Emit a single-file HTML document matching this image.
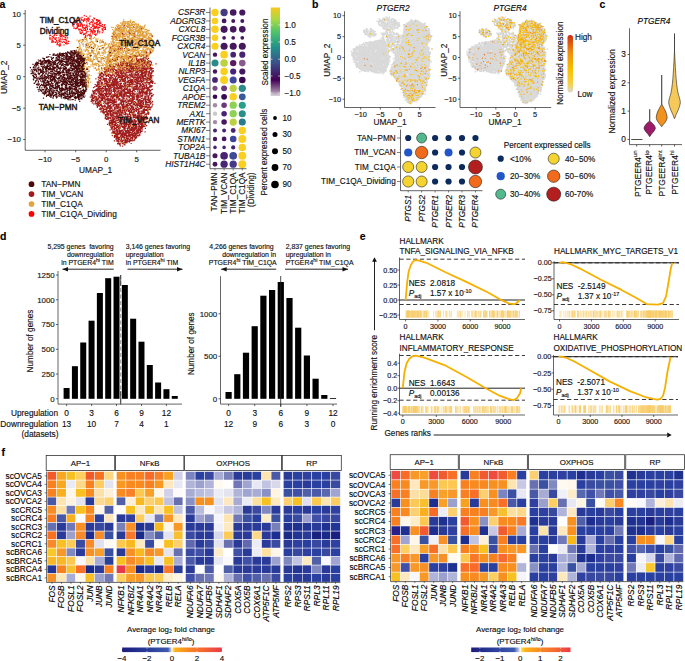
<!DOCTYPE html>
<html><head><meta charset="utf-8"><style>
html,body{margin:0;padding:0;background:#fff;width:685px;height:661px;overflow:hidden}
svg{display:block}
text{font-family:"Liberation Sans", sans-serif;stroke:#111;stroke-width:0.15px}
</style></head><body>
<svg width="685" height="661" viewBox="0 0 685 661" font-family='"Liberation Sans", sans-serif'>
<rect width="685" height="661" fill="#fff"/>
<text x="-0.60" y="7.76" font-size="10.5" font-weight="bold">a</text>
<path transform="scale(.1)" stroke="#e2a23e" stroke-width="12" stroke-linecap="square" fill="none" d="M880 348h0m-36 34h0m1-8h0m18 10h0m2 5h0m35-3h0m2-6h0m0 0h0m2 5h0m1 3h0m6-13h0m6 7h0m20 2h0m8-10h0m16 15h0m19 0h0m47 11h0m-10 9h0m-13-7h0m-5 9h0m-26-1h0m-4-9h0m-1 18h0m-5-4h0m-3-1h0m-2-14h0m-36 16h0m-7-17h0m-4 0h0m-1 17h0m-39-5h0m-2-13h0m-10-1h0m-8 22h0m-1-25h0m-14 9h0m-8-2h0m0 15h0m-1-1h0m-9-15h0m-12 0h0m-7 1h0m-3 13h0m-1-9h0m-10 4h0m-1 10h0m-14-18h0m25 33h0m4 15h0m14-27h0m4 6h0m39 15h0m10-6h0m0 5h0m2-8h0m12-2h0m6 9h0m10-12h0m9-2h0m2 18h0m2 1h0m10-4h0m6-18h0m6-2h0m3 12h0m10 6h0m13 7h0m13-27h0m28 7h0m2 3h0m14-5h0m1-1h0m8-4h0m4 0h0m3 4h0m9 5h0m8 12h0m3 5h0m6-17h0m2 7h0m11 8h0m19 3h0m2-3h0m4-8h0m22 4h0m3 31h0m-11 0h0m-10-3h0m-4 1h0m-2-3h0m-2-5h0m-2 2h0m-4-10h0m-4 18h0m-3 5h0m-28-22h0m-6 0h0m-2 14h0m-10 7h0m-1 3h0m-4-24h0m-13 2h0m-10 8h0m-18 3h0m-6-9h0m-24 1h0m0-3h0m-2 2h0m-5 13h0m-5-19h0m-6 11h0m-12 15h0m-7-1h0m-2-8h0m-12-10h0m-8 17h0m-10 3h0m-2-4h0m-1-22h0m-6 0h0m-3 18h0m-2 4h0m-12-17h0m-1 14h0m-5-22h0m-21 11h0m-30 17h0m-3-17h0m-11 8h0m-4 6h0m-9 3h0m-6-1h0m16 32h0m3-13h0m5-10h0m1 11h0m6-7h0m13 4h0m3 10h0m22-5h0m15 4h0m9-14h0m1 0h0m1 8h0m4 8h0m7-11h0m8 14h0m3-1h0m5-27h0m17 2h0m7 19h0m5 7h0m3-21h0m15-6h0m3 23h0m24-14h0m0 1h0m0 17h0m2 1h0m10-27h0m19 5h0m11 6h0m8-11h0m13 1h0m1 0h0m2-2h0m3 20h0m2 1h0m3 4h0m11-8h0m4-9h0m9-3h0m0-6h0m31 12h0m5-2h0m6 19h0m6-22h0m2 27h0m-5 23h0m-3-10h0m-14-4h0m0-6h0m-1-6h0m0 3h0m-4 20h0m-3-20h0m-1 1h0m-25 8h0m-4 1h0m-4 13h0m-1-23h0m-7-3h0m-8 27h0m-4-5h0m-5-2h0m-4 1h0m-1-10h0m-24 12h0m-2-12h0m-7 4h0m-2 12h0m-1-22h0m-8 18h0m-3-5h0m-22 8h0m-9 0h0m-5-25h0m0 26h0m-2-12h0m-2 4h0m-10-19h0m-2 10h0m-1 6h0m-2-8h0m-5 5h0m-5 10h0m-8-2h0m-1 6h0m-4-2h0m-4-9h0m0 0h0m-3 10h0m-9-18h0m-9 20h0m-15-28h0m-2 2h0m-14 20h0m-16-1h0m-4-15h0m-4-1h0m-1 10h0m-2 5h0m-8 3h0m-1-17h0m-1-7h0m-11 9h0m-1 17h0m-6-10h0m-12-4h0m-7 3h0m-2 13h0m-20-11h0m21 29h0m27-12h0m3 18h0m1-5h0m9-12h0m12 17h0m1-15h0m4 18h0m2-23h0m15 26h0m6-23h0m2 2h0m26 5h0m5 17h0m6-23h0m14 10h0m4 4h0m2-6h0m0 12h0m4-14h0m38 6h0m6 1h0m0 5h0m4 0h0m3-16h0m0 21h0m6-8h0m8-12h0m3-7h0m23-2h0m5 17h0m20-2h0m21 12h0m30 2h0m4-11h0m2-9h0m0 2h0m3 6h0m1 9h0m6-25h0m4 4h0m1 2h0m3 10h0m4-1h0m24 33h0m-18 5h0m-20-4h0m-1-16h0m-3 4h0m-1 20h0m-2-7h0m-5-3h0m-3-9h0m-4 15h0m-7-23h0m-4 3h0m-5 14h0m-1-3h0m-22-8h0m-5 10h0m-4-12h0m-1 16h0m-3-14h0m-2 19h0m-2-3h0m-2-4h0m0-10h0m-15-2h0m-1-1h0m-4-1h0m-15 3h0m-1 14h0m-1-4h0m-9-16h0m-2 19h0m-3-16h0m-1 9h0m-14 11h0m-9-24h0m-1 24h0m-2-7h0m-17 11h0m-9-15h0m-3 7h0m-12-12h0m-3 14h0m-5-21h0m0 27h0m-2-16h0m-4 7h0m-4-17h0m-2 22h0m-1-22h0m-6 24h0m-3-25h0m-7 6h0m-6 11h0m-4-9h0m-18-3h0m0-6h0m-6 8h0m-4 20h0m-6-1h0m0-4h0m-1-10h0m-30 11h0m8 20h0m9-2h0m4 12h0m7-12h0m16-7h0m3 4h0m9-8h0m1 7h0m7 8h0m1-17h0m10 1h0m10 1h0m11 27h0m4-22h0m2-6h0m13 1h0m6 11h0m5 1h0m2 1h0m0-10h0m4-3h0m5 13h0m6 7h0m3-7h0m1-3h0m1-3h0m2-2h0m47-7h0m1 11h0m5 0h0m7 13h0m9-13h0m9 9h0m1 9h0m3-18h0m29 1h0m2-6h0m14 22h0m4-13h0m3-5h0m2 8h0m5-4h0m0 12h0m5-23h0m2 7h0m7 12h0m6 7h0m1-4h0m1 3h0m13-11h0m3 2h0m6 7h0m-20 4h0m-1 26h0m-12 3h0m-11-23h0m-1 16h0m-4-16h0m-10 16h0m-13-5h0m-10 9h0m-2-23h0m-3 22h0m-3-1h0m-1-6h0m-1 9h0m-9-25h0m-5 25h0m-18 0h0m-5-13h0m-10-7h0m-10 19h0m0-19h0m-5 11h0m-1-5h0m-7-11h0m-1 17h0m-5-11h0m-2 12h0m-9-7h0m-7 6h0m-1-17h0m-2 6h0m-16 10h0m-37-4h0m-13-9h0m-8-3h0m-10 24h0m-1 2h0m-1-12h0m-7-8h0m-2 0h0m-1 9h0m-7-7h0m-2 13h0m-6-20h0m-1 9h0m-4 10h0m-18 14h0m13 19h0m1-10h0m1 13h0m0-5h0m9-5h0m18 11h0m0-20h0m1 7h0m9-16h0m0 18h0m5-15h0m16 25h0m3-14h0m5 10h0m4 4h0m7-19h0m4-1h0m10 1h0m2-3h0m30-3h0m10 17h0m13 6h0m1-10h0m29 11h0m2-6h0m29-1h0m2 1h0m14 6h0m4-6h0m13-4h0m7 3h0m0-9h0m18-3h0m10 18h0m-10 4h0m-4 6h0m-2 1h0m-6 1h0m-10 5h0m-3 13h0m-2-25h0m-11 23h0m-13-9h0m-3-8h0m-19 20h0m0-5h0m-2-2h0m-1 3h0m-3-18h0m-1-3h0m-10 7h0m-16 4h0m-1-10h0m-85 1h0m-1 22h0m-21-7h0m-10-12h0m-7 6h0m-2 15h0m-19-16h0m-1-4h0m-6-1h0m-4 15h0m10 9h0m4 9h0m16 11h0m2-5h0m5-16h0m9 14h0m18-13h0m5 20h0m0 7h0m16 1h0m88-18h0m17-8h0m2 3h0m4 18h0m4-12h0m3 10h0m7-16h0m-108 29h0m-21 1h0m-5 21h0m-1-5h0m-3 5h0m-3-9h0m-5 2h0m-21 5h0m-3-11h0m-14 8h0m0 1h0m-8-22h0m-12 46h0m3-3h0m0 15h0m13-9h0m14 6h0m1-6h0m2 3h0m8-9h0m8 2h0m7-13h0m2 26h0m8-2h0m3-5h0m5-16h0m7 3h0m1-4h0m9 36h0m-20 10h0m-2-9h0m-24-3h0m-2-8h0m-11 5h0m-7 14h0m-10-8h0m-2 9h0m-4 2h0m5 10h0m10 2h0m2 10h0m15-6h0m0 13h0m3-17h0m1 8h0m12 1h0m12-3h0m1 18h0m-15 12h0m-11 17h0m-27-15h0"/>
<path transform="scale(.1)" stroke="#ff1010" stroke-width="12" stroke-linecap="square" fill="none" d="M900 162h0m-20 17h0m-17-15h0m-20-8h0m-23 18h0m-20 4h0m-66 8h0m9 11h0m8 10h0m7-2h0m0 2h0m6 2h0m28-13h0m7-5h0m17 1h0m2 4h0m0 4h0m1 6h0m14-4h0m11-8h0m4 9h0m1-18h0m16 13h0m3-9h0m2-1h0m0 12h0m9 1h0m4-14h0m6-6h0m4 16h0m29-2h0m7 12h0m10-25h0m3 8h0m2-7h0m3 0h0m18 23h0m0-11h0m4 10h0m9-8h0m9 8h0m7 0h0m2-1h0m12 27h0m-3 5h0m-5-18h0m-4 10h0m-3 9h0m-3 2h0m-4-24h0m-2-1h0m-5-3h0m-5 11h0m-3 5h0m-2 5h0m-6-6h0m-5 7h0m-13-3h0m-2 7h0m-8-26h0m-9 18h0m-6-13h0m-6 2h0m-5 5h0m-10 8h0m-6 4h0m-9-24h0m-18 8h0m-30-5h0m-18 17h0m-6 2h0m-1 5h0m-10-28h0m-3 16h0m-10 12h0m-9-28h0m-3 10h0m0 17h0m-4-1h0m-1-15h0m-8-3h0m-2-6h0m-8 11h0m-1-12h0m-3 12h0m-3-13h0m-4 1h0m-1 26h0m-11-8h0m-1 1h0m-23-7h0m22 28h0m1 8h0m40-15h0m1 16h0m3-13h0m2 11h0m5-1h0m1 7h0m4 0h0m1-12h0m15 12h0m1-9h0m3 1h0m3-10h0m2-4h0m12 4h0m1 23h0m2-13h0m16-1h0m1-6h0m22 8h0m6-16h0m2 19h0m3 8h0m17-7h0m8-16h0m25 3h0m2 15h0m3-10h0m5-5h0m7 20h0m2-7h0m19 5h0m1-17h0m3 19h0m1-23h0m4 6h0m5-6h0m6 1h0m12 8h0m10 2h0m5 0h0m1 5h0m9 1h0m3-16h0m2 1h0m1 18h0m17-8h0m5-12h0m7 48h0m-1-12h0m-1-10h0m-6 23h0m-5-21h0m-10 5h0m-4 10h0m-5 10h0m-3-9h0m-23-15h0m-6-2h0m-7-1h0m-1 9h0m-4 7h0m-1-9h0m-15 0h0m-7-8h0m-3 14h0m-1-13h0m-7 11h0m-2 0h0m-2-10h0m-7 27h0m-3-13h0m-17-13h0m-4 4h0m-4 20h0m-5-3h0m-3 3h0m-1-7h0m-22 4h0m-1-9h0m-10-11h0m-7 20h0m-1-23h0m-2 21h0m0 4h0m-1-16h0m-10 3h0m-5-9h0m-4 25h0m-4-19h0m-3-1h0m-13 20h0m-9-8h0m-9 8h0m-1-5h0m-5 4h0m-5-7h0m-9-17h0m-3 3h0m-6 8h0m0-5h0m-7 6h0m-4 0h0m-15-2h0m-2-14h0m60 49h0m2 0h0m12-15h0m7 1h0m2 0h0m0 19h0m1-6h0m24-14h0m8 3h0m8 20h0m3-15h0m14 5h0m26 2h0m1-19h0m6 8h0m2-1h0m4 14h0m0-9h0m5 9h0m2-8h0m1-3h0m2 17h0m0-8h0m7-17h0m7 3h0m0 17h0m6-13h0m4 4h0m22-7h0m1 10h0m5 2h0m2 0h0m1-17h0m13 27h0m1-13h0m25 12h0m5-19h0m5 0h0m-57 22h0m-9 10h0m-8 6h0m-1 3h0m-1 5h0m-4-24h0m-7 13h0m-18-5h0m-17 19h0m-8-18h0m-5 13h0m-1 7h0m-5-11h0m-7 1h0m-13 9h0m-13-21h0m-3 19h0m-8-14h0m-6 2h0m-3-9h0m-4 11h0m-19-9h0m-6-6h0m-7 2h0m50 36h0m3 5h0m43 9h0m12-18h0"/>
<path transform="scale(.1)" stroke="#ff1010" stroke-width="12" stroke-linecap="square" fill="none" d="M624 356h0m-5-14h0m-6 9h0m-8-8h0m-2-12h0m-3 23h0m-33 0h0m-17-13h0m-5-4h0m-1 17h0m-6 4h0m-4-26h0m-29 22h0m-7 2h0m0 32h0m1-13h0m0 11h0m22-5h0m2-16h0m10 9h0m8 4h0m11 11h0m7 0h0m1-11h0m1-1h0m26 2h0m16-13h0m1 22h0m4-20h0m0-4h0m5 0h0m12 16h0m8-16h0m10-3h0m8 15h0m5 0h0m4-6h0m16 8h0m12 36h0m-7-1h0m-18-1h0m0-8h0m-4-13h0m-8 5h0m-12-1h0m-1 19h0m-17-17h0m-1-2h0m-10 21h0m-11-9h0m0-11h0m-3 17h0m-10-11h0m-18 16h0m-3-11h0m-8-12h0m-3 0h0m-4 24h0m-1-27h0m-16 21h0m-5-5h0m-7-10h0m0 1h0m0-7h0m-1 17h0m-17-17h0m14 29h0m13 2h0m24 1h0m16 23h0m3-9h0m1-7h0m9-10h0m2 28h0m2 0h0m13-16h0m0 11h0m23-20h0m17 25h0m5-26h0m11 10h0m0-2h0m11-1h0m1-3h0m2 14h0m13-8h0m-78 17h0m-3 4h0m-3 4h0m-4 4h0"/>
<path transform="scale(.1)" stroke="#e2a23e" stroke-width="12" stroke-linecap="square" fill="none" d="M1236 199h0m70 3h0m0 4h0m56 32h0m-4-1h0m-13-14h0m-6-10h0m-1 4h0m-8 7h0m-1-6h0m-2 12h0m-2-12h0m-9 15h0m-7-10h0m-2 0h0m-2-2h0m-2-6h0m0 9h0m-6 15h0m-2-20h0m-8-2h0m-4 14h0m-7-12h0m-1 9h0m-6 9h0m-5-19h0m-1 2h0m-5 0h0m-4 14h0m-3-15h0m0 4h0m-4 10h0m-4-18h0m-4 2h0m-6 15h0m-1-18h0m0 15h0m-4 10h0m-5-3h0m-2-10h0m-17 6h0m-42 27h0m11-9h0m2 15h0m1-16h0m5-1h0m1 15h0m3-9h0m1 4h0m6-3h0m0 13h0m7-15h0m3 1h0m5 10h0m11-9h0m0-14h0m4 5h0m10 5h0m3 18h0m0-6h0m8-12h0m0-2h0m4 1h0m4-3h0m2 0h0m12 9h0m3 8h0m7-17h0m1-3h0m6 9h0m1-2h0m2-11h0m3 29h0m1-20h0m5 20h0m2-19h0m1 11h0m1-19h0m1 10h0m4 3h0m5 0h0m6-13h0m3 12h0m1 2h0m3 0h0m2-2h0m3-7h0m12-4h0m6 7h0m2 4h0m2-8h0m4-5h0m8 25h0m4-23h0m0 0h0m3 6h0m4 12h0m3 4h0m1 3h0m5-25h0m2 5h0m2-7h0m0 13h0m6 13h0m2 0h0m8 2h0m1-7h0m3-3h0m12 6h0m10 3h0m17-9h0m9-7h0m12 43h0m-5-2h0m-8 1h0m-2 5h0m-3-29h0m-8 11h0m0-3h0m-2 2h0m-3 8h0m-2-8h0m-4 9h0m-5-9h0m-5-3h0m-6 11h0m-4 4h0m-2-7h0m-2-13h0m-4 3h0m-1 23h0m-2-24h0m-1 13h0m-1 9h0m-4-23h0m-2 25h0m-6-8h0m-6-17h0m-2-1h0m-3 6h0m-3 12h0m-7-10h0m-1 8h0m0-15h0m-5 25h0m-3-8h0m-3 5h0m-4-18h0m-1-2h0m0-1h0m-11 19h0m-6-14h0m-4 3h0m-1-4h0m-7 20h0m-3-23h0m-1 1h0m-3 1h0m-1 14h0m0 4h0m-1-25h0m0 23h0m-5-19h0m-2 15h0m0 0h0m-3-11h0m0 16h0m-5 5h0m-2-1h0m-5-25h0m-16 16h0m-8 1h0m-2-18h0m-4 17h0m-7-12h0m-1 21h0m0-17h0m-7 3h0m-1-5h0m-5 6h0m-2 8h0m-2-20h0m-7 21h0m-5-22h0m-3 16h0m-2-1h0m-3-17h0m0 11h0m-2 6h0m-1-12h0m-1-5h0m-12 16h0m0 5h0m-1-6h0m0-7h0m0 5h0m-1 3h0m-2 12h0m-2 0h0m-2 1h0m-2-9h0m-3 2h0m-5-1h0m0 0h0m0-15h0m-4 16h0m-2 3h0m0-10h0m-4-1h0m-6 15h0m0-5h0m-4-17h0m-1 19h0m-4-8h0m-18-15h0m-6 22h0m-9-21h0m14 54h0m4-19h0m2 15h0m1-5h0m2 1h0m1-7h0m1 10h0m4 2h0m2-11h0m1 6h0m4-14h0m3 18h0m0 3h0m3-26h0m0 28h0m8-21h0m5-4h0m0-1h0m2 1h0m5 6h0m1 19h0m1 0h0m7-27h0m2 13h0m1-3h0m2-2h0m7-1h0m1 14h0m1-22h0m1 20h0m8-20h0m1 22h0m1-16h0m3 13h0m0-11h0m2-9h0m6 24h0m2-9h0m2-14h0m2 4h0m0 23h0m6-28h0m3 14h0m3-3h0m8 13h0m11-13h0m4-7h0m2 1h0m5 23h0m1-9h0m1-2h0m0 0h0m10-4h0m0-5h0m2 2h0m3-10h0m4 24h0m2-16h0m3 10h0m5-14h0m1 4h0m0 20h0m9-23h0m2 4h0m2 9h0m3-2h0m0-10h0m0 22h0m9-27h0m1 3h0m1-4h0m6 14h0m1-3h0m8 6h0m4 7h0m3-9h0m1 14h0m0 0h0m3-22h0m1 6h0m3-7h0m1 8h0m6 3h0m2-3h0m1-11h0m9 0h0m1 18h0m1-5h0m3 9h0m0-1h0m1-6h0m3-2h0m2-4h0m3 9h0m2-9h0m2 11h0m2-9h0m4 12h0m4-8h0m4-13h0m4 3h0m2 4h0m4-2h0m2 17h0m2-12h0m3 3h0m6 4h0m9-3h0m1 1h0m1 0h0m2-2h0m6 6h0m1 4h0m9-11h0m0 3h0m9-17h0m4 17h0m1-19h0m1 5h0m2 22h0m0-20h0m11-4h0m34 54h0m-10-6h0m-1-9h0m-5-9h0m-1 11h0m-8 8h0m-2 0h0m-2-13h0m-4-5h0m-11 2h0m-7 4h0m-4 6h0m-4 2h0m-3 2h0m-1-17h0m-3 12h0m-14 5h0m-5 0h0m-1-1h0m0 2h0m-7-21h0m-1 21h0m-2-14h0m-4 10h0m-1-12h0m-1 3h0m-2 5h0m0 9h0m-8-11h0m-3 12h0m-2-4h0m-4-20h0m-2 26h0m-1 2h0m-1-18h0m-3 4h0m0-1h0m-3 0h0m-2 4h0m-1 9h0m-7 2h0m-4-25h0m-5-2h0m0 16h0m-2 8h0m-13-2h0m-3 1h0m-4-6h0m-2 1h0m-9-9h0m0 13h0m-1-22h0m-3 1h0m0 8h0m-1 17h0m-2-4h0m-6 2h0m-2-15h0m-1-10h0m-4 9h0m-2 12h0m-2-13h0m-2 16h0m-6-8h0m-6-4h0m-2-7h0m0 14h0m-6-6h0m-2 10h0m0-6h0m-2-13h0m0 5h0m-2-9h0m-2 3h0m0 13h0m-15 3h0m-5 0h0m-4-7h0m-8-8h0m-1-3h0m-4 10h0m-11 13h0m-5 2h0m-2-16h0m-2 10h0m-2-10h0m-2 14h0m-1-24h0m-1 24h0m-2-9h0m0-10h0m-1 9h0m-6-5h0m-4 1h0m-7 11h0m0-20h0m-1-1h0m-4 25h0m-1-9h0m-7 5h0m0-16h0m0 19h0m-2-13h0m-9-4h0m-3 16h0m-1-3h0m-2-10h0m-4 12h0m-2-12h0m-1 18h0m-8-10h0m-4-13h0m-2-1h0m-8 15h0m-5 6h0m-2-18h0m-1 8h0m-4-9h0m-1-6h0m-1 0h0m-3 28h0m-2-18h0m-5-7h0m-5 55h0m0-26h0m5 22h0m1 2h0m2-13h0m0 14h0m0-3h0m1-11h0m0-1h0m0 13h0m5 2h0m1-4h0m3-13h0m3-8h0m0 19h0m1-7h0m3-11h0m4 1h0m5 8h0m4 1h0m2-13h0m0 27h0m7-6h0m1-4h0m3-17h0m2 8h0m5 18h0m5-20h0m5-2h0m1 2h0m1 13h0m5-17h0m1 3h0m1 9h0m2 9h0m0 6h0m5-22h0m4 1h0m6 2h0m3 0h0m7-8h0m2 12h0m0 12h0m2-3h0m3-20h0m2 25h0m1-9h0m4-14h0m4 22h0m2-23h0m6 24h0m2-17h0m3-10h0m3 4h0m5-5h0m12 16h0m2-13h0m1 17h0m0-3h0m2 3h0m3-16h0m6 10h0m4-6h0m2 16h0m0-18h0m16 15h0m4 6h0m2 0h0m4-9h0m3-6h0m1 6h0m1 6h0m5-2h0m4-12h0m4-7h0m0 15h0m1 10h0m1-12h0m11-9h0m2 1h0m4 5h0m7-1h0m10 10h0m4-2h0m1 4h0m0-12h0m3-8h0m0-4h0m8 23h0m6-19h0m3 9h0m1 7h0m12 6h0m7-24h0m7 22h0m4-9h0m3-10h0m1-1h0m2 18h0m6-18h0m1 11h0m4 0h0m2-6h0m2 0h0m3-9h0m3 19h0m9-18h0m3 20h0m2 4h0m11-25h0m1 25h0m0-1h0m3-14h0m1 15h0m0-19h0m0 8h0m6 5h0m3-7h0m2 5h0m4-4h0m2 9h0m2 7h0m2-1h0m6-3h0m7-13h0m1-8h0m6 34h0m-4 17h0m-5-15h0m-4-10h0m-4 2h0m-7 13h0m0 1h0m-3-10h0m0 12h0m-3-16h0m0 5h0m-1 0h0m-4 7h0m-2-6h0m-3-6h0m-5 10h0m-1-12h0m-14 21h0m0-11h0m-1 8h0m-6-6h0m-2 3h0m-1-3h0m-3 3h0m-4 2h0m-1-12h0m-6 19h0m0-14h0m-1 14h0m-9-17h0m-2 22h0m-9-6h0m-1-16h0m-4 2h0m-2 14h0m-4-22h0m-3 21h0m-8-22h0m-2 6h0m-4 8h0m0 3h0m-5-12h0m-13 4h0m-7-9h0m-1 19h0m-3-14h0m-4 10h0m-6 3h0m0-13h0m-2-5h0m-1 15h0m-2-15h0m-4 0h0m-1 7h0m-2 14h0m0-14h0m-1 14h0m-4 5h0m-1-8h0m-3 4h0m-8-19h0m-1 14h0m-8-14h0m0 15h0m-2 6h0m-3-11h0m-1-12h0m0 18h0m0-15h0m-5 24h0m0-15h0m0 15h0m-1-17h0m0-6h0m-1 13h0m-1-16h0m-5 8h0m-2 6h0m-2-14h0m-2 4h0m-3 14h0m-7-2h0m-3-7h0m-2 12h0m-1 5h0m-5-15h0m-5 0h0m-1-8h0m-4-4h0m-6 7h0m-6 10h0m-11 2h0m0-12h0m-1 2h0m-3 17h0m-10-27h0m0 22h0m-10-7h0m-1-2h0m-11 3h0m-16 1h0m-3-4h0m-11-2h0m-1 3h0m-1-13h0m-8 2h0m-2 15h0m-3-2h0m-14-11h0m-9 15h0m-3-2h0m-2-9h0m-1 7h0m-2 13h0m-3 0h0m-14 1h0m2 22h0m2-9h0m6 12h0m2 0h0m8-1h0m5-12h0m1 2h0m0-10h0m6-2h0m2 1h0m5 20h0m1-5h0m1-13h0m16 4h0m3 10h0m11-11h0m1-1h0m5 22h0m3-17h0m1-6h0m4-5h0m6 22h0m0-7h0m1-5h0m1 10h0m4-20h0m3 11h0m1 12h0m2-23h0m3 15h0m1-10h0m8 3h0m1 16h0m0-19h0m2-4h0m5 3h0m2-5h0m1 12h0m1 14h0m0-26h0m2 15h0m1-11h0m9 5h0m5 8h0m4 4h0m2-5h0m1 8h0m2-16h0m3 0h0m1 11h0m4-17h0m1 17h0m4-1h0m17 4h0m5-14h0m1-7h0m0 9h0m6 2h0m2 8h0m0 3h0m2-1h0m2-6h0m6-9h0m3-6h0m3 28h0m3-22h0m2 12h0m0-9h0m6-8h0m6 25h0m2-3h0m2-1h0m6-12h0m8-4h0m0 10h0m7-9h0m1 15h0m1 3h0m1-17h0m3-9h0m2 17h0m0 3h0m1-3h0m1 5h0m1-19h0m2-1h0m3 19h0m4 4h0m2 2h0m4-1h0m6-7h0m1 1h0m1 4h0m5-20h0m2 24h0m1-11h0m7 4h0m0 5h0m3-17h0m1 20h0m5-22h0m11-2h0m3 23h0m3-25h0m3 6h0m1 9h0m2 4h0m8 6h0m3-17h0m3 15h0m3-24h0m1 27h0m2-16h0m5 12h0m2-8h0m8 11h0m2-24h0m1 4h0m10-5h0m5 24h0m6 1h0m1-24h0m1 21h0m4-5h0m1-11h0m9 1h0m10 7h0m1-11h0m10 20h0m15-8h0m-10 17h0m-13 1h0m-3 3h0m-3 9h0m-6-17h0m-12 3h0m-6 10h0m-4-5h0m-11 19h0m-1 0h0m-4 1h0m-11-26h0m-3 12h0m-5 7h0m-2-15h0m-1 6h0m-6 14h0m-5-20h0m-1 0h0m-2 18h0m0-2h0m-1-18h0m-6 24h0m-2-19h0m-2 11h0m-5-12h0m0 15h0m-16-21h0m-2 7h0m-1-8h0m-1 13h0m-2 8h0m-1-22h0m-3 13h0m-6-6h0m-4 17h0m-2-14h0m-5 8h0m0 10h0m-5-18h0m-6 15h0m-1-19h0m-19 8h0m-7 7h0m-2-10h0m-4-10h0m-3 14h0m0-5h0m-2-5h0m-2 13h0m-1-8h0m0 5h0m-6 11h0m-8-26h0m-3 14h0m-1-9h0m-6 19h0m-1-4h0m-2-1h0m-6-9h0m-9-10h0m-16 1h0m-1 11h0m-1 5h0m-3-12h0m-9 8h0m-2-9h0m-2 0h0m0-1h0m-1 16h0m-1 8h0m-2-5h0m-3-16h0m-1-7h0m-3 11h0m-2-4h0m0 1h0m-2-8h0m-9 11h0m-4-8h0m-3 7h0m-3 16h0m0-16h0m-4-2h0m-8-8h0m-1 18h0m-5 5h0m-4-14h0m0 0h0m-4 17h0m-8-3h0m-2 1h0m-1-8h0m0 3h0m-7-12h0m-3 8h0m-3 6h0m-2-9h0m0 5h0m-6 1h0m-3-16h0m-1 15h0m-6-15h0m-2 4h0m-6 13h0m-6-13h0m-2 23h0m-1-1h0m-1-27h0m0 28h0m-2-26h0m-5 3h0m0-4h0m-4 5h0m-4 4h0m-7 11h0m-11-12h0m-3 2h0m-4 13h0m-6 28h0m0-18h0m8-2h0m2 8h0m5 0h0m0 3h0m2-7h0m1 10h0m2 7h0m7-5h0m3-15h0m3 15h0m5-1h0m4 10h0m1-21h0m1 1h0m1-4h0m2 12h0m1 2h0m2-12h0m2 22h0m3-23h0m3 4h0m2 17h0m0-12h0m3 12h0m4-21h0m1 22h0m3-6h0m1-8h0m0 5h0m3 0h0m9-4h0m1-4h0m3 7h0m1-7h0m2-8h0m1 22h0m0-2h0m4-11h0m1 1h0m12 15h0m6-5h0m3-4h0m2-17h0m5 17h0m0-18h0m2 9h0m0 12h0m1-3h0m1 3h0m21 1h0m0-3h0m2 8h0m17-21h0m5 10h0m2 5h0m1-11h0m2-3h0m1 11h0m5 11h0m4-24h0m3 21h0m0-16h0m0-4h0m5 11h0m5-2h0m2 0h0m7 3h0m5 5h0m7-1h0m2-16h0m2 5h0m6 6h0m4 12h0m3-15h0m1-11h0m3 23h0m7-11h0m1 9h0m1-10h0m4 15h0m3-14h0m1-1h0m0-13h0m1 26h0m3-13h0m8 13h0m6-25h0m2 12h0m0-2h0m6 13h0m0 3h0m2-18h0m1-6h0m3-1h0m7 4h0m11 18h0m15 2h0m2-4h0m8-22h0m2 16h0m7 9h0m1 1h0m4-3h0m1 4h0m7-5h0m5-4h0m10-8h0m3-6h0m0 3h0m4 11h0m2-10h0m2-5h0m2 3h0m3 2h0m7-3h0m3 14h0m2 6h0m1 1h0m0 1h0m5-15h0m2 10h0m3 3h0m1-18h0m5-5h0m0 8h0m8 7h0m7 9h0m8-6h0m3-17h0m-10 34h0m-15 5h0m0 5h0m-8-15h0m-2 19h0m0-8h0m-1-9h0m-2 21h0m-4 0h0m-6 3h0m-11-7h0m-1-7h0m-12-12h0m-2 11h0m0 9h0m-4-14h0m-1-6h0m-3 11h0m-1 12h0m-3-10h0m-8-7h0m-2-4h0m-1 9h0m-1 6h0m-11-4h0m-1-14h0m-13 5h0m-3 9h0m-9 12h0m-11-5h0m0 1h0m-1-20h0m0 12h0m-5 7h0m-2-20h0m-2-3h0m-1 4h0m-1 8h0m-6-2h0m-2 6h0m-7-1h0m-1 1h0m-6 11h0m-4-7h0m-14-10h0m-8 4h0m-1-6h0m0 21h0m-2-17h0m-1-10h0m-5 22h0m-10 1h0m-2-24h0m-11 11h0m-2-1h0m-11 8h0m-1 5h0m-12-5h0m-1-11h0m0-4h0m-8-3h0m0 26h0m-7-27h0m0 15h0m0 7h0m-2-11h0m-4-1h0m-18 3h0m-1-13h0m-2 5h0m-9 22h0m-1-26h0m-4 17h0m-1 0h0m-2-1h0m-2 2h0m-2-3h0m-1-1h0m-11-5h0m0-1h0m-3-1h0m0-2h0m-6 5h0m-1 16h0m-1-14h0m0-11h0m-8 14h0m0-9h0m-2-7h0m-4 9h0m-1 2h0m-6 9h0m-2 1h0m-7 7h0m-4-21h0m-2 0h0m-1-7h0m-9 5h0m-1 13h0m0-15h0m-2-1h0m-6 8h0m-3 15h0m-5-13h0m0 15h0m-2-6h0m-2-11h0m-2 15h0m-3-25h0m-2 23h0m0 2h0m-3-18h0m-1-4h0m-3 13h0m-11 10h0m-3-16h0m-1-2h0m-53 7h0m40 23h0m0 19h0m7-9h0m5 5h0m2-16h0m2 21h0m9-1h0m0-13h0m2-3h0m3 3h0m5 2h0m2-7h0m1 6h0m17 1h0m2 4h0m8 1h0m3 6h0m1-15h0m2-11h0m0 3h0m1-3h0m2 18h0m3-2h0m3-4h0m3-3h0m0 10h0m0-18h0m2 11h0m1 12h0m11-9h0m2-16h0m3 28h0m0-28h0m1 18h0m0-5h0m1-8h0m4 23h0m2-3h0m9-16h0m1-8h0m2-1h0m11 17h0m10 9h0m2-18h0m6 15h0m9 2h0m2-18h0m4 20h0m4-12h0m3 13h0m1-3h0m0-7h0m0 4h0m5-3h0m1-15h0m3 25h0m2-13h0m1 8h0m4-15h0m1 14h0m2 3h0m1 0h0m5-8h0m3-3h0m5 6h0m2 6h0m0-3h0m11 1h0m0-15h0m3 15h0m0-24h0m9 4h0m1 20h0m5 3h0m3-16h0m2-8h0m3 22h0m3-1h0m2-9h0m1-11h0m0-1h0m4 23h0m3-10h0m0 12h0m10-10h0m2-14h0m3 16h0m6-5h0m6 6h0m1-22h0m6 13h0m6 7h0m5-12h0m9 12h0m3-3h0m9 6h0m1-9h0m5 2h0m2-16h0m4 6h0m0 0h0m1 3h0m4-5h0m3 5h0m5-1h0m4 9h0m3 3h0m5-16h0m2 1h0m1 24h0m1-20h0m17-5h0m0 25h0m3-3h0m3-21h0m2 19h0m2 4h0m0-20h0m2 15h0m9 3h0m0 1h0m0-11h0m2-7h0m10-8h0m1 8h0m1-8h0m-42 35h0m-18-4h0m-3-1h0m-3 1h0m-17 15h0m-6-17h0m-23 24h0m-1 2h0m-1-6h0m-3 2h0m-11 2h0m-4-2h0m-1-18h0m-1 7h0m-7-11h0m-1 10h0m-3 0h0m-1-7h0m-3 19h0m-4 6h0m-6-27h0m-5 7h0m-3 16h0m-1-20h0m-1 23h0m-1-9h0m0-8h0m0 17h0m-6-18h0m-14 1h0m-3-6h0m-4 16h0m0-12h0m-5 0h0m-1-8h0m-8 27h0m-1-8h0m-8 6h0m-1-20h0m-3 20h0m-1-19h0m-3 21h0m-1-16h0m-1 14h0m-1-10h0m-1-6h0m-3-5h0m-4 12h0m-12-4h0m-4-6h0m-3 21h0m-7-15h0m0 9h0m-2 0h0m-6 0h0m-3 0h0m-1 3h0m-1-11h0m-2-10h0m-7 0h0m-4 10h0m0 3h0m-1-15h0m-2 11h0m0-1h0m-1 13h0m-8-23h0m-4 4h0m-5-1h0m-2 25h0m-4-26h0m-1 9h0m-3-2h0m-4 0h0m-1-9h0m-4 19h0m-6 3h0m-1-17h0m0 0h0m-1 11h0m-7-10h0m-3 22h0m-1-11h0m-2 2h0m-12-1h0m-1-15h0m-1 12h0m-1 11h0m0-14h0m-7 0h0m-13 15h0m-6-3h0m-4-4h0m-4-2h0m-5-18h0m-3 26h0m-1-9h0m-5-11h0m-3 10h0m-3-13h0m0 10h0m-6 27h0m6 2h0m0-4h0m5 10h0m4-13h0m2 20h0m2-16h0m2 11h0m2-20h0m1 21h0m2-13h0m2 5h0m2-6h0m3 0h0m0 7h0m4 4h0m2 9h0m3-8h0m1-7h0m1 2h0m2-1h0m5-11h0m5 13h0m11-7h0m5-6h0m2 5h0m4 1h0m5-2h0m0 8h0m0-7h0m7 5h0m3-13h0m2 13h0m1-10h0m3 16h0m2 2h0m11 4h0m2-1h0m15-9h0m2 1h0m2-8h0m7 15h0m3-13h0m0-1h0m1 1h0m4 8h0m1-7h0m5 18h0m4-12h0m1 8h0m3-5h0m11-19h0m3 14h0m12 5h0m8-11h0m17 15h0m1-20h0m0 13h0m5-1h0m3-4h0m8-7h0m3 9h0m4 12h0m1-8h0m2 6h0m2-18h0m6 0h0m6 16h0m8-22h0m9 2h0m0-1h0m4 10h0m4-10h0m27 3h0m5 7h0m67 8h0m-158 11h0m-22 14h0m-2 7h0m0-6h0m-3-11h0m-3 8h0m-3-12h0m-1 18h0m-1 4h0m-10-14h0m-5 2h0m-11-4h0m0-5h0m-1 23h0m-2-20h0m-2 11h0m-4 11h0m-11-17h0m-1 18h0m-7-3h0m-5 0h0m-9 1h0m-4 4h0m-3-24h0m-4 18h0m-2-2h0m-2-10h0m-2 6h0m-5 9h0m-1-3h0m-4-11h0m-2-10h0m0 27h0m-1-23h0m-1 21h0m-1-27h0m-4 6h0m-2 4h0m-4-2h0m-1 2h0m-5-2h0m-1-5h0m-1 2h0m-1 20h0m-2-21h0m0 25h0m-3-10h0m-10-4h0m-4-7h0m-6 4h0m-2 0h0m0-11h0m-1 14h0m-6 8h0m0 6h0m-13-23h0m-4 0h0m-1-3h0m-7 19h0m-8-10h0m34 30h0m2 13h0m3-15h0m5 3h0m6 2h0m0-13h0m1-2h0m3 18h0m3-12h0m6-5h0m0 9h0m5 2h0m1 5h0m28-4h0m2 4h0m12-15h0m10 9h0m1-5h0m7-2h0m19 4h0m-100 22h0"/>
<path transform="scale(.1)" stroke="#4b0a0c" stroke-width="12" stroke-linecap="square" fill="none" d="M740 506h0m4 1h0m17-4h0m38 26h0m-9 1h0m-10 6h0m0-17h0m-17 2h0m-1 3h0m0-6h0m-1 21h0m-7-8h0m-1-12h0m-7-4h0m0 21h0m-2-19h0m-1 4h0m-7 17h0m0-9h0m-7 10h0m-3-13h0m-2-16h0m-4 20h0m-1-20h0m-2 11h0m-7 2h0m-3-11h0m-5 18h0m0 3h0m-3-3h0m-5 4h0m-5-10h0m-2 6h0m-9-4h0m-2-7h0m-9 14h0m-5-1h0m-7-4h0m-10 9h0m-11 1h0m-1-4h0m-1 3h0m-3 0h0m-12-1h0m-16 1h0m0-6h0m-3 1h0m-4 5h0m-105 30h0m10-22h0m32 9h0m2-13h0m2 8h0m2-5h0m1 2h0m5-6h0m8 14h0m5-1h0m5-5h0m8 6h0m6-12h0m2 24h0m1-24h0m5 11h0m2 12h0m3 0h0m6-13h0m1-10h0m1 25h0m2-22h0m3 10h0m5-11h0m0 11h0m2-12h0m3 8h0m8-1h0m3 12h0m1-5h0m2-16h0m1 12h0m4 8h0m4-12h0m8 11h0m3-5h0m14-14h0m0 25h0m1-5h0m2-5h0m2-2h0m3-7h0m1 20h0m0-25h0m3 15h0m1-7h0m2-6h0m1 17h0m5-3h0m5 11h0m10-4h0m4 1h0m1-24h0m1 26h0m4-22h0m2 20h0m2-12h0m3-13h0m5 13h0m3 13h0m2-1h0m5-15h0m2-10h0m8-1h0m0 19h0m6-14h0m0 4h0m3 18h0m15-18h0m2 14h0m1-13h0m2 9h0m8 10h0m1-22h0m2 2h0m3 11h0m2-18h0m4 8h0m5 13h0m4-9h0m5 6h0m1 7h0m4-13h0m10 7h0m3 3h0m16-10h0m15 32h0m-12-2h0m-2 9h0m-1-9h0m-4 1h0m-4 11h0m-4-3h0m-2-16h0m-1 7h0m-2-4h0m-1 13h0m-2-13h0m-4-5h0m-1 15h0m0-19h0m0 27h0m-4-13h0m-4-7h0m-5 13h0m-3-4h0m-6 10h0m0-21h0m-1 8h0m-12 2h0m-2-12h0m-2 14h0m-15 10h0m-13-14h0m0-7h0m-1 0h0m-1 11h0m0-10h0m-5 10h0m-4 11h0m-2-21h0m0 21h0m-2-1h0m0-19h0m-4 20h0m-5-27h0m0 16h0m-4 8h0m-1-23h0m-2 1h0m-2 15h0m-2-7h0m0-6h0m-8 8h0m0-13h0m-4 11h0m-3 8h0m-1 7h0m-1-7h0m-2-11h0m-4 11h0m-2-20h0m-6 24h0m0 2h0m0-6h0m-1 8h0m-3-12h0m-1-16h0m0 0h0m0 25h0m-3-11h0m-1-13h0m-1 23h0m-1-7h0m0 7h0m-5-6h0m-1-11h0m-9 15h0m0-21h0m-10 23h0m-4-15h0m-2 16h0m-9-8h0m-5 2h0m-2-2h0m-2-17h0m-15 8h0m-9 11h0m-1-16h0m-2-3h0m-2 1h0m0 1h0m-2 19h0m-13-3h0m-1-8h0m-5 1h0m-1-4h0m-1-3h0m-4 8h0m-26-3h0m0-2h0m-10 8h0m-5-5h0m-3 14h0m0-14h0m-6-9h0m-27 27h0m-6-26h0m-12 3h0m0-5h0m0 2h0m-19 13h0m-3 7h0m0 6h0m-9-13h0m-5-3h0m-61 39h0m8 5h0m4 1h0m4-27h0m2 20h0m9-12h0m9-6h0m4 9h0m0 11h0m1-7h0m2-3h0m1 1h0m8 15h0m3-7h0m0 2h0m3-11h0m2 8h0m7-1h0m3-19h0m3 4h0m5 25h0m2 0h0m0-11h0m1-13h0m5 1h0m0 6h0m0 4h0m4-9h0m4 7h0m1 15h0m2-17h0m0 14h0m6-10h0m1-11h0m3-2h0m1 10h0m3-10h0m4 22h0m1-7h0m0-8h0m0 12h0m3-4h0m2 10h0m2-1h0m1-27h0m4 7h0m0 5h0m3 4h0m0 13h0m2-1h0m6-14h0m4 3h0m10 10h0m3-6h0m2-18h0m1 25h0m5-8h0m1-1h0m10-2h0m7 6h0m0-8h0m2 13h0m0 1h0m0-22h0m3 20h0m0-1h0m2-24h0m4 8h0m2 0h0m4-9h0m4 6h0m9-6h0m5 22h0m7-21h0m1 8h0m2 6h0m3-9h0m4 11h0m3-16h0m6 16h0m2-18h0m0 10h0m2-5h0m1 22h0m3-3h0m1-13h0m8-6h0m3 8h0m11 2h0m9-5h0m1 11h0m0 4h0m2-5h0m9 9h0m2-21h0m2 14h0m3-4h0m1 10h0m0-2h0m4-9h0m6-16h0m1 12h0m0 5h0m5-14h0m0 7h0m13 11h0m2-22h0m1 4h0m2 19h0m1 4h0m1-21h0m11 9h0m4-3h0m1-8h0m0 14h0m8 10h0m1-20h0m3 3h0m1-5h0m2 5h0m1-1h0m2 19h0m2-28h0m7 9h0m1 6h0m1-7h0m3 1h0m1-10h0m4 10h0m0-6h0m2 19h0m2-23h0m0 13h0m3 6h0m2-3h0m2 7h0m1-12h0m1-11h0m2 1h0m0 9h0m3 2h0m3 15h0m5-5h0m3 2h0m0-14h0m2 19h0m5-11h0m0 4h0m6-9h0m4-9h0m1 4h0m1-8h0m5 4h0m2 20h0m3-21h0m3 19h0m1-7h0m7-3h0m1 1h0m2-2h0m4-11h0m3 3h0m2 18h0m2 5h0m2-24h0m6 35h0m-2-3h0m-13 5h0m-3-9h0m0 18h0m-1 9h0m-7-14h0m-4 10h0m-11-19h0m-6 20h0m-4 5h0m-1-20h0m-2 18h0m-3-25h0m-1 11h0m0 2h0m-4-2h0m0 12h0m-3 3h0m-2-5h0m-2 2h0m-1-3h0m0-12h0m-2-6h0m0 12h0m-1-15h0m0 22h0m-3 0h0m-2 0h0m-6 5h0m0-28h0m-2 28h0m-6 0h0m-3-5h0m0-7h0m-3-6h0m0 2h0m-7-9h0m-5 20h0m-3 4h0m-2 2h0m-3-23h0m-2 7h0m-4 9h0m0-19h0m-1 23h0m-4 0h0m-1-2h0m-1-12h0m-4 13h0m-1-25h0m-4 7h0m-4 17h0m-7-15h0m-4 0h0m-4-5h0m-2 8h0m0-12h0m-7 19h0m-3-1h0m-1 5h0m-2-11h0m-1 8h0m-1-4h0m-2 10h0m-3-11h0m-2-1h0m-2-13h0m-6 21h0m-2-7h0m-3-1h0m-9 1h0m-11 7h0m-3-18h0m-4 5h0m-1 16h0m-2-11h0m-6-1h0m-5 15h0m0-7h0m-9-12h0m-2 0h0m-2-7h0m-4 12h0m-16 14h0m-1-26h0m0 27h0m-1-21h0m-3 16h0m-4 3h0m0-4h0m-1-16h0m0 20h0m-4-6h0m-12-5h0m-1-1h0m-2-7h0m-4 8h0m-2-4h0m-1-12h0m-5 15h0m-1-15h0m-6 29h0m0-18h0m-2 14h0m-13-10h0m0 2h0m-8-13h0m-1 16h0m0-12h0m-1 18h0m-1-20h0m-8 15h0m-2 8h0m-4-22h0m-7 1h0m-4-5h0m-3 9h0m-1 14h0m-8-6h0m-14-18h0m-14 25h0m-3-12h0m-1-8h0m-15 2h0m-1 11h0m0-20h0m-9 14h0m-1-10h0m-6 6h0m-1 4h0m0 2h0m-4-11h0m-15 0h0m-5 16h0m-7-12h0m0 9h0m-6-18h0m-2 9h0m-1 13h0m-6-2h0m-2-7h0m0-13h0m0 3h0m-3 9h0m-9 11h0m-15-10h0m-26 33h0m29-1h0m6-9h0m2 8h0m7 14h0m2 0h0m7-17h0m4-10h0m12 20h0m14-4h0m1-5h0m25-9h0m11 18h0m3-1h0m1-12h0m0-2h0m2-1h0m7 7h0m7 5h0m5-5h0m2-1h0m2 10h0m1 5h0m5-21h0m1 23h0m4-18h0m0 11h0m1-16h0m1 19h0m2-1h0m3-22h0m3 11h0m1 9h0m4-18h0m1 20h0m4 6h0m5-26h0m4 21h0m6-9h0m6 4h0m6-18h0m4 28h0m11-24h0m2 12h0m3 11h0m7-14h0m1 4h0m7-7h0m5 8h0m2-6h0m5 8h0m8-17h0m5 9h0m5-12h0m8 24h0m0-12h0m10 10h0m4-1h0m1 5h0m3-7h0m1-8h0m7 12h0m4-4h0m15-1h0m2 3h0m5 4h0m2-16h0m5-3h0m1-2h0m4 19h0m2-17h0m0-5h0m5 15h0m2 2h0m4 4h0m0-9h0m5 10h0m35-3h0m3-3h0m4 4h0m1-12h0m1 0h0m2 10h0m0-13h0m1-2h0m10 21h0m7-16h0m2 16h0m0 3h0m6-25h0m2 2h0m3-1h0m0 6h0m4 11h0m2-7h0m2-10h0m4 19h0m2-13h0m3 9h0m2 7h0m0-5h0m0-11h0m6-1h0m3 6h0m3 10h0m1-26h0m6 3h0m1 18h0m6-8h0m0-6h0m3 3h0m1 13h0m9 3h0m9-15h0m4-5h0m3-1h0m1 4h0m0 19h0m2-5h0m1 1h0m1-2h0m0-21h0m5 2h0m3 3h0m0 23h0m12-2h0m32 4h0m-7 3h0m-22 25h0m-10-4h0m-1 1h0m0-24h0m-1 1h0m-4 26h0m0-18h0m-6 15h0m-1-17h0m-3 8h0m0 2h0m-1 10h0m0-8h0m-2 0h0m-11 8h0m-1-2h0m0-10h0m-2-1h0m-3-9h0m-4 11h0m-2 0h0m-3-18h0m-4 1h0m-4 23h0m-2-20h0m-3 2h0m-1 9h0m-4-3h0m-2 16h0m-3-12h0m0-8h0m-5 12h0m-9-2h0m-2 9h0m0 2h0m-1-4h0m-1-14h0m-1 18h0m-5 0h0m0-26h0m-2 26h0m-7-27h0m-4 9h0m-3 5h0m-3-4h0m-5-12h0m0 0h0m-2 18h0m-5-2h0m-9-6h0m-5 9h0m-3-4h0m-1-11h0m-2 11h0m-1 6h0m-1 3h0m-2-2h0m-2-21h0m0 12h0m-3 6h0m-2-1h0m-9 11h0m0-22h0m-3 2h0m-1 5h0m-5 2h0m-3 12h0m-6-26h0m0-2h0m-2 10h0m-2-6h0m-4 2h0m-13 3h0m0 12h0m-3 5h0m-3-12h0m-5 15h0m-20-25h0m-1 11h0m-1-14h0m-1 0h0m-5 25h0m-9 0h0m-9-24h0m-1-1h0m-4 20h0m-3-18h0m-1 11h0m-9 13h0m-9-11h0m-4 2h0m-2-16h0m-4 18h0m-2-20h0m-2 4h0m-5 1h0m-1 3h0m-5 19h0m-1-19h0m-3 15h0m0-22h0m0 20h0m-10 8h0m-2-24h0m-1 17h0m0 0h0m-3-18h0m-1-4h0m0 20h0m-7-17h0m-6 3h0m-9 23h0m-1-18h0m-13 9h0m-4-18h0m0 23h0m-1-12h0m-2 9h0m-3-2h0m-2-15h0m-14 23h0m-5-4h0m-2-20h0m-3-3h0m-2 10h0m-4 17h0m-1-18h0m-4 11h0m-3-11h0m-8 14h0m-4-10h0m-1-12h0m-2 17h0m-2-7h0m-9-9h0m-5 5h0m-4-6h0m-1 20h0m0-16h0m-15 21h0m-1-13h0m-2 5h0m-2-16h0m-7 5h0m0-5h0m-9 12h0m-2-3h0m-1-4h0m-8-6h0m-9 16h0m-7-13h0m-7 15h0m0 27h0m9-5h0m7-4h0m2-7h0m3 14h0m7-15h0m9 27h0m2-13h0m0 5h0m12 6h0m20-17h0m1 6h0m3 5h0m5-1h0m1 8h0m0-1h0m4-12h0m10-7h0m1-5h0m3-1h0m6 4h0m8 21h0m1 0h0m2-12h0m5-1h0m3 2h0m7-10h0m13 16h0m5-12h0m0-5h0m2 15h0m16 11h0m3-10h0m10-7h0m1-6h0m15 7h0m10 6h0m10 5h0m2 0h0m2-10h0m0 5h0m3-10h0m3 0h0m1 0h0m7 1h0m1 10h0m3 8h0m9-13h0m1 3h0m2 1h0m1 9h0m7-10h0m1-18h0m5 7h0m3-6h0m3 13h0m0-3h0m0 0h0m0-2h0m0-2h0m1 3h0m3-3h0m4 9h0m1-14h0m1 26h0m4-21h0m0-4h0m3 14h0m8-15h0m1 11h0m3-9h0m6-4h0m9 6h0m4 18h0m0-19h0m8-4h0m1 25h0m5-18h0m6 17h0m11-17h0m1-8h0m6 23h0m3-15h0m5-5h0m2 23h0m1-17h0m2 3h0m9-10h0m1 3h0m1 15h0m0-3h0m2 0h0m3-4h0m6 13h0m3-10h0m2 0h0m1-10h0m1 2h0m16 3h0m8 16h0m0 1h0m2-15h0m0 15h0m14-20h0m4 19h0m2-8h0m6 9h0m2-12h0m2-12h0m8 18h0m0-21h0m7 26h0m0 1h0m2-20h0m4 5h0m0 16h0m0-29h0m11 2h0m12 18h0m2-6h0m5 0h0m5 2h0m1 9h0m3-4h0m8 8h0m9-17h0m7 17h0m3-19h0m5 15h0m1-13h0m1 4h0m9 25h0m-13-2h0m-3 0h0m0 4h0m-5-4h0m0 14h0m-9-20h0m-3 8h0m-3 9h0m-1 5h0m-1-2h0m-2-19h0m0 16h0m-2-1h0m-1-13h0m-2 22h0m-8-9h0m-2-1h0m-4 8h0m0-24h0m-1 18h0m0-5h0m0-13h0m-2 27h0m-5-29h0m-2 16h0m-5-15h0m-6 8h0m-2-3h0m-8 23h0m0-26h0m-4 10h0m-4 15h0m-2-18h0m0 9h0m-6-16h0m-1 20h0m0-15h0m-2 18h0m-2-2h0m-4-24h0m-3 29h0m-2-14h0m-3-9h0m-2 21h0m-1-3h0m-8-15h0m-10 16h0m-4-24h0m-1 7h0m-1 16h0m-2 2h0m-7-19h0m-1 5h0m-1 15h0m-5-26h0m-1 7h0m0 9h0m-6-6h0m-3 11h0m-3-9h0m0 10h0m-7-19h0m-7 12h0m-2 13h0m-1-29h0m-1 2h0m-7-1h0m-1-1h0m-14 24h0m-4-20h0m-5 19h0m-2-1h0m-1-22h0m-2 7h0m-4 7h0m-3 6h0m-2 1h0m-4 5h0m-6-20h0m-5 13h0m-2-1h0m-3-7h0m-1-2h0m-4-9h0m-3 28h0m-3-2h0m-1-4h0m-6 3h0m-3-24h0m-16 1h0m-5 19h0m-4-1h0m0 1h0m-3 0h0m-6-12h0m-1 4h0m-1 13h0m-3-4h0m-4 6h0m-1-16h0m-5 7h0m-4 9h0m-2-13h0m-5-6h0m-3-3h0m-3 8h0m-1 10h0m-9-23h0m-1 17h0m-2 2h0m0-6h0m-6-7h0m-2-2h0m-6 0h0m-2 16h0m-5-7h0m-6-12h0m-1 6h0m-1-3h0m-2 18h0m-5 6h0m-4-7h0m-1-1h0m-3-4h0m-1-2h0m-2 8h0m-4-9h0m-2 6h0m-4-12h0m-5 19h0m-1-25h0m-3 9h0m-11 14h0m-7-21h0m0 13h0m-9-14h0m-2 22h0m-5-12h0m-14 7h0m-13 9h0m-13-16h0m-5 15h0m-1-26h0m-1 21h0m-10 5h0m-3-8h0m-3-2h0m-5 11h0m-3-27h0m-1 11h0m-6-10h0m6 41h0m2 4h0m23 8h0m1 2h0m9-22h0m1 15h0m1-5h0m17-8h0m10 7h0m0-9h0m2-2h0m6 25h0m1-23h0m2-1h0m6-2h0m7 13h0m2-11h0m4 23h0m5-23h0m2-1h0m6 10h0m0-10h0m1 15h0m1-8h0m9 14h0m3-2h0m1-11h0m4-11h0m7 5h0m5 23h0m1-3h0m12-26h0m2 10h0m14-8h0m1 19h0m3-3h0m2-11h0m3 10h0m1 8h0m5-6h0m0 10h0m0-14h0m3 13h0m5-15h0m4-7h0m1 14h0m3-1h0m5-9h0m7 4h0m2-5h0m3 17h0m4-13h0m8 14h0m8-22h0m7 3h0m0-3h0m6 1h0m1 23h0m2-21h0m1 21h0m1-17h0m2-6h0m4 0h0m2-5h0m5 23h0m4 0h0m7-13h0m1 18h0m7-17h0m2-8h0m2-1h0m0 7h0m1 2h0m9 14h0m2-3h0m1-6h0m0-17h0m6 22h0m3-18h0m2-4h0m0 11h0m10 10h0m3-18h0m2 8h0m3 1h0m0 6h0m7 7h0m3-25h0m1 6h0m6-2h0m1 8h0m2-5h0m1 1h0m4-2h0m0 4h0m1 10h0m10-18h0m2 6h0m6 4h0m1-9h0m0 7h0m5 17h0m4-11h0m8-6h0m2-4h0m1 17h0m2-1h0m2-14h0m1 18h0m6-18h0m0 5h0m10-7h0m4 16h0m6-5h0m2 1h0m0-4h0m0 11h0m7-24h0m6 12h0m0-11h0m2 16h0m3 10h0m6-7h0m10-6h0m1 1h0m1 4h0m2-3h0m2 1h0m1 7h0m0-11h0m1 14h0m3-12h0m1 11h0m1-1h0m2-9h0m4 11h0m1-28h0m1 12h0m4 4h0m3 12h0m1-2h0m2-11h0m8-5h0m1 19h0m3-12h0m2 7h0m11-23h0m7 18h0m2 25h0m-8 7h0m-5-21h0m-1 18h0m-4 9h0m0-10h0m-13 0h0m-2-6h0m-3 3h0m0-12h0m-3 27h0m0-6h0m-1 0h0m-3-12h0m-5 2h0m-2 6h0m-4-8h0m-1-10h0m0 22h0m-1 4h0m-3-20h0m-6 13h0m-1-6h0m0-3h0m-3 7h0m-8-3h0m-1 6h0m-1 2h0m-3-8h0m-3 4h0m0 5h0m-2-2h0m-1-20h0m-4 4h0m-1 21h0m-5-13h0m-2 0h0m0-13h0m0 21h0m-2-9h0m-3-6h0m-2 4h0m0-11h0m-2 15h0m0 14h0m-4-5h0m0-1h0m-5-17h0m-5 2h0m-2 21h0m-9-8h0m-6-5h0m0-3h0m-2-1h0m0-10h0m-3 9h0m-6-9h0m-3 23h0m-1-11h0m-4-14h0m-8 11h0m0 7h0m-2-15h0m-8-2h0m0 5h0m-4-4h0m-3 23h0m-5-9h0m-5-8h0m0 17h0m-1-16h0m-1 5h0m-6-8h0m-4 13h0m-4-19h0m-3 14h0m-1-3h0m-1 5h0m-2-9h0m-3 13h0m-2-7h0m-1-12h0m-4 22h0m-3 0h0m-3-4h0m-3-11h0m-4 21h0m0 0h0m-2-26h0m-1-3h0m-10 9h0m-9 3h0m-5 7h0m-12-3h0m-2-13h0m-1 26h0m-1-11h0m-3-2h0m-4 13h0m-2-10h0m-1-6h0m-1 5h0m0 6h0m-4-7h0m-2-2h0m-3-7h0m-1 18h0m-12-25h0m-2 11h0m-14 14h0m-2-26h0m-1 26h0m-8-2h0m-4-8h0m-4-14h0m-9 26h0m-1-23h0m-1 24h0m-11-14h0m-2 3h0m0-13h0m-7-4h0m-2 1h0m-2 6h0m0 1h0m0 9h0m-2-7h0m-6 2h0m-8 7h0m-9 2h0m-2-21h0m-1 16h0m-7-12h0m0 5h0m-3 18h0m-3-10h0m-1-16h0m-1 1h0m-14 5h0m-34-6h0m-1 7h0m-4 15h0m-24-15h0m-10 11h0m-4 3h0m23 11h0m6 4h0m9-1h0m3 4h0m11-9h0m3 26h0m0-4h0m8-7h0m5-2h0m4-11h0m12 9h0m3 0h0m1-8h0m2 14h0m8-6h0m7 12h0m0-14h0m1 0h0m2 7h0m8 4h0m2 4h0m1-24h0m0 6h0m4 6h0m7-8h0m1 2h0m8 6h0m4-14h0m1 9h0m8-8h0m2 28h0m5-13h0m0-8h0m2-7h0m2 20h0m5-20h0m3 17h0m1 0h0m0-2h0m5 10h0m1-11h0m6-5h0m2 0h0m0 16h0m1-9h0m7 3h0m17-8h0m0-7h0m1 15h0m1-17h0m6 18h0m4 4h0m4-23h0m6 19h0m0-18h0m1 21h0m3-8h0m1 8h0m3-4h0m1-1h0m4-2h0m3 3h0m4-4h0m18-13h0m2 0h0m0 6h0m2 7h0m4 0h0m0-13h0m1-2h0m2 5h0m15 1h0m9-3h0m8 13h0m3 7h0m1-16h0m1 6h0m3-11h0m0 11h0m2-6h0m1 11h0m1-3h0m1-12h0m17 3h0m7 18h0m5-18h0m4-2h0m1 23h0m2-20h0m2-6h0m7 13h0m1 4h0m1-12h0m6 12h0m1-11h0m0 0h0m6-3h0m1 16h0m1-19h0m4 23h0m0-21h0m2 23h0m2 0h0m2-5h0m7 1h0m4-5h0m0 8h0m3-15h0m0 17h0m4-21h0m3-5h0m3 4h0m2 7h0m2-3h0m0 2h0m1 14h0m2 3h0m2-11h0m2-14h0m7 7h0m0 8h0m5 10h0m1-6h0m3 1h0m0 2h0m3-12h0m8-12h0m0-1h0m1 12h0m5-5h0m5-1h0m11 18h0m0-14h0m1 18h0m1-7h0m1-3h0m1 3h0m0-16h0m4 8h0m2 15h0m0-27h0m9 6h0m3 15h0m0-3h0m11-8h0m1 0h0m2 12h0m4-24h0m1 54h0m-6-10h0m-1-13h0m-4 27h0m0-22h0m-21 18h0m-13-22h0m-13 14h0m-1 3h0m-9-1h0m-8-2h0m-10 12h0m-13-6h0m-2 3h0m0-18h0m-2 7h0m-2 13h0m-4-21h0m-1 17h0m-3 5h0m-3-26h0m0 19h0m0-21h0m-4 16h0m-2 2h0m-1 8h0m-8-5h0m-8-2h0m-5 3h0m0-9h0m-3-10h0m-8 9h0m-2 8h0m-2-3h0m-2 9h0m-4-21h0m0 16h0m-5-4h0m-1 12h0m0-26h0m-6 5h0m-7 5h0m-5-2h0m0 4h0m-2 13h0m-4-8h0m-4 2h0m-1-19h0m-1 14h0m-4-7h0m-5-7h0m-1 16h0m-5-19h0m-4 20h0m-7 8h0m-6-11h0m-3 2h0m-4-3h0m0 10h0m-4-22h0m-1-4h0m-4 14h0m-2-3h0m-1 5h0m-3 8h0m-6-7h0m-8-11h0m-1 23h0m0-4h0m0-9h0m-4-5h0m-1-9h0m-13 2h0m-1 0h0m-3 14h0m-1-16h0m-2 17h0m-1-11h0m0-7h0m-13 2h0m0 11h0m-5 0h0m-6-5h0m-5-1h0m-1 6h0m-7-9h0m-4 0h0m-10 16h0m0-8h0m-12-2h0m0 9h0m-5 6h0m-4-15h0m0 5h0m-2-16h0m-14 25h0m-8-11h0m-7-10h0m0 2h0m-1 21h0m-5-9h0m-11-12h0m-6 3h0m-1-6h0m-3 25h0m-5 0h0m-2-2h0m-10 1h0m-4-18h0m-21 15h0m-1-14h0m-15 13h0m-6-19h0m-5-1h0m16 38h0m3 1h0m15-12h0m0 7h0m13-6h0m0 12h0m6 15h0m14-8h0m10 1h0m1 1h0m0-7h0m5 1h0m1-15h0m2 21h0m1-17h0m3 0h0m3 23h0m7-9h0m4-9h0m0 3h0m13-2h0m0 11h0m4-22h0m2 15h0m2-10h0m3 17h0m10-15h0m6 11h0m4-7h0m8 12h0m1-3h0m1 4h0m2-22h0m3 21h0m1-4h0m3 1h0m0-20h0m5 6h0m9 18h0m7-24h0m0 25h0m3-18h0m3-4h0m5 7h0m2-4h0m2 0h0m6 9h0m1 3h0m6 3h0m7 6h0m1-4h0m5-5h0m1 4h0m4-17h0m2 14h0m7-3h0m0-4h0m2-8h0m3 5h0m3-8h0m5 4h0m4-5h0m12 20h0m5 1h0m0 3h0m0-22h0m5 25h0m5-27h0m3 18h0m7 0h0m3-5h0m4-5h0m10-7h0m8 24h0m3-14h0m2 11h0m15-10h0m3 13h0m5-6h0m1-12h0m1 14h0m7-1h0m5 5h0m2-1h0m3 0h0m2 5h0m10-19h0m8 15h0m4-8h0m4-9h0m9-2h0m1 12h0m6-10h0m1 10h0m8 4h0m4 2h0m4-6h0m2 3h0m5-13h0m2 14h0m3-5h0m5 11h0m4-22h0m2 20h0m5-16h0m1-9h0m2 3h0m6 14h0m3-8h0m1-2h0m4 16h0m0-20h0m2 12h0m0-5h0m1 8h0m0-3h0m1-5h0m10 1h0m-16 21h0m-3 8h0m0-7h0m-1 0h0m-6 18h0m-1-22h0m-1 6h0m-10 19h0m-1-6h0m-1-11h0m-6 10h0m-1 5h0m-1-11h0m-2 4h0m-3 3h0m-4-14h0m-2 20h0m-2-9h0m-1-16h0m-3 26h0m-1-6h0m0-3h0m-2-1h0m-7 11h0m-1-13h0m-3-12h0m0 18h0m-2-8h0m-3 12h0m-1-8h0m-3-14h0m-7 2h0m-3-1h0m-6 2h0m-3 11h0m0-8h0m-5 3h0m-3 18h0m0-1h0m-1-28h0m-5 3h0m0 6h0m-1-7h0m-6 27h0m-2-20h0m-2 6h0m-2 11h0m-1-1h0m0-18h0m-3 20h0m-3-20h0m-6 3h0m-6 18h0m0-1h0m-3 1h0m-1-27h0m-2 8h0m-3-1h0m0 9h0m-5-12h0m0 3h0m-2 3h0m-10 8h0m-2 4h0m-4-6h0m-1-16h0m-11 11h0m-6-6h0m-6 2h0m-3 21h0m0-23h0m-6 4h0m-2 5h0m-2 8h0m-1-7h0m0 5h0m-3-18h0m-4 9h0m-2 6h0m-4-3h0m-2-10h0m-1-5h0m0 18h0m-5 4h0m-5-13h0m-8 5h0m-1 10h0m-7-10h0m-4-11h0m-7 26h0m-3-20h0m-16-9h0m0 13h0m-1 7h0m0-6h0m-2-11h0m-5 13h0m-8-1h0m-7 10h0m-7-1h0m-2-21h0m-1-3h0m-5 4h0m-1 5h0m-4 10h0m0-15h0m-1 6h0m-5 17h0m-7-11h0m-2 5h0m0-13h0m-4 17h0m-4-21h0m-6 9h0m0-13h0m0 5h0m-5 8h0m-1 10h0m-1 2h0m-1-11h0m-1-4h0m-1 0h0m-2 13h0m-11-3h0m-1 4h0m-3-2h0m-11-21h0m-2 5h0m-9 1h0m-1 9h0m-5-13h0m-7-1h0m4 50h0m30-17h0m30-4h0m14 12h0m0-8h0m1 1h0m20 10h0m1 5h0m3-16h0m19-5h0m9 7h0m3 13h0m1-3h0m1-14h0m3 10h0m10-13h0m15 2h0m15 4h0m4 14h0m1-16h0m2-3h0m16 18h0m2-5h0m1 3h0m13-2h0m0-3h0m1 14h0m5-5h0m3-19h0m1 7h0m1 7h0m1-8h0m4 17h0m4-21h0m0-1h0m0 21h0m9-5h0m1-15h0m8 5h0m1 1h0m1 17h0m4-12h0m1-8h0m3 5h0m7 8h0m1-15h0m0 13h0m0-1h0m0-3h0m7-5h0m1-2h0m7-2h0m12-4h0m12 15h0m5 2h0m5 5h0m1-17h0m5 14h0m1-7h0m1 5h0m5 4h0m5-16h0m2-1h0m1 5h0m1 2h0m1 1h0m8 14h0m0-11h0m2-11h0m9 1h0m2 6h0m1-3h0m3 17h0m1-2h0m8-22h0m5 25h0m3 1h0m1-15h0m1 1h0m10-9h0m5 1h0m5 9h0m9-15h0m-53 54h0m-1-21h0m-7 1h0m-2 3h0m-35 4h0m-20-6h0m-12 1h0m-19 3h0m-20-3h0m-2-2h0"/>
<path transform="scale(.1)" stroke="#a01c1c" stroke-width="12" stroke-linecap="square" fill="none" d="M1485 583h0m-14 7h0m-11-9h0m-11 18h0m-18-4h0m-3-6h0m-1 5h0m-15 2h0m-12-1h0m-1-4h0m-14 7h0m-115 25h0m36 2h0m2-4h0m7-20h0m14 12h0m28 15h0m4 1h0m4-12h0m1 9h0m3-17h0m1-5h0m3 6h0m1-4h0m1 21h0m0-6h0m5 0h0m4 6h0m2-18h0m1 15h0m10-7h0m0 5h0m4 1h0m7-22h0m2-1h0m5 17h0m1-8h0m2 17h0m2-16h0m4 1h0m1 1h0m3-4h0m1 12h0m6-10h0m0-1h0m1-3h0m1-2h0m3 17h0m5 8h0m6-20h0m0 16h0m2-15h0m0-1h0m1-3h0m9 20h0m7-4h0m1 6h0m4-8h0m10-12h0m2 13h0m12-8h0m3-1h0m6 1h0m3 7h0m4 7h0m45 11h0m-47 4h0m-1 0h0m-7 11h0m-2-9h0m-3 8h0m-5 7h0m-1-29h0m0 0h0m-1 22h0m-3-4h0m-2 9h0m-5-16h0m-5 14h0m-2-22h0m-1 7h0m0 0h0m-10 13h0m-2-13h0m-5-10h0m0 11h0m-1-9h0m-5 4h0m-1 4h0m-2 18h0m-11-1h0m0-22h0m-5 2h0m-1 15h0m0 0h0m-7-20h0m0 20h0m-1 4h0m-1-26h0m-4 9h0m-1 10h0m-4-11h0m-7 12h0m-7-8h0m-3-4h0m0 15h0m-2-11h0m-1 16h0m-5-5h0m-3-22h0m-2 1h0m-1 10h0m-6 8h0m-3-12h0m-5 0h0m-5 3h0m-3 10h0m-1 8h0m-1-20h0m-1 10h0m-12-10h0m-2 3h0m-1-8h0m-5 2h0m-3 8h0m-2 1h0m-3-1h0m-1 5h0m-5 2h0m-2-11h0m-2 10h0m0-2h0m-3 10h0m-1-7h0m-1-16h0m-1 22h0m-2-16h0m-9-3h0m-2 15h0m-2-2h0m-1-1h0m-2-14h0m0-4h0m-1 23h0m0-5h0m-1-4h0m0-11h0m0 21h0m0-25h0m-6 24h0m-2 2h0m0-2h0m-5-21h0m-6 17h0m-4-13h0m0 21h0m-2-25h0m-1 16h0m-4 4h0m-2-1h0m-1-7h0m-23-8h0m-1 7h0m-2-4h0m-3 16h0m-3-2h0m-4-14h0m-2 16h0m-1-12h0m-1 10h0m-2-13h0m-4 15h0m-6-9h0m-4-10h0m-7 18h0m-9 0h0m-8-11h0m-5 14h0m-80-3h0m-47 26h0m17-11h0m4 5h0m14 6h0m2-3h0m1 2h0m4 2h0m6-22h0m7 5h0m4-6h0m7 8h0m3 11h0m0-3h0m1 11h0m1-15h0m1 17h0m1-8h0m4 1h0m0-8h0m0 7h0m11-17h0m3 21h0m0-4h0m4-16h0m5 3h0m34 20h0m1-8h0m5 1h0m12-12h0m2 11h0m6 9h0m4-8h0m10 0h0m2 4h0m0-25h0m4 17h0m3 12h0m2-9h0m0-1h0m0-3h0m2 3h0m6-3h0m5-1h0m13-4h0m4-4h0m0 13h0m1 9h0m9-2h0m0-25h0m6 19h0m0 0h0m3-15h0m4-3h0m2 26h0m1-25h0m5 5h0m1-4h0m4 1h0m2 13h0m0-11h0m9 13h0m1-16h0m2 22h0m4-19h0m3 19h0m1-17h0m3 3h0m1 16h0m2-9h0m1-16h0m3 18h0m3-19h0m0 1h0m4 10h0m3 12h0m2-15h0m1 7h0m0 9h0m7-21h0m7 20h0m4-11h0m1-3h0m4-4h0m5 15h0m1 5h0m0-8h0m4-16h0m3 17h0m4 0h0m1-14h0m4 22h0m1-2h0m3-22h0m1 10h0m1-7h0m5 4h0m8 5h0m6-2h0m1-3h0m2 15h0m6-25h0m2-1h0m1 8h0m1 15h0m1 2h0m4-5h0m6-13h0m0-3h0m2-3h0m1 24h0m3-19h0m5-6h0m1 19h0m2-10h0m6 13h0m3-3h0m3 0h0m5-4h0m1 12h0m1-8h0m1-15h0m3 17h0m2-2h0m2 4h0m4-13h0m0-11h0m3 7h0m10 20h0m2-22h0m2 14h0m1-2h0m5-1h0m1 2h0m6 9h0m5-6h0m5 5h0m7-1h0m3 23h0m-4-2h0m-2 13h0m-9-5h0m-2-22h0m-6 2h0m0-2h0m-1 11h0m-1 2h0m-2-13h0m-8-2h0m-5 24h0m0-5h0m-1 8h0m-1 2h0m-1-6h0m-6-23h0m-6 29h0m-9-21h0m-4 18h0m-2-9h0m-2 9h0m-1-26h0m-1 16h0m-1 9h0m-1-22h0m-5 1h0m-4 2h0m-1 21h0m-4-4h0m-2-15h0m-3 12h0m-9-10h0m0 1h0m-4 1h0m-1 10h0m-5 7h0m-1-1h0m-4-8h0m0-6h0m-2 14h0m-2-5h0m-1-18h0m-1 6h0m-2-10h0m-2 28h0m-1-5h0m0-9h0m-2-3h0m-4 14h0m-3-13h0m-4 5h0m0-3h0m-1 3h0m-4-1h0m-5 6h0m-3-9h0m-1-2h0m-1-8h0m-1 23h0m0-22h0m-3 19h0m-1-24h0m-3 26h0m-3-11h0m-1-5h0m-1 2h0m-3 5h0m-2-17h0m-1 11h0m-3 2h0m-3 8h0m-5-18h0m-4 9h0m-7-11h0m0 10h0m0 5h0m-5 1h0m-1 2h0m-2-17h0m-7 19h0m-2-19h0m-6 10h0m-1 15h0m-5-7h0m-2-2h0m-5-2h0m0 13h0m-2-7h0m0-22h0m-1 11h0m-3-8h0m-1 24h0m0-19h0m-3-6h0m-4 21h0m-2 0h0m-3-6h0m-3-7h0m-3 15h0m-3-8h0m-8-10h0m-2-3h0m-3 21h0m-2 1h0m0-1h0m-1-2h0m0-7h0m-10-8h0m-2-5h0m-2 24h0m-2-7h0m-2 2h0m0-19h0m-5 13h0m0-3h0m-1 9h0m-1-11h0m-2 11h0m-4-7h0m-4-7h0m-6 13h0m-3 7h0m-2-15h0m-3 0h0m0 6h0m-1-11h0m-12 15h0m-1-13h0m0-4h0m0 19h0m-1-13h0m-1-7h0m-3 18h0m0-16h0m-3 7h0m-1 7h0m-6-18h0m-1 10h0m-7-1h0m-1 7h0m-3-3h0m-7-7h0m-2 4h0m-11-9h0m-6 20h0m-4-1h0m-1-12h0m-3 6h0m-4-17h0m-2 6h0m-6 2h0m-8 0h0m-1 20h0m-3-2h0m-2-3h0m-1-9h0m-1-9h0m-5 4h0m-9 14h0m-7-16h0m0 7h0m-4-2h0m-2 16h0m-7 1h0m-1-6h0m-3-13h0m-2 12h0m-2-15h0m-1 17h0m-2 0h0m-7-21h0m-4 25h0m-49 21h0m1 9h0m5-7h0m1 4h0m6 2h0m6-14h0m1-9h0m8 12h0m1 2h0m8 6h0m13-13h0m0-8h0m1 0h0m2 0h0m0 24h0m1-21h0m5 5h0m1 4h0m5 2h0m4 0h0m15 6h0m3 0h0m3 4h0m2-5h0m1 3h0m7-18h0m0 18h0m25-23h0m3 1h0m1 14h0m2 12h0m11-1h0m5-18h0m10 0h0m1-2h0m2-6h0m1 20h0m4-11h0m0-8h0m2 0h0m6 21h0m3-22h0m3 22h0m2-15h0m8 1h0m0 0h0m1 12h0m0-18h0m4 25h0m0-26h0m8-2h0m2 5h0m3 7h0m5 16h0m0-23h0m4 4h0m3-3h0m1 15h0m6-8h0m2 0h0m3 1h0m0 0h0m1 6h0m4-16h0m9 6h0m7 12h0m1 5h0m4 0h0m1-9h0m2 3h0m2-10h0m6-12h0m5 7h0m1-7h0m9 4h0m1 3h0m3-6h0m0 0h0m11 22h0m3-20h0m1 26h0m0 0h0m1-9h0m1-20h0m13 14h0m2 6h0m5-18h0m8-1h0m2 23h0m0-11h0m15 6h0m2-1h0m4-7h0m4 16h0m0-21h0m10 1h0m2 3h0m1 17h0m4-2h0m2-17h0m4 16h0m2-2h0m2 7h0m2-15h0m1-1h0m9-11h0m5 27h0m8-5h0m3 5h0m1-27h0m3 12h0m3 2h0m1-10h0m3 12h0m1 11h0m6-23h0m4 8h0m5-1h0m1 5h0m4-15h0m4 0h0m0 7h0m6-1h0m2 14h0m1 5h0m2-7h0m2-10h0m5-10h0m4-1h0m2 21h0m13 7h0m2-14h0m1 8h0m3-17h0m1 12h0m1-9h0m7 20h0m4-18h0m1 19h0m3-16h0m2 12h0m3-18h0m3 8h0m2-4h0m12 25h0m-13 23h0m0-18h0m-5-4h0m-1 11h0m-3-11h0m-1 20h0m-3-14h0m-2 13h0m-2-17h0m-11 5h0m-4 7h0m0-16h0m0 23h0m-3-1h0m-5-4h0m-1-23h0m-7 25h0m-1-5h0m-10-11h0m-1-4h0m-2-3h0m-1 10h0m-1 4h0m-5-8h0m-3-6h0m-1 7h0m0 2h0m-6-4h0m-3 11h0m-2 10h0m-7-18h0m-1 13h0m-1-21h0m-2 0h0m0 9h0m-1-1h0m-3 2h0m0-2h0m-4-4h0m-5 16h0m-6-3h0m-3 8h0m-2-19h0m-1 4h0m-5 15h0m-6-7h0m0-2h0m-5-13h0m0 14h0m-2 9h0m-6-10h0m-2-2h0m-4-12h0m-1 25h0m-5-29h0m-7 25h0m-2-14h0m-1 17h0m-3-24h0m0-4h0m-2 22h0m-6 7h0m-2-9h0m-4 2h0m-4 3h0m0-19h0m-1 5h0m-1-10h0m-1 8h0m0 13h0m-6-7h0m-6-15h0m-2 6h0m-1 3h0m-2 19h0m-2-15h0m-3-11h0m-4 26h0m-7-28h0m-3 24h0m-1-14h0m-6 15h0m0 2h0m-5-26h0m-3 1h0m-2 12h0m-1-2h0m-1 16h0m-5-6h0m0-21h0m-4 21h0m-2-13h0m-3 18h0m-2-26h0m-1-1h0m-4 20h0m-2-18h0m-6 12h0m-9-8h0m0 7h0m-9 4h0m0 10h0m-1-16h0m0-4h0m-4-2h0m-1 23h0m-1-8h0m-3-2h0m0 6h0m-2-23h0m-7 17h0m-2 11h0m-2-18h0m-3 15h0m-1-13h0m0-5h0m-1 11h0m0 7h0m-8 0h0m-1-19h0m0 17h0m-1 0h0m-5-7h0m0-11h0m-4-5h0m-7 1h0m-6 9h0m-3 4h0m-6 8h0m-1 1h0m-10-12h0m-1-4h0m-17 18h0m-5-23h0m-3 20h0m0-19h0m-1 8h0m-2-4h0m-5-2h0m-1 2h0m-2-6h0m-4 3h0m-1 17h0m0 0h0m-3 1h0m-4 3h0m-8-24h0m-2 13h0m-7-11h0m-7-2h0m-5 4h0m0 8h0m-1 1h0m-3-14h0m-3 11h0m-22-9h0m-7 19h0m-2-5h0m-2-6h0m-3 1h0m-4-2h0m-2 10h0m0-6h0m-5-5h0m-2 4h0m-4-9h0m-2 21h0m-5-25h0m-4 8h0m-2-5h0m-1 25h0m-9-6h0m-2 4h0m-23 13h0m26 10h0m10 4h0m3 3h0m1-21h0m1 0h0m7 0h0m3 13h0m3-6h0m16 11h0m1-9h0m4-9h0m5 10h0m3-12h0m2 13h0m0 3h0m1 3h0m1-12h0m3 1h0m0-7h0m1 23h0m1-9h0m1-12h0m6-3h0m2 21h0m3 3h0m1-6h0m1-17h0m3 3h0m1 21h0m0-18h0m18 1h0m3 12h0m1-11h0m5 8h0m2-20h0m4 26h0m1-25h0m5 17h0m2-9h0m3-8h0m10 23h0m2 3h0m1-27h0m5 16h0m4-2h0m4-7h0m0 6h0m0-9h0m1 16h0m2-13h0m1 10h0m5 2h0m1 2h0m3 3h0m1-6h0m3-8h0m1-10h0m2 24h0m0-4h0m0-11h0m3 3h0m0 3h0m2 5h0m6 7h0m3-14h0m4-11h0m21 14h0m7 7h0m7-10h0m0-5h0m5-3h0m3 5h0m2-2h0m1 14h0m10-7h0m3 10h0m1-2h0m2-4h0m1-16h0m1 26h0m4 0h0m4-14h0m0-12h0m3 11h0m2-13h0m2 22h0m21-21h0m0 9h0m6 15h0m12-2h0m2-17h0m8 15h0m4 7h0m1-4h0m0-10h0m12 2h0m1 3h0m1 7h0m2-12h0m3 5h0m5-18h0m1 6h0m2 14h0m1-9h0m9 6h0m4-19h0m6 13h0m4 15h0m2-15h0m4 7h0m1 9h0m0-17h0m0-9h0m1-1h0m6 27h0m4-9h0m4-4h0m0-4h0m3-9h0m4 3h0m11 21h0m0-6h0m5-10h0m0-9h0m0 6h0m3 6h0m3-9h0m2 19h0m5-22h0m2 0h0m8 24h0m0-11h0m1-2h0m6 13h0m1-15h0m0-1h0m8-5h0m1 2h0m4 15h0m5-18h0m7 9h0m2 3h0m3-3h0m5-9h0m5 15h0m1 5h0m5-18h0m4 6h0m4 10h0m1-21h0m5 3h0m1 13h0m1-17h0m1 2h0m0 8h0m3 7h0m2-4h0m3 8h0m7 6h0m2-26h0m3 21h0m29 32h0m-18-17h0m-3 9h0m-2 7h0m0-14h0m-1 4h0m-4 5h0m0-2h0m-1-13h0m-3 13h0m-2-16h0m0 13h0m0 0h0m-1-4h0m-10 5h0m-1 5h0m0-12h0m-1 13h0m-5-4h0m-2 2h0m-2-1h0m0 8h0m-12-11h0m-8 5h0m-4-15h0m-2 15h0m0-19h0m0 15h0m-12 6h0m-1-6h0m-1 3h0m-7 0h0m0-4h0m-14 8h0m-2-16h0m-4 20h0m-3-20h0m-2 0h0m-6 7h0m-2-4h0m-2-1h0m-1-1h0m-6-7h0m-1 26h0m-4-26h0m-1 23h0m-2-18h0m-4-3h0m-1 22h0m-1-15h0m0-2h0m-7-3h0m-2 19h0m-1 1h0m0-19h0m-3 4h0m-1 1h0m0 7h0m0-15h0m-2 2h0m-1 21h0m-2-4h0m-6 6h0m-3-12h0m-3-2h0m-7-9h0m-3 7h0m-3-7h0m-4-1h0m-4-1h0m-1 1h0m-5 12h0m-2 10h0m-4-22h0m-2 25h0m-2-22h0m-1 17h0m-2-2h0m-1-2h0m-2-3h0m-1-10h0m-3-5h0m-1 12h0m-2-10h0m-8 1h0m-1 9h0m-4 15h0m-7-3h0m-1-9h0m-1-6h0m-4-8h0m-3 6h0m0-8h0m-6 10h0m0-5h0m-1 14h0m0-8h0m-2 4h0m-1-6h0m-13 15h0m-2-7h0m-2-15h0m-8 0h0m-1 10h0m-5-11h0m0 26h0m-2-1h0m-7-23h0m-3-1h0m-3 2h0m-10 20h0m-4-2h0m-1-21h0m-1 22h0m-9 5h0m-1-21h0m-4 22h0m-3-24h0m-1 24h0m-2 0h0m-6-16h0m-7 7h0m-1-11h0m0 15h0m-3 3h0m-2-15h0m-2 3h0m-5-6h0m-1 14h0m-5-14h0m-2-7h0m-2 16h0m-1 1h0m-5-16h0m-3 20h0m-2-11h0m-2 8h0m-2-10h0m-2 11h0m-1-17h0m-2 16h0m-1 3h0m-4-18h0m0 23h0m-3-14h0m-5 15h0m-7-6h0m0-8h0m-12-2h0m-4-8h0m-5 5h0m-4 5h0m-1 3h0m-10-10h0m0 2h0m-1 7h0m-4-11h0m-1 1h0m-1 22h0m0-10h0m0-7h0m-1-3h0m-1 16h0m-3-18h0m-1 21h0m-8-4h0m-5 1h0m0-15h0m-2-1h0m-3-2h0m-22 6h0m0 6h0m-1 6h0m-6 0h0m0-1h0m-2-6h0m-1-5h0m0-3h0m-2 0h0m-6-10h0m-10 10h0m-3 19h0m-2-13h0m-3-2h0m-5-7h0m-3 9h0m-1-4h0m-1 14h0m-5-15h0m-24 47h0m4-23h0m10 17h0m1 3h0m0-15h0m6 15h0m1-7h0m5-5h0m2-9h0m1 13h0m7-13h0m2 18h0m1 6h0m4-24h0m1 23h0m2 2h0m1-8h0m1-3h0m0 10h0m1-10h0m4 11h0m6-29h0m2 2h0m1 21h0m0 0h0m9-12h0m5-5h0m4 1h0m5 16h0m3 1h0m5-3h0m1 2h0m2-22h0m10 25h0m2-3h0m1-9h0m0 3h0m7-9h0m7-8h0m2 23h0m2-5h0m1 7h0m1-17h0m2-4h0m1 17h0m4-14h0m0 22h0m0-23h0m1 22h0m0 0h0m5-8h0m1-14h0m2 8h0m2 0h0m4 9h0m1 2h0m4-2h0m2-19h0m0 13h0m1 3h0m10-9h0m5-9h0m2 16h0m3-8h0m1-7h0m2 15h0m6-2h0m0 11h0m0-1h0m0-22h0m2 25h0m2-23h0m7 13h0m2-12h0m1-4h0m1 9h0m4-2h0m5-8h0m1-2h0m0 11h0m3 10h0m7-11h0m6 14h0m2-16h0m4 3h0m11 8h0m1 5h0m8-18h0m0 10h0m1 6h0m2-17h0m1 3h0m8 19h0m4-13h0m2 4h0m1 4h0m2 1h0m6-3h0m3 8h0m7-24h0m4 14h0m3-2h0m0-14h0m3 20h0m0-7h0m1-13h0m6 20h0m2 2h0m2-13h0m2 4h0m9 13h0m1-19h0m2 20h0m1-2h0m1-21h0m2 19h0m6-4h0m3-14h0m7 1h0m0 18h0m1-13h0m5 12h0m0-23h0m2 8h0m7-10h0m7 28h0m1-20h0m0 2h0m2-2h0m2 15h0m5-23h0m11 28h0m1-22h0m4 22h0m1 0h0m4-28h0m0 25h0m2 3h0m4-18h0m3 16h0m6 3h0m0-11h0m4-3h0m2-9h0m1 0h0m3 8h0m0 10h0m18-15h0m2 16h0m10-12h0m1-4h0m3 18h0m5-12h0m7-10h0m3 18h0m4 6h0m6-8h0m0-15h0m5 10h0m3-3h0m0 13h0m10-15h0m1-1h0m8 1h0m2 17h0m2-3h0m2-8h0m1-9h0m18-6h0m3 0h0m7 27h0m1-27h0m1 18h0m4-2h0m3-4h0m7 11h0m0-8h0m2 12h0m10-10h0m0 35h0m-11 5h0m-10-27h0m-7 22h0m-6-4h0m-1 8h0m0-24h0m-2 12h0m-6-9h0m-3-3h0m-2 10h0m-1 0h0m-1 4h0m-7-1h0m-3-7h0m-8 2h0m-2-2h0m-4 6h0m-2-9h0m-3 7h0m0-14h0m-3 24h0m-1-9h0m-1 5h0m-1-6h0m-3 11h0m-4-1h0m-2-4h0m-2-2h0m-1 0h0m0-7h0m-2 5h0m-12 9h0m-2-8h0m0-12h0m-9 20h0m-7-14h0m-1 18h0m-4-25h0m-1 7h0m-4 1h0m-3 0h0m-1 11h0m-6 0h0m-3-22h0m-3 25h0m0-7h0m-3-7h0m-4-6h0m-2 8h0m-2 6h0m-2-2h0m-1 5h0m-2-1h0m-3 3h0m-2-25h0m0 18h0m-5 0h0m-1-12h0m-1-5h0m-4 0h0m-1 14h0m-2 12h0m-3-6h0m-9-13h0m-19 13h0m-8-1h0m-11 8h0m-5-19h0m-6 11h0m-2 6h0m-1-3h0m-4-7h0m-7 10h0m-1-22h0m-2 18h0m-6-3h0m-1 7h0m0-3h0m-1-6h0m-3-7h0m-3 12h0m-3-22h0m-2 25h0m-8 4h0m-6-17h0m-7-7h0m0 1h0m-1 6h0m-1 10h0m-5-21h0m-1 19h0m-5-6h0m-2 1h0m-2 0h0m0-13h0m-6 10h0m-2-5h0m-2 13h0m-1 0h0m-3-6h0m-3-5h0m-1 0h0m-4 8h0m-1-2h0m-2-15h0m-3 25h0m0-6h0m0-7h0m-1 4h0m-3 0h0m-2-8h0m-8 4h0m-3-2h0m-3-3h0m-1 14h0m0-10h0m-2 12h0m-4 0h0m-1-1h0m-1-12h0m-1-8h0m-5 16h0m-3 8h0m-10-22h0m-9 25h0m-3-15h0m-1-13h0m-3 9h0m-2 7h0m-5 3h0m-3 1h0m-3 8h0m-1-20h0m-1 1h0m-3-8h0m-5 1h0m-1 15h0m-9 4h0m-1 7h0m-1-8h0m0 0h0m-1-5h0m-1 10h0m-5-3h0m-2-5h0m-5-9h0m-3-7h0m-1 18h0m-3-10h0m-8 18h0m-5-17h0m-1 2h0m-1 2h0m-10-2h0m0-6h0m-3 4h0m0 18h0m-5-16h0m-3 1h0m-2 5h0m-8-4h0m-3-2h0m0 3h0m-1-3h0m-3 16h0m-8-10h0m0-13h0m-8-2h0m0 2h0m-2 23h0m-2-8h0m-1-1h0m-2 9h0m-4-14h0m-5 12h0m-5-2h0m-14-25h0m-11 6h0m-9 32h0m7 14h0m1 3h0m2-14h0m3 15h0m7-21h0m4 13h0m0-1h0m0-1h0m5 9h0m1-23h0m5 9h0m1-9h0m4 2h0m11 14h0m1 3h0m1-3h0m1-14h0m3-2h0m1 10h0m6 8h0m3-5h0m4-14h0m0 25h0m4-19h0m3-4h0m0 5h0m8 10h0m2-5h0m4-11h0m1 20h0m4-20h0m1 16h0m9-3h0m3 3h0m1-14h0m1 16h0m14-19h0m4 6h0m0-2h0m4 3h0m1-8h0m1 18h0m3 7h0m0-18h0m5 6h0m2-12h0m11 9h0m5 18h0m0-27h0m1 15h0m3-1h0m4-6h0m11 2h0m6-8h0m0 15h0m1-13h0m16 9h0m4-11h0m1 1h0m5 9h0m5-5h0m0 19h0m5-14h0m1-1h0m1-11h0m2 5h0m9 4h0m6 13h0m7-13h0m3 0h0m0 6h0m1 13h0m2-10h0m6 2h0m1-18h0m1 3h0m8 22h0m2-19h0m5 10h0m3-9h0m3 9h0m4 10h0m5-24h0m0 18h0m0-11h0m1-12h0m1 5h0m5-3h0m2 1h0m2 2h0m1 0h0m2 14h0m7-7h0m0 2h0m2-13h0m1 12h0m2 9h0m0-5h0m2 1h0m8 9h0m5-2h0m0-3h0m1 3h0m10-1h0m2 4h0m0-7h0m2-14h0m0-1h0m2 21h0m1-3h0m3-11h0m1 10h0m1 2h0m10-18h0m0 3h0m1 15h0m0-23h0m3 20h0m5-3h0m1-8h0m1-8h0m11 13h0m1-1h0m10-8h0m0 15h0m1-7h0m11-11h0m4-2h0m1 0h0m6 15h0m27-5h0m13 13h0m1-15h0m4 3h0m2 15h0m2-6h0m0 3h0m7 2h0m4-16h0m6 13h0m1-15h0m0-6h0m2 14h0m1 12h0m0-23h0m3 8h0m0 0h0m1-4h0m0-2h0m1 10h0m2 4h0m1-19h0m5 12h0m6 7h0m0-22h0m1 26h0m4-5h0m5 7h0m2-14h0m1 15h0m2-11h0m4 7h0m1-8h0m7-5h0m0 14h0m2-11h0m2-12h0m4 6h0m0 19h0m2-26h0m3 10h0m15-4h0m3 1h0m0 17h0m1-2h0m2-5h0m6-13h0m26 40h0m-6 13h0m-8-25h0m-1 23h0m-2-25h0m-1 26h0m-4-18h0m-3-4h0m-2 2h0m-6 2h0m-2 7h0m-1-2h0m-1-3h0m-5-8h0m0 22h0m-17-24h0m-1-2h0m-1 18h0m-2-10h0m-1 13h0m-4-13h0m-2 7h0m-1-13h0m-2 0h0m-8-2h0m0 2h0m-1 9h0m-4-9h0m-16 19h0m-1-19h0m0 16h0m-1-11h0m0-2h0m-4 23h0m-5-8h0m-5 9h0m-7-28h0m0 7h0m-6 11h0m0-12h0m-9 14h0m-4-19h0m-5 25h0m-1-4h0m-3-9h0m-2-2h0m-3 8h0m-2 1h0m-2-19h0m-3 20h0m-11-10h0m-11 7h0m-2-7h0m-3-11h0m-1 9h0m-6-4h0m-2 17h0m-5-11h0m-1-8h0m-2 15h0m-2-16h0m-9 20h0m-4-20h0m-1 21h0m-3-8h0m-1 6h0m-1-18h0m-2 7h0m0 7h0m-1-1h0m-10-13h0m-3 0h0m-3 25h0m-10-26h0m-2 23h0m-2 1h0m-4-25h0m-2 17h0m-4-11h0m-9-4h0m-1 18h0m-3 1h0m-1-9h0m0-6h0m0-2h0m-1 17h0m0-12h0m-4 12h0m0 6h0m-1-18h0m-5 6h0m-3 7h0m-1-16h0m-13 4h0m0 5h0m-1 10h0m-2-20h0m0-6h0m-1 6h0m-3 4h0m0-8h0m0 23h0m-1-10h0m-4 8h0m-1 5h0m-5-13h0m-1-4h0m-1-8h0m0 0h0m-1 8h0m-1 17h0m-2-23h0m-2 2h0m-7 12h0m0 4h0m-9-18h0m-1 20h0m-1-7h0m-2-14h0m0 14h0m-1-4h0m-1 5h0m-7-1h0m-4 10h0m-2-9h0m0 4h0m-1-5h0m0 6h0m-1-2h0m-1-20h0m-8 9h0m-3 15h0m-1-1h0m0-10h0m-4 7h0m-11-4h0m0-6h0m-3 10h0m-5 5h0m-5-27h0m-3 17h0m-7-18h0m0 11h0m-4-6h0m0 10h0m-2 1h0m-7-2h0m0-11h0m0 24h0m-9-26h0m-8 15h0m-1-8h0m-4-6h0m-2 22h0m-2 2h0m0-23h0m-3 9h0m-5 1h0m-2 2h0m0-11h0m0 20h0m-9-18h0m-8 4h0m-1 17h0m-2-14h0m-2-1h0m0 5h0m-4 4h0m-4-4h0m-5 6h0m-1-20h0m-1 16h0m-1-9h0m-6 14h0m-2-13h0m-1 13h0m-1-23h0m-2 4h0m-6 13h0m-2-8h0m-1 1h0m-4 8h0m-3-15h0m-5 21h0m-17-14h0m-4-5h0m-10 4h0m-7-9h0m-5 19h0m-1 6h0m-3-19h0m-11 16h0m-5-12h0m-6 12h0m-11 18h0m12-11h0m4 14h0m2 2h0m1-12h0m1 20h0m3-15h0m1 6h0m5 10h0m1 1h0m3-8h0m5-4h0m3-3h0m4-6h0m6-1h0m2 7h0m0-2h0m2 20h0m7-18h0m0-2h0m4 15h0m13 5h0m0-20h0m6 16h0m1-14h0m5 2h0m2-8h0m8 5h0m4 8h0m2 8h0m8-22h0m1 16h0m2-10h0m0 16h0m1-10h0m1-12h0m1 17h0m3 4h0m2-11h0m6 12h0m1-14h0m7 9h0m4-19h0m2 12h0m1 2h0m2 3h0m13-14h0m3 24h0m0-19h0m5-1h0m3-3h0m1 18h0m0-15h0m3 14h0m1-16h0m7 21h0m0-25h0m13 23h0m5-17h0m0-1h0m1 3h0m7-7h0m4 5h0m5 14h0m1-5h0m0 4h0m1-13h0m7 4h0m2-12h0m2 3h0m2 24h0m9-28h0m1 6h0m16 12h0m3-12h0m3-4h0m3 4h0m0 0h0m1-6h0m0 18h0m1-4h0m1-4h0m3-5h0m2 9h0m8 6h0m0-17h0m4 24h0m8 2h0m15-20h0m3-2h0m0 2h0m10 8h0m1-3h0m0 11h0m3-24h0m2 27h0m6-9h0m3-16h0m16 1h0m3 16h0m14-17h0m3 9h0m13-10h0m1 15h0m1-13h0m0-3h0m0 0h0m12 25h0m1-26h0m7 2h0m7 2h0m0 3h0m1 11h0m3-4h0m3-7h0m1 9h0m0 7h0m6-10h0m6-9h0m1 16h0m0-7h0m18-6h0m0-7h0m5 8h0m3 7h0m0 3h0m1-11h0m3-4h0m2 11h0m5 0h0m1 10h0m2-20h0m0 10h0m2-9h0m6 5h0m9-2h0m0 6h0m9-12h0m4 21h0m1 4h0m3-22h0m3-3h0m5 19h0m15 3h0m4 4h0m1-4h0m3-24h0m1 12h0m2-7h0m1 17h0m2 7h0m1-27h0m6 6h0m9 3h0m1 18h0m9-28h0m5 4h0m0 7h0m1 6h0m2-2h0m0 4h0m0-6h0m17 5h0m4 1h0m1 9h0m4-22h0m11 49h0m-20-2h0m-2 1h0m-3-21h0m0 2h0m-3 7h0m-1-1h0m-1 3h0m-4 8h0m-2-1h0m-2-22h0m-4 10h0m-2 3h0m-6-9h0m-3 2h0m-5 19h0m-3 4h0m-3-9h0m-3-14h0m-2 12h0m-2-5h0m-2-7h0m0 18h0m-14-14h0m-2-6h0m-4 8h0m-1 17h0m-3-16h0m-3 14h0m-4-2h0m-3 2h0m0 1h0m-1-12h0m-2 1h0m-10 6h0m-1-13h0m-2 16h0m-2 1h0m-2-20h0m-1 13h0m-1-15h0m-3 0h0m-1 8h0m-6-2h0m-2 18h0m-1-16h0m0 10h0m-1-2h0m-1 8h0m-2-13h0m-2 11h0m-2-21h0m-6 0h0m-2-6h0m-6 9h0m-14 18h0m-2-27h0m-5 29h0m-2-26h0m-1 0h0m-5 7h0m0 10h0m-5-19h0m-4 12h0m-2 13h0m-4-17h0m-2-9h0m-2 23h0m0-11h0m-1 14h0m0-18h0m-3 18h0m-2-12h0m-1-2h0m-3-9h0m-3 8h0m-2 9h0m-1-13h0m-3 15h0m0-7h0m-7 12h0m-2-8h0m-1 8h0m-4-13h0m0-1h0m-1 7h0m-1 7h0m0-26h0m-15 20h0m0-19h0m-9 11h0m-4 9h0m-2 1h0m-2-3h0m-5-19h0m-2 18h0m0-1h0m-7 4h0m0-3h0m-5-6h0m-2 12h0m-4-20h0m-2-1h0m0 14h0m-2 4h0m-3 1h0m-2-4h0m-1-3h0m-1 2h0m-5-1h0m-2-3h0m-6-11h0m-10 9h0m-6-12h0m-16 21h0m-1-18h0m0-3h0m-7 27h0m-6-18h0m-4 5h0m-2-13h0m-1 26h0m-1-11h0m-1-16h0m-3 22h0m-8-9h0m-2 3h0m-2-6h0m-1 15h0m-2-9h0m-4-7h0m0 7h0m-11-14h0m-1 11h0m-7-7h0m-1 12h0m-2-6h0m-2 6h0m-7 11h0m-4-16h0m-2-7h0m-1 0h0m-5 23h0m-2-23h0m-1 13h0m-1 3h0m-1-10h0m-1 9h0m-8-17h0m-4 3h0m-5 1h0m0 0h0m-4 10h0m-2-15h0m-9 23h0m-10-12h0m-3-11h0m-2 2h0m0 8h0m0-1h0m0 0h0m-4 2h0m-5 2h0m-2-9h0m-7 11h0m-2 4h0m-4 0h0m-1 7h0m-6-7h0m-1-2h0m-1-4h0m0-5h0m-15-7h0m-1 24h0m-2-13h0m-4-9h0m-8 10h0m-2 5h0m0-18h0m-3 24h0m-1 0h0m0-27h0m-11 0h0m-2 15h0m-6 5h0m-1-4h0m-5 5h0m-2-5h0m-2-4h0m0-12h0m0 20h0m-3-2h0m-2-11h0m-5-1h0m-1 15h0m-4 2h0m12 15h0m12 5h0m1 6h0m15-1h0m3-16h0m6 17h0m0-10h0m6 6h0m7 10h0m5-11h0m0 8h0m1-18h0m5-3h0m1 16h0m2 11h0m0-16h0m2 1h0m1-4h0m5 4h0m7 9h0m0 2h0m4-18h0m1 12h0m1-15h0m1 11h0m4 11h0m25-12h0m11-9h0m6-4h0m2 15h0m10-1h0m1-2h0m0 10h0m7-3h0m0-5h0m2-7h0m1 5h0m4 14h0m0-11h0m6-1h0m1-11h0m4 5h0m1-1h0m1 0h0m10-5h0m1 5h0m5 18h0m1-19h0m2 2h0m2-5h0m1-3h0m8 14h0m1-4h0m3-1h0m1 11h0m1-12h0m3 12h0m2-17h0m6-2h0m1 4h0m0 23h0m1-16h0m1-7h0m0 2h0m1 20h0m6-21h0m6 19h0m2-25h0m1 5h0m1 20h0m2-5h0m6 4h0m13 5h0m0-6h0m1-3h0m1 7h0m7-5h0m8-12h0m6 10h0m5-10h0m0-9h0m2 5h0m2 14h0m1-17h0m0 25h0m0-26h0m12-2h0m0 27h0m5-13h0m2-3h0m2-10h0m3 22h0m15-17h0m3 3h0m3 20h0m1-4h0m3-19h0m5 21h0m7-7h0m0 1h0m3-10h0m9 3h0m5 10h0m2-6h0m5 4h0m6-7h0m7-9h0m4 8h0m11-9h0m2 21h0m3-8h0m7-7h0m1 15h0m5 0h0m0-8h0m1-13h0m2 5h0m1-3h0m2-3h0m4-1h0m2 4h0m6 17h0m1 1h0m0-6h0m3 3h0m7-2h0m2 6h0m1-21h0m1 9h0m0 8h0m1-5h0m1 7h0m4-19h0m4 5h0m6 5h0m3 10h0m2-23h0m1 19h0m1-16h0m1 9h0m8 11h0m2-21h0m2 5h0m5 11h0m4-1h0m7-6h0m0 12h0m2 0h0m1-14h0m0-11h0m19 1h0m2 21h0m2-18h0m0 6h0m3 13h0m0-11h0m2-9h0m6 1h0m5 19h0m2 4h0m3-20h0m3 18h0m7-18h0m8-5h0m6 19h0m1-7h0m6-6h0m8 0h0m10 16h0m-6 14h0m-5 12h0m-9 8h0m-1 1h0m0-8h0m-2 8h0m-11-28h0m-1 20h0m-2-6h0m0-4h0m-7 15h0m-2-26h0m-1 20h0m-4 4h0m-3-1h0m-2 3h0m-1-4h0m-1-1h0m-2-12h0m-7 13h0m-1-12h0m-8 1h0m-1 3h0m-1 9h0m-3-22h0m-4 15h0m-6 0h0m-7 3h0m-1-3h0m-1-10h0m-7 15h0m-1-9h0m-2 12h0m-2-19h0m-2 17h0m-1-6h0m-1-8h0m-2 15h0m-1-17h0m-3-2h0m0 4h0m-1 13h0m-8-19h0m-1 2h0m-1 10h0m-7-10h0m-10 1h0m-2-1h0m-1 19h0m-1-2h0m-3-12h0m-6 0h0m-9-9h0m-3 8h0m-1-2h0m-16 17h0m-3 2h0m-5-11h0m-2-4h0m-6 13h0m-2 0h0m0-9h0m-3-5h0m-1 4h0m-1 15h0m0-9h0m-6-19h0m-1 8h0m-13 17h0m-2-18h0m-2-1h0m-6 4h0m-7-5h0m-3-5h0m-2 14h0m0 6h0m-3-8h0m-1 7h0m-3 3h0m0 3h0m-1-3h0m-2-18h0m-2 6h0m-7 18h0m-1-6h0m-1 5h0m0-6h0m-1-11h0m-3 1h0m0 3h0m-2 15h0m-5-1h0m-1-20h0m-4 9h0m-1-4h0m-4-5h0m-1 20h0m-3-1h0m-2-19h0m-1 10h0m-14 10h0m-5-4h0m-1-5h0m-5 7h0m-3-26h0m0 21h0m-7 1h0m-3 2h0m-1-14h0m-8 4h0m0 10h0m-2-9h0m-2 4h0m0 5h0m-1-24h0m-1 13h0m0 13h0m-4-12h0m-2-7h0m-2-2h0m-1 9h0m-8 6h0m-6 4h0m-1-4h0m0 9h0m-4-27h0m-1-1h0m-5 4h0m-3 5h0m-2 2h0m0-9h0m-14 15h0m-1 11h0m0-10h0m-4 2h0m-1 2h0m-5-22h0m0 16h0m-2-5h0m-7 4h0m-2-11h0m-4 18h0m-4-12h0m-5 13h0m-1-13h0m-2-8h0m-4 25h0m0-9h0m-6 6h0m-10-6h0m-6-11h0m-2-8h0m-1 12h0m-2-10h0m0 22h0m-2-21h0m-7 5h0m-8 7h0m-3 11h0m-6-20h0m-2 9h0m-3-7h0m0-3h0m-2-5h0m-5 29h0m-2-26h0m-4-1h0m-7 9h0m-4-3h0m-4-5h0m-1 6h0m-4 1h0m-3-2h0m-4 3h0m-3 13h0m-4-18h0m25 36h0m4-2h0m4 4h0m1-14h0m4 15h0m5-8h0m1 22h0m1-20h0m2-6h0m12-1h0m1 22h0m1 3h0m1-25h0m2 6h0m0 6h0m4 13h0m2-16h0m5 2h0m11 2h0m5-10h0m3 22h0m4-12h0m5-5h0m6-9h0m2 24h0m4 3h0m4-26h0m2-2h0m1 24h0m5-19h0m2 6h0m3 7h0m1 4h0m2-22h0m1 29h0m4-9h0m0-16h0m7 24h0m2-3h0m2-24h0m5 17h0m1 0h0m1 0h0m4 4h0m5 5h0m2-1h0m1-1h0m7-11h0m2-8h0m13-6h0m0 11h0m9 14h0m6-18h0m5-6h0m0 28h0m7-5h0m1 0h0m2-10h0m3 14h0m1-6h0m3-12h0m6 14h0m3-8h0m0 8h0m2-18h0m13 21h0m2-2h0m0-24h0m3 17h0m1-15h0m3 20h0m3-12h0m5 10h0m1-1h0m1-1h0m4 9h0m0-9h0m4-6h0m0 0h0m10 10h0m0-3h0m4 7h0m4-18h0m6-7h0m5 12h0m0 1h0m2 4h0m0 10h0m1-26h0m5 16h0m3 0h0m2 6h0m2-2h0m7-18h0m4 7h0m4 6h0m2-12h0m2 21h0m6-2h0m6-9h0m0-5h0m6-11h0m3 6h0m3 10h0m3-15h0m2 26h0m3-12h0m13-5h0m0-9h0m0 24h0m1-17h0m3 18h0m2-20h0m0 9h0m2-5h0m1-6h0m0-1h0m2 7h0m5 7h0m8 9h0m3-2h0m1-9h0m3-1h0m0-13h0m2 16h0m11-11h0m10-3h0m6 1h0m9 25h0m6-15h0m3 8h0m4-5h0m3 0h0m1-10h0m2 16h0m8-7h0m0 5h0m4-3h0m1 6h0m7-7h0m0 8h0m7-24h0m5 20h0m3 7h0m2-17h0m13 4h0m4-13h0m3 14h0m-14 35h0m0 3h0m-1-8h0m-7 5h0m-2-10h0m-7 15h0m-25-10h0m-2-7h0m0 6h0m-3-8h0m-4-5h0m-4 11h0m-1 14h0m-3-14h0m-1 7h0m-3 7h0m0-2h0m-1 2h0m-4-15h0m0-10h0m-7 27h0m-2-7h0m-2-21h0m-3 27h0m-8-2h0m0-2h0m-5-21h0m-1 6h0m-3 0h0m0 4h0m-2-8h0m-1-5h0m-2 24h0m0-13h0m-2 4h0m-4 0h0m-1 10h0m-13-22h0m-18 6h0m-1-2h0m-8 21h0m0-6h0m-2-14h0m-1 0h0m-1 0h0m-7 6h0m-5 7h0m-3-7h0m-2-6h0m-3-3h0m-1 10h0m-1-8h0m-5 10h0m-5 0h0m-2-6h0m-1-1h0m-2 3h0m0 13h0m-1-24h0m-7 2h0m-7-2h0m-15 26h0m-2-28h0m-7 8h0m-1 17h0m-2-5h0m-1 3h0m-1-4h0m-1 10h0m-3-23h0m-3-2h0m-4 7h0m-11 15h0m-1-6h0m-1-8h0m-4-2h0m-2-5h0m-1 10h0m-3-4h0m0 3h0m-1 6h0m-9-6h0m-1 6h0m-2-15h0m-11 14h0m-1 7h0m-1-3h0m-1 0h0m-3-16h0m-4 5h0m-5-4h0m-1-2h0m-2-4h0m-1 10h0m-1 14h0m-3-15h0m-1-1h0m-5 6h0m-4 12h0m-3-20h0m-1 20h0m-3-5h0m0-4h0m-1-19h0m-7 22h0m-4-12h0m-1 18h0m-1-2h0m-3-13h0m-7 7h0m-5-12h0m-10-5h0m-5 24h0m0-19h0m-2 17h0m-1 1h0m-1-2h0m-1-9h0m-1 1h0m-1 9h0m-5-20h0m-1 1h0m-6 14h0m0-19h0m-3 0h0m-2-1h0m-2 6h0m-1-6h0m-2 26h0m-7-6h0m0-10h0m-2 11h0m0-5h0m-6-12h0m-4 8h0m-1-2h0m-6-2h0m-4-3h0m-7 13h0m0-4h0m-4 13h0m-4-14h0m-3-6h0m-4-6h0m0 16h0m0-16h0m-4 9h0m-16-1h0m45 40h0m0-10h0m2-2h0m4 2h0m4 16h0m1-21h0m2-2h0m3 17h0m2-13h0m6 3h0m1-9h0m1 6h0m4-2h0m2 7h0m15-7h0m2 8h0m3-5h0m2 11h0m0-1h0m1 3h0m2 0h0m3-18h0m1 16h0m2-16h0m5 6h0m2 20h0m2-26h0m2 26h0m1-15h0m2-5h0m8 11h0m7 5h0m7 4h0m5 1h0m2-29h0m3 18h0m3 9h0m2 0h0m2-27h0m0 2h0m1 7h0m2 9h0m2-17h0m4-1h0m3 29h0m1-9h0m5-4h0m1 0h0m6-1h0m1-9h0m2-1h0m4 23h0m3-17h0m3-4h0m3-7h0m6 8h0m1 6h0m1 3h0m9 7h0m1 4h0m6 1h0m6-23h0m10 22h0m3-24h0m2 5h0m0 20h0m2-2h0m4 2h0m11-7h0m5-20h0m1 12h0m4 9h0m9 5h0m1-28h0m1 5h0m5 18h0m6-14h0m2 11h0m16-18h0m4 10h0m3 4h0m8-7h0m0 17h0m3-22h0m0 17h0m3-5h0m1-2h0m6 0h0m4-7h0m0 8h0m1-11h0m2 21h0m2-12h0m2 13h0m14-15h0m0 15h0m3-8h0m2 5h0m4 4h0m2-7h0m0 8h0m1-21h0m2 3h0m3 4h0m3-3h0m2 17h0m0-9h0m5 1h0m3 5h0m8-12h0m2 5h0m19 7h0m1 2h0m6-8h0m7-18h0m1 26h0m1-24h0m4 24h0m6 0h0m0-19h0m2 21h0m1-6h0m0-21h0m19 3h0m-5 40h0m-2-1h0m0-4h0m-2-2h0m-1 10h0m-2-15h0m-1-1h0m-7 13h0m-3 0h0m0-13h0m-1 25h0m-13-12h0m-2 11h0m-1-5h0m-1-7h0m-1 15h0m-1 0h0m-3-11h0m-5-4h0m-3-3h0m-1 3h0m-1-12h0m-3 27h0m-1-8h0m-5-16h0m-1 21h0m-4-25h0m-3 13h0m0-8h0m-3 9h0m-1 5h0m-1-5h0m-1-1h0m-9 13h0m-4-17h0m-1 6h0m-2 8h0m0-11h0m-5-7h0m0 18h0m-1-6h0m-5-4h0m-7-2h0m-4-7h0m0-2h0m-5 7h0m-8 2h0m-1-7h0m-4 22h0m-3-23h0m-1 0h0m-2 25h0m-8-24h0m-1 2h0m-2 2h0m0-7h0m-23 2h0m-2 3h0m-4 10h0m-5 2h0m-4 2h0m-7-11h0m-4 14h0m-3-11h0m-1-2h0m-7-11h0m-4 9h0m0 17h0m0-25h0m-4 19h0m-2 2h0m0-4h0m-1 3h0m-2-20h0m-6 28h0m-3-1h0m-3-20h0m0 2h0m-3 4h0m0-1h0m-7 12h0m-2 3h0m-7 1h0m-1-2h0m-2-17h0m0 12h0m-6-1h0m0-8h0m-1-10h0m-2 25h0m-1-17h0m-7 3h0m-4-8h0m-5 2h0m-5 3h0m-1 8h0m-2-15h0m-7 17h0m-1-6h0m-1 14h0m-1-25h0m-1 8h0m-10-6h0m0-5h0m-3 14h0m-4 13h0m-3-28h0m-7 9h0m-1-9h0m-3 22h0m-1-8h0m-6 6h0m-1 3h0m-3-6h0m-4-14h0m0 0h0m-3 26h0m-1-1h0m0-21h0m-4 2h0m-1 20h0m-3-7h0m-4-22h0m-6 20h0m-5 0h0m-2-8h0m-3-8h0m-10 10h0m-3-5h0m-2-8h0m-2 21h0m-3 0h0m-4-6h0m0-10h0m0-6h0m-6 21h0m-8 3h0m-3-13h0m-6-7h0m-2 9h0m40 27h0m2 17h0m3-16h0m6-5h0m0 20h0m10-17h0m1 13h0m1 4h0m0-19h0m4 20h0m0-12h0m3 1h0m4-5h0m3 11h0m0-5h0m1 5h0m2-7h0m1 8h0m1-22h0m3 13h0m7 6h0m0 5h0m2-11h0m5-5h0m4 17h0m1-4h0m7-15h0m0 4h0m13-7h0m2 19h0m3-22h0m6 24h0m5-25h0m1 14h0m2 1h0m6-8h0m7 9h0m5-15h0m5 12h0m5 7h0m8-20h0m8 4h0m0 12h0m2 8h0m1 2h0m3-4h0m1-7h0m3 9h0m14 2h0m9-9h0m0 5h0m5-12h0m1 2h0m14-1h0m0 3h0m1 11h0m0-17h0m1-3h0m0 0h0m7 11h0m1-13h0m1 12h0m1 14h0m0-4h0m6-5h0m4-5h0m3-15h0m1 19h0m4-15h0m4 11h0m1 14h0m0-28h0m6 17h0m8-17h0m1 10h0m1-4h0m6 9h0m1 13h0m1-11h0m3-10h0m2 11h0m3 2h0m0-11h0m1-1h0m7 2h0m10-11h0m4 21h0m2 0h0m3-21h0m1 12h0m0-12h0m1 18h0m3-17h0m0 19h0m3-1h0m1-5h0m8-4h0m4 3h0m2 10h0m4-15h0m1 16h0m2-10h0m5-14h0m1 23h0m9-23h0m3 1h0m1 4h0m4 4h0m2 14h0m0-23h0m16 27h0m5-10h0m4 39h0m-10-25h0m-1 16h0m-6-15h0m-7 13h0m-1 3h0m-1-2h0m-5-5h0m-1 7h0m-4-7h0m0 15h0m-5-11h0m0 7h0m0-16h0m-5 8h0m-3-11h0m-1-1h0m-2 24h0m-4-22h0m0 4h0m-2 6h0m-1-1h0m-10-12h0m-2 28h0m-1-27h0m-3 15h0m-1-6h0m0 14h0m-2-16h0m-5 6h0m-3-10h0m-7 5h0m-9 15h0m-4-9h0m0 6h0m-1 4h0m-1-13h0m-2-12h0m-4 25h0m-4-23h0m-1 8h0m0 14h0m-1-6h0m-5 8h0m0-11h0m-6-16h0m0 7h0m-3 20h0m0 2h0m-22-22h0m-2 1h0m-3 0h0m0 15h0m-3 0h0m-2-18h0m-1 4h0m-4 6h0m-2-2h0m-1-7h0m-3 7h0m-3 2h0m-1 8h0m0 6h0m-2-14h0m-7 0h0m-2 2h0m-2-1h0m-1-10h0m-8 0h0m-1 7h0m0-4h0m-1 12h0m-2-9h0m-1 0h0m-2 1h0m-1-9h0m-6 3h0m0 1h0m-1-1h0m-2 21h0m-2-11h0m-2-1h0m-1-14h0m-1 14h0m-5 4h0m0 0h0m0-7h0m-4-12h0m-4 6h0m-3 0h0m-1 1h0m-6 21h0m-1-21h0m-2 7h0m-1-2h0m-2-9h0m-3 16h0m-2-20h0m-5 3h0m0 3h0m-2 0h0m-6 19h0m-1-5h0m-2 0h0m-7-2h0m-8-3h0m-5 11h0m-5-25h0m0 26h0m-4-19h0m-5 19h0m0-3h0m-3-3h0m-3-10h0m-3 12h0m-1-11h0m0 1h0m0 5h0m-6-7h0m-1 18h0m-11-17h0m-2-10h0m-2 16h0m-2 1h0m-3-10h0m-7 19h0m-4-28h0m-1 12h0m-2-10h0m-1-1h0m0 6h0m-2 19h0m0-21h0m-7-1h0m-1 14h0m-1-11h0m-1-4h0m-17 11h0m35 32h0m0-12h0m5 14h0m2 9h0m5-4h0m3-13h0m1 4h0m2-10h0m3 3h0m4 0h0m4 21h0m3-21h0m3 8h0m0 2h0m3 12h0m7-8h0m4 0h0m1 6h0m6-12h0m2-9h0m6-2h0m0 11h0m0-1h0m5-8h0m4 19h0m3-19h0m2 5h0m2 13h0m3-8h0m9-12h0m1 18h0m1 0h0m1-7h0m14-10h0m5-4h0m3 13h0m0-10h0m8 3h0m1 2h0m3 12h0m0-11h0m0 8h0m2 0h0m5 8h0m2 3h0m1-12h0m2-12h0m2 0h0m2-1h0m5 17h0m6-19h0m9 24h0m2-5h0m1 2h0m3 1h0m3-12h0m3-3h0m4 7h0m1-12h0m2 14h0m10-13h0m2 1h0m4 20h0m3-8h0m5-6h0m4-3h0m2-2h0m1-5h0m0 5h0m2 14h0m2-14h0m1 20h0m1-19h0m2-4h0m2 0h0m5 23h0m3-11h0m8-1h0m1 9h0m1-2h0m0-10h0m1-11h0m1 4h0m4 8h0m3 8h0m1-9h0m0-2h0m1 14h0m3-20h0m1 5h0m10 1h0m5 13h0m4 0h0m1-18h0m2 16h0m2-6h0m1-10h0m1-4h0m11 27h0m1-1h0m0-14h0m0 8h0m0-15h0m5 18h0m1-11h0m4-2h0m1-11h0m0 10h0m0-4h0m1 15h0m3-4h0m3-1h0m1-3h0m1 1h0m1-13h0m9 3h0m12 1h0m1-1h0m5 20h0m-3 35h0m-30-26h0m-1 13h0m-1 9h0m-11 1h0m-4-14h0m-1 4h0m-1-2h0m-2 9h0m-1-10h0m-2-12h0m-3 22h0m-1-4h0m-2 7h0m-5-21h0m-1 16h0m0 7h0m-3-16h0m-1 2h0m-2 8h0m-7-21h0m-1 13h0m-4 10h0m-4-9h0m-6-8h0m-8 19h0m-5-13h0m-1-10h0m-5 2h0m-2-4h0m-2 18h0m-2 8h0m-2-16h0m-1 4h0m-3-8h0m-2 2h0m0 15h0m-2-22h0m-3 7h0m-3-4h0m-2 9h0m-2-13h0m-2 14h0m-1 0h0m-7-13h0m-1 10h0m0-8h0m-2 7h0m-1 18h0m0-27h0m-5 17h0m-3 1h0m-5-1h0m-1 4h0m0-9h0m-2 6h0m-5-2h0m0-3h0m0 3h0m0-12h0m-4 13h0m-3-2h0m-2 11h0m-10-8h0m-2-7h0m0 11h0m-2-2h0m-7-11h0m-2-7h0m-6-2h0m-7 23h0m-1 4h0m-1-11h0m-1-3h0m0-4h0m-6 1h0m-3 8h0m-7-6h0m-2 9h0m-2-4h0m-5 9h0m-5-11h0m-2 12h0m0-16h0m-4 10h0m-1-10h0m-1-12h0m-3 1h0m-8 20h0m-5 2h0m-3-6h0m0-11h0m-7 9h0m-2-15h0m-1 17h0m-1-8h0m-4-8h0m-6-1h0m0 6h0m-3 17h0m-1-2h0m-3 3h0m0 4h0m0-25h0m-2-1h0m-1 22h0m-4-2h0m-9 3h0m0-14h0m-9-9h0m-18 5h0m20 35h0m1-6h0m10 7h0m5-7h0m0-4h0m9-1h0m2 12h0m2 5h0m1-19h0m6 13h0m3 6h0m1-2h0m0 0h0m3 12h0m1-14h0m0 2h0m3-15h0m8 22h0m1-1h0m0-18h0m1 11h0m1 5h0m4 6h0m1-8h0m4-8h0m6 4h0m2 1h0m0-13h0m4 18h0m1 8h0m3-21h0m2 1h0m6 6h0m4 10h0m1-13h0m8-3h0m2 15h0m1 1h0m1-7h0m4-4h0m3-13h0m2 4h0m1 19h0m7-8h0m1 4h0m6-11h0m1 18h0m1-15h0m4 0h0m1 6h0m1-1h0m0-13h0m1 23h0m3-25h0m6 10h0m2-9h0m3 9h0m4-1h0m1-6h0m1-1h0m2 25h0m4-10h0m3 4h0m1-9h0m0 9h0m1-19h0m6 7h0m6-9h0m2 25h0m5-18h0m5 18h0m2-4h0m2 4h0m0-19h0m1 12h0m0 3h0m2-21h0m8 20h0m4-7h0m8-8h0m4 5h0m1 17h0m1-17h0m1 12h0m2-10h0m9-6h0m1 13h0m1-9h0m8-11h0m2 11h0m5 2h0m1-13h0m4 6h0m3 3h0m8 13h0m5-17h0m6 3h0m-7 23h0m-11 6h0m0-4h0m-9 3h0m-3-3h0m-1-3h0m-7 23h0m-3-10h0m-2 0h0m-3-2h0m-1-10h0m-1 1h0m-3 21h0m-7 5h0m0-26h0m0-1h0m-2 16h0m-3-2h0m-1-13h0m-1 12h0m-2 1h0m-2-6h0m-6-6h0m-2 17h0m-4 7h0m-1-5h0m0-14h0m-2-6h0m0 24h0m-9-1h0m-5-23h0m-1 7h0m-6 5h0m-1-12h0m-3-3h0m0 20h0m-1-14h0m-2-4h0m-1 6h0m0-1h0m-12 21h0m0-15h0m-1 1h0m0-6h0m-12-2h0m0 14h0m-3-6h0m-1 6h0m-2-7h0m-6-8h0m-3-5h0m-6 23h0m-3-15h0m-2-6h0m-3 21h0m-5-8h0m-1 7h0m-4-14h0m-3 0h0m0 9h0m-1-11h0m-2 6h0m-2 9h0m-3 7h0m-6-21h0m-2 21h0m-1 0h0m-2-15h0m-12 11h0m-8 2h0m-1-7h0m-10 5h0m-1-12h0m-1 12h0m-2-21h0m-2 25h0m-7-11h0m-1-2h0m-2 8h0m-1-21h0m-1 8h0m-6 5h0m-6-10h0m-2 9h0m0 10h0m-21-17h0m21 51h0m16-27h0m1 16h0m1-16h0m7 5h0m1 22h0m1-28h0m1 8h0m7 19h0m0-25h0m3 17h0m2-7h0m0-4h0m4 10h0m1-12h0m3 3h0m4 8h0m5 8h0m6 4h0m4-29h0m0 22h0m3-11h0m1 3h0m10 9h0m12 0h0m1 3h0m3-14h0m0-8h0m9 7h0m0 11h0m4 7h0m3-15h0m0 5h0m1-12h0m0 13h0m0-18h0m1 8h0m0-10h0m3 25h0m3-24h0m2 6h0m4 1h0m2-5h0m1 0h0m1 23h0m1-13h0m1 5h0m3-5h0m3-8h0m1-4h0m6 19h0m1 0h0m2 9h0m4-17h0m1 7h0m2-4h0m6-13h0m1 7h0m3-5h0m0 22h0m6 1h0m1-9h0m6-12h0m1-2h0m0 17h0m3-16h0m4 17h0m1-2h0m9 7h0m6-11h0m6-10h0m6-3h0m-38 27h0m-9 25h0m-11-23h0m-8 10h0m-13-7h0m-9 12h0m-4-11h0m-6 5h0m-2-8h0m0 17h0m-9-14h0m-1 12h0m-8 1h0m-1 0h0m-4-1h0m-2 6h0m-3 5h0m-5-6h0m-1-20h0m-1 19h0m-9-12h0m-2-4h0m-8 23h0m-6-3h0m-7-18h0m-2 19h0m-7-15h0m0-10h0m-2 27h0m-1-24h0m-4 21h0m-8-25h0m29 35h0m6 12h0m24 3h0m15-21h0m5 9h0m1-5h0m1 5h0"/>
<path transform="scale(.1)" stroke="#e2a23e" stroke-width="11" stroke-linecap="square" fill="none" d="M1461 593h0m-215 32h0m44-4h0m14 8h0m13-11h0m9-2h0m32 6h0m4-6h0m14 13h0m5-3h0m13-8h0m4-8h0m2 6h0m4-5h0m6 13h0m17 5h0m3-5h0m7-8h0m13-16h0m10 23h0m3-10h0m18 2h0m12-12h0m32 48h0m-33 8h0m-7 0h0m0-12h0m-6 11h0m-3-2h0m-10-23h0m-4-2h0m-6 1h0m-14 12h0m-3 11h0m-1-15h0m0 16h0m-15-26h0m-9 4h0m-5 15h0m-10-11h0m-3 6h0m-1 4h0m-10-1h0m-7-10h0m-2 16h0m-5 4h0m-8-20h0m-1 20h0m-4-18h0m-4-8h0m-10 25h0m-1 3h0m-4-25h0m-9 12h0m-4 10h0m-5-26h0m0 4h0m-9 14h0m-23-14h0m-30 10h0m-16 9h0m-2-7h0m0 7h0m-3-5h0m-2 3h0m-14-6h0m-12-12h0m-9 23h0m-29-8h0m-7-3h0m-12 11h0m-32-1h0m-23-4h0m-38 7h0m-4 30h0m3-6h0m4-7h0m2 11h0m3-20h0m2-6h0m6 10h0m4 7h0m10-10h0m9 9h0m3-1h0m3 8h0m11-6h0m2-12h0m3 17h0m5-21h0m6 18h0m44 4h0m17-3h0m12 7h0m3-20h0m6 21h0m1-4h0m12-11h0m5 10h0m7-14h0m6-6h0m22 10h0m19 9h0m2-19h0m1 16h0m1-9h0m56 7h0m31 1h0m6-13h0m13-3h0m5 9h0m3 1h0m9 0h0m16-5h0m27-4h0m5 11h0m20 3h0m7-16h0m-42 45h0m-39-13h0m-9 26h0m-17-15h0m-16-5h0m-13 0h0m-9-3h0m-21 12h0m-43 8h0m-4-5h0m-15 2h0m-2-19h0m-4 4h0m-2 17h0m-3-17h0m-7 15h0m-10-12h0m-18-7h0m-2 4h0m-25 9h0m-6-17h0m-2 15h0m-4-13h0m-34 27h0m-17-9h0m-8 6h0m-3-14h0m0 13h0m-15-16h0m-1 20h0m-23-16h0m-21 0h0m7 31h0m5 4h0m2-18h0m0 21h0m2 1h0m5-10h0m21 5h0m2-8h0m7-8h0m17 12h0m4-2h0m15 5h0m19 12h0m38-27h0m136 5h0m5 10h0m134 6h0m22 8h0m-10 23h0m-185 6h0m-29-22h0m-257-6h0m19 54h0m174-19h0m129 5h0m2 18h0m147-10h0m-34 24h0m-165 15h0m-67-22h0m-110 10h0m-16 8h0m-67 16h0m22 1h0m214 17h0m8-10h0m60 6h0m-18 15h0m-356 43h0m55 2h0m168 5h0m19-17h0m252 2h0m-264 37h0m-59-1h0m41 39h0m351 16h0m-208-9h0m-237 16h0m-133-19h0m-6 39h0m72 2h0m12-2h0m235-3h0m89-3h0m31-5h0m71 35h0m-91 11h0m-93 5h0m-214 9h0m154-1h0m16 1h0m22 16h0m30-12h0m125 17h0m91-14h0m0 23h0m-153 22h0m-51 1h0m-26-24h0m-17 11h0m-88-3h0m-105 24h0m109 6h0m168 8h0m102-2h0m27 13h0m-256 17h0m-30 31h0m70 3h0m49-3h0m162-3h0m-7 36h0m-204 3h0m-49-6h0m-79 2h0m96 32h0m106-15h0m15-2h0m71 55h0m-239-21h0m-29 40h0m58 26h0m11 43h0m45-9h0m15-12h0m40-3h0m21 12h0m-74 42h0m-35-8h0"/>
<path transform="scale(.1)" stroke="#a01c1c" stroke-width="11" stroke-linecap="square" fill="none" d="M1244 259h0m90 9h0m2 1h0m80 20h0m-139-19h0m-88 12h0m102 41h0m49 13h0m-41-1h0m-58 7h0m-16-6h0m-86 6h0m-18 23h0m39 5h0m91 15h0m95-23h0m176-1h0m-76 45h0m-25-15h0m-172 15h0m-36 35h0m37-19h0m11 3h0m16-2h0m48 4h0m3-5h0m25 19h0m17 28h0m-112 3h0m-65-9h0m-63-2h0m-25 16h0m42 29h0m35-17h0m18 4h0m4-8h0m17 2h0m23-2h0m46 19h0m218 24h0m-2-11h0m-6 11h0m-34-1h0m-4-7h0m-367 6h0m13 32h0m80 7h0m31 4h0m77-1h0m7-6h0m39-5h0m12 2h0m11 10h0m12-7h0m17-13h0m20 14h0m16-10h0m30 6h0m3 3h0m8-3h0m5 36h0m-16-15h0m-19-4h0m-1 6h0m-7 3h0m-23 2h0m-43-1h0m-1 8h0m-42-4h0m-15-18h0m-26 9h0m-46 12h0m-62 3h0m-2-17h0m-49 16h0m-25 16h0m42-3h0m14-6h0m53 20h0m0 6h0m23 0h0m3-16h0m10-10h0m5 15h0m45 6h0m20-19h0m7 13h0m69-12h0m4 15h0m21-17h0m27 24h0m8-9h0m29-7h0m-125 26h0m-34 1h0m-62-3h0m-28 4h0m-43 0h0m-3 2h0m-23 3h0"/>
<path transform="scale(.1)" stroke="#4b0a0c" stroke-width="10" stroke-linecap="square" fill="none" d="M1030 417h0m-55-3h0m-146-18h0m1 45h0m199 36h0m-112-2h0m-24-9h0m-26-15h0m-91 24h0m145 33h0m14-22h0m58 9h0m112 31h0m-329 5h0m131 28h0m4-5h0m127 33h0m-236 5h0m39 8h0m25 23h0m123-10h0m109 36h0m-274 29h0m165-15h0m27 17h0m-126 30h0m126 21h0m-186 75h0m52 16h0m-12 46h0"/>
<line x1="25.20" y1="10.00" x2="25.20" y2="150.30" stroke="#222" stroke-width="0.7"/>
<line x1="25.20" y1="150.30" x2="160.50" y2="150.30" stroke="#222" stroke-width="0.7"/>
<line x1="23.20" y1="13.75" x2="25.20" y2="13.75" stroke="#222" stroke-width="0.7"/>
<text x="21.00" y="16.58" font-size="7.9" text-anchor="end" fill="#1a1a1a">10</text>
<line x1="23.20" y1="45.20" x2="25.20" y2="45.20" stroke="#222" stroke-width="0.7"/>
<text x="21.00" y="48.03" font-size="7.9" text-anchor="end" fill="#1a1a1a">5</text>
<line x1="23.20" y1="76.70" x2="25.20" y2="76.70" stroke="#222" stroke-width="0.7"/>
<text x="21.00" y="79.53" font-size="7.9" text-anchor="end" fill="#1a1a1a">0</text>
<line x1="23.20" y1="108.20" x2="25.20" y2="108.20" stroke="#222" stroke-width="0.7"/>
<text x="21.00" y="111.03" font-size="7.9" text-anchor="end" fill="#1a1a1a">−5</text>
<line x1="23.20" y1="139.50" x2="25.20" y2="139.50" stroke="#222" stroke-width="0.7"/>
<text x="21.00" y="142.33" font-size="7.9" text-anchor="end" fill="#1a1a1a">−10</text>
<line x1="45.00" y1="150.30" x2="45.00" y2="152.30" stroke="#222" stroke-width="0.7"/>
<text x="45.00" y="162.03" font-size="7.9" text-anchor="middle" fill="#1a1a1a">−10</text>
<line x1="75.70" y1="150.30" x2="75.70" y2="152.30" stroke="#222" stroke-width="0.7"/>
<text x="75.70" y="162.03" font-size="7.9" text-anchor="middle" fill="#1a1a1a">−5</text>
<line x1="106.20" y1="150.30" x2="106.20" y2="152.30" stroke="#222" stroke-width="0.7"/>
<text x="106.20" y="162.03" font-size="7.9" text-anchor="middle" fill="#1a1a1a">0</text>
<line x1="136.70" y1="150.30" x2="136.70" y2="152.30" stroke="#222" stroke-width="0.7"/>
<text x="136.70" y="162.03" font-size="7.9" text-anchor="middle" fill="#1a1a1a">5</text>
<text x="95.60" y="172.77" font-size="8.3" text-anchor="middle" fill="#111">UMAP_1</text>
<text x="0" y="3.01" font-size="8.4" text-anchor="middle" fill="#111" transform="translate(4.30,77.30) rotate(-90)">UMAP_2</text>
<text x="39.80" y="23.24" font-size="8.2" fill="#1a1a1a" style="stroke:#1a1a1a;stroke-width:0.45px">TIM_C1QA</text>
<text x="39.80" y="33.74" font-size="8.2" fill="#1a1a1a" style="stroke:#1a1a1a;stroke-width:0.45px">Dividing</text>
<text x="119.20" y="45.94" font-size="8.2" fill="#1a1a1a" style="stroke:#1a1a1a;stroke-width:0.45px">TIM_C1QA</text>
<text x="38.70" y="110.24" font-size="8.2" fill="#1a1a1a" style="stroke:#1a1a1a;stroke-width:0.45px">TAN−PMN</text>
<text x="118.00" y="123.44" font-size="8.2" fill="#1a1a1a" style="stroke:#1a1a1a;stroke-width:0.45px">TIM_VCAN</text>
<circle cx="31.50" cy="184.20" r="2.85" fill="#4b0a0c"/>
<text x="41.20" y="187.17" font-size="8.3" fill="#111">TAN−PMN</text>
<circle cx="31.50" cy="194.10" r="2.85" fill="#a01c1c"/>
<text x="41.20" y="197.07" font-size="8.3" fill="#111">TIM_VCAN</text>
<circle cx="31.50" cy="204.00" r="2.85" fill="#e2a23e"/>
<text x="41.20" y="206.97" font-size="8.3" fill="#111">TIM_C1QA</text>
<circle cx="31.50" cy="213.90" r="2.85" fill="#ff0000"/>
<text x="41.20" y="216.87" font-size="8.3" fill="#111">TIM_C1QA_Dividing</text>
<text x="205.30" y="15.47" font-size="8.3" text-anchor="end" fill="#111" font-style="italic">CSF3R</text>
<line x1="206.00" y1="12.50" x2="210.00" y2="12.50" stroke="#000" stroke-width="0.5"/>
<circle cx="215.00" cy="12.50" r="3.63" fill="#fbcf1f"/>
<circle cx="224.10" cy="12.50" r="3.63" fill="#453a84"/>
<circle cx="233.20" cy="12.50" r="3.30" fill="#46185e"/>
<circle cx="242.30" cy="12.50" r="3.08" fill="#46185e"/>
<text x="205.30" y="23.90" font-size="8.3" text-anchor="end" fill="#111" font-style="italic">ADGRG3</text>
<line x1="206.00" y1="20.93" x2="210.00" y2="20.93" stroke="#000" stroke-width="0.5"/>
<circle cx="215.00" cy="20.93" r="3.30" fill="#fbcf1f"/>
<circle cx="224.10" cy="20.93" r="2.42" fill="#46185e"/>
<circle cx="233.20" cy="20.93" r="1.98" fill="#46185e"/>
<circle cx="242.30" cy="20.93" r="1.98" fill="#46185e"/>
<text x="205.30" y="32.33" font-size="8.3" text-anchor="end" fill="#111" font-style="italic">CXCL8</text>
<line x1="206.00" y1="29.36" x2="210.00" y2="29.36" stroke="#000" stroke-width="0.5"/>
<circle cx="215.00" cy="29.36" r="3.74" fill="#fbcf1f"/>
<circle cx="224.10" cy="29.36" r="3.52" fill="#46185e"/>
<circle cx="233.20" cy="29.36" r="3.30" fill="#46185e"/>
<circle cx="242.30" cy="29.36" r="3.30" fill="#46185e"/>
<text x="205.30" y="40.76" font-size="8.3" text-anchor="end" fill="#111" font-style="italic">FCGR3B</text>
<line x1="206.00" y1="37.79" x2="210.00" y2="37.79" stroke="#000" stroke-width="0.5"/>
<circle cx="215.00" cy="37.79" r="3.30" fill="#fbcf1f"/>
<circle cx="224.10" cy="37.79" r="1.87" fill="#46185e"/>
<circle cx="233.20" cy="37.79" r="1.87" fill="#46185e"/>
<circle cx="242.30" cy="37.79" r="1.87" fill="#46185e"/>
<text x="205.30" y="49.19" font-size="8.3" text-anchor="end" fill="#111" font-style="italic">CXCR4</text>
<line x1="206.00" y1="46.22" x2="210.00" y2="46.22" stroke="#000" stroke-width="0.5"/>
<circle cx="215.00" cy="46.22" r="3.52" fill="#fbcf1f"/>
<circle cx="224.10" cy="46.22" r="3.52" fill="#46185e"/>
<circle cx="233.20" cy="46.22" r="3.52" fill="#46185e"/>
<circle cx="242.30" cy="46.22" r="3.52" fill="#46185e"/>
<text x="205.30" y="57.62" font-size="8.3" text-anchor="end" fill="#111" font-style="italic">VCAN</text>
<line x1="206.00" y1="54.65" x2="210.00" y2="54.65" stroke="#000" stroke-width="0.5"/>
<circle cx="215.00" cy="54.65" r="2.20" fill="#46185e"/>
<circle cx="224.10" cy="54.65" r="3.85" fill="#fbcf1f"/>
<circle cx="233.20" cy="54.65" r="2.86" fill="#482475"/>
<circle cx="242.30" cy="54.65" r="3.08" fill="#482475"/>
<text x="205.30" y="66.05" font-size="8.3" text-anchor="end" fill="#111" font-style="italic">IL1B</text>
<line x1="206.00" y1="63.08" x2="210.00" y2="63.08" stroke="#000" stroke-width="0.5"/>
<circle cx="215.00" cy="63.08" r="3.52" fill="#2a8b8a"/>
<circle cx="224.10" cy="63.08" r="3.74" fill="#bcd042"/>
<circle cx="233.20" cy="63.08" r="3.19" fill="#5c1a60"/>
<circle cx="242.30" cy="63.08" r="3.30" fill="#8a5a8c"/>
<text x="205.30" y="74.48" font-size="8.3" text-anchor="end" fill="#111" font-style="italic">NLRP3</text>
<line x1="206.00" y1="71.51" x2="210.00" y2="71.51" stroke="#000" stroke-width="0.5"/>
<circle cx="215.00" cy="71.51" r="2.20" fill="#46185e"/>
<circle cx="224.10" cy="71.51" r="3.74" fill="#fbcf1f"/>
<circle cx="233.20" cy="71.51" r="3.08" fill="#482475"/>
<circle cx="242.30" cy="71.51" r="3.08" fill="#46185e"/>
<text x="205.30" y="82.91" font-size="8.3" text-anchor="end" fill="#111" font-style="italic">VEGFA</text>
<line x1="206.00" y1="79.94" x2="210.00" y2="79.94" stroke="#000" stroke-width="0.5"/>
<circle cx="215.00" cy="79.94" r="2.86" fill="#482475"/>
<circle cx="224.10" cy="79.94" r="3.96" fill="#fbcf1f"/>
<circle cx="233.20" cy="79.94" r="3.52" fill="#40449a"/>
<circle cx="242.30" cy="79.94" r="3.30" fill="#3a0a50"/>
<text x="205.30" y="91.34" font-size="8.3" text-anchor="end" fill="#111" font-style="italic">C1QA</text>
<line x1="206.00" y1="88.37" x2="210.00" y2="88.37" stroke="#000" stroke-width="0.5"/>
<circle cx="215.00" cy="88.37" r="2.53" fill="#7a4a86"/>
<circle cx="224.10" cy="88.37" r="2.97" fill="#6a3a7a"/>
<circle cx="233.20" cy="88.37" r="3.63" fill="#bcd042"/>
<circle cx="242.30" cy="88.37" r="3.63" fill="#2a8b8a"/>
<text x="205.30" y="99.77" font-size="8.3" text-anchor="end" fill="#111" font-style="italic">APOE</text>
<line x1="206.00" y1="96.80" x2="210.00" y2="96.80" stroke="#000" stroke-width="0.5"/>
<circle cx="215.00" cy="96.80" r="2.31" fill="#3a0a50"/>
<circle cx="224.10" cy="96.80" r="2.86" fill="#3a0a50"/>
<circle cx="233.20" cy="96.80" r="3.74" fill="#fbcf1f"/>
<circle cx="242.30" cy="96.80" r="3.41" fill="#3b5a9b"/>
<text x="205.30" y="108.20" font-size="8.3" text-anchor="end" fill="#111" font-style="italic">TREM2</text>
<line x1="206.00" y1="105.23" x2="210.00" y2="105.23" stroke="#000" stroke-width="0.5"/>
<circle cx="215.00" cy="105.23" r="2.20" fill="#a58aa8"/>
<circle cx="224.10" cy="105.23" r="2.75" fill="#6a3a7a"/>
<circle cx="233.20" cy="105.23" r="3.63" fill="#8fd154"/>
<circle cx="242.30" cy="105.23" r="3.52" fill="#27a08a"/>
<text x="205.30" y="116.63" font-size="8.3" text-anchor="end" fill="#111" font-style="italic">AXL</text>
<line x1="206.00" y1="113.66" x2="210.00" y2="113.66" stroke="#000" stroke-width="0.5"/>
<circle cx="215.00" cy="113.66" r="2.20" fill="#c8c8c8"/>
<circle cx="224.10" cy="113.66" r="2.75" fill="#482475"/>
<circle cx="233.20" cy="113.66" r="3.63" fill="#8fd154"/>
<circle cx="242.30" cy="113.66" r="3.52" fill="#27908a"/>
<text x="205.30" y="125.06" font-size="8.3" text-anchor="end" fill="#111" font-style="italic">MERTK</text>
<line x1="206.00" y1="122.09" x2="210.00" y2="122.09" stroke="#000" stroke-width="0.5"/>
<circle cx="215.00" cy="122.09" r="2.20" fill="#a58aa8"/>
<circle cx="224.10" cy="122.09" r="2.75" fill="#46185e"/>
<circle cx="233.20" cy="122.09" r="3.63" fill="#bcd042"/>
<circle cx="242.30" cy="122.09" r="3.52" fill="#2a7a90"/>
<text x="205.30" y="133.49" font-size="8.3" text-anchor="end" fill="#111" font-style="italic">MKI67</text>
<line x1="206.00" y1="130.52" x2="210.00" y2="130.52" stroke="#000" stroke-width="0.5"/>
<circle cx="215.00" cy="130.52" r="1.98" fill="#482475"/>
<circle cx="224.10" cy="130.52" r="1.98" fill="#482475"/>
<circle cx="233.20" cy="130.52" r="2.42" fill="#482475"/>
<circle cx="242.30" cy="130.52" r="3.74" fill="#fbcf1f"/>
<text x="205.30" y="141.92" font-size="8.3" text-anchor="end" fill="#111" font-style="italic">STMN1</text>
<line x1="206.00" y1="138.95" x2="210.00" y2="138.95" stroke="#000" stroke-width="0.5"/>
<circle cx="215.00" cy="138.95" r="2.20" fill="#46185e"/>
<circle cx="224.10" cy="138.95" r="2.42" fill="#46185e"/>
<circle cx="233.20" cy="138.95" r="3.30" fill="#40449a"/>
<circle cx="242.30" cy="138.95" r="3.96" fill="#fbcf1f"/>
<text x="205.30" y="150.35" font-size="8.3" text-anchor="end" fill="#111" font-style="italic">TOP2A</text>
<line x1="206.00" y1="147.38" x2="210.00" y2="147.38" stroke="#000" stroke-width="0.5"/>
<circle cx="215.00" cy="147.38" r="1.76" fill="#482475"/>
<circle cx="224.10" cy="147.38" r="1.76" fill="#482475"/>
<circle cx="233.20" cy="147.38" r="2.09" fill="#482475"/>
<circle cx="242.30" cy="147.38" r="3.74" fill="#fbcf1f"/>
<text x="205.30" y="158.78" font-size="8.3" text-anchor="end" fill="#111" font-style="italic">TUBA1B</text>
<line x1="206.00" y1="155.81" x2="210.00" y2="155.81" stroke="#000" stroke-width="0.5"/>
<circle cx="215.00" cy="155.81" r="2.53" fill="#46185e"/>
<circle cx="224.10" cy="155.81" r="3.85" fill="#482475"/>
<circle cx="233.20" cy="155.81" r="3.85" fill="#3f4a96"/>
<circle cx="242.30" cy="155.81" r="3.96" fill="#fbcf1f"/>
<text x="205.30" y="167.21" font-size="8.3" text-anchor="end" fill="#111" font-style="italic">HIST1H4C</text>
<line x1="206.00" y1="164.24" x2="210.00" y2="164.24" stroke="#000" stroke-width="0.5"/>
<circle cx="215.00" cy="164.24" r="2.42" fill="#46185e"/>
<circle cx="224.10" cy="164.24" r="3.63" fill="#482475"/>
<circle cx="233.20" cy="164.24" r="3.63" fill="#463a88"/>
<circle cx="242.30" cy="164.24" r="3.96" fill="#fbcf1f"/>
<line x1="210.00" y1="7.50" x2="210.00" y2="168.70" stroke="#000" stroke-width="0.6"/>
<line x1="210.00" y1="168.70" x2="246.50" y2="168.70" stroke="#000" stroke-width="0.6"/>
<line x1="215.00" y1="168.70" x2="215.00" y2="170.50" stroke="#000" stroke-width="0.5"/>
<line x1="224.10" y1="168.70" x2="224.10" y2="170.50" stroke="#000" stroke-width="0.5"/>
<line x1="233.20" y1="168.70" x2="233.20" y2="170.50" stroke="#000" stroke-width="0.5"/>
<line x1="242.30" y1="168.70" x2="242.30" y2="170.50" stroke="#000" stroke-width="0.5"/>
<text x="0" y="2.94" font-size="8.2" text-anchor="end" fill="#111" transform="translate(214.50,172.50) rotate(-90)">TAN−PMN</text>
<text x="0" y="2.94" font-size="8.2" text-anchor="end" fill="#111" transform="translate(223.60,172.50) rotate(-90)">TIM_VCAN</text>
<text x="0" y="2.94" font-size="8.2" text-anchor="end" fill="#111" transform="translate(232.70,172.50) rotate(-90)">TIM_C1QA</text>
<text x="0" y="2.94" font-size="8.2" text-anchor="end" fill="#111" transform="translate(241.80,172.50) rotate(-90)">TIM_C1QA</text>
<text x="0" y="2.94" font-size="8.2" text-anchor="end" fill="#111" transform="translate(251.20,172.50) rotate(-90)">(Dividing)</text>
<defs><linearGradient id="vir" x1="0" y1="1" x2="0" y2="0"><stop offset="0" stop-color="#d8d8d8"/><stop offset="0.06" stop-color="#9a7aa0"/><stop offset="0.18" stop-color="#440154"/><stop offset="0.38" stop-color="#3b528b"/><stop offset="0.55" stop-color="#21918c"/><stop offset="0.72" stop-color="#4cc26c"/><stop offset="0.86" stop-color="#a5d945"/><stop offset="1.0" stop-color="#f8c820"/></linearGradient></defs>
<rect x="270.70" y="7.50" width="9.30" height="88.50" fill="url(#vir)"/>
<line x1="270.70" y1="25.00" x2="272.50" y2="25.00" stroke="#fff" stroke-width="0.6"/>
<line x1="278.20" y1="25.00" x2="280.00" y2="25.00" stroke="#fff" stroke-width="0.6"/>
<text x="284.50" y="27.94" font-size="8.2" fill="#111">1.0</text>
<line x1="270.70" y1="42.00" x2="272.50" y2="42.00" stroke="#fff" stroke-width="0.6"/>
<line x1="278.20" y1="42.00" x2="280.00" y2="42.00" stroke="#fff" stroke-width="0.6"/>
<text x="284.50" y="44.94" font-size="8.2" fill="#111">0.5</text>
<line x1="270.70" y1="59.20" x2="272.50" y2="59.20" stroke="#fff" stroke-width="0.6"/>
<line x1="278.20" y1="59.20" x2="280.00" y2="59.20" stroke="#fff" stroke-width="0.6"/>
<text x="284.50" y="62.14" font-size="8.2" fill="#111">0.0</text>
<line x1="270.70" y1="76.00" x2="272.50" y2="76.00" stroke="#fff" stroke-width="0.6"/>
<line x1="278.20" y1="76.00" x2="280.00" y2="76.00" stroke="#fff" stroke-width="0.6"/>
<text x="284.50" y="78.94" font-size="8.2" fill="#111">−0.5</text>
<line x1="270.70" y1="93.20" x2="272.50" y2="93.20" stroke="#fff" stroke-width="0.6"/>
<line x1="278.20" y1="93.20" x2="280.00" y2="93.20" stroke="#fff" stroke-width="0.6"/>
<text x="284.50" y="96.14" font-size="8.2" fill="#111">−1.0</text>
<text x="0" y="2.94" font-size="8.2" text-anchor="middle" fill="#111" transform="translate(264.80,52.00) rotate(-90)">Scaled expression</text>
<circle cx="275.00" cy="118.00" r="1.90" fill="#000"/>
<text x="282.50" y="120.94" font-size="8.2" fill="#111">10</text>
<circle cx="275.00" cy="134.50" r="2.50" fill="#000"/>
<text x="282.50" y="137.44" font-size="8.2" fill="#111">30</text>
<circle cx="275.00" cy="151.20" r="3.00" fill="#000"/>
<text x="282.50" y="154.14" font-size="8.2" fill="#111">50</text>
<circle cx="275.00" cy="167.50" r="3.40" fill="#000"/>
<text x="282.50" y="170.44" font-size="8.2" fill="#111">70</text>
<circle cx="275.00" cy="184.50" r="3.80" fill="#000"/>
<text x="282.50" y="187.44" font-size="8.2" fill="#111">90</text>
<text x="0" y="2.94" font-size="8.2" text-anchor="middle" fill="#111" transform="translate(264.50,152.00) rotate(-90)">Percent expressed cells</text>
<text x="312.00" y="8.06" font-size="10.5" font-weight="bold">b</text>
<path transform="scale(.1)" stroke="#d9d9d9" stroke-width="14" stroke-linecap="square" fill="none" d="M3896 173h0m-24 1h0m-12-5h0m-71 20h0m5 16h0m1-9h0m2 9h0m3-2h0m1 2h0m4-3h0m0 1h0m2 3h0m2-2h0m9 1h0m9-9h0m4-4h0m1-9h0m10 10h0m1 3h0m1 2h0m0 4h0m1-21h0m8 19h0m2 7h0m5-13h0m3-6h0m0 12h0m11-3h0m1-6h0m2-1h0m0 8h0m6-14h0m0 15h0m2-10h0m1 16h0m3-19h0m3 10h0m17 13h0m1-14h0m4 8h0m4 3h0m3-19h0m2 4h0m1-4h0m2 0h0m12 15h0m0-7h0m2 6h0m6-5h0m1 9h0m3 2h0m1 1h0m1-6h0m4 0h0m1-1h0m152 7h0m3-10h0m4 10h0m29 1h0m12-10h0m0 3h0m20 7h0m1-2h0m73 25h0m-6 5h0m-25 0h0m-13-12h0m0 9h0m-2-4h0m-1-3h0m-8 4h0m-2-4h0m0 0h0m-1-3h0m-3-1h0m-4 3h0m-4-13h0m-1 18h0m-4-4h0m-5-13h0m0-4h0m-2 8h0m-1-8h0m0 19h0m-1 5h0m-3 1h0m-1-1h0m-1-14h0m-1 6h0m-4 9h0m-1-22h0m-1-1h0m-1 23h0m0-21h0m-3 19h0m-1-7h0m0-2h0m0 14h0m-1-27h0m0 20h0m-4-1h0m-3-5h0m-1 7h0m0-13h0m-1 14h0m-4-16h0m0 11h0m0-17h0m0 18h0m-4-6h0m-3 13h0m0-26h0m-4 2h0m-3 9h0m0 8h0m-1-18h0m-1 2h0m0 16h0m-2-9h0m0 11h0m-2 1h0m-1-1h0m-2-21h0m-4 9h0m-1 13h0m0-14h0m-2 6h0m-3-2h0m-1 7h0m-1-13h0m-2 19h0m0-10h0m-9-5h0m-1 14h0m-2-1h0m-9 1h0m0 3h0m-2-7h0m-4 1h0m-1 1h0m-8 5h0m-73-9h0m-3 8h0m-12-7h0m-1 0h0m-8 10h0m-2-20h0m-1 3h0m-1 13h0m-3-25h0m-2 7h0m-1 17h0m-1-11h0m-2 1h0m-5 5h0m-3-1h0m-2-15h0m-2 19h0m-1-16h0m-1 12h0m0-9h0m-3 12h0m0-15h0m-4 4h0m-8-2h0m-1 21h0m-5-9h0m-4 4h0m-3-4h0m0-13h0m-10-4h0m-6 15h0m-1-9h0m-4 2h0m0 17h0m-13 0h0m-1-12h0m-3-15h0m-1 25h0m-14-5h0m-1 4h0m-10 1h0m-2-7h0m-3-10h0m-4 1h0m0 4h0m-1 2h0m-1 3h0m-2 6h0m-2 0h0m-2-20h0m-7 8h0m-1 10h0m-4 3h0m-3-24h0m0 11h0m-1 14h0m-1-8h0m-1-17h0m0 26h0m-1-10h0m-4-18h0m-6 4h0m-3-1h0m-5 10h0m-7-6h0m-1 1h0m0 19h0m0-5h0m-14-19h0m21 31h0m1 10h0m10 1h0m2 0h0m4-4h0m1 4h0m4-5h0m1-3h0m4-6h0m2 17h0m3 5h0m3-2h0m1 3h0m3-23h0m3 18h0m5 8h0m1-3h0m4 4h0m1-24h0m0 24h0m3-18h0m2 2h0m3 12h0m2-16h0m4 5h0m2 14h0m4-7h0m0-9h0m1 18h0m0-7h0m1-1h0m0-16h0m5 3h0m6 7h0m1 6h0m0-18h0m14 20h0m2-3h0m4 2h0m1 2h0m2-14h0m2-3h0m8-7h0m5 24h0m1 2h0m3-20h0m1-3h0m1 25h0m0-15h0m1 0h0m4-8h0m1 9h0m2-9h0m4-3h0m0 8h0m3-6h0m5 25h0m2-19h0m1 6h0m2-4h0m1-7h0m0 21h0m4-20h0m4 1h0m15 10h0m0-17h0m2 23h0m2-21h0m4 8h0m6-3h0m3 13h0m4-14h0m1 6h0m1 8h0m39-12h0m6 14h0m4-15h0m11 10h0m2 12h0m1-19h0m0 12h0m3 4h0m0-5h0m1 3h0m3-10h0m3 7h0m0-7h0m1 5h0m1 8h0m1-25h0m0 25h0m1-8h0m0-1h0m0-9h0m3 11h0m1-20h0m1 18h0m1 6h0m1-1h0m1 3h0m1-3h0m1-8h0m0-2h0m0 3h0m1 2h0m0-8h0m0-6h0m6 21h0m2-20h0m1 11h0m0-15h0m0 7h0m2 17h0m0-21h0m1 12h0m1 13h0m1-12h0m2-11h0m0 19h0m3-4h0m3 4h0m1-18h0m1 21h0m1-8h0m1-5h0m1-11h0m0-4h0m1 25h0m1-14h0m1 3h0m4 10h0m0-12h0m1-3h0m4 8h0m3-11h0m1 12h0m3 10h0m2 0h0m0-10h0m0-18h0m11 6h0m2-2h0m1 21h0m0-1h0m1 0h0m2-20h0m1 16h0m1-10h0m1 7h0m0 0h0m2-10h0m1 20h0m1-22h0m1 13h0m0 4h0m0-2h0m1-11h0m2 0h0m0-1h0m1 20h0m1-5h0m5-13h0m0 3h0m3-2h0m1 14h0m1 2h0m1-2h0m1-5h0m7-12h0m0-1h0m3 14h0m2-3h0m2 5h0m1 6h0m2-27h0m0 15h0m0-10h0m1 4h0m0 18h0m5-11h0m1 9h0m0-17h0m2-4h0m0-5h0m1 3h0m3 23h0m2-9h0m3 5h0m2-16h0m0-4h0m1 0h0m1 19h0m1-6h0m0-9h0m2 17h0m0-16h0m1-4h0m1-4h0m1 6h0m1 8h0m2 5h0m3 9h0m2-26h0m1 7h0m3 3h0m3 5h0m0-14h0m3 8h0m1 6h0m2-6h0m1 1h0m0-2h0m6-5h0m1 19h0m2-3h0m5-1h0m3 1h0m6 6h0m3-2h0m1 3h0m8-1h0m15 27h0m0 5h0m-3-12h0m-1 8h0m-17-6h0m-1-6h0m0-13h0m-2 8h0m-2 14h0m-2 4h0m-3 1h0m-2-21h0m0 2h0m0 21h0m-1-12h0m-5-4h0m0-2h0m-4-4h0m-1 21h0m-1-20h0m0 0h0m-1-1h0m-2 21h0m0 1h0m0-1h0m-3-18h0m-2 5h0m0 14h0m-2-9h0m0-13h0m-2-2h0m0 22h0m-1-14h0m0 5h0m-1 3h0m-1 3h0m0-23h0m-4-1h0m-1 23h0m-3 5h0m-1-22h0m-2 6h0m0 2h0m-2 7h0m-1-17h0m-1 20h0m0-14h0m0 13h0m-2-20h0m0 20h0m-1-15h0m-1 18h0m-1-24h0m-1 3h0m-2 2h0m-1 4h0m0-1h0m-1-5h0m-1 4h0m0 8h0m-3-1h0m0 10h0m-5-22h0m-1 2h0m-3-2h0m-3 0h0m-3 10h0m0-9h0m0 21h0m0-12h0m-1 13h0m-1-17h0m-2-4h0m-3 15h0m0-5h0m-2 5h0m-1-19h0m-1 2h0m-5 17h0m-1-6h0m-2 5h0m-2-15h0m0 24h0m-1-9h0m0-7h0m-1-6h0m-1-7h0m-3 25h0m-4-12h0m0 10h0m-1-5h0m0-18h0m-3 6h0m-1 17h0m-2-23h0m0 11h0m-1 6h0m0 3h0m-1-5h0m-1 2h0m0 8h0m-2-24h0m-2 2h0m0-3h0m-6 27h0m0-21h0m0 0h0m-1 7h0m0-6h0m-2 20h0m-3-5h0m-5-7h0m0 2h0m-3 5h0m-2-11h0m-4-9h0m-3 2h0m-2 17h0m-2 7h0m-1-7h0m0-8h0m-2 1h0m0-9h0m-2 6h0m0 14h0m0-7h0m-1 6h0m-4-16h0m0 12h0m0-19h0m-2 20h0m-1-11h0m-3 18h0m-1-13h0m0 0h0m-2-6h0m0 1h0m-1-9h0m0 24h0m-5 4h0m0-11h0m0-17h0m-1 2h0m0 19h0m-1-17h0m-5 14h0m-1-5h0m0 0h0m-1 14h0m0-27h0m-2 20h0m-2 8h0m-8-15h0m0 13h0m-2-14h0m0 5h0m-1-7h0m0 6h0m-4-9h0m-1-4h0m-1 7h0m0 16h0m-3-17h0m0-6h0m-1 15h0m0-11h0m-1 16h0m0-17h0m-1 4h0m-1-10h0m0 18h0m-1-4h0m-1 0h0m-1-1h0m-2 7h0m-3-4h0m-58-17h0m-3 0h0m-3 13h0m-16-9h0m-1 10h0m-9-8h0m-1 1h0m-9 15h0m-5 3h0m-1 2h0m-3-23h0m-2-3h0m-2 22h0m-2-13h0m-9 3h0m-1 7h0m0-13h0m0-6h0m-1 2h0m-2 6h0m-3 0h0m0-6h0m-2-3h0m-2 0h0m-4 7h0m-2 14h0m-3 8h0m-4-2h0m-5 0h0m-3 0h0m0-21h0m-9-3h0m-2 9h0m-2 8h0m-8 2h0m-3 2h0m-2-6h0m-3 7h0m-7-18h0m-1 4h0m-4 8h0m-4-3h0m-4 1h0m-2-10h0m-1 0h0m-115 16h0m-4 6h0m-5-6h0m-2-8h0m-34 7h0m-3-3h0m-7-3h0m-23 16h0m0 21h0m1-8h0m0 7h0m3-21h0m10 18h0m0 7h0m2-18h0m6 6h0m4-11h0m1 13h0m3-16h0m3 26h0m2-3h0m1 5h0m2 0h0m1-4h0m1-8h0m0 1h0m4-16h0m13 16h0m8 12h0m1-29h0m1 8h0m1 15h0m2-13h0m1-3h0m3 0h0m4 21h0m1 1h0m2-27h0m0 16h0m6-11h0m6-2h0m5 23h0m0-13h0m3 0h0m2 10h0m1-14h0m10 5h0m108 3h0m0-5h0m4 13h0m2-16h0m2-9h0m0 12h0m1 15h0m3-8h0m1 3h0m3 5h0m2-26h0m16 1h0m1 16h0m1 2h0m1-4h0m0 0h0m2 5h0m4-9h0m0-11h0m0 5h0m4 11h0m13 2h0m5-7h0m10 10h0m101-1h0m0-17h0m3 15h0m1 1h0m1-9h0m0 9h0m0-2h0m1-7h0m0 0h0m0 8h0m2-18h0m1 19h0m1-2h0m2-9h0m1-5h0m0 13h0m1-5h0m1-13h0m1 27h0m0-22h0m3 1h0m3 6h0m2 0h0m2-9h0m0 18h0m2 4h0m2-7h0m1-3h0m2-11h0m0 20h0m0-22h0m1 7h0m3 12h0m2-22h0m2 8h0m2-1h0m1 1h0m1 9h0m3-16h0m0 5h0m1 2h0m0 6h0m1 6h0m1 4h0m2-23h0m1 8h0m3 1h0m3 1h0m2 0h0m5-5h0m1 19h0m0-11h0m0 8h0m1-21h0m1 19h0m1-19h0m0 6h0m1 16h0m1-6h0m3-9h0m0-6h0m3-1h0m0 22h0m1-16h0m3 16h0m4-18h0m2 3h0m3 17h0m0-20h0m2 23h0m5-13h0m2-9h0m0 10h0m2 2h0m1-11h0m5 7h0m2-4h0m1 10h0m0 9h0m1-3h0m1-26h0m5 25h0m1 3h0m3-10h0m1 7h0m0 2h0m1-4h0m1-1h0m2-21h0m1 16h0m2-5h0m1 5h0m2 10h0m1-8h0m1-18h0m4 6h0m1 16h0m0-21h0m0 14h0m1-1h0m2-15h0m2 29h0m1-4h0m2-16h0m1 1h0m1 14h0m1 4h0m1-15h0m3-13h0m1 12h0m2 16h0m2-4h0m3-5h0m0-18h0m2 17h0m1 3h0m0-9h0m2-5h0m0-2h0m2-2h0m3 17h0m0 8h0m2-26h0m2 5h0m2 11h0m0-5h0m1 12h0m2-23h0m5 23h0m0-24h0m0 21h0m4-16h0m3 23h0m0-29h0m2 21h0m3-7h0m2-6h0m0 21h0m1-10h0m4-12h0m1 8h0m3-1h0m1 14h0m0-17h0m1 0h0m2-6h0m8 0h0m2 13h0m1 3h0m7-16h0m0 20h0m1-4h0m0-1h0m2 1h0m0-12h0m0 2h0m1 15h0m0-12h0m3 3h0m2-4h0m0 16h0m1-3h0m0-10h0m0 13h0m2-29h0m0 28h0m1-28h0m0 13h0m1 6h0m1 5h0m2-1h0m2 3h0m2-5h0m0 3h0m5-17h0m3 22h0m20 28h0m-17-8h0m-1 6h0m-4-14h0m-2 10h0m-1-20h0m-5 26h0m0-7h0m-4-3h0m-1-12h0m0 0h0m-2 1h0m-4 10h0m-1-12h0m-1-4h0m-4 20h0m-1-17h0m0 14h0m-7 9h0m-3-18h0m0-7h0m-1 22h0m0-17h0m-2 10h0m-2-14h0m-1 1h0m0 2h0m-1 17h0m-1-18h0m-3 1h0m-3 24h0m-1-28h0m-1 26h0m0-17h0m0 10h0m0-9h0m-2 5h0m-4 2h0m-1-5h0m-6-3h0m-3-10h0m-1 20h0m0-10h0m-2 19h0m-3-20h0m-1 17h0m-2-9h0m-4 11h0m-1-1h0m0-21h0m-1-2h0m-9 25h0m-2-13h0m0-16h0m-1 17h0m-1 8h0m0 4h0m-2-14h0m-2 6h0m0-14h0m-2 13h0m-2-16h0m-3 15h0m0 7h0m-1-19h0m-2-2h0m-2 17h0m-4-13h0m0 0h0m-3 3h0m-1-5h0m-1 2h0m-1 6h0m-4 12h0m0-6h0m-1-15h0m-5 1h0m-1 12h0m-1-8h0m-1-8h0m-1 4h0m-1 18h0m-1 4h0m-1-16h0m0 14h0m0 2h0m0-26h0m0 10h0m-1-11h0m-1 21h0m-3-8h0m0-14h0m-1 20h0m0-1h0m-1-15h0m-2 24h0m-2-21h0m-5-2h0m-2-4h0m-1 8h0m-1 17h0m0-14h0m-3 3h0m0-13h0m0 24h0m-3 0h0m0-24h0m-1 17h0m-1 0h0m-2 5h0m-2 3h0m-1-28h0m-4 6h0m0 14h0m-6-3h0m-1-9h0m0-8h0m0 25h0m-1-10h0m-1-3h0m0 3h0m0 7h0m-2-4h0m-3-2h0m-2-7h0m0 11h0m0-2h0m-5 0h0m-1 7h0m-1-22h0m0 2h0m-1 10h0m-2 7h0m-2-7h0m-2-10h0m0 23h0m-1-3h0m0-3h0m-4-7h0m-3 4h0m-1 3h0m-2-16h0m-1-3h0m-1 16h0m-1 0h0m-5-18h0m-1 3h0m-2 23h0m-1-7h0m-4-14h0m-2-1h0m-4 13h0m-1 9h0m-4-11h0m-2 0h0m-3 7h0m0-6h0m-1-9h0m0 14h0m-1-15h0m-2-7h0m-1 5h0m-1 9h0m-2 0h0m-4 14h0m-3-5h0m-1 6h0m-1-15h0m-9 11h0m-24 0h0m-1-4h0m-6 7h0m-5-8h0m-6-3h0m-1-2h0m-1-14h0m-2 13h0m-4-7h0m-1 10h0m-1 1h0m-6-16h0m-3 6h0m-1 11h0m-16-11h0m-2 7h0m-1-13h0m-4 9h0m-2 0h0m-1-10h0m-9 27h0m-7-4h0m-1-8h0m-4 1h0m-2-5h0m-2 17h0m-2-29h0m-3 0h0m-1 12h0m-3 7h0m-6 1h0m-6 8h0m-4-6h0m-5-14h0m-3 16h0m-1 1h0m-9-11h0m-10-11h0m-6 8h0m0-9h0m0 10h0m-6-11h0m0 19h0m-3-5h0m-4-14h0m-5 1h0m-2 8h0m-1-6h0m0 20h0m-6-11h0m0-6h0m-10-6h0m-52 9h0m-3 13h0m-2-13h0m-6 18h0m-2-9h0m-1 2h0m-2-12h0m0-5h0m-5 19h0m0-1h0m-7-6h0m-4-6h0m-10 7h0m-8-6h0m-7-5h0m0 17h0m-2-13h0m-6-8h0m-2 13h0m-7 11h0m-3-13h0m-9 4h0m-3-3h0m-10-5h0m-2 7h0m-6-16h0m0 1h0m-1 6h0m-2 8h0m34 17h0m10 2h0m1 0h0m5 8h0m3-2h0m2-3h0m1-2h0m23-1h0m84 18h0m3 1h0m6-2h0m3-4h0m3 12h0m3-26h0m1 9h0m1 11h0m20-11h0m13-8h0m2-4h0m2 19h0m1-9h0m9 8h0m1-12h0m4 1h0m1 14h0m1 2h0m4 1h0m3-3h0m5-11h0m2-9h0m1 1h0m0 24h0m4-9h0m1 5h0m4 7h0m1-6h0m8-10h0m1 12h0m3-19h0m3 12h0m3-8h0m1 1h0m0-2h0m2-7h0m13 24h0m1-16h0m4 6h0m7 13h0m4-15h0m6-6h0m2 18h0m7-19h0m2 16h0m0 3h0m1-5h0m1 4h0m6-18h0m0 9h0m5-9h0m0-6h0m9 23h0m1 4h0m3-28h0m4 22h0m2-4h0m3-11h0m3 6h0m0-11h0m1 10h0m0-12h0m1 15h0m1 13h0m0-11h0m3-1h0m1 5h0m2 5h0m3-15h0m0 7h0m2 11h0m5-10h0m1-18h0m0 17h0m1-17h0m2 11h0m0 15h0m3-26h0m0 8h0m3-1h0m0-2h0m2 23h0m1-2h0m0-21h0m1-1h0m0 19h0m1-1h0m0 1h0m2 5h0m0-21h0m2-8h0m1 28h0m1-11h0m3-9h0m1-2h0m3 22h0m2-13h0m0-9h0m2 10h0m4-3h0m0 2h0m1 3h0m2-4h0m4 12h0m1-23h0m1 12h0m1 2h0m0 3h0m2 0h0m4 2h0m1-22h0m2 11h0m0 0h0m3 9h0m1-19h0m2 15h0m1 9h0m0-21h0m5 6h0m2 12h0m0-21h0m0 10h0m2 0h0m2-5h0m3-5h0m0 11h0m6-8h0m1 5h0m0 1h0m1 2h0m2-8h0m1 5h0m1 11h0m2 3h0m1-5h0m0-11h0m0 0h0m1 1h0m1 20h0m1-14h0m5 15h0m0-21h0m2 8h0m1-3h0m1-7h0m3 22h0m2 0h0m5-23h0m6 7h0m4 6h0m1 0h0m1 3h0m4 7h0m0-19h0m0 5h0m2-9h0m0-2h0m5 19h0m3 4h0m1-14h0m0 3h0m1 2h0m1-14h0m0 5h0m1 7h0m0-3h0m0-12h0m2 5h0m0-5h0m2 12h0m2 7h0m3 6h0m1-11h0m6-12h0m0-2h0m5 26h0m2-17h0m0 13h0m4-10h0m1 15h0m0-26h0m1 25h0m0-24h0m1 15h0m0 6h0m2-22h0m2 28h0m0-17h0m1 9h0m2-20h0m1 9h0m3-7h0m0 11h0m3 6h0m1-6h0m1-9h0m1-4h0m0 10h0m1-4h0m1-3h0m8 21h0m1-14h0m0 9h0m3-17h0m0 15h0m1-7h0m1 12h0m5-15h0m0 13h0m0-2h0m1-10h0m1 0h0m2-6h0m1 19h0m3-21h0m1 12h0m1-4h0m0-6h0m1 16h0m3-5h0m1 14h0m0 1h0m0-28h0m1 5h0m4 21h0m1-24h0m0 26h0m2-5h0m3-1h0m1 0h0m1 5h0m5-17h0m0-9h0m3 12h0m1-11h0m1-2h0m1 28h0m1-22h0m2 19h0m6-21h0m3 11h0m3-6h0m1-2h0m4 19h0m2-25h0m3 5h0m-7 31h0m-5 12h0m-5-14h0m-4 17h0m0 3h0m-1-24h0m-4 10h0m-1 4h0m-1 13h0m0-12h0m0-8h0m0 14h0m-1-20h0m-3 9h0m0 1h0m-1-1h0m-1-5h0m-7-7h0m-3 24h0m-1-24h0m-1 7h0m-5 10h0m0-15h0m-2 21h0m0 6h0m-2-9h0m-1-4h0m-1-9h0m-1 17h0m-2-14h0m-5 3h0m-1 7h0m0-10h0m-1 7h0m-1-5h0m0 12h0m-1-13h0m-6 14h0m-1-10h0m-4-6h0m-1 3h0m-3 7h0m-2 6h0m-5-14h0m-8 6h0m-1 8h0m-3 4h0m-1-12h0m-1-16h0m-1 16h0m0-6h0m0 3h0m-1 8h0m-3-18h0m0-1h0m-1 18h0m-1 4h0m-3-13h0m-2 12h0m0 1h0m-3-21h0m-2 8h0m-1-8h0m-1 23h0m0-23h0m-2 9h0m-2-9h0m-1 6h0m0-6h0m-4 17h0m-1-10h0m-2-8h0m-2 17h0m0-6h0m0 9h0m-2-1h0m0-6h0m-1-11h0m-3-4h0m-4 8h0m-3 6h0m-1-5h0m-3-4h0m-3 16h0m-1-1h0m-5-15h0m-3-5h0m0 26h0m-4-14h0m-4 14h0m0-7h0m0-13h0m-2-6h0m0 7h0m-2-3h0m-6 9h0m0 10h0m0 5h0m-1-7h0m-7-10h0m-1-3h0m0-2h0m-7 16h0m0-9h0m-2 4h0m-5-10h0m0-2h0m-1-6h0m0 8h0m-1-2h0m-1 20h0m-1 0h0m-1 0h0m-1 1h0m-1-21h0m-1 19h0m-1-1h0m0-15h0m-4 3h0m-2 8h0m-1 1h0m-2-2h0m0-1h0m-2-16h0m-1 19h0m0-19h0m-2 8h0m0 13h0m0-7h0m0-7h0m-2-8h0m-1 5h0m-2-5h0m0 2h0m0 22h0m0-6h0m-1-5h0m-3 6h0m0 2h0m-2-16h0m-2-3h0m0 25h0m0-22h0m-1 22h0m0-20h0m-2 4h0m-3 0h0m-2-1h0m-1-11h0m0 19h0m-1 0h0m0-5h0m-3-1h0m-2-7h0m-1-1h0m0 12h0m-1 9h0m0-10h0m-1 0h0m0-16h0m-1 13h0m-3-7h0m0 15h0m-3-14h0m-2 16h0m-1 5h0m-1-21h0m-1 14h0m-3-7h0m-1-4h0m0 7h0m-1-12h0m-1 14h0m-1-3h0m0-14h0m0 2h0m-2 21h0m0-11h0m-1-13h0m-3 0h0m-3 1h0m-1 7h0m-1 12h0m0-6h0m0 8h0m0-6h0m0 2h0m-1 1h0m-4-3h0m-16 6h0m-3 1h0m0-24h0m-2 6h0m-2 11h0m-4-2h0m-1-3h0m-1 12h0m-1-15h0m-1-1h0m-7 20h0m-2 1h0m-1-7h0m-8-19h0m-9 19h0m-4 3h0m-2-7h0m-7 9h0m-4-26h0m0 0h0m0 13h0m-1-1h0m-15-3h0m-3 6h0m-3 11h0m-7-12h0m0-2h0m-1 8h0m-2-1h0m-1-12h0m-2 15h0m-8 6h0m-6-4h0m0 1h0m-3-14h0m-1 1h0m-4 7h0m-2-17h0m-4 8h0m-3-6h0m0-5h0m-1 0h0m-5 10h0m0 5h0m-1 1h0m-20 13h0m-2-10h0m-1-9h0m-2 8h0m0 7h0m-1-21h0m-1 24h0m-6-14h0m0 5h0m-1-18h0m-1 26h0m-2-21h0m-3 14h0m-1 7h0m0-22h0m-2 9h0m-2 11h0m-2-5h0m-5 2h0m-5 2h0m-1-2h0m-1-12h0m0 14h0m0-4h0m-5 8h0m0-8h0m-5-3h0m-1-5h0m0 7h0m-1 2h0m0 5h0m-2-15h0m-2 16h0m-7-2h0m-3 2h0m-1-13h0m-2 7h0m-4 2h0m-2-7h0m-3 12h0m0 1h0m-2-1h0m-7-5h0m-1 4h0m-5-2h0m-2-5h0m-9 9h0m-4-3h0m-35 2h0m-2 1h0m-85 29h0m8-2h0m7-4h0m6-15h0m8 18h0m13-12h0m1-8h0m1 24h0m1-19h0m1-3h0m1 1h0m3-4h0m5 10h0m6-5h0m2 18h0m7-22h0m2 0h0m3 8h0m2 7h0m1 5h0m0 1h0m1-5h0m0 3h0m2 2h0m1-24h0m0 10h0m1-7h0m1 17h0m1-14h0m2-6h0m0 27h0m0-15h0m3-7h0m0 7h0m2-8h0m2 6h0m3-11h0m0 23h0m2-13h0m2 8h0m0-4h0m2-10h0m0 8h0m2-11h0m0 16h0m2-16h0m1 8h0m0-7h0m0-3h0m5 17h0m2-15h0m0 12h0m4 10h0m5-19h0m0 23h0m0-7h0m1-3h0m1-3h0m2-2h0m1 12h0m0-25h0m0 9h0m1 13h0m0-16h0m2 10h0m0 8h0m0 0h0m1-13h0m1-4h0m1 11h0m3-2h0m1 8h0m2 0h0m6-24h0m0 21h0m3 4h0m0-3h0m1 1h0m0-18h0m3 3h0m1 20h0m0-6h0m1-8h0m2-9h0m0 22h0m1-1h0m2-13h0m1 12h0m1-3h0m1 0h0m4-11h0m1-6h0m0-2h0m5 1h0m0-1h0m0 14h0m3 12h0m1-22h0m0 22h0m0-19h0m2 12h0m0-20h0m10 1h0m0 7h0m1 10h0m0-17h0m1 8h0m0 4h0m1 2h0m4 9h0m1-2h0m1-15h0m1 1h0m2-9h0m0 16h0m1-11h0m3 5h0m0 17h0m2-27h0m1 19h0m0-13h0m2 7h0m0 5h0m0-4h0m3 2h0m1 12h0m1-7h0m1-22h0m1 14h0m0-6h0m3 19h0m0-2h0m3-7h0m1 1h0m1 1h0m0-11h0m2 20h0m0-8h0m1-16h0m3 23h0m0-3h0m4-12h0m3 10h0m1-23h0m3 8h0m1 1h0m6 20h0m5-3h0m4-22h0m1 22h0m1-14h0m1 14h0m2-2h0m4-16h0m3-6h0m5-1h0m1 14h0m1-12h0m3 10h0m0 8h0m3-9h0m0-12h0m18 24h0m1-21h0m3-1h0m2 14h0m3 4h0m1-3h0m0-15h0m4 7h0m0 15h0m2 4h0m2-10h0m1 7h0m4-15h0m2-4h0m1-6h0m6 3h0m3 24h0m3 1h0m1 1h0m0-29h0m1 4h0m12 25h0m2-1h0m2-14h0m4 15h0m0-29h0m3 3h0m6 19h0m5-20h0m4 25h0m3-2h0m8-2h0m1 4h0m1-17h0m0 12h0m0-6h0m2 12h0m0-18h0m0 2h0m1 4h0m1 5h0m2-21h0m2 25h0m0-5h0m0-15h0m1 4h0m1-2h0m1-5h0m0 21h0m0-14h0m2 6h0m3 7h0m0-8h0m0 1h0m1-4h0m3 3h0m0-12h0m3 12h0m0-14h0m0 1h0m1 9h0m0 4h0m2-13h0m4 1h0m3-1h0m1 26h0m2-12h0m6 3h0m3-6h0m1-7h0m0 0h0m0 2h0m1 21h0m1-11h0m2-1h0m1 12h0m0-25h0m1 25h0m0-15h0m1-2h0m1 7h0m0-12h0m1 7h0m1 8h0m3 4h0m3-10h0m2-11h0m0 22h0m2-10h0m0 7h0m0-10h0m0-9h0m1 4h0m1 19h0m1-4h0m2-21h0m0 19h0m0 7h0m3-3h0m3-20h0m0 5h0m2-6h0m2 21h0m3 1h0m2-10h0m3 10h0m3-4h0m1-20h0m0 7h0m10 12h0m1-12h0m1 19h0m2-6h0m2-8h0m3 8h0m0-1h0m0-5h0m0 3h0m3-2h0m1-10h0m2 20h0m0-3h0m1-4h0m0-5h0m1-13h0m2 8h0m1 10h0m1 8h0m0-6h0m1-1h0m2 7h0m1-12h0m2-2h0m3 4h0m1-18h0m0 22h0m0-2h0m4 4h0m1 5h0m2-18h0m1 10h0m1 0h0m0-16h0m2 22h0m4-19h0m1 13h0m1-20h0m4 11h0m2-5h0m1 14h0m0-21h0m2 21h0m1 6h0m0-12h0m1-12h0m0 5h0m0-1h0m3 15h0m1 3h0m1-10h0m0 8h0m6-6h0m1-10h0m1 19h0m2-8h0m1 6h0m2-9h0m0-13h0m3 25h0m1-23h0m0 15h0m4-7h0m4 5h0m3-7h0m7-10h0m0 0h0m0 17h0m1-2h0m6-2h0m0 6h0m0-16h0m3 21h0m1-9h0m1-11h0m3 4h0m0 2h0m0-2h0m3-1h0m2 3h0m3 0h0m1 16h0m2-1h0m1-8h0m1 8h0m3-18h0m1 0h0m1 17h0m1-14h0m5 18h0m2-27h0m3 6h0m2 14h0m2-13h0m3 15h0m0-13h0m1 10h0m6 2h0m0 0h0m0-7h0m1-5h0m4-6h0m2 1h0m1 0h0m0 5h0m1-9h0m2 1h0m7 55h0m-1-4h0m-5-1h0m-2 1h0m-7 5h0m-1-9h0m0-16h0m-7 25h0m-2-21h0m-1 22h0m-6-28h0m-4 17h0m-1 3h0m-1-1h0m-3 7h0m-4 1h0m-2-11h0m-1 1h0m-1 3h0m0-1h0m-2-10h0m-1 17h0m-1-8h0m0-12h0m-2 15h0m0-1h0m-3 0h0m-2-1h0m-1 5h0m-2-14h0m0-6h0m-1 9h0m-2 0h0m-5-3h0m0 18h0m-1-21h0m-1 17h0m0 3h0m-7-8h0m-1-7h0m0-3h0m-1 1h0m-1-3h0m-1 20h0m0-19h0m0 12h0m-3 7h0m-1-8h0m0-2h0m-2-2h0m-1 4h0m0-10h0m-3 15h0m0-16h0m-1-8h0m-6 0h0m-2-1h0m-1 15h0m-1-6h0m-2 3h0m0 10h0m-2-7h0m-1 1h0m-5-2h0m-2 8h0m0-12h0m-1 2h0m0-6h0m0-5h0m0 11h0m-2 17h0m-2-29h0m-2 18h0m-2-3h0m-2 3h0m-2 10h0m-1-2h0m0-25h0m-3 22h0m-2-16h0m0 11h0m0-18h0m-5 22h0m-2 3h0m-2-13h0m0-5h0m-1 10h0m0 9h0m-5-15h0m-2 0h0m-3 1h0m-1-1h0m0-7h0m-1 16h0m-1-20h0m-4 27h0m0-22h0m-7 19h0m-1-22h0m-1 13h0m-3-3h0m-4 15h0m0-25h0m0 6h0m-3 17h0m-3-17h0m-2 2h0m0-2h0m-1 13h0m0-18h0m0 23h0m-3-6h0m0 0h0m-1 0h0m-2 9h0m-2-24h0m-2 14h0m0-18h0m-1 9h0m-1 15h0m-1-1h0m-10-11h0m-3-11h0m-2-1h0m-2 0h0m-1 27h0m-1-1h0m-2-4h0m0-7h0m0-9h0m-2 7h0m-2-5h0m0 14h0m-1-17h0m-3 13h0m0 5h0m0-5h0m-3-6h0m0 7h0m-1-14h0m-2 13h0m-1-3h0m-4 4h0m-2-13h0m-1-2h0m-1 7h0m0-9h0m-2 3h0m-1 19h0m-1-22h0m-2 13h0m-3 7h0m-1 1h0m-1-1h0m-1 4h0m-1-14h0m0 14h0m0-17h0m-2 16h0m0-1h0m-1-14h0m-1 13h0m-1-5h0m-1 0h0m0-11h0m-1 15h0m-2-3h0m0-13h0m-1 21h0m0-13h0m-2 13h0m-1-7h0m0-14h0m-1 5h0m-1-6h0m0 23h0m-1-11h0m0-18h0m-1 13h0m-1 14h0m0-19h0m-2-3h0m0 15h0m-1 3h0m0-3h0m0-4h0m0-10h0m-1-3h0m-1-3h0m-1 24h0m-1-2h0m0-12h0m-2 16h0m-2-6h0m-2 4h0m-5-18h0m-1-2h0m-7 18h0m-10-16h0m-3 2h0m-3 3h0m-2 10h0m0-12h0m-1-2h0m0-7h0m-2 27h0m-5-5h0m-11 0h0m-3-8h0m0 8h0m-1-22h0m-1 9h0m-8-1h0m-2-5h0m-9 8h0m-6 0h0m-2-5h0m-3 14h0m0 2h0m-1 2h0m-2 4h0m-4-4h0m-1-11h0m-2 3h0m-3 8h0m0-7h0m-1 7h0m0-21h0m-1 5h0m-2 14h0m-4-7h0m-2-15h0m-2 9h0m-4 4h0m-1 2h0m0-12h0m-1 15h0m-5-7h0m-5 4h0m0-3h0m-6 3h0m-4-10h0m0 1h0m-2 9h0m0-1h0m0-13h0m-1 25h0m-2 2h0m-1-12h0m-1-13h0m0 17h0m-1-6h0m0 2h0m-1-7h0m0-6h0m-2 18h0m-1 1h0m0-18h0m-2 17h0m-1-10h0m-1 7h0m-1-9h0m0 15h0m-1 5h0m0-29h0m-1 3h0m-1-2h0m0 13h0m-1-5h0m-1-8h0m-1 16h0m-1-4h0m0-3h0m-1-3h0m0 6h0m0-9h0m-1 10h0m0 8h0m-1-5h0m0 2h0m-1-15h0m-2 18h0m-3 1h0m-1 3h0m0 3h0m-2-24h0m-2 15h0m-1 4h0m-1 4h0m0-16h0m0-9h0m-4 8h0m-1 11h0m-2-8h0m0 7h0m-1-16h0m-1 9h0m-1 7h0m-1 3h0m0-18h0m-2 21h0m-1-13h0m0 9h0m-2 6h0m-1-9h0m0-3h0m-2-3h0m-1-1h0m0 8h0m-2-1h0m0 5h0m-1-5h0m-5-6h0m-1-11h0m0-3h0m-1 21h0m0-15h0m-1 15h0m-2-3h0m0-12h0m0 15h0m-2-2h0m0-6h0m-2-13h0m0 13h0m-1 0h0m0-13h0m-2 17h0m-1-4h0m0 13h0m0-4h0m-3-16h0m0 18h0m-2-13h0m-4-4h0m-1-5h0m0 16h0m-3-1h0m0-3h0m-2-11h0m0 26h0m-4-21h0m-1 4h0m-1-5h0m-1-7h0m-1 17h0m0 5h0m-2-14h0m-1 7h0m0 8h0m0 3h0m-4-16h0m0 1h0m0-4h0m0 19h0m-1-13h0m-1-8h0m-1 6h0m-1 15h0m-1-23h0m-1 25h0m-1-23h0m0 5h0m0 10h0m-3-14h0m-4 22h0m-1 0h0m-1-20h0m0 13h0m-6 3h0m-1-14h0m-2-10h0m-2 11h0m-2 12h0m-2-5h0m-1-13h0m-4 16h0m0-14h0m-1-1h0m-2 11h0m-1-3h0m0 6h0m-1 6h0m-5-11h0m-1 11h0m-3-7h0m-2 6h0m-1-5h0m-1-13h0m0 8h0m-4-7h0m-1 21h0m-2-14h0m-6-14h0m0 18h0m0-13h0m-4-4h0m-2 19h0m0 0h0m-1-19h0m-6 17h0m-1 10h0m0-5h0m-4 1h0m-6-25h0m-1 26h0m0 1h0m-4-11h0m-1-12h0m-1 24h0m-3-27h0m-1 9h0m-1-9h0m-3 24h0m-2-1h0m-6 1h0m-1-3h0m-1-3h0m-2-5h0m-3 12h0m-2 0h0m0-5h0m0 8h0m-1-17h0m-3 4h0m-1 7h0m-1-7h0m-2 1h0m0 8h0m-5-3h0m-1 1h0m-3-4h0m-2 3h0m-1-4h0m0 7h0m-3-8h0m0 9h0m-2-22h0m-1 9h0m-1-4h0m-1 8h0m-2-3h0m-2-10h0m0 22h0m-3-24h0m-1 25h0m-1-5h0m-2 6h0m-7-5h0m-1-1h0m-1 2h0m-1-2h0m0 7h0m-3-13h0m-5 3h0m-6 8h0m-2-13h0m-34 29h0m6 15h0m3-9h0m6-7h0m2 1h0m0-9h0m2 13h0m1 8h0m2-7h0m1-8h0m1-6h0m4 6h0m0 6h0m1-14h0m3 0h0m1 16h0m3-11h0m10 0h0m2 6h0m0-2h0m5-4h0m0 19h0m0-13h0m5-10h0m1 14h0m0-13h0m1-4h0m0 10h0m3 19h0m0-1h0m1-1h0m6-18h0m2 13h0m3-19h0m1 0h0m5 2h0m2 22h0m2-24h0m2-2h0m0 26h0m3-10h0m0 8h0m5-4h0m1-9h0m1-6h0m1-5h0m4 25h0m0-23h0m1-1h0m1 6h0m3 15h0m1-20h0m1 15h0m1-16h0m4 19h0m0-13h0m1 9h0m0-8h0m1-2h0m0 17h0m4-9h0m1-1h0m1-12h0m4 1h0m0 25h0m3-8h0m1-9h0m4-7h0m1 10h0m3-10h0m2 11h0m2-5h0m0-7h0m1 0h0m1-1h0m0 12h0m0 1h0m8 3h0m0 8h0m2-17h0m1 13h0m0 0h0m1-3h0m2 5h0m0-4h0m2-10h0m0 13h0m1-18h0m0 18h0m10-10h0m3-7h0m1 4h0m2 0h0m5 8h0m1 5h0m1-21h0m1-2h0m1 12h0m3 1h0m2-3h0m0 11h0m3-15h0m2 12h0m5 11h0m1-2h0m1-13h0m2 11h0m1 3h0m1-28h0m2 13h0m2 1h0m1 5h0m2-16h0m2 2h0m1 8h0m2-10h0m0-2h0m1 20h0m1-6h0m1 2h0m1-5h0m1 7h0m1-3h0m2 1h0m4-5h0m0-8h0m1 2h0m3 4h0m3 0h0m3-8h0m0-2h0m1 20h0m2-11h0m1 20h0m1-2h0m1-23h0m1 17h0m2-9h0m1 8h0m0 1h0m3 0h0m1-2h0m0-13h0m2-3h0m0 10h0m2-5h0m1 15h0m2 4h0m0-5h0m2 6h0m0-24h0m1 23h0m2-21h0m4 4h0m0 17h0m0-15h0m3 7h0m0-5h0m2 9h0m4 0h0m1-19h0m3 15h0m2 0h0m0 5h0m1-5h0m1-13h0m0 8h0m1 5h0m0-9h0m1 16h0m0-24h0m0 19h0m1-2h0m1 3h0m2 7h0m1-17h0m0-12h0m0 21h0m1-18h0m0 25h0m1-16h0m0 2h0m1-9h0m2 17h0m1-12h0m1 13h0m0-22h0m2 19h0m4-14h0m3 22h0m0-16h0m0-6h0m1-6h0m1 27h0m2-8h0m0 0h0m1 6h0m0-15h0m2 3h0m1 13h0m2 2h0m0-13h0m1 7h0m0-13h0m1-5h0m0 12h0m0-7h0m2 1h0m2 5h0m1 7h0m1 0h0m1-21h0m0 23h0m3 2h0m1-19h0m0 2h0m1-4h0m5 2h0m9 6h0m1-10h0m8 26h0m8-1h0m6-12h0m11-6h0m1 6h0m0-10h0m1 20h0m4-13h0m6 4h0m1-8h0m4 8h0m5-1h0m0-3h0m3 8h0m0-13h0m7 1h0m6 4h0m3-13h0m0 22h0m12-19h0m0 19h0m3-17h0m6 11h0m0 6h0m1-2h0m2 0h0m2-14h0m1 15h0m7-5h0m8 3h0m1-17h0m6 6h0m1 4h0m1 7h0m1 10h0m0-21h0m7 15h0m1-15h0m0-2h0m1-4h0m2 6h0m2-4h0m0-3h0m1 20h0m0-18h0m1 1h0m1 17h0m1 4h0m2-6h0m0 4h0m2 5h0m2-4h0m0-10h0m0-10h0m0-2h0m1 10h0m1 0h0m3 17h0m0-27h0m1 8h0m1 15h0m1-1h0m0-10h0m7 10h0m2-18h0m0 17h0m1-16h0m1 20h0m0-21h0m1 3h0m3 2h0m1 16h0m0-18h0m2 2h0m1 18h0m1-21h0m2-4h0m0 18h0m2-17h0m0 3h0m1 4h0m3 8h0m1 1h0m3-6h0m1-3h0m1 6h0m2 5h0m0-4h0m2 6h0m0-18h0m1 7h0m0-13h0m1 22h0m1-23h0m2 21h0m2 1h0m0 6h0m5-1h0m1-6h0m0-1h0m4-11h0m1 13h0m1-12h0m1 6h0m3 6h0m1 7h0m2-8h0m1-7h0m0 7h0m1 1h0m0-19h0m1 11h0m1-3h0m0 13h0m0-17h0m1-6h0m0 19h0m1-12h0m0-4h0m1 16h0m1 2h0m2-11h0m1 3h0m1-5h0m1 2h0m3-2h0m6 10h0m1-3h0m0-12h0m2 8h0m2 3h0m1 4h0m0-12h0m1 13h0m0-2h0m0-4h0m1-1h0m1 4h0m1-17h0m0 7h0m3 18h0m1-7h0m4-11h0m0-7h0m1 28h0m2-6h0m0 4h0m0-6h0m1 1h0m1 5h0m0-22h0m3 11h0m0 5h0m0-3h0m0-10h0m0 14h0m0-16h0m1 3h0m0 19h0m2-9h0m0 0h0m2 1h0m0 10h0m0-19h0m2-9h0m1 0h0m2-1h0m1 27h0m0-16h0m2 11h0m1-15h0m1 15h0m1 7h0m1-12h0m0-1h0m1-6h0m1 8h0m3 9h0m0-11h0m1-3h0m2 1h0m1 12h0m0-12h0m1 12h0m1-18h0m4 4h0m0-6h0m1 4h0m7-7h0m1 14h0m1-7h0m1 13h0m0-20h0m0 15h0m2-7h0m1-10h0m1 28h0m1-20h0m3 0h0m1-7h0m1 15h0m1 9h0m3-14h0m1-10h0m1 26h0m0-23h0m1-5h0m1 20h0m3 2h0m0 5h0m1-15h0m1-3h0m0 20h0m0-9h0m6-3h0m5-8h0m2 8h0m0-16h0m1 9h0m3-6h0m1 21h0m0-20h0m0 13h0m0 3h0m1 4h0m4-7h0m1-9h0m2 13h0m0-15h0m1 22h0m0-2h0m1-2h0m3-22h0m3 22h0m0-2h0m1-15h0m0 3h0m0-11h0m4 4h0m0 7h0m0-6h0m3-4h0m0 10h0m2 8h0m3-16h0m2 24h0m1-16h0m0 0h0m1-5h0m1 14h0m4-9h0m0 13h0m2 4h0m1-6h0m1-6h0m2-12h0m0 0h0m0 14h0m1 5h0m3-5h0m2-4h0m2 5h0m4-7h0m1 0h0m1-10h0m29 8h0m-17 46h0m-2-2h0m0-14h0m-4 1h0m-3-3h0m-2 7h0m-2-3h0m-2 5h0m0-2h0m-1 9h0m-1-18h0m0-1h0m-1 10h0m-3-10h0m0 1h0m-3 6h0m-4 17h0m-3-15h0m-1-13h0m-2 9h0m-2-3h0m-1 1h0m-2-1h0m-2 12h0m0-6h0m0-9h0m-3 3h0m-1 18h0m-1-18h0m-1 7h0m-1-5h0m0 16h0m-1-9h0m-3-15h0m0 15h0m-1-9h0m-2 11h0m-3 11h0m-1-18h0m0 8h0m-2 8h0m-4-19h0m-2 13h0m0-10h0m0 10h0m-1-11h0m-1 11h0m0-21h0m-1 29h0m-5-17h0m-1-10h0m0 25h0m0-23h0m-1 19h0m-2 6h0m-1-8h0m0-16h0m0 12h0m-1-2h0m-2 9h0m-2-2h0m0-20h0m-4 2h0m0 18h0m-3 4h0m0-2h0m0-12h0m-1 1h0m-2 12h0m-1-17h0m-2 0h0m0 21h0m-2-6h0m-1-1h0m0-5h0m-1-5h0m0-5h0m0 10h0m-1-8h0m-1 5h0m-5 6h0m0 4h0m0-22h0m-1 19h0m0-17h0m-2 7h0m0 14h0m-1-11h0m0 7h0m-3 1h0m-2 6h0m-2-12h0m-1-10h0m0 6h0m-1-10h0m-1 9h0m-2-8h0m-2 18h0m-1-7h0m0 10h0m-1-15h0m-2 16h0m0 1h0m-1-19h0m-1 8h0m-1-12h0m-2-2h0m-1 11h0m0 16h0m-2-13h0m-2-3h0m-1 10h0m-1-14h0m-3 19h0m-2-1h0m-3-1h0m-1 3h0m-1-7h0m-1-5h0m0-16h0m-1 19h0m-2-4h0m0-2h0m-3 16h0m-1 0h0m-2-21h0m0 0h0m0 17h0m-2-5h0m-2-8h0m-2 13h0m-3-12h0m-1-6h0m-2 9h0m-1-14h0m-3 27h0m0-5h0m-5-20h0m-3 12h0m-1-12h0m-2 24h0m0-12h0m0 11h0m-1-21h0m-1 1h0m-1 0h0m0-2h0m-1 19h0m0-11h0m0 10h0m0 5h0m-1-7h0m-1-16h0m-1 24h0m-1-19h0m-1 14h0m0-16h0m-2 11h0m-5-11h0m0 20h0m-2-6h0m-1-9h0m-1 14h0m-1-8h0m0 4h0m-2-16h0m-1-7h0m-5 21h0m0 8h0m-1-11h0m0 3h0m-1-4h0m0-9h0m0-7h0m-2 28h0m0-11h0m-2-5h0m0-6h0m0 21h0m0-5h0m-4-7h0m-1 6h0m-4 0h0m-1 4h0m0-21h0m-2-2h0m-4 17h0m-2 3h0m-6-7h0m-4-5h0m0-3h0m-2-3h0m-1 24h0m0-27h0m-1 19h0m-2 4h0m0-25h0m-2 14h0m-1-5h0m0-6h0m0 5h0m-1 10h0m-1-12h0m-1 7h0m0-5h0m0-6h0m-1 17h0m0-7h0m-1-6h0m0-1h0m0-1h0m-1 10h0m-3 5h0m0-16h0m-3-2h0m-1 28h0m-1-6h0m0-12h0m-1 6h0m-3 3h0m-4-11h0m-1 20h0m-2-21h0m-1-2h0m-1 3h0m-1 9h0m0 5h0m0-12h0m-3 11h0m-3-8h0m-2-9h0m-1 24h0m0-11h0m-1 0h0m-1 2h0m0-19h0m-1 27h0m-2-10h0m0 1h0m-4-12h0m0-5h0m-2 14h0m-1-8h0m0 15h0m-2-18h0m-1 10h0m-7-7h0m-8 16h0m-2-6h0m-2-10h0m-1-1h0m-10 21h0m-1-1h0m0 2h0m-2-12h0m-1-2h0m-4-7h0m-2 12h0m0-8h0m-10 10h0m-2-6h0m-6-11h0m-9 2h0m-27-7h0m-12 16h0m-2-3h0m-2 1h0m0-4h0m-4 6h0m0-13h0m-2 10h0m-4 14h0m-6-9h0m-3-12h0m-1 6h0m-1 10h0m-4-7h0m0-10h0m0-5h0m-1 16h0m0-3h0m-2 0h0m-1 8h0m-4-13h0m0 12h0m-1-10h0m0 12h0m-1-13h0m0 16h0m0-25h0m0 26h0m0-7h0m-1 9h0m0-15h0m-1 15h0m0-22h0m-2 13h0m-2-18h0m0 28h0m-1-17h0m-1-3h0m-1 2h0m0-7h0m-1 21h0m-1 0h0m0-14h0m-2 8h0m-3 7h0m-1-17h0m0 17h0m-1-25h0m-1 13h0m-1-12h0m-4 6h0m-1 9h0m-2 1h0m-1 6h0m-1-13h0m-1 11h0m-1-17h0m-2 19h0m0-5h0m-4 8h0m0-15h0m0-3h0m-1-2h0m-3 3h0m-1 16h0m-3-5h0m0-17h0m-1 5h0m-3 7h0m0-15h0m-6 14h0m-1-4h0m0 2h0m-1 8h0m0-21h0m-2 25h0m-2-3h0m-1-11h0m-2 3h0m-1 12h0m0-12h0m-4-7h0m0 18h0m-1-25h0m0 0h0m-1 9h0m-3 11h0m0-14h0m-2 2h0m-2 18h0m-1-2h0m-1-8h0m-2 8h0m0 4h0m-2 0h0m-1-6h0m-1-8h0m-2 12h0m-1 0h0m-6-7h0m-1 1h0m-1 3h0m-1-13h0m-2 14h0m-1-15h0m-1-6h0m-2 3h0m-1-1h0m-1 10h0m-2 6h0m-1-5h0m-1-6h0m-1 8h0m-6-17h0m-1 10h0m-2 9h0m0 8h0m-1-19h0m-1-3h0m-1 17h0m-9-16h0m-2 3h0m-5 7h0m0-15h0m0 5h0m-1 17h0m-1-9h0m0-3h0m0 2h0m-1-6h0m-3 1h0m-6 2h0m0-8h0m-6 12h0m-2 13h0m0-25h0m-2 13h0m-1 7h0m-6-15h0m-3-6h0m-1 5h0m-1 17h0m-2-23h0m-1 25h0m-1-11h0m-3-12h0m0 3h0m0 21h0m-1-13h0m-4-1h0m-2 6h0m-3 0h0m-2 10h0m0-14h0m0 13h0m-8 0h0m0 0h0m0-11h0m-2 0h0m0-11h0m-1 8h0m0 13h0m-3-23h0m-1 12h0m-2-6h0m-2 8h0m-4-5h0m-3-4h0m0 12h0m-3-13h0m-1-6h0m-3 7h0m-1 18h0m-1-17h0m-1-10h0m0 8h0m-1 7h0m0 7h0m-1-10h0m-1 17h0m-2-2h0m-1-16h0m0 6h0m-1-9h0m-2-7h0m0 1h0m-4 3h0m-5 24h0m0-27h0m-1 14h0m-2-2h0m-2 7h0m-1-14h0m-2 1h0m0 13h0m-4 0h0m-8-6h0m0 8h0m-2 4h0m-1-5h0m-6-6h0m-2-11h0m0-3h0m-1 17h0m-3-4h0m0 14h0m0-11h0m-6-10h0m-5 15h0m-1 4h0m-1-11h0m-3-14h0m-2 17h0m0-3h0m-2-4h0m-1 0h0m-3 12h0m0-2h0m-2-19h0m0 16h0m-5-4h0m-6 11h0m-4-9h0m-4 10h0m-5-23h0m5 41h0m5-4h0m5-2h0m1-5h0m0 22h0m3-12h0m1 11h0m2-21h0m6 18h0m2-9h0m0 3h0m6 9h0m1-5h0m3-18h0m11 11h0m0-4h0m2 7h0m3 0h0m1 5h0m0-1h0m2-7h0m7-5h0m0-3h0m2-5h0m0 4h0m2 22h0m2-20h0m4 20h0m1-5h0m1-19h0m0 19h0m1-9h0m6 1h0m4-10h0m0 4h0m1 18h0m3 4h0m4-12h0m3-11h0m2 10h0m0-16h0m9 27h0m1-4h0m1 2h0m1-22h0m0 13h0m6-4h0m1-4h0m0 19h0m4 0h0m1 1h0m5-16h0m1 12h0m1-21h0m7 25h0m2-26h0m2 18h0m1 0h0m1-7h0m0 4h0m2-8h0m2 1h0m1 0h0m4 7h0m0-6h0m3 11h0m5-8h0m0-12h0m1 14h0m1 1h0m1 5h0m4 3h0m1-21h0m0 12h0m4-7h0m1-5h0m2 9h0m0-2h0m0 0h0m0-1h0m0-1h0m1 1h0m1-9h0m1 7h0m0 16h0m2-10h0m1 9h0m0-18h0m2-4h0m1 8h0m0-3h0m2 9h0m2 8h0m3 6h0m0-24h0m1 8h0m2-6h0m4 21h0m0-24h0m3-1h0m2 5h0m3-1h0m1-6h0m3 27h0m1-24h0m0 20h0m1-3h0m3-12h0m1 17h0m3-6h0m7-11h0m0-6h0m1 21h0m0-20h0m2 20h0m1-5h0m2-10h0m1 16h0m0-1h0m3-18h0m1 15h0m0-11h0m2 1h0m1 15h0m4-21h0m1-5h0m0 7h0m1 8h0m1 0h0m2-3h0m3 17h0m1-5h0m0-3h0m2-6h0m1-1h0m0-6h0m1 1h0m0 19h0m7-4h0m0 5h0m3-18h0m6 11h0m0 0h0m1 0h0m4-19h0m1 0h0m1 25h0m2-25h0m1 6h0m1-7h0m0 1h0m0-3h0m1 22h0m0 2h0m2-8h0m4 9h0m0 4h0m0-7h0m1-8h0m1-8h0m4-4h0m1 17h0m0-14h0m3 21h0m2-5h0m0 1h0m1-13h0m0-9h0m3 28h0m0-16h0m0 11h0m0-20h0m5 21h0m2-19h0m2 19h0m2-22h0m1 1h0m2 22h0m0 0h0m1-8h0m1-4h0m3 0h0m2-10h0m0 2h0m1 9h0m1-13h0m0 19h0m0-10h0m2 18h0m1-4h0m1 3h0m1-24h0m2-2h0m1-1h0m2 26h0m1-23h0m0 14h0m1-3h0m1-3h0m3 18h0m0-25h0m1 19h0m2-13h0m2 3h0m1 7h0m1-8h0m1 3h0m9-11h0m3 13h0m0 5h0m0-21h0m8 27h0m2-5h0m11 4h0m45-16h0m8 15h0m2 3h0m1-12h0m0-15h0m1 22h0m0-18h0m1 2h0m3 13h0m0-1h0m1 7h0m2-5h0m1-4h0m3-5h0m1-7h0m1 2h0m4 7h0m1 1h0m4-16h0m1 20h0m1 6h0m6-23h0m1 8h0m0-5h0m0-5h0m1 5h0m1 0h0m0 2h0m4 3h0m0-11h0m1 14h0m2 10h0m1-9h0m2 12h0m0-12h0m2-12h0m1 22h0m3-22h0m2 23h0m2-7h0m2 0h0m2 3h0m0 3h0m1-5h0m0-1h0m5-11h0m0 12h0m4 7h0m2-26h0m1 24h0m1-22h0m0 25h0m0 1h0m3 0h0m3-3h0m1 0h0m1-21h0m2 1h0m1 9h0m8-15h0m0 23h0m2 6h0m1-19h0m7-1h0m0 2h0m2 7h0m0-13h0m3 6h0m0-5h0m1 0h0m4 19h0m0-5h0m2-15h0m2 14h0m0 5h0m1-14h0m2 18h0m3-18h0m0 0h0m1 8h0m0 10h0m0-21h0m2-1h0m1 17h0m0-23h0m4 4h0m2 4h0m2 4h0m3 11h0m0-15h0m1-6h0m1 23h0m0-15h0m2-1h0m1 10h0m2 8h0m2-14h0m0 15h0m1-15h0m2 1h0m0 0h0m1 4h0m2 9h0m1-20h0m4-6h0m5 24h0m1-3h0m0-3h0m3 5h0m0-2h0m0-6h0m0-16h0m1 1h0m0 24h0m1-7h0m0-18h0m1 12h0m1 17h0m3-25h0m1 20h0m2-15h0m1-5h0m1-4h0m1 25h0m3-18h0m0 17h0m1-15h0m2-5h0m0 0h0m5-2h0m1 22h0m2-5h0m1-13h0m0-3h0m1 20h0m0 0h0m1-19h0m0 13h0m2 8h0m5 3h0m1-15h0m1 11h0m1-7h0m3-12h0m4 19h0m1 4h0m0-24h0m1 16h0m0-8h0m10 5h0m1-2h0m3-4h0m2 11h0m0-14h0m3 16h0m4-16h0m0 18h0m1-16h0m0-9h0m1 21h0m1-22h0m1 20h0m2-11h0m2 11h0m1 7h0m1-9h0m0 5h0m2-10h0m1 0h0m5-8h0m2 24h0m0-28h0m2 22h0m1-23h0m2 3h0m2 17h0m2 3h0m1-21h0m0 3h0m0 23h0m1-15h0m2 1h0m1-7h0m0-5h0m0 1h0m1 22h0m1-9h0m1 9h0m0-2h0m3-15h0m3 5h0m3 15h0m0-16h0m1 4h0m2-10h0m1 19h0m2-19h0m0 5h0m0-10h0m0 28h0m4-19h0m1 9h0m0 6h0m1 2h0m0-4h0m1-5h0m1-7h0m1-10h0m2 0h0m1 3h0m2 0h0m1 14h0m3 6h0m2-21h0m4 24h0m0-4h0m1-10h0m0 5h0m3-15h0m0 12h0m0-8h0m1 2h0m0-9h0m0 2h0m4 20h0m3-12h0m0 13h0m2-11h0m1 16h0m1-8h0m1 8h0m1-20h0m1 5h0m2-2h0m0-11h0m6 3h0m2 24h0m-7 31h0m-2-14h0m0-13h0m-4 5h0m-2 6h0m0 16h0m-1-6h0m-1-20h0m-1 23h0m-1-14h0m-1-11h0m0 15h0m0 5h0m-1-6h0m0 11h0m-1-9h0m-4 13h0m-1-26h0m-1 19h0m-1-14h0m0 5h0m-1 4h0m-1-6h0m-3-2h0m-1 17h0m-3-10h0m-2-9h0m0 4h0m-1 11h0m-2 3h0m-1-3h0m-3-22h0m-2 2h0m0 14h0m-1-12h0m-2 25h0m-3-11h0m0-1h0m-1-16h0m-4 20h0m0-1h0m-1-14h0m-2 6h0m-2 10h0m0 2h0m-2-24h0m-1 9h0m-2-8h0m-1-1h0m0 15h0m-1-13h0m0 13h0m0-14h0m-4 16h0m-2-8h0m0 14h0m-2-2h0m0-6h0m-2-8h0m-2 5h0m0 16h0m-2-26h0m-3 10h0m-1 5h0m-3-1h0m0-11h0m-2 19h0m0-3h0m-1-15h0m-1 21h0m-1-15h0m-3-6h0m-2-2h0m-1 11h0m0 1h0m-1 11h0m0-5h0m-1-9h0m-1 9h0m-4 0h0m-3-11h0m-1 2h0m0 0h0m0-12h0m-3 25h0m-1-18h0m-3 5h0m-2-6h0m0 21h0m0-6h0m-2-7h0m0 4h0m0-11h0m-3 2h0m0 17h0m-1-26h0m-1-1h0m0 24h0m0-15h0m-2 18h0m-1-2h0m-1-21h0m-6-4h0m-1 24h0m0-11h0m-1-11h0m-2 26h0m-2-16h0m-3 6h0m-1 11h0m-3-20h0m-1-9h0m-4 10h0m0 1h0m-4 4h0m0 6h0m-2-19h0m0 1h0m-1 9h0m-6-4h0m-4 21h0m-2-15h0m-1 9h0m-1-16h0m-1 17h0m0-9h0m-4-12h0m-2 12h0m0 11h0m-2 3h0m-2-5h0m-5-19h0m0 7h0m-1-11h0m-1 27h0m-1-9h0m0 1h0m-1-7h0m-1 4h0m0-10h0m-2-1h0m0 4h0m-2 12h0m0-3h0m-4 10h0m0-23h0m-1 7h0m-1-12h0m-2 10h0m0-9h0m-1 9h0m0 13h0m-1-17h0m-5 4h0m0-2h0m-1 0h0m-3-4h0m-3 10h0m-8-14h0m-1 26h0m-1-5h0m0-18h0m0 20h0m-2 3h0m0-7h0m-1-6h0m0-5h0m-1 11h0m0-10h0m-2 16h0m-2 1h0m-3-25h0m-1 23h0m-1-7h0m-1 0h0m0 4h0m0 5h0m-1-10h0m-2 6h0m-2 1h0m-3-13h0m-1 3h0m-4-5h0m-1-7h0m-3 12h0m-2 5h0m-2 6h0m-3-17h0m0 6h0m0-6h0m-2 1h0m-1 4h0m-1-2h0m0 16h0m-4-5h0m0 7h0m-2-8h0m-1-17h0m-10 17h0m-1-3h0m-1-15h0m-1 14h0m0-14h0m-1 24h0m-2-25h0m-1 14h0m-4 2h0m-1 7h0m-1-4h0m-1-5h0m-1 4h0m-1 9h0m-1-5h0m0 2h0m-1-11h0m-2 9h0m-3-7h0m-2-9h0m-1 21h0m-1-28h0m-3 0h0m-2-1h0m-1 7h0m0-4h0m-3-3h0m0 21h0m-2 5h0m0-24h0m-2 15h0m-2-6h0m-3 6h0m-1 0h0m-2 12h0m-1-17h0m-6-4h0m-2 3h0m-14 8h0m-40-2h0m-1 3h0m-4-2h0m-3-6h0m0-4h0m-3 4h0m-1-6h0m-3 1h0m-2 9h0m-4 8h0m-5-1h0m-1-23h0m-1 14h0m-1-14h0m0 2h0m0 9h0m-2-8h0m-1 6h0m0 20h0m-1-2h0m-4-2h0m-2-5h0m-1-19h0m0 7h0m0 1h0m-1-2h0m-1 3h0m0 17h0m-1-18h0m-1 14h0m0-16h0m-2 0h0m-1 5h0m-1 13h0m-2-3h0m-1-8h0m0 9h0m-1-16h0m0 18h0m-2-19h0m-1 19h0m-1-14h0m-1-4h0m0 17h0m0-20h0m-1 9h0m-2 13h0m0-3h0m-2 2h0m-1 2h0m0-3h0m-1 0h0m-6-24h0m-1 28h0m-5-2h0m-2-4h0m0-7h0m-1-13h0m-2 13h0m-1-3h0m-1-11h0m0 5h0m-3 19h0m0-2h0m-1-14h0m-1 16h0m-1-14h0m-1-1h0m-1 18h0m-3-15h0m0 5h0m-2-14h0m-3 7h0m-1-1h0m0 9h0m-4-19h0m0 19h0m-2 9h0m-1 1h0m-1-11h0m-1 2h0m-2-10h0m-3 14h0m-1-14h0m-1 1h0m-4 5h0m0 4h0m-1-18h0m0 19h0m-1-9h0m-2 7h0m-2-14h0m-4-4h0m-2 7h0m0 19h0m-1-10h0m0-15h0m0 18h0m-2-1h0m-1 0h0m-2 3h0m0-6h0m-4 1h0m0-3h0m-1-10h0m-1 9h0m-5 8h0m0 5h0m-2-5h0m-1-6h0m-2 13h0m-5-19h0m-1 5h0m0 7h0m-2-4h0m-2 11h0m-1-19h0m-1-1h0m-1 6h0m-1 11h0m0 4h0m-3-26h0m-2 4h0m-1 0h0m-2 14h0m0-1h0m-1-4h0m-1 6h0m-6-1h0m0-14h0m-1-1h0m-2-5h0m-4 28h0m-1-17h0m-2 2h0m0-6h0m0 3h0m-1 6h0m-3 1h0m-1 3h0m0-11h0m-4 7h0m-3 2h0m0-2h0m-5 0h0m-3-9h0m-2 0h0m-1-1h0m-1 1h0m-3 15h0m-1-23h0m-1 2h0m-1 9h0m-1-2h0m0 11h0m-2 3h0m-1-21h0m0 11h0m-3 7h0m-1-13h0m-2 5h0m-2 15h0m0-23h0m-1 13h0m-2-17h0m-1 22h0m-2-19h0m-1 7h0m-2 16h0m0-3h0m-3 2h0m-2-19h0m0 12h0m-1-11h0m0-4h0m-1 23h0m-1 1h0m-2-12h0m-6-8h0m-3-4h0m0 17h0m0-6h0m-7-5h0m-5 9h0m-1-10h0m-2-3h0m-1-1h0m-1 5h0m0 5h0m-2 8h0m-1 7h0m0-26h0m-1 4h0m-6 5h0m0 9h0m-1 5h0m-1-3h0m0-7h0m-1-15h0m-3 15h0m-1 1h0m-2-7h0m-3 7h0m-2 7h0m0-19h0m-5 11h0m-2-6h0m-2 7h0m-1-15h0m0 16h0m-4-2h0m-1 8h0m0-6h0m-4-11h0m-3 12h0m-6-6h0m-5 15h0m0-4h0m-1-6h0m-2-16h0m-3 10h0m-2-3h0m-6 3h0m-2-5h0m-2-2h0m-3 8h0m-1 13h0m-1-24h0m0 21h0m4 26h0m10-9h0m1-9h0m1 2h0m3 23h0m4 3h0m6-1h0m0-8h0m3-15h0m0 4h0m6 16h0m8-22h0m5 23h0m3-17h0m6-6h0m1 24h0m2-21h0m1 9h0m0-10h0m2 17h0m2-15h0m0 4h0m5-7h0m0 11h0m1 3h0m1-18h0m6 25h0m0 4h0m0-12h0m4-5h0m3-9h0m0 25h0m1 1h0m1-18h0m1-2h0m0 1h0m0 6h0m1-11h0m1-1h0m4 20h0m1-8h0m0-9h0m1 7h0m3 10h0m4-1h0m1-1h0m0-15h0m1 17h0m4 1h0m1-25h0m0 5h0m3-2h0m2 17h0m0-17h0m5 18h0m1-18h0m1 18h0m9-9h0m2-8h0m2-3h0m2 26h0m1-2h0m2-4h0m1-12h0m2-7h0m0 11h0m1 2h0m2 5h0m1-5h0m0-3h0m0 13h0m1-9h0m1 7h0m2 2h0m1-11h0m2 1h0m1 8h0m0-17h0m1 8h0m0-11h0m3 0h0m5 13h0m4-4h0m2-12h0m3 10h0m2-7h0m2 22h0m3-20h0m0-2h0m1 23h0m1-2h0m0-1h0m1 4h0m3-10h0m2-16h0m0 18h0m2 0h0m2 9h0m2-11h0m2-9h0m2 3h0m0 3h0m0 12h0m1-13h0m1-9h0m4 12h0m2-8h0m0 21h0m3 0h0m1-19h0m0 3h0m1-4h0m0 11h0m0 6h0m2-26h0m1 14h0m3 6h0m3-15h0m2-1h0m0 4h0m1 20h0m4-23h0m1 6h0m1 5h0m1 12h0m3-1h0m0-23h0m2 25h0m1-4h0m0-5h0m0-7h0m5-11h0m1 26h0m1-17h0m1 1h0m1 2h0m0-2h0m0-7h0m1 24h0m0 0h0m3-12h0m1 10h0m1-2h0m3-24h0m0 25h0m1-3h0m2-14h0m3-1h0m3 12h0m0-1h0m2 4h0m1-9h0m1-3h0m0-8h0m1 5h0m2 20h0m0-16h0m1 1h0m0-8h0m0 13h0m1 7h0m0-25h0m1 13h0m1 14h0m2-19h0m0 14h0m3-17h0m1 21h0m0-8h0m1-2h0m0 3h0m2-5h0m0-11h0m2 14h0m0 2h0m7-4h0m1-2h0m0-2h0m1 6h0m3 8h0m1-17h0m0-8h0m0 24h0m1-22h0m1 2h0m0 15h0m0 3h0m1 7h0m0-18h0m1-10h0m0 0h0m2 15h0m1-4h0m0 16h0m1-26h0m2 9h0m0-8h0m2 20h0m0-4h0m0 0h0m1 0h0m1-6h0m0-12h0m1 4h0m0 12h0m1-6h0m1 17h0m0-16h0m0 14h0m1-11h0m2 10h0m2-22h0m1 14h0m0 10h0m2-27h0m1 21h0m0 8h0m0-14h0m1-14h0m1 15h0m0-9h0m1-4h0m3 14h0m2 12h0m1-25h0m0 23h0m1-17h0m1 3h0m3 10h0m5-20h0m5-1h0m2 9h0m1 7h0m13-7h0m42 0h0m4 0h0m0 3h0m0 12h0m0-5h0m2-13h0m3 18h0m1-13h0m2 1h0m1 9h0m0 3h0m2-16h0m2-9h0m7 23h0m1-14h0m1 2h0m1-2h0m0 6h0m1 4h0m0 0h0m4 0h0m1-7h0m0 3h0m1 11h0m3 1h0m10-20h0m0 16h0m2-15h0m1 11h0m0-19h0m0 10h0m4 9h0m3-20h0m2 1h0m0 21h0m0-14h0m1 21h0m1-9h0m1-10h0m0 13h0m0-7h0m0-13h0m0 9h0m1-4h0m1 0h0m1 16h0m2-9h0m0-6h0m0 1h0m1 19h0m2-3h0m3 2h0m0 0h0m1-12h0m0-3h0m3 14h0m3-20h0m3 5h0m1-11h0m3 25h0m3-7h0m0-5h0m5 9h0m2-23h0m1 2h0m0 11h0m2 9h0m1 4h0m2-7h0m0-2h0m2-11h0m0 12h0m1-8h0m0 16h0m1-9h0m2 11h0m0-16h0m1 7h0m2-13h0m2 22h0m1-12h0m0 9h0m1-25h0m0 15h0m1-10h0m3-5h0m2 19h0m0 6h0m0-15h0m0 14h0m3-10h0m2-2h0m0-11h0m1 21h0m2-13h0m0 10h0m1-2h0m3 12h0m1-17h0m4 11h0m1 0h0m1-16h0m4 1h0m1 14h0m3 5h0m2 0h0m1-23h0m0 15h0m0 10h0m1-11h0m2 1h0m7-13h0m2-1h0m2 1h0m3-6h0m2 21h0m1-17h0m0 18h0m1-19h0m0 23h0m2-14h0m0-7h0m0-2h0m2 22h0m3 0h0m2-10h0m1 4h0m9-10h0m1 7h0m0-3h0m1-2h0m0-1h0m0-3h0m3 20h0m1-24h0m2 2h0m0-4h0m2 9h0m1 4h0m0 6h0m1 8h0m4-6h0m0 7h0m3-23h0m0 6h0m1 13h0m4-19h0m0-3h0m1-3h0m1 12h0m0 12h0m0-19h0m2 3h0m1 6h0m1 2h0m1 13h0m0-12h0m1 12h0m1-22h0m1-6h0m0 21h0m1-16h0m2 18h0m1-3h0m1-7h0m3-8h0m1-1h0m1 23h0m2-22h0m4 18h0m0-13h0m2-4h0m5 5h0m1-10h0m0 12h0m2 8h0m2-19h0m2 25h0m1-10h0m1 2h0m1-14h0m0-1h0m0-2h0m1 7h0m0-1h0m2 10h0m0-12h0m1 12h0m1-13h0m4 2h0m1 12h0m0-10h0m1-5h0m3 2h0m1 12h0m0-16h0m2-2h0m2 3h0m3 4h0m1 1h0m1 1h0m1-10h0m0 12h0m4 15h0m0-19h0m2 0h0m2 13h0m2-14h0m2 11h0m0 9h0m2-26h0m7 15h0m0-3h0m4 1h0m0 2h0m1 1h0m8-1h0m0 13h0m0-26h0m0 11h0m1-8h0m3 10h0m3-16h0m2 13h0m3 12h0m2 0h0m2-10h0m1 5h0m1-5h0m1-1h0m0 11h0m4-8h0m0-9h0m1 5h0m6-3h0m1-7h0m0 9h0m0-10h0m0 10h0m1 2h0m2-9h0m3 7h0m1 7h0m0-10h0m1 5h0m2-6h0m12 11h0m-17 17h0m0 23h0m-7-19h0m0 3h0m-1-8h0m-5 10h0m-1-9h0m-3 1h0m-1 22h0m0-16h0m-4 14h0m-6-9h0m-1-2h0m-1 7h0m-1 0h0m-1 3h0m-5-21h0m0 20h0m-1-15h0m-1 2h0m0 8h0m-2-19h0m-3 20h0m-1-1h0m0-20h0m-1 1h0m-1 23h0m-2-6h0m-1 5h0m-1-9h0m-2-12h0m0 27h0m0-6h0m0-12h0m-1-7h0m0 23h0m-1-4h0m-3-16h0m-1 22h0m-2-2h0m-1-1h0m0-1h0m0-12h0m-1 8h0m-1 3h0m0-15h0m-7-6h0m-2 22h0m0-14h0m0 6h0m-2-17h0m-2 2h0m-6 18h0m0-10h0m-1-10h0m-2 16h0m-1 5h0m-2 1h0m-2-1h0m-1 7h0m-4-25h0m0 26h0m0-19h0m-2 4h0m-1-10h0m0 22h0m-3-5h0m0-9h0m0-6h0m-2 11h0m-2-6h0m0 11h0m-1 5h0m-1-2h0m0-25h0m0 29h0m-2-1h0m0-16h0m-2-2h0m-1 3h0m0 12h0m-1-13h0m-1 0h0m-1 13h0m-1-7h0m0-4h0m-1-2h0m-2 11h0m0-9h0m-4 13h0m-5-18h0m-1 10h0m-1-19h0m-1 12h0m-9-12h0m-1 10h0m0 17h0m-3-25h0m-1 9h0m-1 16h0m-5-19h0m-4 2h0m-1 10h0m-1-9h0m-1 1h0m-1-12h0m-1 12h0m0 15h0m-2 2h0m-3-26h0m0 21h0m-2-23h0m-1 8h0m-1-1h0m-1 8h0m-1 12h0m-2-20h0m-1-4h0m-1 22h0m0 3h0m-1-4h0m0-21h0m-1 2h0m-1 14h0m-2 8h0m-2-15h0m-3-1h0m-1-5h0m-4 2h0m-2-1h0m0-2h0m0 15h0m-1-18h0m-3 8h0m-1 10h0m0-4h0m0 0h0m-1 11h0m-3-14h0m-1 13h0m-1-19h0m-1-4h0m-1 19h0m-2 1h0m-1 0h0m0-9h0m-1-9h0m0 4h0m-2 11h0m-2-3h0m-1 9h0m-1 0h0m-2-4h0m-1-4h0m-1 0h0m-2-10h0m-1 16h0m0-1h0m-2-10h0m-1-14h0m-1 26h0m0-5h0m-1 3h0m-1 0h0m-1-17h0m-1 12h0m-1-18h0m-3 20h0m-1-21h0m-4 27h0m0-9h0m0-12h0m0 15h0m-1 8h0m-3 0h0m0-1h0m-1-8h0m-1-7h0m0 2h0m-2-4h0m0 0h0m-1 15h0m-2-20h0m-3-6h0m-1 5h0m-2 11h0m-3-15h0m-5 22h0m-1-16h0m0 7h0m-1-9h0m-1 15h0m0-11h0m-1 16h0m-2-15h0m-1 17h0m0-18h0m-2-6h0m0 25h0m-2-25h0m-1 17h0m0-1h0m0-12h0m-2 8h0m-2-3h0m0 1h0m0-1h0m-2 3h0m0 11h0m-1-18h0m-2 2h0m-1-5h0m-1 4h0m-1 19h0m-1-1h0m0 1h0m-1-4h0m-4 5h0m-1-4h0m-2-20h0m-1 4h0m0-6h0m0 16h0m-2-8h0m0 4h0m-1 12h0m-1-7h0m-5-11h0m-1-2h0m-3 3h0m-1 12h0m0 1h0m-1-14h0m-6 13h0m0-4h0m-2 3h0m-3 1h0m-3 4h0m-1-18h0m0 1h0m-4 15h0m-1-11h0m-1 9h0m0 2h0m-1-2h0m-1-17h0m-1 0h0m0 7h0m-1-4h0m0 5h0m-1-2h0m-3 15h0m0-8h0m-1-10h0m0 4h0m-4 4h0m0 1h0m-2-12h0m-1 22h0m0 1h0m-1-26h0m-3 21h0m-1-13h0m-4 0h0m0-2h0m0-8h0m-10 13h0m0-1h0m-8 5h0m-32-4h0m0-12h0m-8 2h0m-1 18h0m-6-11h0m-1 4h0m0 9h0m0-21h0m-1 0h0m0 0h0m-1 6h0m-1 9h0m-5-8h0m0-2h0m-4-4h0m-4 26h0m0-16h0m-1-10h0m-1 19h0m-2-14h0m0-2h0m-1 2h0m-1 2h0m0 3h0m0-12h0m-2 14h0m-9 9h0m-1 2h0m-2-24h0m-3 23h0m-2-22h0m-2 7h0m-1 1h0m-1-2h0m0 15h0m-1-11h0m-3-12h0m0 5h0m-6 0h0m-1 7h0m-1-2h0m-1-11h0m0 1h0m-2 1h0m-1 16h0m-1 4h0m-4-5h0m-1 12h0m0-28h0m0 11h0m-2-1h0m-1 4h0m0 13h0m0-14h0m-1-5h0m-2 15h0m-1 2h0m-2-18h0m-2 3h0m-1 1h0m-1-2h0m-3-3h0m-2 19h0m-3 2h0m0-22h0m0 16h0m-2-6h0m-3-12h0m0 2h0m-3 16h0m-1 5h0m-1-3h0m-3-12h0m-1 15h0m-3-2h0m-1-10h0m-1-5h0m-3 9h0m-4 3h0m-3 1h0m-1-2h0m-3 6h0m-2-23h0m0 24h0m-1-12h0m0-10h0m-1 18h0m0-21h0m-2 17h0m-1-17h0m-1 6h0m-2 6h0m0-10h0m-1 21h0m-2-12h0m-3 13h0m-8-2h0m-2 1h0m-3-2h0m-3-8h0m0-12h0m0 9h0m-3 10h0m0-19h0m-1 17h0m0-21h0m-1 24h0m-6 1h0m-5-7h0m0 6h0m-3-3h0m-1-14h0m0 8h0m-1-10h0m-4 2h0m-2-3h0m0 6h0m-1 6h0m-1-7h0m0 7h0m-1-9h0m-1 18h0m0-10h0m-1 11h0m-1-7h0m0-5h0m-3-4h0m-3-3h0m-2 9h0m-1 7h0m-1-16h0m-1 16h0m0-22h0m-4 18h0m-4 0h0m0 4h0m-2-16h0m-3 10h0m-2 0h0m0-12h0m-1-5h0m0 11h0m-5-7h0m-1 24h0m0-6h0m0-12h0m-3-4h0m0-1h0m0-1h0m-4 23h0m-1-6h0m-1-13h0m-2-4h0m-2 17h0m0 3h0m-1-11h0m-1 1h0m-6-14h0m-3 3h0m-5 20h0m-4-7h0m0 2h0m-1-15h0m-3 8h0m0 14h0m-2-17h0m-5 9h0m0-12h0m-2 5h0m0-9h0m0 0h0m-3 14h0m-1-13h0m-6 4h0m-1-4h0m-3 0h0m-4 17h0m-9-14h0m-5 15h0m0-8h0m0-2h0m-9 19h0m0-28h0m-4 15h0m-4-1h0m10 26h0m2 1h0m6-12h0m4 8h0m8-4h0m1 8h0m3-11h0m1 21h0m4 3h0m1-24h0m1 1h0m2 15h0m0 8h0m2-23h0m2 26h0m2-11h0m1 1h0m1-5h0m2 14h0m1-23h0m0 20h0m0-10h0m2-7h0m0 11h0m2-12h0m2 16h0m1-21h0m4 15h0m2-6h0m0 2h0m4-12h0m5 11h0m0 7h0m2-14h0m0 19h0m0 4h0m1-14h0m1-6h0m2 19h0m1-8h0m1-17h0m3 28h0m2-21h0m4 8h0m3-5h0m2 15h0m2 0h0m0 3h0m1-12h0m1 2h0m1-14h0m0 18h0m2-4h0m0 6h0m1-9h0m1 1h0m0-14h0m4 4h0m5 12h0m5-16h0m0 17h0m2-12h0m0 17h0m2-2h0m0-18h0m3 5h0m1-2h0m1 0h0m5 21h0m0-13h0m4 2h0m3 7h0m2-4h0m1-18h0m0-3h0m2 15h0m1 3h0m4-2h0m2-16h0m1 29h0m1-15h0m0-3h0m1-5h0m3 3h0m1 14h0m0 3h0m1-22h0m2 3h0m0-6h0m3 2h0m2 22h0m4-23h0m2 15h0m3 10h0m0-10h0m0 2h0m0-14h0m2 24h0m2-8h0m2-18h0m0 24h0m2-12h0m5 0h0m2-3h0m2 12h0m0-15h0m0-7h0m7 2h0m5 16h0m0 7h0m0 2h0m1-26h0m1 8h0m1 7h0m0 10h0m3-4h0m2-23h0m5 10h0m2 9h0m2 8h0m1-12h0m1 2h0m2 10h0m3 1h0m0-13h0m3 4h0m2 5h0m1 0h0m0-6h0m0 10h0m2-28h0m0 22h0m1 0h0m5 5h0m0-26h0m0 8h0m3 17h0m2-7h0m1 5h0m0-23h0m1 13h0m1 11h0m2-17h0m3 15h0m3-17h0m1 9h0m1 9h0m0-23h0m2 7h0m1 6h0m8 8h0m0-4h0m3-3h0m1 11h0m0-9h0m3-9h0m1 9h0m2-3h0m3 7h0m3-14h0m1 13h0m3-11h0m1-6h0m1 2h0m0 21h0m1-4h0m3-7h0m1 10h0m1 0h0m0-16h0m1-1h0m2 10h0m0-13h0m1 8h0m1 2h0m0-6h0m0 4h0m1-3h0m3-9h0m3 9h0m0-9h0m4-2h0m39 9h0m4 9h0m1 2h0m1 8h0m0-17h0m2 10h0m4 3h0m0-18h0m3 9h0m0 0h0m0-1h0m4-9h0m3 6h0m0-11h0m1 5h0m0 22h0m2-26h0m1 5h0m5-3h0m1 12h0m1 2h0m1-11h0m0 9h0m0-12h0m2 2h0m1 7h0m2 14h0m2-9h0m4-14h0m0 1h0m0 16h0m3-12h0m2-3h0m0 22h0m0-18h0m1 15h0m4-8h0m1-4h0m3-7h0m0 20h0m0-7h0m2-15h0m1 2h0m1 10h0m6-2h0m2-7h0m0 9h0m1 2h0m2-15h0m2 25h0m5-23h0m1 22h0m1-18h0m0-2h0m3-3h0m0 6h0m1 6h0m1 10h0m1-5h0m0-12h0m2 16h0m1-24h0m1 4h0m1-2h0m0 27h0m5-5h0m1-14h0m4 12h0m0-8h0m0-10h0m1 21h0m1-12h0m3-4h0m2 17h0m2-3h0m3-13h0m3 5h0m1-10h0m0 19h0m0-21h0m1 4h0m11-7h0m1 5h0m1 1h0m3 6h0m3 10h0m1-13h0m3 3h0m0 0h0m1-8h0m1 21h0m0-18h0m6 3h0m4 9h0m0-19h0m1 27h0m2 0h0m1-17h0m2 0h0m0 4h0m0 9h0m2-7h0m4-11h0m1 2h0m1 21h0m1-1h0m2-1h0m1-4h0m0 4h0m2-16h0m3 6h0m2-6h0m1 16h0m1-10h0m1 12h0m1 0h0m0-4h0m1-1h0m2-11h0m1-5h0m0 0h0m0-3h0m0 14h0m4-13h0m1-2h0m0 2h0m1 23h0m1-21h0m0 0h0m1 9h0m1-16h0m4 12h0m0 1h0m1-9h0m1 8h0m1 17h0m0-11h0m0 9h0m0-12h0m1-15h0m0 15h0m2 11h0m4-5h0m1-20h0m0 28h0m1-9h0m1 0h0m0-2h0m2 6h0m4-23h0m1 24h0m0-6h0m1 3h0m0-5h0m1-9h0m1-1h0m0 14h0m1-2h0m2-7h0m1 6h0m0-16h0m1 18h0m1 6h0m5-18h0m0 2h0m0-5h0m1 15h0m1-2h0m3 8h0m1-10h0m1-11h0m0 6h0m2 14h0m5-11h0m1-1h0m3 13h0m2 0h0m1-18h0m0 10h0m1-4h0m3 13h0m0-26h0m4 5h0m1 18h0m1-20h0m1 1h0m4-5h0m0 15h0m12-14h0m1 24h0m4-14h0m7 14h0m1-5h0m1-10h0m1-7h0m2 9h0m1 10h0m1-4h0m0 2h0m1-20h0m1 28h0m3-4h0m0-3h0m1 8h0m1-18h0m2-11h0m2 20h0m1-11h0m0-4h0m1 10h0m1 7h0m0-15h0m2 6h0m0-4h0m1 6h0m2 13h0m0-1h0m0-21h0m1 18h0m2-10h0m1-14h0m3 18h0m0-15h0m3 15h0m2 7h0m2-3h0m1 2h0m0-1h0m0 1h0m0-11h0m2 2h0m3 10h0m0-5h0m0-5h0m1 10h0m2 4h0m1-18h0m0 10h0m2-7h0m1 14h0m1-5h0m1 2h0m1-3h0m1-17h0m1 6h0m6-9h0m2 24h0m2-17h0m2 12h0m1-2h0m0-10h0m1 7h0m3 13h0m1-21h0m0 19h0m4-24h0m2 22h0m2 1h0m9 8h0m-4 9h0m-6-2h0m-2 7h0m0-6h0m-2-12h0m-1 27h0m-3-1h0m-3-26h0m-1 4h0m-1-1h0m-1-2h0m-3 10h0m-1 13h0m0-2h0m-1 5h0m-1-11h0m0 9h0m-1-4h0m-3-7h0m-5-9h0m-1 16h0m-1-14h0m-4-4h0m-1 15h0m-4-3h0m-1 13h0m-1-11h0m-1-17h0m-1 21h0m0-8h0m-2 16h0m-3 0h0m-7-21h0m0-3h0m-3 22h0m-1-15h0m-2 3h0m-1-8h0m-1 10h0m-3 12h0m-2-14h0m-5-9h0m-1 17h0m-5-15h0m-1 12h0m-3-4h0m-2 0h0m0-7h0m0 3h0m0 10h0m-1 7h0m-1-27h0m0 21h0m-2-22h0m-1 22h0m-1-16h0m-1 8h0m0-8h0m-1 11h0m-1 5h0m0 3h0m-1-18h0m-1 11h0m-3-1h0m0-5h0m-3-12h0m-7 5h0m-1-5h0m0 21h0m-1-6h0m0 11h0m-2-27h0m-2 22h0m-4 2h0m0 5h0m0-20h0m-1 9h0m-1 5h0m-2 2h0m-1-9h0m0 2h0m0-12h0m-4 8h0m-2-6h0m-3 5h0m-1-3h0m-2-2h0m0-4h0m-2-4h0m0 5h0m-1 0h0m-2 11h0m0-2h0m0 0h0m-1 10h0m-1-10h0m-6-1h0m-2 8h0m-2-6h0m-4-5h0m-1 1h0m-4 15h0m0-20h0m-2 10h0m-7-8h0m-2-6h0m0 7h0m-1-1h0m0-8h0m0 15h0m-2-2h0m0 13h0m-1-17h0m-1-8h0m-2 4h0m-1 9h0m-1-5h0m-1 13h0m0 3h0m-7-7h0m0 1h0m-2-8h0m0-9h0m0 18h0m0-15h0m-4-4h0m0 10h0m-1-7h0m-2 5h0m-1 3h0m-3-8h0m0-3h0m-2 0h0m-1 11h0m-3 14h0m0-11h0m-4-8h0m0 2h0m-2 13h0m-1-5h0m-2 3h0m-1-3h0m0 6h0m0-10h0m0-3h0m0 16h0m-1-20h0m0 12h0m-1-15h0m0 3h0m-1 0h0m0 8h0m-2 3h0m-1 8h0m-2-19h0m-3 1h0m0 5h0m-1-6h0m0 3h0m0 1h0m-1-1h0m-4 4h0m0 4h0m-1-16h0m-3 10h0m0-7h0m-1 7h0m-2 5h0m-2-2h0m-1 8h0m-4-16h0m0-4h0m-1 17h0m0 6h0m0 3h0m-1 1h0m0-20h0m-3 3h0m0 7h0m-3-3h0m-2-10h0m-3 13h0m0 0h0m-1-18h0m-3 2h0m-2 1h0m-4-2h0m0 9h0m-1 4h0m-5 3h0m0 11h0m-2-10h0m-1 10h0m0-12h0m-2 2h0m0-15h0m-3 16h0m-2-10h0m0 6h0m-1-6h0m-1-9h0m-4 1h0m-1 1h0m0 7h0m-1 16h0m-2-4h0m0 2h0m-2-9h0m-2 12h0m-4-27h0m-1 11h0m0 10h0m-2-20h0m-2 22h0m-1-16h0m-2 20h0m-1-11h0m-1 8h0m0-4h0m-1-12h0m-1 8h0m-1-10h0m0-6h0m-4 9h0m-2-8h0m0 24h0m0-16h0m-3 11h0m-3-15h0m-1 11h0m0-16h0m-1 1h0m-1 21h0m-2-16h0m-1 14h0m-4-10h0m-1 9h0m-8 10h0m-2-28h0m0 20h0m-1-2h0m-5 1h0m0-1h0m-1-3h0m-1-16h0m-4 17h0m-2 4h0m-2 2h0m0-16h0m-1 4h0m-2 14h0m-6-1h0m-1-5h0m0-10h0m-1 20h0m-1-13h0m-1 8h0m0-23h0m-1 21h0m-2-9h0m-1-4h0m-7 11h0m-34-7h0m-6-12h0m0 22h0m-3-6h0m-1-9h0m-2 8h0m-6-6h0m-1 12h0m0-16h0m0 16h0m-4-17h0m-1 4h0m-1-8h0m0 14h0m-1-11h0m-2 2h0m-2 23h0m-2-19h0m-1-6h0m0 15h0m-1 2h0m-1-4h0m0-6h0m-1-4h0m0-2h0m-1-1h0m-3 13h0m-2 7h0m0-12h0m-1-9h0m-2 4h0m-1-6h0m-1 21h0m-1-1h0m0-12h0m0 11h0m0-16h0m-1 12h0m-1 1h0m-4 11h0m-3-3h0m-1 2h0m0-5h0m-3-5h0m-1 12h0m0-25h0m-3 21h0m-1-25h0m-2 13h0m0 11h0m0-12h0m-8 2h0m0-2h0m-2-8h0m-2 6h0m0 1h0m-2 0h0m-2 6h0m-4 1h0m0-18h0m-1 19h0m-3-7h0m0-1h0m-1 6h0m0 7h0m0-1h0m-1 4h0m0-15h0m-4-7h0m0 16h0m-2-3h0m-1 5h0m-1-22h0m-2 19h0m-1-1h0m-5-11h0m0 8h0m-2-11h0m-4 11h0m0-1h0m0 14h0m-4-28h0m-2 23h0m-2-9h0m-2 12h0m-3-4h0m0-2h0m-1-8h0m-4-13h0m-1 3h0m-1 5h0m-1 16h0m0-20h0m-1 19h0m-2 3h0m-2-24h0m-1 3h0m-2-2h0m-2 2h0m-3 3h0m0 6h0m-1 2h0m-1 10h0m-2-9h0m-5-14h0m-1 6h0m-4-6h0m0 11h0m-7-1h0m-3 0h0m-6 9h0m-2 3h0m0-10h0m-1-13h0m0 24h0m-1-19h0m0-4h0m-1 15h0m-3-14h0m-3 9h0m-2-9h0m-5 6h0m-5 7h0m0-8h0m-3 15h0m-5-24h0m0 6h0m-4 5h0m-3 6h0m-1 5h0m0-5h0m0-13h0m-2 3h0m-2 3h0m-5 4h0m-2-12h0m-2 0h0m-1 6h0m-1-5h0m0 7h0m-1-10h0m-1 0h0m-1 9h0m-7-3h0m-1 3h0m-2-1h0m-1 9h0m-14-13h0m-4 24h0m138 2h0m9 0h0m9 6h0m1 1h0m5-5h0m8 7h0m13-2h0m7 0h0m13 4h0m21-10h0m1 7h0m2-2h0m4-1h0m1 14h0m3-18h0m9 0h0m2 1h0m59 16h0m3-11h0m0 10h0m3-9h0m2 20h0m0-13h0m1-12h0m1 8h0m0 6h0m1-3h0m1 3h0m2-17h0m0 1h0m1 13h0m1 2h0m4-3h0m1-10h0m7 18h0m0-18h0m0 22h0m1-4h0m1-19h0m1 15h0m0-12h0m1 24h0m5-22h0m3 6h0m1 9h0m1-16h0m2 20h0m2-24h0m1 22h0m3-24h0m1 14h0m0 15h0m0-19h0m1 6h0m1 2h0m3 5h0m1-5h0m3 0h0m1 9h0m0-12h0m1 10h0m1-25h0m3 8h0m1 6h0m3-2h0m1-12h0m1 7h0m1 4h0m0 0h0m1-6h0m1-5h0m1 12h0m4-11h0m2 19h0m6-15h0m1 10h0m0 11h0m3-17h0m0-1h0m0 15h0m3-15h0m3-2h0m3-4h0m2 9h0m0 6h0m1 1h0m1-2h0m1-9h0m1 21h0m0-5h0m3-16h0m0 0h0m2 5h0m1-10h0m1 20h0m1 3h0m2 4h0m1-2h0m1-12h0m1-4h0m1 4h0m1-14h0m0 6h0m2 17h0m1 4h0m2-16h0m0-8h0m2 23h0m2 2h0m0-4h0m1-2h0m2-14h0m1 5h0m2 0h0m1 6h0m1-10h0m1 4h0m0 15h0m1-17h0m1 17h0m3-4h0m1-23h0m1 16h0m1-15h0m0 21h0m1 3h0m1-23h0m0 24h0m0-7h0m1-8h0m3-4h0m1 18h0m3-6h0m2 2h0m1 3h0m1-23h0m1 2h0m0 12h0m11-14h0m3 8h0m4-10h0m3 4h0m2-3h0m2 11h0m1 1h0m3 1h0m1 1h0m0-2h0m1 13h0m1-9h0m1 7h0m0-1h0m1-7h0m1-11h0m0 9h0m1-9h0m3 14h0m1-8h0m1 11h0m1-23h0m1 18h0m0-2h0m2-14h0m2 13h0m0 9h0m1-8h0m1-12h0m3 12h0m1 2h0m2 0h0m2-6h0m1 15h0m2 2h0m3-12h0m0-13h0m1 23h0m8-23h0m1 17h0m1-9h0m0 0h0m0 4h0m2 5h0m1-5h0m6 2h0m0-5h0m2-5h0m1 9h0m1-6h0m2-6h0m2 7h0m0-12h0m0 11h0m2 9h0m2-1h0m0 1h0m0-9h0m1 16h0m0-23h0m2 5h0m3 3h0m0 9h0m4 5h0m2-16h0m1 7h0m2-12h0m1 0h0m1 17h0m4-19h0m1 24h0m0-6h0m2 7h0m2-2h0m3-1h0m1 3h0m1-19h0m4-6h0m1 4h0m4 0h0m1 14h0m2-7h0m0 13h0m1-4h0m1-11h0m0 5h0m0 2h0m1 3h0m1-12h0m0 16h0m4-14h0m1-5h0m2-1h0m0 10h0m1-8h0m1 17h0m0-4h0m1-1h0m1 7h0m1-9h0m0-8h0m6-8h0m0 24h0m1-11h0m1 14h0m0-15h0m1 7h0m0 1h0m4-1h0m2-9h0m2 11h0m1-12h0m1 12h0m1-17h0m1 4h0m4-8h0m5 17h0m1-12h0m1-4h0m0 21h0m0-12h0m1 3h0m1-8h0m1 19h0m3-3h0m0 2h0m2-5h0m1 6h0m2-19h0m0-5h0m2 4h0m3 22h0m1-16h0m2-2h0m2-7h0m1 25h0m1-10h0m1 1h0m2-6h0m0-2h0m1 1h0m1 12h0m1-18h0m0 1h0m2 13h0m1-1h0m3 9h0m1-26h0m10 18h0m1 19h0m-3 9h0m-4 8h0m-6 1h0m-2-24h0m-1 4h0m-6 7h0m0 13h0m-1-4h0m-1-2h0m-5-8h0m-1 14h0m0-17h0m-3 1h0m-1 17h0m-1-20h0m-1 20h0m-1-1h0m-1-8h0m-5-11h0m0-7h0m0 27h0m-1-9h0m-1-19h0m-1 8h0m-2 12h0m-1 3h0m-1 6h0m-2-15h0m-2 10h0m-4 0h0m-2-23h0m0 9h0m-1 0h0m-1-8h0m-1 23h0m-1-8h0m0 7h0m-4-18h0m-1 15h0m0 6h0m-1 2h0m-2-13h0m-1 12h0m-1-5h0m0-13h0m0 9h0m-2-2h0m0 11h0m-2-13h0m0 3h0m-1 9h0m0-24h0m-2 4h0m-1 2h0m-2 5h0m-1-11h0m0 19h0m-4-22h0m-1 16h0m-3-7h0m-1-4h0m-1-3h0m0 6h0m-1 8h0m0-6h0m-1 6h0m0-10h0m-1 23h0m-1-2h0m-2-8h0m-1-11h0m-2 2h0m0-4h0m0 13h0m-1-10h0m-5 4h0m-2 5h0m-1-1h0m-1-17h0m-2 10h0m0-5h0m-3 5h0m-4 19h0m-2-24h0m-1 6h0m-2 12h0m-1-4h0m-4 9h0m-1-25h0m0 19h0m-3-1h0m-1 5h0m-3-13h0m-1-10h0m0 15h0m-4-10h0m-3-3h0m-1 4h0m-1 20h0m-1-11h0m-1-16h0m0 15h0m-4 3h0m-2-20h0m-2 6h0m0 1h0m-1 9h0m-1-3h0m-2 9h0m0 4h0m-1-15h0m-1 14h0m0-4h0m-2 6h0m-1 1h0m-1-12h0m0-3h0m0-3h0m-2 10h0m-5 8h0m0-1h0m-1-7h0m-2 1h0m0 2h0m-4-15h0m-1 11h0m-2-19h0m-1 24h0m0-21h0m0 19h0m-3-11h0m-4 14h0m0-7h0m-4-6h0m-1-6h0m-2-6h0m-3 6h0m-2 23h0m-1-4h0m-1-25h0m-9 28h0m-2-8h0m0 9h0m0-22h0m0 5h0m0-4h0m-5 21h0m-1-7h0m-1 1h0m-1 3h0m0 3h0m-1-8h0m0-8h0m-3 9h0m-1-5h0m-1 0h0m0-7h0m-1 12h0m-1-12h0m-4 17h0m-4-16h0m0 18h0m-1-28h0m0 25h0m-1-14h0m-1 2h0m-1 0h0m-3 3h0m-1-11h0m-1 14h0m-1 1h0m0-6h0m0-8h0m-3-7h0m-6 25h0m-1 1h0m-2-16h0m0 17h0m-1 1h0m-3-4h0m-1-10h0m-1 7h0m-4 3h0m-2-7h0m-2 12h0m-2-9h0m0-18h0m-3 1h0m-1 17h0m0 9h0m-2-28h0m0 14h0m-1-13h0m-1 4h0m0 20h0m-4 3h0m0-28h0m0 7h0m-1-6h0m-6 1h0m0 23h0m-4-13h0m0 5h0m-1 3h0m-2-7h0m0 15h0m-1-14h0m-4 4h0m-1-17h0m-5 21h0m-5-6h0m-2 6h0m-2-5h0m0-1h0m-1-4h0m-1-3h0m-2-8h0m-1 3h0m0 10h0m-3-7h0m0 6h0m-1-5h0m-4 12h0m0-19h0m-2 17h0m-2-4h0m0-13h0m-1 10h0m0-11h0m-2 4h0m0 15h0m-2-1h0m-2-16h0m0 5h0m-2 13h0m-1 8h0m0-19h0m-3 7h0m-2-14h0m-19 3h0m-1-4h0m38 39h0m3-2h0m3 4h0m0-10h0m3 10h0m1-11h0m0 27h0m2-7h0m0-14h0m1 1h0m1-4h0m8-1h0m0-4h0m1 21h0m0 3h0m0-1h0m1-19h0m1 4h0m0 20h0m0-16h0m3 9h0m1-11h0m4 2h0m4 14h0m2-13h0m0 15h0m4-22h0m0 23h0m2-8h0m2 4h0m0-12h0m5-12h0m3 3h0m1 15h0m1 4h0m1-1h0m0 5h0m1-4h0m2 1h0m0-20h0m1-1h0m1 16h0m0 5h0m3 3h0m0-21h0m1 20h0m0-15h0m2 4h0m0 3h0m2-15h0m1 19h0m2-6h0m0-11h0m1 24h0m3-26h0m0 22h0m1-3h0m1-2h0m1-16h0m3 11h0m0 13h0m1-13h0m1 0h0m3 3h0m3 3h0m1-1h0m1-1h0m3-17h0m1 10h0m1-5h0m3 16h0m6-20h0m0 7h0m5-10h0m0 20h0m4 4h0m0-17h0m2 20h0m0 1h0m1-24h0m1 18h0m4-3h0m0 0h0m2-6h0m2 8h0m0-3h0m2-18h0m1 10h0m4 17h0m1-8h0m1-17h0m1 5h0m8 19h0m0-5h0m1-2h0m0-16h0m1-2h0m1 14h0m1-14h0m0 4h0m1 13h0m2-7h0m3-10h0m0 16h0m1-1h0m1 0h0m2-14h0m0 24h0m1-5h0m1 6h0m1-15h0m0-1h0m1-10h0m1 1h0m3 26h0m1-9h0m1-3h0m2 5h0m0-21h0m1 23h0m2-14h0m4-5h0m2 8h0m1 1h0m1 3h0m0 6h0m0 2h0m1-19h0m3 11h0m1 10h0m1-10h0m2 2h0m2 6h0m3-18h0m3 5h0m2 4h0m1-8h0m1 20h0m1-26h0m0 26h0m0-6h0m2 7h0m1-8h0m4-10h0m1 4h0m3-11h0m2 4h0m0 21h0m0-28h0m1 28h0m1 0h0m0-14h0m2-10h0m1 17h0m2 6h0m0-14h0m8-10h0m1 7h0m0 10h0m0-11h0m2 11h0m1-13h0m0 6h0m1 12h0m1-19h0m0-1h0m0 5h0m1-1h0m4 5h0m5 6h0m2-1h0m1 4h0m0-10h0m1-1h0m0-8h0m0 22h0m1 3h0m2 0h0m0-4h0m6-18h0m5 16h0m1-18h0m4 1h0m6 16h0m4-9h0m3 12h0m1-11h0m2 14h0m0-20h0m0 7h0m2 14h0m0-11h0m5-4h0m0 3h0m2-2h0m1 4h0m5-4h0m0 4h0m4-19h0m0 3h0m3 14h0m4-7h0m1-10h0m7 13h0m3-9h0m2 10h0m2-12h0m1 0h0m0-1h0m-12 36h0m-1 2h0m0-5h0m-3 13h0m-2-10h0m-1-7h0m-5 10h0m-4 18h0m0-14h0m-2 4h0m-6-3h0m-2-1h0m-1-11h0m-1 0h0m-2 22h0m-6-14h0m0-9h0m-2-1h0m-1 5h0m-2 5h0m0-1h0m-1 1h0m-2-10h0m-2 24h0m-2-4h0m-1-9h0m-1-5h0m-3 5h0m-2 14h0m-3-16h0m0 15h0m-2-5h0m-2 2h0m-1-2h0m-1-18h0m-1 24h0m0-8h0m-2-9h0m-1-9h0m0 3h0m-1 25h0m-2-25h0m0 22h0m-1-5h0m0-11h0m-11 13h0m-2-7h0m-1 3h0m0 5h0m-2-1h0m-4 0h0m-1 2h0m-2-8h0m0 11h0m-1-8h0m-1-8h0m0-4h0m-5 17h0m-2-3h0m-1-19h0m-2 12h0m0-7h0m-3-5h0m-4 1h0m-3 23h0m-1-21h0m0 14h0m-2-15h0m-2-4h0m0 28h0m0-27h0m-2 1h0m0 8h0m-1 6h0m-7 12h0m-2-6h0m-1-8h0m-4 13h0m-10-8h0m-1-4h0m0-5h0m-1-4h0m-1-1h0m0 3h0m0 4h0m-7-12h0m-7 10h0m-1-4h0m-1 23h0m-2-29h0m-2 3h0m-2-3h0m0 6h0m0 16h0m0-4h0m0-16h0m-4 11h0m-2 5h0m0-16h0m-1 4h0m-1 14h0m-5-4h0m-1 1h0m-1 6h0m-1-17h0m0 2h0m0 3h0m-1-3h0m-2 15h0m-2-22h0m-2 25h0m-2-13h0m-2 0h0m-1-3h0m0 15h0m0-24h0m-2 18h0m0-18h0m0 12h0m0 1h0m-1-14h0m-3 4h0m-1 21h0m-2-12h0m0-1h0m-2 0h0m-2-4h0m0-2h0m-5 23h0m0-22h0m-3-7h0m0 11h0m-1-1h0m-2-8h0m-4 16h0m0-12h0m-1 16h0m-4-3h0m-4-5h0m-1 11h0m0-11h0m-3-3h0m0 15h0m-1-17h0m0 16h0m0 1h0m-1-2h0m0-14h0m-1 7h0m0-14h0m-1 7h0m-1 11h0m-1-5h0m-6-10h0m-4 14h0m-1-4h0m-2-6h0m-1 3h0m0 4h0m-1 2h0m-2-19h0m-1 7h0m0-3h0m-1 3h0m0 10h0m-1 9h0m-2-12h0m-1 2h0m-1 13h0m-1-28h0m-1 18h0m-3-1h0m-1 7h0m0-6h0m-6-14h0m-1-3h0m-2 9h0m-7-7h0m-2-4h0m17 41h0m1-5h0m4 4h0m2 9h0m5-2h0m4-4h0m0-6h0m0-4h0m2 15h0m2-1h0m1-14h0m2 6h0m2 20h0m0-17h0m6-7h0m1 22h0m1-16h0m1 5h0m4 0h0m2 11h0m1-24h0m3 14h0m2-16h0m0 21h0m1-14h0m1-6h0m1 20h0m0-14h0m1 14h0m1-17h0m0 0h0m1 19h0m2-10h0m2 4h0m1-2h0m4-4h0m0 5h0m2-14h0m0 26h0m1-21h0m1-7h0m2 1h0m2 1h0m1 18h0m1 6h0m2-14h0m0-13h0m1 1h0m1 6h0m0-4h0m4 22h0m2-14h0m1-5h0m1 16h0m0 2h0m0-11h0m0-11h0m1 15h0m6-2h0m0-5h0m3-2h0m3-6h0m0 4h0m0 21h0m3-15h0m4-2h0m0 13h0m1-2h0m2-16h0m0 12h0m0-6h0m4-2h0m0 9h0m1 2h0m2-19h0m1 22h0m3-21h0m0 19h0m1-1h0m4-8h0m2-4h0m0 1h0m2 13h0m1-20h0m3 0h0m2-2h0m0 3h0m1 14h0m1-15h0m0 16h0m0-3h0m1 1h0m3-7h0m0 11h0m0-17h0m2 0h0m4 26h0m1-19h0m1 1h0m1 8h0m3-9h0m4-9h0m0 27h0m1-11h0m0 9h0m0 0h0m2-11h0m3-1h0m0 11h0m3-18h0m1-1h0m6 17h0m3 2h0m3-1h0m2-20h0m1 5h0m1-2h0m1-1h0m2-6h0m2 23h0m1 4h0m0-5h0m1-17h0m0 0h0m2 16h0m4-15h0m0 5h0m1 17h0m2-28h0m1 29h0m1-29h0m0 10h0m3-4h0m0-1h0m3 6h0m4 12h0m0-23h0m1 12h0m3-5h0m0 8h0m0 3h0m1-17h0m1 22h0m0-1h0m1-3h0m0-18h0m0 10h0m2 2h0m0 10h0m0-13h0m3 11h0m2-20h0m3 11h0m1 1h0m1 3h0m1-3h0m1-1h0m0-5h0m2 21h0m1-25h0m2 17h0m1-14h0m1 16h0m2 0h0m0-5h0m3-5h0m0-8h0m1 6h0m1 13h0m1-11h0m1 11h0m1 3h0m0-26h0m0 1h0m2 28h0m1-7h0m1-10h0m0 10h0m0 1h0m1-3h0m0-3h0m2-4h0m2-12h0m4 0h0m2 20h0m1-8h0m0-9h0m0-3h0m2 1h0m0 11h0m4-9h0m1 1h0m1 10h0m0-7h0m2 4h0m0-2h0m1 3h0m-10 21h0m-3 7h0m-1 2h0m0 11h0m-5-10h0m-4-6h0m-1 17h0m0-2h0m-4 2h0m-2-5h0m-4 3h0m0 5h0m0-11h0m-2-9h0m-3 7h0m-1-13h0m0 12h0m-1-5h0m-2 6h0m0 3h0m-1-10h0m-1 14h0m0-1h0m-1-19h0m-2-2h0m-4 13h0m-1-11h0m-1 12h0m0-9h0m-2 19h0m0-18h0m-1 14h0m0 9h0m0-10h0m-1-18h0m0 4h0m-3 1h0m0 16h0m-1-15h0m-1 9h0m-4 3h0m-4-19h0m-2 29h0m-3-6h0m0-16h0m0-7h0m0 27h0m-1-5h0m-1-17h0m0 9h0m-4-2h0m0-7h0m-1-2h0m-1 22h0m0-5h0m0 9h0m-3-29h0m-1 23h0m-4-10h0m0 4h0m-1-12h0m-4 7h0m0-9h0m-5 3h0m-3-3h0m-3 14h0m0-11h0m-1 12h0m-2 0h0m0-8h0m0 18h0m-1-25h0m0 9h0m-1 16h0m-1-12h0m0-13h0m-1 15h0m-2 4h0m-1-1h0m-1-12h0m0 8h0m0-15h0m-1-2h0m-1 21h0m-2 2h0m-1 5h0m-1-5h0m-3-22h0m-2 22h0m-1 1h0m-1-20h0m0 4h0m0 16h0m-1-7h0m-5-7h0m0 7h0m-1 4h0m0-2h0m0 8h0m-2-7h0m0 1h0m-2-6h0m-4-7h0m0 9h0m0 1h0m-1 0h0m-1-11h0m0-4h0m-1 21h0m-1 0h0m0-14h0m-1 4h0m0-6h0m-1 15h0m-1-19h0m-2 22h0m0 0h0m0-5h0m-3-8h0m-2 5h0m-2-1h0m0-11h0m-1 12h0m-3-16h0m-1 16h0m-2 3h0m-1-6h0m-2-12h0m0 23h0m-5-11h0m0 2h0m-1 0h0m-3-15h0m-1 0h0m-1 24h0m-1 0h0m-2-17h0m-2 15h0m-4-16h0m-2 15h0m-6-10h0m-1-13h0m-1 18h0m-4 11h0m0-22h0m-1 3h0m-1 17h0m-2-7h0m-2-18h0m0 19h0m0 1h0m0 2h0m0 4h0m-1-22h0m0 4h0m-3 10h0m-2-18h0m-3 6h0m0-5h0m-2 4h0m0 0h0m0-3h0m-1 17h0m-1-21h0m0 14h0m-1 11h0m-1 1h0m0-22h0m-2 7h0m-1 8h0m-2-9h0m-1-2h0m-4 13h0m0-8h0m-2 1h0m0-1h0m0 5h0m-1-8h0m0 6h0m-3-16h0m-2 15h0m0-4h0m-1 6h0m0 7h0m-1-10h0m-11 8h0m17 36h0m1-28h0m8 14h0m2 6h0m1 5h0m2-7h0m1-9h0m1 3h0m2-6h0m1 2h0m3-1h0m2 14h0m0-19h0m2 5h0m1 18h0m1-11h0m1-2h0m1 10h0m2 1h0m0 4h0m3-27h0m0 16h0m1 8h0m1-8h0m1 4h0m1 9h0m1-5h0m1-23h0m1 11h0m1-6h0m1-6h0m2 27h0m1-22h0m0 8h0m0-1h0m3-5h0m3 12h0m1-13h0m2 4h0m0 14h0m1-5h0m1 4h0m1-23h0m0 13h0m6 4h0m0-11h0m1 11h0m1-4h0m8-11h0m1 4h0m3-3h0m2 9h0m0-7h0m5 2h0m1 2h0m1 0h0m1 15h0m0-7h0m0-3h0m1 1h0m2 10h0m1-24h0m0 19h0m1 2h0m1-8h0m1-8h0m2 0h0m1-1h0m3 11h0m4-12h0m6 16h0m1-3h0m0 10h0m1-9h0m2 0h0m1-7h0m2-3h0m3 5h0m0-8h0m2 10h0m2 9h0m3 1h0m0-1h0m2-18h0m1 1h0m4 17h0m0-9h0m2 11h0m1-16h0m1 18h0m2-19h0m0 15h0m1-17h0m0 22h0m1-21h0m0 20h0m1-11h0m1-10h0m1 14h0m1-13h0m0-7h0m1 4h0m0-3h0m2 21h0m0-18h0m1 21h0m2-25h0m0 19h0m1 5h0m0-12h0m6 0h0m0 6h0m0-19h0m1 3h0m0 14h0m0-6h0m1-5h0m2 21h0m1-27h0m0 11h0m2-1h0m0 6h0m1-6h0m0 8h0m2-13h0m1 4h0m2 14h0m4-14h0m3 9h0m2 8h0m0-8h0m1-12h0m2 11h0m1-11h0m0 6h0m1-9h0m1-1h0m1 21h0m5-2h0m1 0h0m0-10h0m0 6h0m0-11h0m3 13h0m0-8h0m2-11h0m1 10h0m1-7h0m0 13h0m0-7h0m0-3h0m3 18h0m0-10h0m1-1h0m1-2h0m1 1h0m1-9h0m2-3h0m3 6h0m8 0h0m1-1h0m3 13h0m7-18h0m-9 42h0m-20-9h0m-1 6h0m-7 1h0m-1 8h0m-1-18h0m-1 3h0m0-1h0m-2 14h0m0-15h0m0 7h0m-3 20h0m-1-20h0m-2 2h0m-2 9h0m-1-12h0m-1 10h0m0-6h0m-1-10h0m-1 1h0m-1 11h0m0 9h0m-1-15h0m-2 14h0m-2-8h0m-3-4h0m-2 12h0m-1-18h0m0 24h0m0-9h0m-6 4h0m-1 6h0m-1-8h0m-1 1h0m-3-4h0m-5 6h0m-1-18h0m-1 22h0m0-16h0m-2-11h0m0 3h0m-4 11h0m0-6h0m-1 17h0m0-7h0m0 10h0m-2 0h0m-3-26h0m-1 17h0m-2-17h0m0 0h0m-3 12h0m-3-14h0m-1 12h0m0-12h0m-3 5h0m-1 17h0m0 6h0m0-13h0m-1 12h0m-1-21h0m-1 19h0m-2-17h0m0-6h0m0 3h0m-1 1h0m-1 10h0m0-1h0m-1 5h0m-2-15h0m0-3h0m0 3h0m-1 15h0m-2-15h0m0 9h0m-1 6h0m-1-9h0m-2 3h0m-4 1h0m0 10h0m0-5h0m-1-14h0m-1-5h0m-1 8h0m0 11h0m-1-13h0m0 11h0m-4 8h0m0-26h0m-1 23h0m-4 6h0m-1-13h0m-1-3h0m-2 9h0m-1-13h0m0 3h0m-1-12h0m0 5h0m-1-2h0m0 26h0m0-5h0m-1 4h0m-1-10h0m-2-17h0m-1 5h0m-3 14h0m0 9h0m-2-7h0m-1-14h0m-2-3h0m-2 14h0m-1-8h0m0 7h0m-2 8h0m-1-22h0m-1 8h0m0-10h0m-1 21h0m0-8h0m-2-7h0m-1-7h0m-2 19h0m-3 5h0m-2-18h0m-1 19h0m-1-3h0m0 5h0m0-12h0m0 12h0m-1-20h0m-3-3h0m-2 9h0m-2 9h0m0-20h0m-2 2h0m0 19h0m-1 0h0m0 1h0m-2-4h0m-4-9h0m-1 13h0m-1-4h0m0-12h0m-1-2h0m0 7h0m-1-5h0m0 3h0m-2-3h0m-3 8h0m0-3h0m-3 8h0m-2-12h0m-1-9h0m-3 16h0m-1 4h0m1 16h0m13 12h0m1-7h0m1-7h0m4 7h0m4-3h0m0-5h0m1 19h0m0-5h0m1 5h0m0-10h0m1-11h0m3 24h0m2-3h0m0-2h0m1 7h0m0-23h0m1 5h0m1 9h0m4-18h0m1 27h0m2-13h0m1 5h0m1 6h0m2 3h0m1-11h0m5-16h0m3 9h0m2 10h0m0 0h0m1 1h0m1-15h0m3 14h0m2-5h0m1-5h0m2-5h0m0 2h0m0 5h0m2-5h0m3 9h0m4 1h0m1 7h0m1-22h0m1 5h0m2 9h0m4-15h0m1-2h0m1 6h0m1 23h0m0-2h0m0-3h0m1-2h0m1-22h0m0 11h0m2 5h0m0 7h0m0-11h0m2-5h0m0 9h0m0 11h0m3 1h0m1-4h0m0 0h0m4-12h0m0-5h0m1 14h0m0-10h0m1 12h0m0 2h0m1-23h0m5 6h0m1-4h0m0 3h0m1-1h0m1 10h0m2-3h0m0-9h0m4 20h0m0-23h0m0 8h0m1-4h0m1 20h0m2-5h0m3-19h0m2-1h0m1 20h0m1 5h0m0 2h0m0-9h0m1 3h0m0-13h0m1 18h0m1-10h0m2-11h0m4 4h0m1 4h0m1 0h0m1-8h0m1 8h0m1 2h0m1-11h0m1 18h0m0-18h0m0-2h0m3 24h0m1-8h0m2-14h0m0 20h0m1-14h0m0-6h0m2 8h0m1 0h0m2 6h0m5-15h0m1 2h0m2 2h0m5 1h0m0-3h0m7-1h0m-33 29h0m-4 7h0m-6-3h0m0-1h0m-5 0h0m-2 6h0m-2-8h0m-1 6h0m-3 19h0m-1-19h0m-6-8h0m0 11h0m-2-8h0m0-4h0m-3 11h0m0 8h0m-1-14h0m0 0h0m-7 10h0m-2-12h0m-1 6h0m0-9h0m-3 22h0m-2-7h0m-4 4h0m0-11h0m-1 17h0m-1-12h0m0-9h0m-1-3h0m0 3h0m-2 7h0m-2 4h0m0-9h0m-1-7h0m0 24h0m-5 1h0m-1 0h0m-1-17h0m-1 16h0m-2 4h0m-5-13h0m-1 12h0m-6-8h0m0-17h0m-1-2h0m-1 7h0m-3 5h0m-3-3h0m-4-6h0m-2 15h0m-3-14h0m-2-4h0m-1 20h0m0-7h0m-1-8h0m-1 11h0m-1-6h0m-6 1h0m-1 2h0m-4-9h0m-11 7h0m20 19h0m3 2h0m6-2h0m5 6h0m1-6h0m3 14h0m1-12h0m14 14h0m3-14h0m7 0h0m3 6h0m1 0h0"/>
<path transform="scale(.1)" stroke="#fbc500" stroke-width="11" stroke-linecap="square" fill="none" d="M4157 213h0m-59 44h0m34-17h0m35 13h0m79 25h0m-59 18h0m-83-8h0m-20 11h0m5 2h0m94 24h0m9-25h0m36 6h0m-105 49h0m-56-5h0m-349-3h0m-15-11h0m335 25h0m26 27h0m124-3h0m53-14h0m21 17h0m18-17h0m0-9h0m-2 40h0m-105 2h0m-288 42h0m40-10h0m136-13h0m3 3h0m17-4h0m8 2h0m13 18h0m125-12h0m36 13h0m-22 24h0m-134-9h0m-94 5h0m-45 8h0m-8 1h0m-75-9h0m3 46h0m42-12h0m0-12h0m5 11h0m96-4h0m111 16h0m4-2h0m82-9h0m8 34h0m-33 2h0m-90 4h0m-69-27h0m-206 29h0m168 26h0m82-21h0m22 23h0m16-9h0m82-5h0m34 15h0m45 0h0m7 30h0m-8 0h0m-25-17h0m-16-11h0m-7 12h0m-17 7h0m-53 8h0m-9-3h0m-133-16h0m31 47h0m97 0h0m15-19h0m57 6h0m21 36h0m-34 2h0m-37 3h0m-49-14h0m-115-1h0m-3-3h0m-56 21h0m-17-26h0m63 33h0m35 4h0m23 5h0m50-9h0m21 15h0m21-8h0m67 10h0m86 14h0m-66 4h0m-3 19h0m-22-7h0m-31 7h0m-30-13h0m-78-4h0m-22 1h0m-38 18h0m-10-19h0m-93 14h0m34 19h0m23-13h0m8 0h0m125 25h0m25 2h0m105-5h0m51 2h0m-31 35h0m-66-24h0m-138 15h0m-18-6h0m-34-1h0m-43 7h0m-16-14h0m34 46h0m12-18h0m69 16h0m26 8h0m6-9h0m37 2h0m30-3h0m26 10h0m16-8h0m17-1h0m3 10h0m75-27h0m-47 30h0m-12 19h0m-14 1h0m-9-19h0m-51-2h0m-45 5h0m-37-5h0m-36 24h0m-6-22h0m-39 2h0m51 26h0m5 4h0m48 7h0m7 5h0m49 0h0m76 11h0m19 25h0m-105-22h0m-15 14h0m-4 2h0m-7-13h0m-5 9h0m-77 22h0m9 4h0m4-1h0m9 6h0m51-11h0m67 4h0m17-1h0m9 3h0m6 0h0m25 7h0m-8 14h0m-17 7h0m-19 14h0m-8 2h0m-4-20h0m-5 22h0m-15-5h0m-24 4h0m-4-4h0m-16-20h0m-12 8h0m-32-3h0m-7 7h0m-4-3h0m12 23h0m15 13h0m5 3h0m10 3h0m10-13h0m19-8h0m6 16h0m2 11h0m39-11h0m-3 20h0m-28 10h0m0-15h0m-15 1h0m-10-1h0m-11 26h0m-23-23h0m-2-4h0m13 32h0m14 14h0"/>
<path transform="scale(.1)" stroke="#f6a90c" stroke-width="11" stroke-linecap="square" fill="none" d="M3844 198h0m423 67h0m-204 32h0m-180 0h0m230 58h0m-23-20h0m-14 14h0m-210 15h0m121 3h0m275-6h0m49 6h0m-29 26h0m-197 15h0m-109 10h0m108 27h0m135-6h0m-196 34h0m-26 9h0m37 0h0m59 20h0m122 7h0m105-19h0m-189 33h0m-47 16h0m18 28h0m22-27h0m106 7h0m-48 31h0m-94-6h0m-38 16h0m-35 40h0m51 9h0m-16 6h0m-76 8h0m-5 2h0m78 13h0m176 5h0m22 7h0m14-7h0m31 31h0m-28 9h0m-45 2h0m-50-7h0m-10-6h0m-63-6h0m-22 9h0m-13-4h0m-97 11h0m-4-4h0m-45 31h0m18 4h0m9-14h0m33 5h0m72 17h0m161-10h0m-11 30h0m-15-9h0m-126 1h0m-2 1h0m-83 27h0m135 10h0m26 4h0m60-13h0m69 5h0m4-12h0m-13 42h0m-20-14h0m-61 1h0m-141 15h0m-13 3h0m-9 27h0m36-15h0m33 9h0m37 9h0m107-8h0m47-2h0m-43 28h0m-73 14h0m-92 5h0m-4-3h0m-33-9h0m16 40h0m55-12h0m49 5h0m2-16h0m4 3h0m2 10h0m14 11h0m6-18h0m17 11h0m7-3h0m3-11h0m-43 25h0m-34 26h0m-12-23h0m-8 26h0m-2-7h0m-23 6h0m-36-7h0m76 27h0m77-8h0m-65 34h0"/>
<path transform="scale(.1)" stroke="#ee8a1a" stroke-width="11" stroke-linecap="square" fill="none" d="M4063 264h0m109 37h0m87 4h0m29 45h0m-146 126h0m-52 72h0m-143 118h0m160-1h0m102 20h0m41-1h0m3 51h0m-287 74h0m15-21h0m169 24h0m-86 49h0m54-12h0m8-9h0m6 20h0m43-14h0m-96 60h0m42 0h0m66 11h0m42 22h0m-91-7h0m-15 16h0m-37 5h0"/>
<path transform="scale(.1)" stroke="#e8742a" stroke-width="11" stroke-linecap="square" fill="none" d="M3673 593h0m-29-5h0m7 64h0m59 8h0"/>
<text x="393.00" y="11.17" font-size="8.3" text-anchor="middle" font-style="italic">PTGER2</text>
<line x1="344.50" y1="11.20" x2="344.50" y2="107.50" stroke="#222" stroke-width="0.7"/>
<line x1="344.50" y1="107.50" x2="435.50" y2="107.50" stroke="#222" stroke-width="0.7"/>
<line x1="342.50" y1="15.70" x2="344.50" y2="15.70" stroke="#222" stroke-width="0.7"/>
<text x="341.20" y="18.35" font-size="7.4" text-anchor="end" fill="#1a1a1a">10</text>
<line x1="342.50" y1="36.70" x2="344.50" y2="36.70" stroke="#222" stroke-width="0.7"/>
<text x="341.20" y="39.35" font-size="7.4" text-anchor="end" fill="#1a1a1a">5</text>
<line x1="342.50" y1="57.50" x2="344.50" y2="57.50" stroke="#222" stroke-width="0.7"/>
<text x="341.20" y="60.15" font-size="7.4" text-anchor="end" fill="#1a1a1a">0</text>
<line x1="342.50" y1="78.20" x2="344.50" y2="78.20" stroke="#222" stroke-width="0.7"/>
<text x="341.20" y="80.85" font-size="7.4" text-anchor="end" fill="#1a1a1a">−5</text>
<line x1="342.50" y1="99.20" x2="344.50" y2="99.20" stroke="#222" stroke-width="0.7"/>
<text x="341.20" y="101.85" font-size="7.4" text-anchor="end" fill="#1a1a1a">−10</text>
<line x1="360.70" y1="107.50" x2="360.70" y2="109.50" stroke="#222" stroke-width="0.7"/>
<text x="360.70" y="116.55" font-size="7.4" text-anchor="middle" fill="#1a1a1a">−10</text>
<line x1="380.35" y1="107.50" x2="380.35" y2="109.50" stroke="#222" stroke-width="0.7"/>
<text x="380.35" y="116.55" font-size="7.4" text-anchor="middle" fill="#1a1a1a">−5</text>
<line x1="400.00" y1="107.50" x2="400.00" y2="109.50" stroke="#222" stroke-width="0.7"/>
<text x="400.00" y="116.55" font-size="7.4" text-anchor="middle" fill="#1a1a1a">0</text>
<line x1="419.65" y1="107.50" x2="419.65" y2="109.50" stroke="#222" stroke-width="0.7"/>
<text x="419.65" y="116.55" font-size="7.4" text-anchor="middle" fill="#1a1a1a">5</text>
<path transform="scale(.1)" stroke="#d9d9d9" stroke-width="14" stroke-linecap="square" fill="none" d="M5051 173h0m-24 1h0m-12-5h0m-71 20h0m5 16h0m1-9h0m2 9h0m3-2h0m1 2h0m4-3h0m0 1h0m2 3h0m2-2h0m9 1h0m9-9h0m4-4h0m1-9h0m10 10h0m1 3h0m1 2h0m0 4h0m1-21h0m8 19h0m2 7h0m5-13h0m3-6h0m0 12h0m11-3h0m1-6h0m2-1h0m0 8h0m6-14h0m0 15h0m2-10h0m1 16h0m3-19h0m3 10h0m17 13h0m1-14h0m4 8h0m4 3h0m3-19h0m2 4h0m1-4h0m2 0h0m12 15h0m0-7h0m2 6h0m6-5h0m1 9h0m3 2h0m1 1h0m1-6h0m4 0h0m1-1h0m152 7h0m3-10h0m4 10h0m29 1h0m12-10h0m0 3h0m20 7h0m1-2h0m73 25h0m-6 5h0m-25 0h0m-13-12h0m0 9h0m-2-4h0m-1-3h0m-8 4h0m-2-4h0m0 0h0m-1-3h0m-3-1h0m-4 3h0m-4-13h0m-1 18h0m-4-4h0m-5-13h0m0-4h0m-2 8h0m-1-8h0m0 19h0m-1 5h0m-3 1h0m-1-1h0m-1-14h0m-1 6h0m-4 9h0m-1-22h0m-1-1h0m-1 23h0m0-21h0m-3 19h0m-1-7h0m0-2h0m0 14h0m-1-27h0m0 20h0m-4-1h0m-3-5h0m-1 7h0m0-13h0m-1 14h0m-4-16h0m0 11h0m0-17h0m0 18h0m-4-6h0m-3 13h0m0-26h0m-4 2h0m-3 9h0m0 8h0m-1-18h0m-1 2h0m0 16h0m-2-9h0m0 11h0m-2 1h0m-1-1h0m-2-21h0m-4 9h0m-1 13h0m0-14h0m-2 6h0m-3-2h0m-1 7h0m-1-13h0m-2 19h0m0-10h0m-9-5h0m-1 14h0m-2-1h0m-9 1h0m0 3h0m-2-7h0m-4 1h0m-1 1h0m-8 5h0m-73-9h0m-3 8h0m-12-7h0m-1 0h0m-8 10h0m-2-20h0m-1 3h0m-1 13h0m-3-25h0m-2 7h0m-1 17h0m-1-11h0m-2 1h0m-5 5h0m-3-1h0m-2-15h0m-2 19h0m-1-16h0m-1 12h0m0-9h0m-3 12h0m0-15h0m-4 4h0m-8-2h0m-1 21h0m-5-9h0m-4 4h0m-3-4h0m0-13h0m-10-4h0m-6 15h0m-1-9h0m-4 2h0m0 17h0m-13 0h0m-1-12h0m-3-15h0m-1 25h0m-14-5h0m-1 4h0m-10 1h0m-2-7h0m-3-10h0m-4 1h0m0 4h0m-1 2h0m-1 3h0m-2 6h0m-2 0h0m-2-20h0m-7 8h0m-1 10h0m-4 3h0m-3-24h0m0 11h0m-1 14h0m-1-8h0m-1-17h0m0 26h0m-1-10h0m-4-18h0m-6 4h0m-3-1h0m-5 10h0m-7-6h0m-1 1h0m0 19h0m0-5h0m-14-19h0m21 31h0m1 10h0m10 1h0m2 0h0m4-4h0m1 4h0m4-5h0m1-3h0m4-6h0m2 17h0m3 5h0m3-2h0m1 3h0m3-23h0m3 18h0m5 8h0m1-3h0m4 4h0m1-24h0m0 24h0m3-18h0m2 2h0m3 12h0m2-16h0m4 5h0m2 14h0m4-7h0m0-9h0m1 18h0m0-7h0m1-1h0m0-16h0m5 3h0m6 7h0m1 6h0m0-18h0m14 20h0m2-3h0m4 2h0m1 2h0m2-14h0m2-3h0m8-7h0m5 24h0m1 2h0m3-20h0m1-3h0m1 25h0m0-15h0m1 0h0m4-8h0m1 9h0m2-9h0m4-3h0m0 8h0m3-6h0m5 25h0m2-19h0m1 6h0m2-4h0m1-7h0m0 21h0m4-20h0m4 1h0m15 10h0m0-17h0m2 23h0m2-21h0m4 8h0m6-3h0m3 13h0m4-14h0m1 6h0m1 8h0m39-12h0m6 14h0m4-15h0m11 10h0m2 12h0m1-19h0m0 12h0m3 4h0m0-5h0m1 3h0m3-10h0m3 7h0m0-7h0m1 5h0m1 8h0m1-25h0m0 25h0m1-8h0m0-1h0m0-9h0m3 11h0m1-20h0m1 18h0m1 6h0m1-1h0m1 3h0m1-3h0m1-8h0m0-2h0m0 3h0m1 2h0m0-8h0m0-6h0m6 21h0m2-20h0m1 11h0m0-15h0m0 7h0m2 17h0m0-21h0m1 12h0m1 13h0m1-12h0m2-11h0m0 19h0m3-4h0m3 4h0m1-18h0m1 21h0m1-8h0m1-5h0m1-11h0m0-4h0m1 25h0m1-14h0m1 3h0m4 10h0m0-12h0m1-3h0m4 8h0m3-11h0m1 12h0m3 10h0m2 0h0m0-10h0m0-18h0m11 6h0m2-2h0m1 21h0m0-1h0m1 0h0m2-20h0m1 16h0m1-10h0m1 7h0m0 0h0m2-10h0m1 20h0m1-22h0m1 13h0m0 4h0m0-2h0m1-11h0m2 0h0m0-1h0m1 20h0m1-5h0m5-13h0m0 3h0m3-2h0m1 14h0m1 2h0m1-2h0m1-5h0m7-12h0m0-1h0m3 14h0m2-3h0m2 5h0m1 6h0m2-27h0m0 15h0m0-10h0m1 4h0m0 18h0m5-11h0m1 9h0m0-17h0m2-4h0m0-5h0m1 3h0m3 23h0m2-9h0m3 5h0m2-16h0m0-4h0m1 0h0m1 19h0m1-6h0m0-9h0m2 17h0m0-16h0m1-4h0m1-4h0m1 6h0m1 8h0m2 5h0m3 9h0m2-26h0m1 7h0m3 3h0m3 5h0m0-14h0m3 8h0m1 6h0m2-6h0m1 1h0m0-2h0m6-5h0m1 19h0m2-3h0m5-1h0m3 1h0m6 6h0m3-2h0m1 3h0m8-1h0m15 27h0m0 5h0m-3-12h0m-1 8h0m-17-6h0m-1-6h0m0-13h0m-2 8h0m-2 14h0m-2 4h0m-3 1h0m-2-21h0m0 2h0m0 21h0m-1-12h0m-5-4h0m0-2h0m-4-4h0m-1 21h0m-1-20h0m0 0h0m-1-1h0m-2 21h0m0 1h0m0-1h0m-3-18h0m-2 5h0m0 14h0m-2-9h0m0-13h0m-2-2h0m0 22h0m-1-14h0m0 5h0m-1 3h0m-1 3h0m0-23h0m-4-1h0m-1 23h0m-3 5h0m-1-22h0m-2 6h0m0 2h0m-2 7h0m-1-17h0m-1 20h0m0-14h0m0 13h0m-2-20h0m0 20h0m-1-15h0m-1 18h0m-1-24h0m-1 3h0m-2 2h0m-1 4h0m0-1h0m-1-5h0m-1 4h0m0 8h0m-3-1h0m0 10h0m-5-22h0m-1 2h0m-3-2h0m-3 0h0m-3 10h0m0-9h0m0 21h0m0-12h0m-1 13h0m-1-17h0m-2-4h0m-3 15h0m0-5h0m-2 5h0m-1-19h0m-1 2h0m-5 17h0m-1-6h0m-2 5h0m-2-15h0m0 24h0m-1-9h0m0-7h0m-1-6h0m-1-7h0m-3 25h0m-4-12h0m0 10h0m-1-5h0m0-18h0m-3 6h0m-1 17h0m-2-23h0m0 11h0m-1 6h0m0 3h0m-1-5h0m-1 2h0m0 8h0m-2-24h0m-2 2h0m0-3h0m-6 27h0m0-21h0m0 0h0m-1 7h0m0-6h0m-2 20h0m-3-5h0m-5-7h0m0 2h0m-3 5h0m-2-11h0m-4-9h0m-3 2h0m-2 17h0m-2 7h0m-1-7h0m0-8h0m-2 1h0m0-9h0m-2 6h0m0 14h0m0-7h0m-1 6h0m-4-16h0m0 12h0m0-19h0m-2 20h0m-1-11h0m-3 18h0m-1-13h0m0 0h0m-2-6h0m0 1h0m-1-9h0m0 24h0m-5 4h0m0-11h0m0-17h0m-1 2h0m0 19h0m-1-17h0m-5 14h0m-1-5h0m0 0h0m-1 14h0m0-27h0m-2 20h0m-2 8h0m-8-15h0m0 13h0m-2-14h0m0 5h0m-1-7h0m0 6h0m-4-9h0m-1-4h0m-1 7h0m0 16h0m-3-17h0m0-6h0m-1 15h0m0-11h0m-1 16h0m0-17h0m-1 4h0m-1-10h0m0 18h0m-1-4h0m-1 0h0m-1-1h0m-2 7h0m-3-4h0m-58-17h0m-3 0h0m-3 13h0m-16-9h0m-1 10h0m-9-8h0m-1 1h0m-9 15h0m-5 3h0m-1 2h0m-3-23h0m-2-3h0m-2 22h0m-2-13h0m-9 3h0m-1 7h0m0-13h0m0-6h0m-1 2h0m-2 6h0m-3 0h0m0-6h0m-2-3h0m-2 0h0m-4 7h0m-2 14h0m-3 8h0m-4-2h0m-5 0h0m-3 0h0m0-21h0m-9-3h0m-2 9h0m-2 8h0m-8 2h0m-3 2h0m-2-6h0m-3 7h0m-7-18h0m-1 4h0m-4 8h0m-4-3h0m-4 1h0m-2-10h0m-1 0h0m-115 16h0m-4 6h0m-5-6h0m-2-8h0m-34 7h0m-3-3h0m-7-3h0m-23 16h0m0 21h0m1-8h0m0 7h0m3-21h0m10 18h0m0 7h0m2-18h0m6 6h0m4-11h0m1 13h0m3-16h0m3 26h0m2-3h0m1 5h0m2 0h0m1-4h0m1-8h0m0 1h0m4-16h0m13 16h0m8 12h0m1-29h0m1 8h0m1 15h0m2-13h0m1-3h0m3 0h0m4 21h0m1 1h0m2-27h0m0 16h0m6-11h0m6-2h0m5 23h0m0-13h0m3 0h0m2 10h0m1-14h0m10 5h0m108 3h0m0-5h0m4 13h0m2-16h0m2-9h0m0 12h0m1 15h0m3-8h0m1 3h0m3 5h0m2-26h0m16 1h0m1 16h0m1 2h0m1-4h0m0 0h0m2 5h0m4-9h0m0-11h0m0 5h0m4 11h0m13 2h0m5-7h0m10 10h0m101-1h0m0-17h0m3 15h0m1 1h0m1-9h0m0 9h0m0-2h0m1-7h0m0 0h0m0 8h0m2-18h0m1 19h0m1-2h0m2-9h0m1-5h0m0 13h0m1-5h0m1-13h0m1 27h0m0-22h0m3 1h0m3 6h0m2 0h0m2-9h0m0 18h0m2 4h0m2-7h0m1-3h0m2-11h0m0 20h0m0-22h0m1 7h0m3 12h0m2-22h0m2 8h0m2-1h0m1 1h0m1 9h0m3-16h0m0 5h0m1 2h0m0 6h0m1 6h0m1 4h0m2-23h0m1 8h0m3 1h0m3 1h0m2 0h0m5-5h0m1 19h0m0-11h0m0 8h0m1-21h0m1 19h0m1-19h0m0 6h0m1 16h0m1-6h0m3-9h0m0-6h0m3-1h0m0 22h0m1-16h0m3 16h0m4-18h0m2 3h0m3 17h0m0-20h0m2 23h0m5-13h0m2-9h0m0 10h0m2 2h0m1-11h0m5 7h0m2-4h0m1 10h0m0 9h0m1-3h0m1-26h0m5 25h0m1 3h0m3-10h0m1 7h0m0 2h0m1-4h0m1-1h0m2-21h0m1 16h0m2-5h0m1 5h0m2 10h0m1-8h0m1-18h0m4 6h0m1 16h0m0-21h0m0 14h0m1-1h0m2-15h0m2 29h0m1-4h0m2-16h0m1 1h0m1 14h0m1 4h0m1-15h0m3-13h0m1 12h0m2 16h0m2-4h0m3-5h0m0-18h0m2 17h0m1 3h0m0-9h0m2-5h0m0-2h0m2-2h0m3 17h0m0 8h0m2-26h0m2 5h0m2 11h0m0-5h0m1 12h0m2-23h0m5 23h0m0-24h0m0 21h0m4-16h0m3 23h0m0-29h0m2 21h0m3-7h0m2-6h0m0 21h0m1-10h0m4-12h0m1 8h0m3-1h0m1 14h0m0-17h0m1 0h0m2-6h0m8 0h0m2 13h0m1 3h0m7-16h0m0 20h0m1-4h0m0-1h0m2 1h0m0-12h0m0 2h0m1 15h0m0-12h0m3 3h0m2-4h0m0 16h0m1-3h0m0-10h0m0 13h0m2-29h0m0 28h0m1-28h0m0 13h0m1 6h0m1 5h0m2-1h0m2 3h0m2-5h0m0 3h0m5-17h0m3 22h0m20 28h0m-17-8h0m-1 6h0m-4-14h0m-2 10h0m-1-20h0m-5 26h0m0-7h0m-4-3h0m-1-12h0m0 0h0m-2 1h0m-4 10h0m-1-12h0m-1-4h0m-4 20h0m-1-17h0m0 14h0m-7 9h0m-3-18h0m0-7h0m-1 22h0m0-17h0m-2 10h0m-2-14h0m-1 1h0m0 2h0m-1 17h0m-1-18h0m-3 1h0m-3 24h0m-1-28h0m-1 26h0m0-17h0m0 10h0m0-9h0m-2 5h0m-4 2h0m-1-5h0m-6-3h0m-3-10h0m-1 20h0m0-10h0m-2 19h0m-3-20h0m-1 17h0m-2-9h0m-4 11h0m-1-1h0m0-21h0m-1-2h0m-9 25h0m-2-13h0m0-16h0m-1 17h0m-1 8h0m0 4h0m-2-14h0m-2 6h0m0-14h0m-2 13h0m-2-16h0m-3 15h0m0 7h0m-1-19h0m-2-2h0m-2 17h0m-4-13h0m0 0h0m-3 3h0m-1-5h0m-1 2h0m-1 6h0m-4 12h0m0-6h0m-1-15h0m-5 1h0m-1 12h0m-1-8h0m-1-8h0m-1 4h0m-1 18h0m-1 4h0m-1-16h0m0 14h0m0 2h0m0-26h0m0 10h0m-1-11h0m-1 21h0m-3-8h0m0-14h0m-1 20h0m0-1h0m-1-15h0m-2 24h0m-2-21h0m-5-2h0m-2-4h0m-1 8h0m-1 17h0m0-14h0m-3 3h0m0-13h0m0 24h0m-3 0h0m0-24h0m-1 17h0m-1 0h0m-2 5h0m-2 3h0m-1-28h0m-4 6h0m0 14h0m-6-3h0m-1-9h0m0-8h0m0 25h0m-1-10h0m-1-3h0m0 3h0m0 7h0m-2-4h0m-3-2h0m-2-7h0m0 11h0m0-2h0m-5 0h0m-1 7h0m-1-22h0m0 2h0m-1 10h0m-2 7h0m-2-7h0m-2-10h0m0 23h0m-1-3h0m0-3h0m-4-7h0m-3 4h0m-1 3h0m-2-16h0m-1-3h0m-1 16h0m-1 0h0m-5-18h0m-1 3h0m-2 23h0m-1-7h0m-4-14h0m-2-1h0m-4 13h0m-1 9h0m-4-11h0m-2 0h0m-3 7h0m0-6h0m-1-9h0m0 14h0m-1-15h0m-2-7h0m-1 5h0m-1 9h0m-2 0h0m-4 14h0m-3-5h0m-1 6h0m-1-15h0m-9 11h0m-24 0h0m-1-4h0m-6 7h0m-5-8h0m-6-3h0m-1-2h0m-1-14h0m-2 13h0m-4-7h0m-1 10h0m-1 1h0m-6-16h0m-3 6h0m-1 11h0m-16-11h0m-2 7h0m-1-13h0m-4 9h0m-2 0h0m-1-10h0m-9 27h0m-7-4h0m-1-8h0m-4 1h0m-2-5h0m-2 17h0m-2-29h0m-3 0h0m-1 12h0m-3 7h0m-6 1h0m-6 8h0m-4-6h0m-5-14h0m-3 16h0m-1 1h0m-9-11h0m-10-11h0m-6 8h0m0-9h0m0 10h0m-6-11h0m0 19h0m-3-5h0m-4-14h0m-5 1h0m-2 8h0m-1-6h0m0 20h0m-6-11h0m0-6h0m-10-6h0m-52 9h0m-3 13h0m-2-13h0m-6 18h0m-2-9h0m-1 2h0m-2-12h0m0-5h0m-5 19h0m0-1h0m-7-6h0m-4-6h0m-10 7h0m-8-6h0m-7-5h0m0 17h0m-2-13h0m-6-8h0m-2 13h0m-7 11h0m-3-13h0m-9 4h0m-3-3h0m-10-5h0m-2 7h0m-6-16h0m0 1h0m-1 6h0m-2 8h0m34 17h0m10 2h0m1 0h0m5 8h0m3-2h0m2-3h0m1-2h0m23-1h0m84 18h0m3 1h0m6-2h0m3-4h0m3 12h0m3-26h0m1 9h0m1 11h0m20-11h0m13-8h0m2-4h0m2 19h0m1-9h0m9 8h0m1-12h0m4 1h0m1 14h0m1 2h0m4 1h0m3-3h0m5-11h0m2-9h0m1 1h0m0 24h0m4-9h0m1 5h0m4 7h0m1-6h0m8-10h0m1 12h0m3-19h0m3 12h0m3-8h0m1 1h0m0-2h0m2-7h0m13 24h0m1-16h0m4 6h0m7 13h0m4-15h0m6-6h0m2 18h0m7-19h0m2 16h0m0 3h0m1-5h0m1 4h0m6-18h0m0 9h0m5-9h0m0-6h0m9 23h0m1 4h0m3-28h0m4 22h0m2-4h0m3-11h0m3 6h0m0-11h0m1 10h0m0-12h0m1 15h0m1 13h0m0-11h0m3-1h0m1 5h0m2 5h0m3-15h0m0 7h0m2 11h0m5-10h0m1-18h0m0 17h0m1-17h0m2 11h0m0 15h0m3-26h0m0 8h0m3-1h0m0-2h0m2 23h0m1-2h0m0-21h0m1-1h0m0 19h0m1-1h0m0 1h0m2 5h0m0-21h0m2-8h0m1 28h0m1-11h0m3-9h0m1-2h0m3 22h0m2-13h0m0-9h0m2 10h0m4-3h0m0 2h0m1 3h0m2-4h0m4 12h0m1-23h0m1 12h0m1 2h0m0 3h0m2 0h0m4 2h0m1-22h0m2 11h0m0 0h0m3 9h0m1-19h0m2 15h0m1 9h0m0-21h0m5 6h0m2 12h0m0-21h0m0 10h0m2 0h0m2-5h0m3-5h0m0 11h0m6-8h0m1 5h0m0 1h0m1 2h0m2-8h0m1 5h0m1 11h0m2 3h0m1-5h0m0-11h0m0 0h0m1 1h0m1 20h0m1-14h0m5 15h0m0-21h0m2 8h0m1-3h0m1-7h0m3 22h0m2 0h0m5-23h0m6 7h0m4 6h0m1 0h0m1 3h0m4 7h0m0-19h0m0 5h0m2-9h0m0-2h0m5 19h0m3 4h0m1-14h0m0 3h0m1 2h0m1-14h0m0 5h0m1 7h0m0-3h0m0-12h0m2 5h0m0-5h0m2 12h0m2 7h0m3 6h0m1-11h0m6-12h0m0-2h0m5 26h0m2-17h0m0 13h0m4-10h0m1 15h0m0-26h0m1 25h0m0-24h0m1 15h0m0 6h0m2-22h0m2 28h0m0-17h0m1 9h0m2-20h0m1 9h0m3-7h0m0 11h0m3 6h0m1-6h0m1-9h0m1-4h0m0 10h0m1-4h0m1-3h0m8 21h0m1-14h0m0 9h0m3-17h0m0 15h0m1-7h0m1 12h0m5-15h0m0 13h0m0-2h0m1-10h0m1 0h0m2-6h0m1 19h0m3-21h0m1 12h0m1-4h0m0-6h0m1 16h0m3-5h0m1 14h0m0 1h0m0-28h0m1 5h0m4 21h0m1-24h0m0 26h0m2-5h0m3-1h0m1 0h0m1 5h0m5-17h0m0-9h0m3 12h0m1-11h0m1-2h0m1 28h0m1-22h0m2 19h0m6-21h0m3 11h0m3-6h0m1-2h0m4 19h0m2-25h0m3 5h0m-7 31h0m-5 12h0m-5-14h0m-4 17h0m0 3h0m-1-24h0m-4 10h0m-1 4h0m-1 13h0m0-12h0m0-8h0m0 14h0m-1-20h0m-3 9h0m0 1h0m-1-1h0m-1-5h0m-7-7h0m-3 24h0m-1-24h0m-1 7h0m-5 10h0m0-15h0m-2 21h0m0 6h0m-2-9h0m-1-4h0m-1-9h0m-1 17h0m-2-14h0m-5 3h0m-1 7h0m0-10h0m-1 7h0m-1-5h0m0 12h0m-1-13h0m-6 14h0m-1-10h0m-4-6h0m-1 3h0m-3 7h0m-2 6h0m-5-14h0m-8 6h0m-1 8h0m-3 4h0m-1-12h0m-1-16h0m-1 16h0m0-6h0m0 3h0m-1 8h0m-3-18h0m0-1h0m-1 18h0m-1 4h0m-3-13h0m-2 12h0m0 1h0m-3-21h0m-2 8h0m-1-8h0m-1 23h0m0-23h0m-2 9h0m-2-9h0m-1 6h0m0-6h0m-4 17h0m-1-10h0m-2-8h0m-2 17h0m0-6h0m0 9h0m-2-1h0m0-6h0m-1-11h0m-3-4h0m-4 8h0m-3 6h0m-1-5h0m-3-4h0m-3 16h0m-1-1h0m-5-15h0m-3-5h0m0 26h0m-4-14h0m-4 14h0m0-7h0m0-13h0m-2-6h0m0 7h0m-2-3h0m-6 9h0m0 10h0m0 5h0m-1-7h0m-7-10h0m-1-3h0m0-2h0m-7 16h0m0-9h0m-2 4h0m-5-10h0m0-2h0m-1-6h0m0 8h0m-1-2h0m-1 20h0m-1 0h0m-1 0h0m-1 1h0m-1-21h0m-1 19h0m-1-1h0m0-15h0m-4 3h0m-2 8h0m-1 1h0m-2-2h0m0-1h0m-2-16h0m-1 19h0m0-19h0m-2 8h0m0 13h0m0-7h0m0-7h0m-2-8h0m-1 5h0m-2-5h0m0 2h0m0 22h0m0-6h0m-1-5h0m-3 6h0m0 2h0m-2-16h0m-2-3h0m0 25h0m0-22h0m-1 22h0m0-20h0m-2 4h0m-3 0h0m-2-1h0m-1-11h0m0 19h0m-1 0h0m0-5h0m-3-1h0m-2-7h0m-1-1h0m0 12h0m-1 9h0m0-10h0m-1 0h0m0-16h0m-1 13h0m-3-7h0m0 15h0m-3-14h0m-2 16h0m-1 5h0m-1-21h0m-1 14h0m-3-7h0m-1-4h0m0 7h0m-1-12h0m-1 14h0m-1-3h0m0-14h0m0 2h0m-2 21h0m0-11h0m-1-13h0m-3 0h0m-3 1h0m-1 7h0m-1 12h0m0-6h0m0 8h0m0-6h0m0 2h0m-1 1h0m-4-3h0m-16 6h0m-3 1h0m0-24h0m-2 6h0m-2 11h0m-4-2h0m-1-3h0m-1 12h0m-1-15h0m-1-1h0m-7 20h0m-2 1h0m-1-7h0m-8-19h0m-9 19h0m-4 3h0m-2-7h0m-7 9h0m-4-26h0m0 0h0m0 13h0m-1-1h0m-15-3h0m-3 6h0m-3 11h0m-7-12h0m0-2h0m-1 8h0m-2-1h0m-1-12h0m-2 15h0m-8 6h0m-6-4h0m0 1h0m-3-14h0m-1 1h0m-4 7h0m-2-17h0m-4 8h0m-3-6h0m0-5h0m-1 0h0m-5 10h0m0 5h0m-1 1h0m-20 13h0m-2-10h0m-1-9h0m-2 8h0m0 7h0m-1-21h0m-1 24h0m-6-14h0m0 5h0m-1-18h0m-1 26h0m-2-21h0m-3 14h0m-1 7h0m0-22h0m-2 9h0m-2 11h0m-2-5h0m-5 2h0m-5 2h0m-1-2h0m-1-12h0m0 14h0m0-4h0m-5 8h0m0-8h0m-5-3h0m-1-5h0m0 7h0m-1 2h0m0 5h0m-2-15h0m-2 16h0m-7-2h0m-3 2h0m-1-13h0m-2 7h0m-4 2h0m-2-7h0m-3 12h0m0 1h0m-2-1h0m-7-5h0m-1 4h0m-5-2h0m-2-5h0m-9 9h0m-4-3h0m-35 2h0m-2 1h0m-85 29h0m8-2h0m7-4h0m6-15h0m8 18h0m13-12h0m1-8h0m1 24h0m1-19h0m1-3h0m1 1h0m3-4h0m5 10h0m6-5h0m2 18h0m7-22h0m2 0h0m3 8h0m2 7h0m1 5h0m0 1h0m1-5h0m0 3h0m2 2h0m1-24h0m0 10h0m1-7h0m1 17h0m1-14h0m2-6h0m0 27h0m0-15h0m3-7h0m0 7h0m2-8h0m2 6h0m3-11h0m0 23h0m2-13h0m2 8h0m0-4h0m2-10h0m0 8h0m2-11h0m0 16h0m2-16h0m1 8h0m0-7h0m0-3h0m5 17h0m2-15h0m0 12h0m4 10h0m5-19h0m0 23h0m0-7h0m1-3h0m1-3h0m2-2h0m1 12h0m0-25h0m0 9h0m1 13h0m0-16h0m2 10h0m0 8h0m0 0h0m1-13h0m1-4h0m1 11h0m3-2h0m1 8h0m2 0h0m6-24h0m0 21h0m3 4h0m0-3h0m1 1h0m0-18h0m3 3h0m1 20h0m0-6h0m1-8h0m2-9h0m0 22h0m1-1h0m2-13h0m1 12h0m1-3h0m1 0h0m4-11h0m1-6h0m0-2h0m5 1h0m0-1h0m0 14h0m3 12h0m1-22h0m0 22h0m0-19h0m2 12h0m0-20h0m10 1h0m0 7h0m1 10h0m0-17h0m1 8h0m0 4h0m1 2h0m4 9h0m1-2h0m1-15h0m1 1h0m2-9h0m0 16h0m1-11h0m3 5h0m0 17h0m2-27h0m1 19h0m0-13h0m2 7h0m0 5h0m0-4h0m3 2h0m1 12h0m1-7h0m1-22h0m1 14h0m0-6h0m3 19h0m0-2h0m3-7h0m1 1h0m1 1h0m0-11h0m2 20h0m0-8h0m1-16h0m3 23h0m0-3h0m4-12h0m3 10h0m1-23h0m3 8h0m1 1h0m6 20h0m5-3h0m4-22h0m1 22h0m1-14h0m1 14h0m2-2h0m4-16h0m3-6h0m5-1h0m1 14h0m1-12h0m3 10h0m0 8h0m3-9h0m0-12h0m18 24h0m1-21h0m3-1h0m2 14h0m3 4h0m1-3h0m0-15h0m4 7h0m0 15h0m2 4h0m2-10h0m1 7h0m4-15h0m2-4h0m1-6h0m6 3h0m3 24h0m3 1h0m1 1h0m0-29h0m1 4h0m12 25h0m2-1h0m2-14h0m4 15h0m0-29h0m3 3h0m6 19h0m5-20h0m4 25h0m3-2h0m8-2h0m1 4h0m1-17h0m0 12h0m0-6h0m2 12h0m0-18h0m0 2h0m1 4h0m1 5h0m2-21h0m2 25h0m0-5h0m0-15h0m1 4h0m1-2h0m1-5h0m0 21h0m0-14h0m2 6h0m3 7h0m0-8h0m0 1h0m1-4h0m3 3h0m0-12h0m3 12h0m0-14h0m0 1h0m1 9h0m0 4h0m2-13h0m4 1h0m3-1h0m1 26h0m2-12h0m6 3h0m3-6h0m1-7h0m0 0h0m0 2h0m1 21h0m1-11h0m2-1h0m1 12h0m0-25h0m1 25h0m0-15h0m1-2h0m1 7h0m0-12h0m1 7h0m1 8h0m3 4h0m3-10h0m2-11h0m0 22h0m2-10h0m0 7h0m0-10h0m0-9h0m1 4h0m1 19h0m1-4h0m2-21h0m0 19h0m0 7h0m3-3h0m3-20h0m0 5h0m2-6h0m2 21h0m3 1h0m2-10h0m3 10h0m3-4h0m1-20h0m0 7h0m10 12h0m1-12h0m1 19h0m2-6h0m2-8h0m3 8h0m0-1h0m0-5h0m0 3h0m3-2h0m1-10h0m2 20h0m0-3h0m1-4h0m0-5h0m1-13h0m2 8h0m1 10h0m1 8h0m0-6h0m1-1h0m2 7h0m1-12h0m2-2h0m3 4h0m1-18h0m0 22h0m0-2h0m4 4h0m1 5h0m2-18h0m1 10h0m1 0h0m0-16h0m2 22h0m4-19h0m1 13h0m1-20h0m4 11h0m2-5h0m1 14h0m0-21h0m2 21h0m1 6h0m0-12h0m1-12h0m0 5h0m0-1h0m3 15h0m1 3h0m1-10h0m0 8h0m6-6h0m1-10h0m1 19h0m2-8h0m1 6h0m2-9h0m0-13h0m3 25h0m1-23h0m0 15h0m4-7h0m4 5h0m3-7h0m7-10h0m0 0h0m0 17h0m1-2h0m6-2h0m0 6h0m0-16h0m3 21h0m1-9h0m1-11h0m3 4h0m0 2h0m0-2h0m3-1h0m2 3h0m3 0h0m1 16h0m2-1h0m1-8h0m1 8h0m3-18h0m1 0h0m1 17h0m1-14h0m5 18h0m2-27h0m3 6h0m2 14h0m2-13h0m3 15h0m0-13h0m1 10h0m6 2h0m0 0h0m0-7h0m1-5h0m4-6h0m2 1h0m1 0h0m0 5h0m1-9h0m2 1h0m7 55h0m-1-4h0m-5-1h0m-2 1h0m-7 5h0m-1-9h0m0-16h0m-7 25h0m-2-21h0m-1 22h0m-6-28h0m-4 17h0m-1 3h0m-1-1h0m-3 7h0m-4 1h0m-2-11h0m-1 1h0m-1 3h0m0-1h0m-2-10h0m-1 17h0m-1-8h0m0-12h0m-2 15h0m0-1h0m-3 0h0m-2-1h0m-1 5h0m-2-14h0m0-6h0m-1 9h0m-2 0h0m-5-3h0m0 18h0m-1-21h0m-1 17h0m0 3h0m-7-8h0m-1-7h0m0-3h0m-1 1h0m-1-3h0m-1 20h0m0-19h0m0 12h0m-3 7h0m-1-8h0m0-2h0m-2-2h0m-1 4h0m0-10h0m-3 15h0m0-16h0m-1-8h0m-6 0h0m-2-1h0m-1 15h0m-1-6h0m-2 3h0m0 10h0m-2-7h0m-1 1h0m-5-2h0m-2 8h0m0-12h0m-1 2h0m0-6h0m0-5h0m0 11h0m-2 17h0m-2-29h0m-2 18h0m-2-3h0m-2 3h0m-2 10h0m-1-2h0m0-25h0m-3 22h0m-2-16h0m0 11h0m0-18h0m-5 22h0m-2 3h0m-2-13h0m0-5h0m-1 10h0m0 9h0m-5-15h0m-2 0h0m-3 1h0m-1-1h0m0-7h0m-1 16h0m-1-20h0m-4 27h0m0-22h0m-7 19h0m-1-22h0m-1 13h0m-3-3h0m-4 15h0m0-25h0m0 6h0m-3 17h0m-3-17h0m-2 2h0m0-2h0m-1 13h0m0-18h0m0 23h0m-3-6h0m0 0h0m-1 0h0m-2 9h0m-2-24h0m-2 14h0m0-18h0m-1 9h0m-1 15h0m-1-1h0m-10-11h0m-3-11h0m-2-1h0m-2 0h0m-1 27h0m-1-1h0m-2-4h0m0-7h0m0-9h0m-2 7h0m-2-5h0m0 14h0m-1-17h0m-3 13h0m0 5h0m0-5h0m-3-6h0m0 7h0m-1-14h0m-2 13h0m-1-3h0m-4 4h0m-2-13h0m-1-2h0m-1 7h0m0-9h0m-2 3h0m-1 19h0m-1-22h0m-2 13h0m-3 7h0m-1 1h0m-1-1h0m-1 4h0m-1-14h0m0 14h0m0-17h0m-2 16h0m0-1h0m-1-14h0m-1 13h0m-1-5h0m-1 0h0m0-11h0m-1 15h0m-2-3h0m0-13h0m-1 21h0m0-13h0m-2 13h0m-1-7h0m0-14h0m-1 5h0m-1-6h0m0 23h0m-1-11h0m0-18h0m-1 13h0m-1 14h0m0-19h0m-2-3h0m0 15h0m-1 3h0m0-3h0m0-4h0m0-10h0m-1-3h0m-1-3h0m-1 24h0m-1-2h0m0-12h0m-2 16h0m-2-6h0m-2 4h0m-5-18h0m-1-2h0m-7 18h0m-10-16h0m-3 2h0m-3 3h0m-2 10h0m0-12h0m-1-2h0m0-7h0m-2 27h0m-5-5h0m-11 0h0m-3-8h0m0 8h0m-1-22h0m-1 9h0m-8-1h0m-2-5h0m-9 8h0m-6 0h0m-2-5h0m-3 14h0m0 2h0m-1 2h0m-2 4h0m-4-4h0m-1-11h0m-2 3h0m-3 8h0m0-7h0m-1 7h0m0-21h0m-1 5h0m-2 14h0m-4-7h0m-2-15h0m-2 9h0m-4 4h0m-1 2h0m0-12h0m-1 15h0m-5-7h0m-5 4h0m0-3h0m-6 3h0m-4-10h0m0 1h0m-2 9h0m0-1h0m0-13h0m-1 25h0m-2 2h0m-1-12h0m-1-13h0m0 17h0m-1-6h0m0 2h0m-1-7h0m0-6h0m-2 18h0m-1 1h0m0-18h0m-2 17h0m-1-10h0m-1 7h0m-1-9h0m0 15h0m-1 5h0m0-29h0m-1 3h0m-1-2h0m0 13h0m-1-5h0m-1-8h0m-1 16h0m-1-4h0m0-3h0m-1-3h0m0 6h0m0-9h0m-1 10h0m0 8h0m-1-5h0m0 2h0m-1-15h0m-2 18h0m-3 1h0m-1 3h0m0 3h0m-2-24h0m-2 15h0m-1 4h0m-1 4h0m0-16h0m0-9h0m-4 8h0m-1 11h0m-2-8h0m0 7h0m-1-16h0m-1 9h0m-1 7h0m-1 3h0m0-18h0m-2 21h0m-1-13h0m0 9h0m-2 6h0m-1-9h0m0-3h0m-2-3h0m-1-1h0m0 8h0m-2-1h0m0 5h0m-1-5h0m-5-6h0m-1-11h0m0-3h0m-1 21h0m0-15h0m-1 15h0m-2-3h0m0-12h0m0 15h0m-2-2h0m0-6h0m-2-13h0m0 13h0m-1 0h0m0-13h0m-2 17h0m-1-4h0m0 13h0m0-4h0m-3-16h0m0 18h0m-2-13h0m-4-4h0m-1-5h0m0 16h0m-3-1h0m0-3h0m-2-11h0m0 26h0m-4-21h0m-1 4h0m-1-5h0m-1-7h0m-1 17h0m0 5h0m-2-14h0m-1 7h0m0 8h0m0 3h0m-4-16h0m0 1h0m0-4h0m0 19h0m-1-13h0m-1-8h0m-1 6h0m-1 15h0m-1-23h0m-1 25h0m-1-23h0m0 5h0m0 10h0m-3-14h0m-4 22h0m-1 0h0m-1-20h0m0 13h0m-6 3h0m-1-14h0m-2-10h0m-2 11h0m-2 12h0m-2-5h0m-1-13h0m-4 16h0m0-14h0m-1-1h0m-2 11h0m-1-3h0m0 6h0m-1 6h0m-5-11h0m-1 11h0m-3-7h0m-2 6h0m-1-5h0m-1-13h0m0 8h0m-4-7h0m-1 21h0m-2-14h0m-6-14h0m0 18h0m0-13h0m-4-4h0m-2 19h0m0 0h0m-1-19h0m-6 17h0m-1 10h0m0-5h0m-4 1h0m-6-25h0m-1 26h0m0 1h0m-4-11h0m-1-12h0m-1 24h0m-3-27h0m-1 9h0m-1-9h0m-3 24h0m-2-1h0m-6 1h0m-1-3h0m-1-3h0m-2-5h0m-3 12h0m-2 0h0m0-5h0m0 8h0m-1-17h0m-3 4h0m-1 7h0m-1-7h0m-2 1h0m0 8h0m-5-3h0m-1 1h0m-3-4h0m-2 3h0m-1-4h0m0 7h0m-3-8h0m0 9h0m-2-22h0m-1 9h0m-1-4h0m-1 8h0m-2-3h0m-2-10h0m0 22h0m-3-24h0m-1 25h0m-1-5h0m-2 6h0m-7-5h0m-1-1h0m-1 2h0m-1-2h0m0 7h0m-3-13h0m-5 3h0m-6 8h0m-2-13h0m-34 29h0m6 15h0m3-9h0m6-7h0m2 1h0m0-9h0m2 13h0m1 8h0m2-7h0m1-8h0m1-6h0m4 6h0m0 6h0m1-14h0m3 0h0m1 16h0m3-11h0m10 0h0m2 6h0m0-2h0m5-4h0m0 19h0m0-13h0m5-10h0m1 14h0m0-13h0m1-4h0m0 10h0m3 19h0m0-1h0m1-1h0m6-18h0m2 13h0m3-19h0m1 0h0m5 2h0m2 22h0m2-24h0m2-2h0m0 26h0m3-10h0m0 8h0m5-4h0m1-9h0m1-6h0m1-5h0m4 25h0m0-23h0m1-1h0m1 6h0m3 15h0m1-20h0m1 15h0m1-16h0m4 19h0m0-13h0m1 9h0m0-8h0m1-2h0m0 17h0m4-9h0m1-1h0m1-12h0m4 1h0m0 25h0m3-8h0m1-9h0m4-7h0m1 10h0m3-10h0m2 11h0m2-5h0m0-7h0m1 0h0m1-1h0m0 12h0m0 1h0m8 3h0m0 8h0m2-17h0m1 13h0m0 0h0m1-3h0m2 5h0m0-4h0m2-10h0m0 13h0m1-18h0m0 18h0m10-10h0m3-7h0m1 4h0m2 0h0m5 8h0m1 5h0m1-21h0m1-2h0m1 12h0m3 1h0m2-3h0m0 11h0m3-15h0m2 12h0m5 11h0m1-2h0m1-13h0m2 11h0m1 3h0m1-28h0m2 13h0m2 1h0m1 5h0m2-16h0m2 2h0m1 8h0m2-10h0m0-2h0m1 20h0m1-6h0m1 2h0m1-5h0m1 7h0m1-3h0m2 1h0m4-5h0m0-8h0m1 2h0m3 4h0m3 0h0m3-8h0m0-2h0m1 20h0m2-11h0m1 20h0m1-2h0m1-23h0m1 17h0m2-9h0m1 8h0m0 1h0m3 0h0m1-2h0m0-13h0m2-3h0m0 10h0m2-5h0m1 15h0m2 4h0m0-5h0m2 6h0m0-24h0m1 23h0m2-21h0m4 4h0m0 17h0m0-15h0m3 7h0m0-5h0m2 9h0m4 0h0m1-19h0m3 15h0m2 0h0m0 5h0m1-5h0m1-13h0m0 8h0m1 5h0m0-9h0m1 16h0m0-24h0m0 19h0m1-2h0m1 3h0m2 7h0m1-17h0m0-12h0m0 21h0m1-18h0m0 25h0m1-16h0m0 2h0m1-9h0m2 17h0m1-12h0m1 13h0m0-22h0m2 19h0m4-14h0m3 22h0m0-16h0m0-6h0m1-6h0m1 27h0m2-8h0m0 0h0m1 6h0m0-15h0m2 3h0m1 13h0m2 2h0m0-13h0m1 7h0m0-13h0m1-5h0m0 12h0m0-7h0m2 1h0m2 5h0m1 7h0m1 0h0m1-21h0m0 23h0m3 2h0m1-19h0m0 2h0m1-4h0m5 2h0m9 6h0m1-10h0m8 26h0m8-1h0m6-12h0m11-6h0m1 6h0m0-10h0m1 20h0m4-13h0m6 4h0m1-8h0m4 8h0m5-1h0m0-3h0m3 8h0m0-13h0m7 1h0m6 4h0m3-13h0m0 22h0m12-19h0m0 19h0m3-17h0m6 11h0m0 6h0m1-2h0m2 0h0m2-14h0m1 15h0m7-5h0m8 3h0m1-17h0m6 6h0m1 4h0m1 7h0m1 10h0m0-21h0m7 15h0m1-15h0m0-2h0m1-4h0m2 6h0m2-4h0m0-3h0m1 20h0m0-18h0m1 1h0m1 17h0m1 4h0m2-6h0m0 4h0m2 5h0m2-4h0m0-10h0m0-10h0m0-2h0m1 10h0m1 0h0m3 17h0m0-27h0m1 8h0m1 15h0m1-1h0m0-10h0m7 10h0m2-18h0m0 17h0m1-16h0m1 20h0m0-21h0m1 3h0m3 2h0m1 16h0m0-18h0m2 2h0m1 18h0m1-21h0m2-4h0m0 18h0m2-17h0m0 3h0m1 4h0m3 8h0m1 1h0m3-6h0m1-3h0m1 6h0m2 5h0m0-4h0m2 6h0m0-18h0m1 7h0m0-13h0m1 22h0m1-23h0m2 21h0m2 1h0m0 6h0m5-1h0m1-6h0m0-1h0m4-11h0m1 13h0m1-12h0m1 6h0m3 6h0m1 7h0m2-8h0m1-7h0m0 7h0m1 1h0m0-19h0m1 11h0m1-3h0m0 13h0m0-17h0m1-6h0m0 19h0m1-12h0m0-4h0m1 16h0m1 2h0m2-11h0m1 3h0m1-5h0m1 2h0m3-2h0m6 10h0m1-3h0m0-12h0m2 8h0m2 3h0m1 4h0m0-12h0m1 13h0m0-2h0m0-4h0m1-1h0m1 4h0m1-17h0m0 7h0m3 18h0m1-7h0m4-11h0m0-7h0m1 28h0m2-6h0m0 4h0m0-6h0m1 1h0m1 5h0m0-22h0m3 11h0m0 5h0m0-3h0m0-10h0m0 14h0m0-16h0m1 3h0m0 19h0m2-9h0m0 0h0m2 1h0m0 10h0m0-19h0m2-9h0m1 0h0m2-1h0m1 27h0m0-16h0m2 11h0m1-15h0m1 15h0m1 7h0m1-12h0m0-1h0m1-6h0m1 8h0m3 9h0m0-11h0m1-3h0m2 1h0m1 12h0m0-12h0m1 12h0m1-18h0m4 4h0m0-6h0m1 4h0m7-7h0m1 14h0m1-7h0m1 13h0m0-20h0m0 15h0m2-7h0m1-10h0m1 28h0m1-20h0m3 0h0m1-7h0m1 15h0m1 9h0m3-14h0m1-10h0m1 26h0m0-23h0m1-5h0m1 20h0m3 2h0m0 5h0m1-15h0m1-3h0m0 20h0m0-9h0m6-3h0m5-8h0m2 8h0m0-16h0m1 9h0m3-6h0m1 21h0m0-20h0m0 13h0m0 3h0m1 4h0m4-7h0m1-9h0m2 13h0m0-15h0m1 22h0m0-2h0m1-2h0m3-22h0m3 22h0m0-2h0m1-15h0m0 3h0m0-11h0m4 4h0m0 7h0m0-6h0m3-4h0m0 10h0m2 8h0m3-16h0m2 24h0m1-16h0m0 0h0m1-5h0m1 14h0m4-9h0m0 13h0m2 4h0m1-6h0m1-6h0m2-12h0m0 0h0m0 14h0m1 5h0m3-5h0m2-4h0m2 5h0m4-7h0m1 0h0m1-10h0m29 8h0m-17 46h0m-2-2h0m0-14h0m-4 1h0m-3-3h0m-2 7h0m-2-3h0m-2 5h0m0-2h0m-1 9h0m-1-18h0m0-1h0m-1 10h0m-3-10h0m0 1h0m-3 6h0m-4 17h0m-3-15h0m-1-13h0m-2 9h0m-2-3h0m-1 1h0m-2-1h0m-2 12h0m0-6h0m0-9h0m-3 3h0m-1 18h0m-1-18h0m-1 7h0m-1-5h0m0 16h0m-1-9h0m-3-15h0m0 15h0m-1-9h0m-2 11h0m-3 11h0m-1-18h0m0 8h0m-2 8h0m-4-19h0m-2 13h0m0-10h0m0 10h0m-1-11h0m-1 11h0m0-21h0m-1 29h0m-5-17h0m-1-10h0m0 25h0m0-23h0m-1 19h0m-2 6h0m-1-8h0m0-16h0m0 12h0m-1-2h0m-2 9h0m-2-2h0m0-20h0m-4 2h0m0 18h0m-3 4h0m0-2h0m0-12h0m-1 1h0m-2 12h0m-1-17h0m-2 0h0m0 21h0m-2-6h0m-1-1h0m0-5h0m-1-5h0m0-5h0m0 10h0m-1-8h0m-1 5h0m-5 6h0m0 4h0m0-22h0m-1 19h0m0-17h0m-2 7h0m0 14h0m-1-11h0m0 7h0m-3 1h0m-2 6h0m-2-12h0m-1-10h0m0 6h0m-1-10h0m-1 9h0m-2-8h0m-2 18h0m-1-7h0m0 10h0m-1-15h0m-2 16h0m0 1h0m-1-19h0m-1 8h0m-1-12h0m-2-2h0m-1 11h0m0 16h0m-2-13h0m-2-3h0m-1 10h0m-1-14h0m-3 19h0m-2-1h0m-3-1h0m-1 3h0m-1-7h0m-1-5h0m0-16h0m-1 19h0m-2-4h0m0-2h0m-3 16h0m-1 0h0m-2-21h0m0 0h0m0 17h0m-2-5h0m-2-8h0m-2 13h0m-3-12h0m-1-6h0m-2 9h0m-1-14h0m-3 27h0m0-5h0m-5-20h0m-3 12h0m-1-12h0m-2 24h0m0-12h0m0 11h0m-1-21h0m-1 1h0m-1 0h0m0-2h0m-1 19h0m0-11h0m0 10h0m0 5h0m-1-7h0m-1-16h0m-1 24h0m-1-19h0m-1 14h0m0-16h0m-2 11h0m-5-11h0m0 20h0m-2-6h0m-1-9h0m-1 14h0m-1-8h0m0 4h0m-2-16h0m-1-7h0m-5 21h0m0 8h0m-1-11h0m0 3h0m-1-4h0m0-9h0m0-7h0m-2 28h0m0-11h0m-2-5h0m0-6h0m0 21h0m0-5h0m-4-7h0m-1 6h0m-4 0h0m-1 4h0m0-21h0m-2-2h0m-4 17h0m-2 3h0m-6-7h0m-4-5h0m0-3h0m-2-3h0m-1 24h0m0-27h0m-1 19h0m-2 4h0m0-25h0m-2 14h0m-1-5h0m0-6h0m0 5h0m-1 10h0m-1-12h0m-1 7h0m0-5h0m0-6h0m-1 17h0m0-7h0m-1-6h0m0-1h0m0-1h0m-1 10h0m-3 5h0m0-16h0m-3-2h0m-1 28h0m-1-6h0m0-12h0m-1 6h0m-3 3h0m-4-11h0m-1 20h0m-2-21h0m-1-2h0m-1 3h0m-1 9h0m0 5h0m0-12h0m-3 11h0m-3-8h0m-2-9h0m-1 24h0m0-11h0m-1 0h0m-1 2h0m0-19h0m-1 27h0m-2-10h0m0 1h0m-4-12h0m0-5h0m-2 14h0m-1-8h0m0 15h0m-2-18h0m-1 10h0m-7-7h0m-8 16h0m-2-6h0m-2-10h0m-1-1h0m-10 21h0m-1-1h0m0 2h0m-2-12h0m-1-2h0m-4-7h0m-2 12h0m0-8h0m-10 10h0m-2-6h0m-6-11h0m-9 2h0m-27-7h0m-12 16h0m-2-3h0m-2 1h0m0-4h0m-4 6h0m0-13h0m-2 10h0m-4 14h0m-6-9h0m-3-12h0m-1 6h0m-1 10h0m-4-7h0m0-10h0m0-5h0m-1 16h0m0-3h0m-2 0h0m-1 8h0m-4-13h0m0 12h0m-1-10h0m0 12h0m-1-13h0m0 16h0m0-25h0m0 26h0m0-7h0m-1 9h0m0-15h0m-1 15h0m0-22h0m-2 13h0m-2-18h0m0 28h0m-1-17h0m-1-3h0m-1 2h0m0-7h0m-1 21h0m-1 0h0m0-14h0m-2 8h0m-3 7h0m-1-17h0m0 17h0m-1-25h0m-1 13h0m-1-12h0m-4 6h0m-1 9h0m-2 1h0m-1 6h0m-1-13h0m-1 11h0m-1-17h0m-2 19h0m0-5h0m-4 8h0m0-15h0m0-3h0m-1-2h0m-3 3h0m-1 16h0m-3-5h0m0-17h0m-1 5h0m-3 7h0m0-15h0m-6 14h0m-1-4h0m0 2h0m-1 8h0m0-21h0m-2 25h0m-2-3h0m-1-11h0m-2 3h0m-1 12h0m0-12h0m-4-7h0m0 18h0m-1-25h0m0 0h0m-1 9h0m-3 11h0m0-14h0m-2 2h0m-2 18h0m-1-2h0m-1-8h0m-2 8h0m0 4h0m-2 0h0m-1-6h0m-1-8h0m-2 12h0m-1 0h0m-6-7h0m-1 1h0m-1 3h0m-1-13h0m-2 14h0m-1-15h0m-1-6h0m-2 3h0m-1-1h0m-1 10h0m-2 6h0m-1-5h0m-1-6h0m-1 8h0m-6-17h0m-1 10h0m-2 9h0m0 8h0m-1-19h0m-1-3h0m-1 17h0m-9-16h0m-2 3h0m-5 7h0m0-15h0m0 5h0m-1 17h0m-1-9h0m0-3h0m0 2h0m-1-6h0m-3 1h0m-6 2h0m0-8h0m-6 12h0m-2 13h0m0-25h0m-2 13h0m-1 7h0m-6-15h0m-3-6h0m-1 5h0m-1 17h0m-2-23h0m-1 25h0m-1-11h0m-3-12h0m0 3h0m0 21h0m-1-13h0m-4-1h0m-2 6h0m-3 0h0m-2 10h0m0-14h0m0 13h0m-8 0h0m0 0h0m0-11h0m-2 0h0m0-11h0m-1 8h0m0 13h0m-3-23h0m-1 12h0m-2-6h0m-2 8h0m-4-5h0m-3-4h0m0 12h0m-3-13h0m-1-6h0m-3 7h0m-1 18h0m-1-17h0m-1-10h0m0 8h0m-1 7h0m0 7h0m-1-10h0m-1 17h0m-2-2h0m-1-16h0m0 6h0m-1-9h0m-2-7h0m0 1h0m-4 3h0m-5 24h0m0-27h0m-1 14h0m-2-2h0m-2 7h0m-1-14h0m-2 1h0m0 13h0m-4 0h0m-8-6h0m0 8h0m-2 4h0m-1-5h0m-6-6h0m-2-11h0m0-3h0m-1 17h0m-3-4h0m0 14h0m0-11h0m-6-10h0m-5 15h0m-1 4h0m-1-11h0m-3-14h0m-2 17h0m0-3h0m-2-4h0m-1 0h0m-3 12h0m0-2h0m-2-19h0m0 16h0m-5-4h0m-6 11h0m-4-9h0m-4 10h0m-5-23h0m5 41h0m5-4h0m5-2h0m1-5h0m0 22h0m3-12h0m1 11h0m2-21h0m6 18h0m2-9h0m0 3h0m6 9h0m1-5h0m3-18h0m11 11h0m0-4h0m2 7h0m3 0h0m1 5h0m0-1h0m2-7h0m7-5h0m0-3h0m2-5h0m0 4h0m2 22h0m2-20h0m4 20h0m1-5h0m1-19h0m0 19h0m1-9h0m6 1h0m4-10h0m0 4h0m1 18h0m3 4h0m4-12h0m3-11h0m2 10h0m0-16h0m9 27h0m1-4h0m1 2h0m1-22h0m0 13h0m6-4h0m1-4h0m0 19h0m4 0h0m1 1h0m5-16h0m1 12h0m1-21h0m7 25h0m2-26h0m2 18h0m1 0h0m1-7h0m0 4h0m2-8h0m2 1h0m1 0h0m4 7h0m0-6h0m3 11h0m5-8h0m0-12h0m1 14h0m1 1h0m1 5h0m4 3h0m1-21h0m0 12h0m4-7h0m1-5h0m2 9h0m0-2h0m0 0h0m0-1h0m0-1h0m1 1h0m1-9h0m1 7h0m0 16h0m2-10h0m1 9h0m0-18h0m2-4h0m1 8h0m0-3h0m2 9h0m2 8h0m3 6h0m0-24h0m1 8h0m2-6h0m4 21h0m0-24h0m3-1h0m2 5h0m3-1h0m1-6h0m3 27h0m1-24h0m0 20h0m1-3h0m3-12h0m1 17h0m3-6h0m7-11h0m0-6h0m1 21h0m0-20h0m2 20h0m1-5h0m2-10h0m1 16h0m0-1h0m3-18h0m1 15h0m0-11h0m2 1h0m1 15h0m4-21h0m1-5h0m0 7h0m1 8h0m1 0h0m2-3h0m3 17h0m1-5h0m0-3h0m2-6h0m1-1h0m0-6h0m1 1h0m0 19h0m7-4h0m0 5h0m3-18h0m6 11h0m0 0h0m1 0h0m4-19h0m1 0h0m1 25h0m2-25h0m1 6h0m1-7h0m0 1h0m0-3h0m1 22h0m0 2h0m2-8h0m4 9h0m0 4h0m0-7h0m1-8h0m1-8h0m4-4h0m1 17h0m0-14h0m3 21h0m2-5h0m0 1h0m1-13h0m0-9h0m3 28h0m0-16h0m0 11h0m0-20h0m5 21h0m2-19h0m2 19h0m2-22h0m1 1h0m2 22h0m0 0h0m1-8h0m1-4h0m3 0h0m2-10h0m0 2h0m1 9h0m1-13h0m0 19h0m0-10h0m2 18h0m1-4h0m1 3h0m1-24h0m2-2h0m1-1h0m2 26h0m1-23h0m0 14h0m1-3h0m1-3h0m3 18h0m0-25h0m1 19h0m2-13h0m2 3h0m1 7h0m1-8h0m1 3h0m9-11h0m3 13h0m0 5h0m0-21h0m8 27h0m2-5h0m11 4h0m45-16h0m8 15h0m2 3h0m1-12h0m0-15h0m1 22h0m0-18h0m1 2h0m3 13h0m0-1h0m1 7h0m2-5h0m1-4h0m3-5h0m1-7h0m1 2h0m4 7h0m1 1h0m4-16h0m1 20h0m1 6h0m6-23h0m1 8h0m0-5h0m0-5h0m1 5h0m1 0h0m0 2h0m4 3h0m0-11h0m1 14h0m2 10h0m1-9h0m2 12h0m0-12h0m2-12h0m1 22h0m3-22h0m2 23h0m2-7h0m2 0h0m2 3h0m0 3h0m1-5h0m0-1h0m5-11h0m0 12h0m4 7h0m2-26h0m1 24h0m1-22h0m0 25h0m0 1h0m3 0h0m3-3h0m1 0h0m1-21h0m2 1h0m1 9h0m8-15h0m0 23h0m2 6h0m1-19h0m7-1h0m0 2h0m2 7h0m0-13h0m3 6h0m0-5h0m1 0h0m4 19h0m0-5h0m2-15h0m2 14h0m0 5h0m1-14h0m2 18h0m3-18h0m0 0h0m1 8h0m0 10h0m0-21h0m2-1h0m1 17h0m0-23h0m4 4h0m2 4h0m2 4h0m3 11h0m0-15h0m1-6h0m1 23h0m0-15h0m2-1h0m1 10h0m2 8h0m2-14h0m0 15h0m1-15h0m2 1h0m0 0h0m1 4h0m2 9h0m1-20h0m4-6h0m5 24h0m1-3h0m0-3h0m3 5h0m0-2h0m0-6h0m0-16h0m1 1h0m0 24h0m1-7h0m0-18h0m1 12h0m1 17h0m3-25h0m1 20h0m2-15h0m1-5h0m1-4h0m1 25h0m3-18h0m0 17h0m1-15h0m2-5h0m0 0h0m5-2h0m1 22h0m2-5h0m1-13h0m0-3h0m1 20h0m0 0h0m1-19h0m0 13h0m2 8h0m5 3h0m1-15h0m1 11h0m1-7h0m3-12h0m4 19h0m1 4h0m0-24h0m1 16h0m0-8h0m10 5h0m1-2h0m3-4h0m2 11h0m0-14h0m3 16h0m4-16h0m0 18h0m1-16h0m0-9h0m1 21h0m1-22h0m1 20h0m2-11h0m2 11h0m1 7h0m1-9h0m0 5h0m2-10h0m1 0h0m5-8h0m2 24h0m0-28h0m2 22h0m1-23h0m2 3h0m2 17h0m2 3h0m1-21h0m0 3h0m0 23h0m1-15h0m2 1h0m1-7h0m0-5h0m0 1h0m1 22h0m1-9h0m1 9h0m0-2h0m3-15h0m3 5h0m3 15h0m0-16h0m1 4h0m2-10h0m1 19h0m2-19h0m0 5h0m0-10h0m0 28h0m4-19h0m1 9h0m0 6h0m1 2h0m0-4h0m1-5h0m1-7h0m1-10h0m2 0h0m1 3h0m2 0h0m1 14h0m3 6h0m2-21h0m4 24h0m0-4h0m1-10h0m0 5h0m3-15h0m0 12h0m0-8h0m1 2h0m0-9h0m0 2h0m4 20h0m3-12h0m0 13h0m2-11h0m1 16h0m1-8h0m1 8h0m1-20h0m1 5h0m2-2h0m0-11h0m6 3h0m2 24h0m-7 31h0m-2-14h0m0-13h0m-4 5h0m-2 6h0m0 16h0m-1-6h0m-1-20h0m-1 23h0m-1-14h0m-1-11h0m0 15h0m0 5h0m-1-6h0m0 11h0m-1-9h0m-4 13h0m-1-26h0m-1 19h0m-1-14h0m0 5h0m-1 4h0m-1-6h0m-3-2h0m-1 17h0m-3-10h0m-2-9h0m0 4h0m-1 11h0m-2 3h0m-1-3h0m-3-22h0m-2 2h0m0 14h0m-1-12h0m-2 25h0m-3-11h0m0-1h0m-1-16h0m-4 20h0m0-1h0m-1-14h0m-2 6h0m-2 10h0m0 2h0m-2-24h0m-1 9h0m-2-8h0m-1-1h0m0 15h0m-1-13h0m0 13h0m0-14h0m-4 16h0m-2-8h0m0 14h0m-2-2h0m0-6h0m-2-8h0m-2 5h0m0 16h0m-2-26h0m-3 10h0m-1 5h0m-3-1h0m0-11h0m-2 19h0m0-3h0m-1-15h0m-1 21h0m-1-15h0m-3-6h0m-2-2h0m-1 11h0m0 1h0m-1 11h0m0-5h0m-1-9h0m-1 9h0m-4 0h0m-3-11h0m-1 2h0m0 0h0m0-12h0m-3 25h0m-1-18h0m-3 5h0m-2-6h0m0 21h0m0-6h0m-2-7h0m0 4h0m0-11h0m-3 2h0m0 17h0m-1-26h0m-1-1h0m0 24h0m0-15h0m-2 18h0m-1-2h0m-1-21h0m-6-4h0m-1 24h0m0-11h0m-1-11h0m-2 26h0m-2-16h0m-3 6h0m-1 11h0m-3-20h0m-1-9h0m-4 10h0m0 1h0m-4 4h0m0 6h0m-2-19h0m0 1h0m-1 9h0m-6-4h0m-4 21h0m-2-15h0m-1 9h0m-1-16h0m-1 17h0m0-9h0m-4-12h0m-2 12h0m0 11h0m-2 3h0m-2-5h0m-5-19h0m0 7h0m-1-11h0m-1 27h0m-1-9h0m0 1h0m-1-7h0m-1 4h0m0-10h0m-2-1h0m0 4h0m-2 12h0m0-3h0m-4 10h0m0-23h0m-1 7h0m-1-12h0m-2 10h0m0-9h0m-1 9h0m0 13h0m-1-17h0m-5 4h0m0-2h0m-1 0h0m-3-4h0m-3 10h0m-8-14h0m-1 26h0m-1-5h0m0-18h0m0 20h0m-2 3h0m0-7h0m-1-6h0m0-5h0m-1 11h0m0-10h0m-2 16h0m-2 1h0m-3-25h0m-1 23h0m-1-7h0m-1 0h0m0 4h0m0 5h0m-1-10h0m-2 6h0m-2 1h0m-3-13h0m-1 3h0m-4-5h0m-1-7h0m-3 12h0m-2 5h0m-2 6h0m-3-17h0m0 6h0m0-6h0m-2 1h0m-1 4h0m-1-2h0m0 16h0m-4-5h0m0 7h0m-2-8h0m-1-17h0m-10 17h0m-1-3h0m-1-15h0m-1 14h0m0-14h0m-1 24h0m-2-25h0m-1 14h0m-4 2h0m-1 7h0m-1-4h0m-1-5h0m-1 4h0m-1 9h0m-1-5h0m0 2h0m-1-11h0m-2 9h0m-3-7h0m-2-9h0m-1 21h0m-1-28h0m-3 0h0m-2-1h0m-1 7h0m0-4h0m-3-3h0m0 21h0m-2 5h0m0-24h0m-2 15h0m-2-6h0m-3 6h0m-1 0h0m-2 12h0m-1-17h0m-6-4h0m-2 3h0m-14 8h0m-40-2h0m-1 3h0m-4-2h0m-3-6h0m0-4h0m-3 4h0m-1-6h0m-3 1h0m-2 9h0m-4 8h0m-5-1h0m-1-23h0m-1 14h0m-1-14h0m0 2h0m0 9h0m-2-8h0m-1 6h0m0 20h0m-1-2h0m-4-2h0m-2-5h0m-1-19h0m0 7h0m0 1h0m-1-2h0m-1 3h0m0 17h0m-1-18h0m-1 14h0m0-16h0m-2 0h0m-1 5h0m-1 13h0m-2-3h0m-1-8h0m0 9h0m-1-16h0m0 18h0m-2-19h0m-1 19h0m-1-14h0m-1-4h0m0 17h0m0-20h0m-1 9h0m-2 13h0m0-3h0m-2 2h0m-1 2h0m0-3h0m-1 0h0m-6-24h0m-1 28h0m-5-2h0m-2-4h0m0-7h0m-1-13h0m-2 13h0m-1-3h0m-1-11h0m0 5h0m-3 19h0m0-2h0m-1-14h0m-1 16h0m-1-14h0m-1-1h0m-1 18h0m-3-15h0m0 5h0m-2-14h0m-3 7h0m-1-1h0m0 9h0m-4-19h0m0 19h0m-2 9h0m-1 1h0m-1-11h0m-1 2h0m-2-10h0m-3 14h0m-1-14h0m-1 1h0m-4 5h0m0 4h0m-1-18h0m0 19h0m-1-9h0m-2 7h0m-2-14h0m-4-4h0m-2 7h0m0 19h0m-1-10h0m0-15h0m0 18h0m-2-1h0m-1 0h0m-2 3h0m0-6h0m-4 1h0m0-3h0m-1-10h0m-1 9h0m-5 8h0m0 5h0m-2-5h0m-1-6h0m-2 13h0m-5-19h0m-1 5h0m0 7h0m-2-4h0m-2 11h0m-1-19h0m-1-1h0m-1 6h0m-1 11h0m0 4h0m-3-26h0m-2 4h0m-1 0h0m-2 14h0m0-1h0m-1-4h0m-1 6h0m-6-1h0m0-14h0m-1-1h0m-2-5h0m-4 28h0m-1-17h0m-2 2h0m0-6h0m0 3h0m-1 6h0m-3 1h0m-1 3h0m0-11h0m-4 7h0m-3 2h0m0-2h0m-5 0h0m-3-9h0m-2 0h0m-1-1h0m-1 1h0m-3 15h0m-1-23h0m-1 2h0m-1 9h0m-1-2h0m0 11h0m-2 3h0m-1-21h0m0 11h0m-3 7h0m-1-13h0m-2 5h0m-2 15h0m0-23h0m-1 13h0m-2-17h0m-1 22h0m-2-19h0m-1 7h0m-2 16h0m0-3h0m-3 2h0m-2-19h0m0 12h0m-1-11h0m0-4h0m-1 23h0m-1 1h0m-2-12h0m-6-8h0m-3-4h0m0 17h0m0-6h0m-7-5h0m-5 9h0m-1-10h0m-2-3h0m-1-1h0m-1 5h0m0 5h0m-2 8h0m-1 7h0m0-26h0m-1 4h0m-6 5h0m0 9h0m-1 5h0m-1-3h0m0-7h0m-1-15h0m-3 15h0m-1 1h0m-2-7h0m-3 7h0m-2 7h0m0-19h0m-5 11h0m-2-6h0m-2 7h0m-1-15h0m0 16h0m-4-2h0m-1 8h0m0-6h0m-4-11h0m-3 12h0m-6-6h0m-5 15h0m0-4h0m-1-6h0m-2-16h0m-3 10h0m-2-3h0m-6 3h0m-2-5h0m-2-2h0m-3 8h0m-1 13h0m-1-24h0m0 21h0m4 26h0m10-9h0m1-9h0m1 2h0m3 23h0m4 3h0m6-1h0m0-8h0m3-15h0m0 4h0m6 16h0m8-22h0m5 23h0m3-17h0m6-6h0m1 24h0m2-21h0m1 9h0m0-10h0m2 17h0m2-15h0m0 4h0m5-7h0m0 11h0m1 3h0m1-18h0m6 25h0m0 4h0m0-12h0m4-5h0m3-9h0m0 25h0m1 1h0m1-18h0m1-2h0m0 1h0m0 6h0m1-11h0m1-1h0m4 20h0m1-8h0m0-9h0m1 7h0m3 10h0m4-1h0m1-1h0m0-15h0m1 17h0m4 1h0m1-25h0m0 5h0m3-2h0m2 17h0m0-17h0m5 18h0m1-18h0m1 18h0m9-9h0m2-8h0m2-3h0m2 26h0m1-2h0m2-4h0m1-12h0m2-7h0m0 11h0m1 2h0m2 5h0m1-5h0m0-3h0m0 13h0m1-9h0m1 7h0m2 2h0m1-11h0m2 1h0m1 8h0m0-17h0m1 8h0m0-11h0m3 0h0m5 13h0m4-4h0m2-12h0m3 10h0m2-7h0m2 22h0m3-20h0m0-2h0m1 23h0m1-2h0m0-1h0m1 4h0m3-10h0m2-16h0m0 18h0m2 0h0m2 9h0m2-11h0m2-9h0m2 3h0m0 3h0m0 12h0m1-13h0m1-9h0m4 12h0m2-8h0m0 21h0m3 0h0m1-19h0m0 3h0m1-4h0m0 11h0m0 6h0m2-26h0m1 14h0m3 6h0m3-15h0m2-1h0m0 4h0m1 20h0m4-23h0m1 6h0m1 5h0m1 12h0m3-1h0m0-23h0m2 25h0m1-4h0m0-5h0m0-7h0m5-11h0m1 26h0m1-17h0m1 1h0m1 2h0m0-2h0m0-7h0m1 24h0m0 0h0m3-12h0m1 10h0m1-2h0m3-24h0m0 25h0m1-3h0m2-14h0m3-1h0m3 12h0m0-1h0m2 4h0m1-9h0m1-3h0m0-8h0m1 5h0m2 20h0m0-16h0m1 1h0m0-8h0m0 13h0m1 7h0m0-25h0m1 13h0m1 14h0m2-19h0m0 14h0m3-17h0m1 21h0m0-8h0m1-2h0m0 3h0m2-5h0m0-11h0m2 14h0m0 2h0m7-4h0m1-2h0m0-2h0m1 6h0m3 8h0m1-17h0m0-8h0m0 24h0m1-22h0m1 2h0m0 15h0m0 3h0m1 7h0m0-18h0m1-10h0m0 0h0m2 15h0m1-4h0m0 16h0m1-26h0m2 9h0m0-8h0m2 20h0m0-4h0m0 0h0m1 0h0m1-6h0m0-12h0m1 4h0m0 12h0m1-6h0m1 17h0m0-16h0m0 14h0m1-11h0m2 10h0m2-22h0m1 14h0m0 10h0m2-27h0m1 21h0m0 8h0m0-14h0m1-14h0m1 15h0m0-9h0m1-4h0m3 14h0m2 12h0m1-25h0m0 23h0m1-17h0m1 3h0m3 10h0m5-20h0m5-1h0m2 9h0m1 7h0m13-7h0m42 0h0m4 0h0m0 3h0m0 12h0m0-5h0m2-13h0m3 18h0m1-13h0m2 1h0m1 9h0m0 3h0m2-16h0m2-9h0m7 23h0m1-14h0m1 2h0m1-2h0m0 6h0m1 4h0m0 0h0m4 0h0m1-7h0m0 3h0m1 11h0m3 1h0m10-20h0m0 16h0m2-15h0m1 11h0m0-19h0m0 10h0m4 9h0m3-20h0m2 1h0m0 21h0m0-14h0m1 21h0m1-9h0m1-10h0m0 13h0m0-7h0m0-13h0m0 9h0m1-4h0m1 0h0m1 16h0m2-9h0m0-6h0m0 1h0m1 19h0m2-3h0m3 2h0m0 0h0m1-12h0m0-3h0m3 14h0m3-20h0m3 5h0m1-11h0m3 25h0m3-7h0m0-5h0m5 9h0m2-23h0m1 2h0m0 11h0m2 9h0m1 4h0m2-7h0m0-2h0m2-11h0m0 12h0m1-8h0m0 16h0m1-9h0m2 11h0m0-16h0m1 7h0m2-13h0m2 22h0m1-12h0m0 9h0m1-25h0m0 15h0m1-10h0m3-5h0m2 19h0m0 6h0m0-15h0m0 14h0m3-10h0m2-2h0m0-11h0m1 21h0m2-13h0m0 10h0m1-2h0m3 12h0m1-17h0m4 11h0m1 0h0m1-16h0m4 1h0m1 14h0m3 5h0m2 0h0m1-23h0m0 15h0m0 10h0m1-11h0m2 1h0m7-13h0m2-1h0m2 1h0m3-6h0m2 21h0m1-17h0m0 18h0m1-19h0m0 23h0m2-14h0m0-7h0m0-2h0m2 22h0m3 0h0m2-10h0m1 4h0m9-10h0m1 7h0m0-3h0m1-2h0m0-1h0m0-3h0m3 20h0m1-24h0m2 2h0m0-4h0m2 9h0m1 4h0m0 6h0m1 8h0m4-6h0m0 7h0m3-23h0m0 6h0m1 13h0m4-19h0m0-3h0m1-3h0m1 12h0m0 12h0m0-19h0m2 3h0m1 6h0m1 2h0m1 13h0m0-12h0m1 12h0m1-22h0m1-6h0m0 21h0m1-16h0m2 18h0m1-3h0m1-7h0m3-8h0m1-1h0m1 23h0m2-22h0m4 18h0m0-13h0m2-4h0m5 5h0m1-10h0m0 12h0m2 8h0m2-19h0m2 25h0m1-10h0m1 2h0m1-14h0m0-1h0m0-2h0m1 7h0m0-1h0m2 10h0m0-12h0m1 12h0m1-13h0m4 2h0m1 12h0m0-10h0m1-5h0m3 2h0m1 12h0m0-16h0m2-2h0m2 3h0m3 4h0m1 1h0m1 1h0m1-10h0m0 12h0m4 15h0m0-19h0m2 0h0m2 13h0m2-14h0m2 11h0m0 9h0m2-26h0m7 15h0m0-3h0m4 1h0m0 2h0m1 1h0m8-1h0m0 13h0m0-26h0m0 11h0m1-8h0m3 10h0m3-16h0m2 13h0m3 12h0m2 0h0m2-10h0m1 5h0m1-5h0m1-1h0m0 11h0m4-8h0m0-9h0m1 5h0m6-3h0m1-7h0m0 9h0m0-10h0m0 10h0m1 2h0m2-9h0m3 7h0m1 7h0m0-10h0m1 5h0m2-6h0m12 11h0m-17 17h0m0 23h0m-7-19h0m0 3h0m-1-8h0m-5 10h0m-1-9h0m-3 1h0m-1 22h0m0-16h0m-4 14h0m-6-9h0m-1-2h0m-1 7h0m-1 0h0m-1 3h0m-5-21h0m0 20h0m-1-15h0m-1 2h0m0 8h0m-2-19h0m-3 20h0m-1-1h0m0-20h0m-1 1h0m-1 23h0m-2-6h0m-1 5h0m-1-9h0m-2-12h0m0 27h0m0-6h0m0-12h0m-1-7h0m0 23h0m-1-4h0m-3-16h0m-1 22h0m-2-2h0m-1-1h0m0-1h0m0-12h0m-1 8h0m-1 3h0m0-15h0m-7-6h0m-2 22h0m0-14h0m0 6h0m-2-17h0m-2 2h0m-6 18h0m0-10h0m-1-10h0m-2 16h0m-1 5h0m-2 1h0m-2-1h0m-1 7h0m-4-25h0m0 26h0m0-19h0m-2 4h0m-1-10h0m0 22h0m-3-5h0m0-9h0m0-6h0m-2 11h0m-2-6h0m0 11h0m-1 5h0m-1-2h0m0-25h0m0 29h0m-2-1h0m0-16h0m-2-2h0m-1 3h0m0 12h0m-1-13h0m-1 0h0m-1 13h0m-1-7h0m0-4h0m-1-2h0m-2 11h0m0-9h0m-4 13h0m-5-18h0m-1 10h0m-1-19h0m-1 12h0m-9-12h0m-1 10h0m0 17h0m-3-25h0m-1 9h0m-1 16h0m-5-19h0m-4 2h0m-1 10h0m-1-9h0m-1 1h0m-1-12h0m-1 12h0m0 15h0m-2 2h0m-3-26h0m0 21h0m-2-23h0m-1 8h0m-1-1h0m-1 8h0m-1 12h0m-2-20h0m-1-4h0m-1 22h0m0 3h0m-1-4h0m0-21h0m-1 2h0m-1 14h0m-2 8h0m-2-15h0m-3-1h0m-1-5h0m-4 2h0m-2-1h0m0-2h0m0 15h0m-1-18h0m-3 8h0m-1 10h0m0-4h0m0 0h0m-1 11h0m-3-14h0m-1 13h0m-1-19h0m-1-4h0m-1 19h0m-2 1h0m-1 0h0m0-9h0m-1-9h0m0 4h0m-2 11h0m-2-3h0m-1 9h0m-1 0h0m-2-4h0m-1-4h0m-1 0h0m-2-10h0m-1 16h0m0-1h0m-2-10h0m-1-14h0m-1 26h0m0-5h0m-1 3h0m-1 0h0m-1-17h0m-1 12h0m-1-18h0m-3 20h0m-1-21h0m-4 27h0m0-9h0m0-12h0m0 15h0m-1 8h0m-3 0h0m0-1h0m-1-8h0m-1-7h0m0 2h0m-2-4h0m0 0h0m-1 15h0m-2-20h0m-3-6h0m-1 5h0m-2 11h0m-3-15h0m-5 22h0m-1-16h0m0 7h0m-1-9h0m-1 15h0m0-11h0m-1 16h0m-2-15h0m-1 17h0m0-18h0m-2-6h0m0 25h0m-2-25h0m-1 17h0m0-1h0m0-12h0m-2 8h0m-2-3h0m0 1h0m0-1h0m-2 3h0m0 11h0m-1-18h0m-2 2h0m-1-5h0m-1 4h0m-1 19h0m-1-1h0m0 1h0m-1-4h0m-4 5h0m-1-4h0m-2-20h0m-1 4h0m0-6h0m0 16h0m-2-8h0m0 4h0m-1 12h0m-1-7h0m-5-11h0m-1-2h0m-3 3h0m-1 12h0m0 1h0m-1-14h0m-6 13h0m0-4h0m-2 3h0m-3 1h0m-3 4h0m-1-18h0m0 1h0m-4 15h0m-1-11h0m-1 9h0m0 2h0m-1-2h0m-1-17h0m-1 0h0m0 7h0m-1-4h0m0 5h0m-1-2h0m-3 15h0m0-8h0m-1-10h0m0 4h0m-4 4h0m0 1h0m-2-12h0m-1 22h0m0 1h0m-1-26h0m-3 21h0m-1-13h0m-4 0h0m0-2h0m0-8h0m-10 13h0m0-1h0m-8 5h0m-32-4h0m0-12h0m-8 2h0m-1 18h0m-6-11h0m-1 4h0m0 9h0m0-21h0m-1 0h0m0 0h0m-1 6h0m-1 9h0m-5-8h0m0-2h0m-4-4h0m-4 26h0m0-16h0m-1-10h0m-1 19h0m-2-14h0m0-2h0m-1 2h0m-1 2h0m0 3h0m0-12h0m-2 14h0m-9 9h0m-1 2h0m-2-24h0m-3 23h0m-2-22h0m-2 7h0m-1 1h0m-1-2h0m0 15h0m-1-11h0m-3-12h0m0 5h0m-6 0h0m-1 7h0m-1-2h0m-1-11h0m0 1h0m-2 1h0m-1 16h0m-1 4h0m-4-5h0m-1 12h0m0-28h0m0 11h0m-2-1h0m-1 4h0m0 13h0m0-14h0m-1-5h0m-2 15h0m-1 2h0m-2-18h0m-2 3h0m-1 1h0m-1-2h0m-3-3h0m-2 19h0m-3 2h0m0-22h0m0 16h0m-2-6h0m-3-12h0m0 2h0m-3 16h0m-1 5h0m-1-3h0m-3-12h0m-1 15h0m-3-2h0m-1-10h0m-1-5h0m-3 9h0m-4 3h0m-3 1h0m-1-2h0m-3 6h0m-2-23h0m0 24h0m-1-12h0m0-10h0m-1 18h0m0-21h0m-2 17h0m-1-17h0m-1 6h0m-2 6h0m0-10h0m-1 21h0m-2-12h0m-3 13h0m-8-2h0m-2 1h0m-3-2h0m-3-8h0m0-12h0m0 9h0m-3 10h0m0-19h0m-1 17h0m0-21h0m-1 24h0m-6 1h0m-5-7h0m0 6h0m-3-3h0m-1-14h0m0 8h0m-1-10h0m-4 2h0m-2-3h0m0 6h0m-1 6h0m-1-7h0m0 7h0m-1-9h0m-1 18h0m0-10h0m-1 11h0m-1-7h0m0-5h0m-3-4h0m-3-3h0m-2 9h0m-1 7h0m-1-16h0m-1 16h0m0-22h0m-4 18h0m-4 0h0m0 4h0m-2-16h0m-3 10h0m-2 0h0m0-12h0m-1-5h0m0 11h0m-5-7h0m-1 24h0m0-6h0m0-12h0m-3-4h0m0-1h0m0-1h0m-4 23h0m-1-6h0m-1-13h0m-2-4h0m-2 17h0m0 3h0m-1-11h0m-1 1h0m-6-14h0m-3 3h0m-5 20h0m-4-7h0m0 2h0m-1-15h0m-3 8h0m0 14h0m-2-17h0m-5 9h0m0-12h0m-2 5h0m0-9h0m0 0h0m-3 14h0m-1-13h0m-6 4h0m-1-4h0m-3 0h0m-4 17h0m-9-14h0m-5 15h0m0-8h0m0-2h0m-9 19h0m0-28h0m-4 15h0m-4-1h0m10 26h0m2 1h0m6-12h0m4 8h0m8-4h0m1 8h0m3-11h0m1 21h0m4 3h0m1-24h0m1 1h0m2 15h0m0 8h0m2-23h0m2 26h0m2-11h0m1 1h0m1-5h0m2 14h0m1-23h0m0 20h0m0-10h0m2-7h0m0 11h0m2-12h0m2 16h0m1-21h0m4 15h0m2-6h0m0 2h0m4-12h0m5 11h0m0 7h0m2-14h0m0 19h0m0 4h0m1-14h0m1-6h0m2 19h0m1-8h0m1-17h0m3 28h0m2-21h0m4 8h0m3-5h0m2 15h0m2 0h0m0 3h0m1-12h0m1 2h0m1-14h0m0 18h0m2-4h0m0 6h0m1-9h0m1 1h0m0-14h0m4 4h0m5 12h0m5-16h0m0 17h0m2-12h0m0 17h0m2-2h0m0-18h0m3 5h0m1-2h0m1 0h0m5 21h0m0-13h0m4 2h0m3 7h0m2-4h0m1-18h0m0-3h0m2 15h0m1 3h0m4-2h0m2-16h0m1 29h0m1-15h0m0-3h0m1-5h0m3 3h0m1 14h0m0 3h0m1-22h0m2 3h0m0-6h0m3 2h0m2 22h0m4-23h0m2 15h0m3 10h0m0-10h0m0 2h0m0-14h0m2 24h0m2-8h0m2-18h0m0 24h0m2-12h0m5 0h0m2-3h0m2 12h0m0-15h0m0-7h0m7 2h0m5 16h0m0 7h0m0 2h0m1-26h0m1 8h0m1 7h0m0 10h0m3-4h0m2-23h0m5 10h0m2 9h0m2 8h0m1-12h0m1 2h0m2 10h0m3 1h0m0-13h0m3 4h0m2 5h0m1 0h0m0-6h0m0 10h0m2-28h0m0 22h0m1 0h0m5 5h0m0-26h0m0 8h0m3 17h0m2-7h0m1 5h0m0-23h0m1 13h0m1 11h0m2-17h0m3 15h0m3-17h0m1 9h0m1 9h0m0-23h0m2 7h0m1 6h0m8 8h0m0-4h0m3-3h0m1 11h0m0-9h0m3-9h0m1 9h0m2-3h0m3 7h0m3-14h0m1 13h0m3-11h0m1-6h0m1 2h0m0 21h0m1-4h0m3-7h0m1 10h0m1 0h0m0-16h0m1-1h0m2 10h0m0-13h0m1 8h0m1 2h0m0-6h0m0 4h0m1-3h0m3-9h0m3 9h0m0-9h0m4-2h0m39 9h0m4 9h0m1 2h0m1 8h0m0-17h0m2 10h0m4 3h0m0-18h0m3 9h0m0 0h0m0-1h0m4-9h0m3 6h0m0-11h0m1 5h0m0 22h0m2-26h0m1 5h0m5-3h0m1 12h0m1 2h0m1-11h0m0 9h0m0-12h0m2 2h0m1 7h0m2 14h0m2-9h0m4-14h0m0 1h0m0 16h0m3-12h0m2-3h0m0 22h0m0-18h0m1 15h0m4-8h0m1-4h0m3-7h0m0 20h0m0-7h0m2-15h0m1 2h0m1 10h0m6-2h0m2-7h0m0 9h0m1 2h0m2-15h0m2 25h0m5-23h0m1 22h0m1-18h0m0-2h0m3-3h0m0 6h0m1 6h0m1 10h0m1-5h0m0-12h0m2 16h0m1-24h0m1 4h0m1-2h0m0 27h0m5-5h0m1-14h0m4 12h0m0-8h0m0-10h0m1 21h0m1-12h0m3-4h0m2 17h0m2-3h0m3-13h0m3 5h0m1-10h0m0 19h0m0-21h0m1 4h0m11-7h0m1 5h0m1 1h0m3 6h0m3 10h0m1-13h0m3 3h0m0 0h0m1-8h0m1 21h0m0-18h0m6 3h0m4 9h0m0-19h0m1 27h0m2 0h0m1-17h0m2 0h0m0 4h0m0 9h0m2-7h0m4-11h0m1 2h0m1 21h0m1-1h0m2-1h0m1-4h0m0 4h0m2-16h0m3 6h0m2-6h0m1 16h0m1-10h0m1 12h0m1 0h0m0-4h0m1-1h0m2-11h0m1-5h0m0 0h0m0-3h0m0 14h0m4-13h0m1-2h0m0 2h0m1 23h0m1-21h0m0 0h0m1 9h0m1-16h0m4 12h0m0 1h0m1-9h0m1 8h0m1 17h0m0-11h0m0 9h0m0-12h0m1-15h0m0 15h0m2 11h0m4-5h0m1-20h0m0 28h0m1-9h0m1 0h0m0-2h0m2 6h0m4-23h0m1 24h0m0-6h0m1 3h0m0-5h0m1-9h0m1-1h0m0 14h0m1-2h0m2-7h0m1 6h0m0-16h0m1 18h0m1 6h0m5-18h0m0 2h0m0-5h0m1 15h0m1-2h0m3 8h0m1-10h0m1-11h0m0 6h0m2 14h0m5-11h0m1-1h0m3 13h0m2 0h0m1-18h0m0 10h0m1-4h0m3 13h0m0-26h0m4 5h0m1 18h0m1-20h0m1 1h0m4-5h0m0 15h0m12-14h0m1 24h0m4-14h0m7 14h0m1-5h0m1-10h0m1-7h0m2 9h0m1 10h0m1-4h0m0 2h0m1-20h0m1 28h0m3-4h0m0-3h0m1 8h0m1-18h0m2-11h0m2 20h0m1-11h0m0-4h0m1 10h0m1 7h0m0-15h0m2 6h0m0-4h0m1 6h0m2 13h0m0-1h0m0-21h0m1 18h0m2-10h0m1-14h0m3 18h0m0-15h0m3 15h0m2 7h0m2-3h0m1 2h0m0-1h0m0 1h0m0-11h0m2 2h0m3 10h0m0-5h0m0-5h0m1 10h0m2 4h0m1-18h0m0 10h0m2-7h0m1 14h0m1-5h0m1 2h0m1-3h0m1-17h0m1 6h0m6-9h0m2 24h0m2-17h0m2 12h0m1-2h0m0-10h0m1 7h0m3 13h0m1-21h0m0 19h0m4-24h0m2 22h0m2 1h0m9 8h0m-4 9h0m-6-2h0m-2 7h0m0-6h0m-2-12h0m-1 27h0m-3-1h0m-3-26h0m-1 4h0m-1-1h0m-1-2h0m-3 10h0m-1 13h0m0-2h0m-1 5h0m-1-11h0m0 9h0m-1-4h0m-3-7h0m-5-9h0m-1 16h0m-1-14h0m-4-4h0m-1 15h0m-4-3h0m-1 13h0m-1-11h0m-1-17h0m-1 21h0m0-8h0m-2 16h0m-3 0h0m-7-21h0m0-3h0m-3 22h0m-1-15h0m-2 3h0m-1-8h0m-1 10h0m-3 12h0m-2-14h0m-5-9h0m-1 17h0m-5-15h0m-1 12h0m-3-4h0m-2 0h0m0-7h0m0 3h0m0 10h0m-1 7h0m-1-27h0m0 21h0m-2-22h0m-1 22h0m-1-16h0m-1 8h0m0-8h0m-1 11h0m-1 5h0m0 3h0m-1-18h0m-1 11h0m-3-1h0m0-5h0m-3-12h0m-7 5h0m-1-5h0m0 21h0m-1-6h0m0 11h0m-2-27h0m-2 22h0m-4 2h0m0 5h0m0-20h0m-1 9h0m-1 5h0m-2 2h0m-1-9h0m0 2h0m0-12h0m-4 8h0m-2-6h0m-3 5h0m-1-3h0m-2-2h0m0-4h0m-2-4h0m0 5h0m-1 0h0m-2 11h0m0-2h0m0 0h0m-1 10h0m-1-10h0m-6-1h0m-2 8h0m-2-6h0m-4-5h0m-1 1h0m-4 15h0m0-20h0m-2 10h0m-7-8h0m-2-6h0m0 7h0m-1-1h0m0-8h0m0 15h0m-2-2h0m0 13h0m-1-17h0m-1-8h0m-2 4h0m-1 9h0m-1-5h0m-1 13h0m0 3h0m-7-7h0m0 1h0m-2-8h0m0-9h0m0 18h0m0-15h0m-4-4h0m0 10h0m-1-7h0m-2 5h0m-1 3h0m-3-8h0m0-3h0m-2 0h0m-1 11h0m-3 14h0m0-11h0m-4-8h0m0 2h0m-2 13h0m-1-5h0m-2 3h0m-1-3h0m0 6h0m0-10h0m0-3h0m0 16h0m-1-20h0m0 12h0m-1-15h0m0 3h0m-1 0h0m0 8h0m-2 3h0m-1 8h0m-2-19h0m-3 1h0m0 5h0m-1-6h0m0 3h0m0 1h0m-1-1h0m-4 4h0m0 4h0m-1-16h0m-3 10h0m0-7h0m-1 7h0m-2 5h0m-2-2h0m-1 8h0m-4-16h0m0-4h0m-1 17h0m0 6h0m0 3h0m-1 1h0m0-20h0m-3 3h0m0 7h0m-3-3h0m-2-10h0m-3 13h0m0 0h0m-1-18h0m-3 2h0m-2 1h0m-4-2h0m0 9h0m-1 4h0m-5 3h0m0 11h0m-2-10h0m-1 10h0m0-12h0m-2 2h0m0-15h0m-3 16h0m-2-10h0m0 6h0m-1-6h0m-1-9h0m-4 1h0m-1 1h0m0 7h0m-1 16h0m-2-4h0m0 2h0m-2-9h0m-2 12h0m-4-27h0m-1 11h0m0 10h0m-2-20h0m-2 22h0m-1-16h0m-2 20h0m-1-11h0m-1 8h0m0-4h0m-1-12h0m-1 8h0m-1-10h0m0-6h0m-4 9h0m-2-8h0m0 24h0m0-16h0m-3 11h0m-3-15h0m-1 11h0m0-16h0m-1 1h0m-1 21h0m-2-16h0m-1 14h0m-4-10h0m-1 9h0m-8 10h0m-2-28h0m0 20h0m-1-2h0m-5 1h0m0-1h0m-1-3h0m-1-16h0m-4 17h0m-2 4h0m-2 2h0m0-16h0m-1 4h0m-2 14h0m-6-1h0m-1-5h0m0-10h0m-1 20h0m-1-13h0m-1 8h0m0-23h0m-1 21h0m-2-9h0m-1-4h0m-7 11h0m-34-7h0m-6-12h0m0 22h0m-3-6h0m-1-9h0m-2 8h0m-6-6h0m-1 12h0m0-16h0m0 16h0m-4-17h0m-1 4h0m-1-8h0m0 14h0m-1-11h0m-2 2h0m-2 23h0m-2-19h0m-1-6h0m0 15h0m-1 2h0m-1-4h0m0-6h0m-1-4h0m0-2h0m-1-1h0m-3 13h0m-2 7h0m0-12h0m-1-9h0m-2 4h0m-1-6h0m-1 21h0m-1-1h0m0-12h0m0 11h0m0-16h0m-1 12h0m-1 1h0m-4 11h0m-3-3h0m-1 2h0m0-5h0m-3-5h0m-1 12h0m0-25h0m-3 21h0m-1-25h0m-2 13h0m0 11h0m0-12h0m-8 2h0m0-2h0m-2-8h0m-2 6h0m0 1h0m-2 0h0m-2 6h0m-4 1h0m0-18h0m-1 19h0m-3-7h0m0-1h0m-1 6h0m0 7h0m0-1h0m-1 4h0m0-15h0m-4-7h0m0 16h0m-2-3h0m-1 5h0m-1-22h0m-2 19h0m-1-1h0m-5-11h0m0 8h0m-2-11h0m-4 11h0m0-1h0m0 14h0m-4-28h0m-2 23h0m-2-9h0m-2 12h0m-3-4h0m0-2h0m-1-8h0m-4-13h0m-1 3h0m-1 5h0m-1 16h0m0-20h0m-1 19h0m-2 3h0m-2-24h0m-1 3h0m-2-2h0m-2 2h0m-3 3h0m0 6h0m-1 2h0m-1 10h0m-2-9h0m-5-14h0m-1 6h0m-4-6h0m0 11h0m-7-1h0m-3 0h0m-6 9h0m-2 3h0m0-10h0m-1-13h0m0 24h0m-1-19h0m0-4h0m-1 15h0m-3-14h0m-3 9h0m-2-9h0m-5 6h0m-5 7h0m0-8h0m-3 15h0m-5-24h0m0 6h0m-4 5h0m-3 6h0m-1 5h0m0-5h0m0-13h0m-2 3h0m-2 3h0m-5 4h0m-2-12h0m-2 0h0m-1 6h0m-1-5h0m0 7h0m-1-10h0m-1 0h0m-1 9h0m-7-3h0m-1 3h0m-2-1h0m-1 9h0m-14-13h0m-4 24h0m138 2h0m9 0h0m9 6h0m1 1h0m5-5h0m8 7h0m13-2h0m7 0h0m13 4h0m21-10h0m1 7h0m2-2h0m4-1h0m1 14h0m3-18h0m9 0h0m2 1h0m59 16h0m3-11h0m0 10h0m3-9h0m2 20h0m0-13h0m1-12h0m1 8h0m0 6h0m1-3h0m1 3h0m2-17h0m0 1h0m1 13h0m1 2h0m4-3h0m1-10h0m7 18h0m0-18h0m0 22h0m1-4h0m1-19h0m1 15h0m0-12h0m1 24h0m5-22h0m3 6h0m1 9h0m1-16h0m2 20h0m2-24h0m1 22h0m3-24h0m1 14h0m0 15h0m0-19h0m1 6h0m1 2h0m3 5h0m1-5h0m3 0h0m1 9h0m0-12h0m1 10h0m1-25h0m3 8h0m1 6h0m3-2h0m1-12h0m1 7h0m1 4h0m0 0h0m1-6h0m1-5h0m1 12h0m4-11h0m2 19h0m6-15h0m1 10h0m0 11h0m3-17h0m0-1h0m0 15h0m3-15h0m3-2h0m3-4h0m2 9h0m0 6h0m1 1h0m1-2h0m1-9h0m1 21h0m0-5h0m3-16h0m0 0h0m2 5h0m1-10h0m1 20h0m1 3h0m2 4h0m1-2h0m1-12h0m1-4h0m1 4h0m1-14h0m0 6h0m2 17h0m1 4h0m2-16h0m0-8h0m2 23h0m2 2h0m0-4h0m1-2h0m2-14h0m1 5h0m2 0h0m1 6h0m1-10h0m1 4h0m0 15h0m1-17h0m1 17h0m3-4h0m1-23h0m1 16h0m1-15h0m0 21h0m1 3h0m1-23h0m0 24h0m0-7h0m1-8h0m3-4h0m1 18h0m3-6h0m2 2h0m1 3h0m1-23h0m1 2h0m0 12h0m11-14h0m3 8h0m4-10h0m3 4h0m2-3h0m2 11h0m1 1h0m3 1h0m1 1h0m0-2h0m1 13h0m1-9h0m1 7h0m0-1h0m1-7h0m1-11h0m0 9h0m1-9h0m3 14h0m1-8h0m1 11h0m1-23h0m1 18h0m0-2h0m2-14h0m2 13h0m0 9h0m1-8h0m1-12h0m3 12h0m1 2h0m2 0h0m2-6h0m1 15h0m2 2h0m3-12h0m0-13h0m1 23h0m8-23h0m1 17h0m1-9h0m0 0h0m0 4h0m2 5h0m1-5h0m6 2h0m0-5h0m2-5h0m1 9h0m1-6h0m2-6h0m2 7h0m0-12h0m0 11h0m2 9h0m2-1h0m0 1h0m0-9h0m1 16h0m0-23h0m2 5h0m3 3h0m0 9h0m4 5h0m2-16h0m1 7h0m2-12h0m1 0h0m1 17h0m4-19h0m1 24h0m0-6h0m2 7h0m2-2h0m3-1h0m1 3h0m1-19h0m4-6h0m1 4h0m4 0h0m1 14h0m2-7h0m0 13h0m1-4h0m1-11h0m0 5h0m0 2h0m1 3h0m1-12h0m0 16h0m4-14h0m1-5h0m2-1h0m0 10h0m1-8h0m1 17h0m0-4h0m1-1h0m1 7h0m1-9h0m0-8h0m6-8h0m0 24h0m1-11h0m1 14h0m0-15h0m1 7h0m0 1h0m4-1h0m2-9h0m2 11h0m1-12h0m1 12h0m1-17h0m1 4h0m4-8h0m5 17h0m1-12h0m1-4h0m0 21h0m0-12h0m1 3h0m1-8h0m1 19h0m3-3h0m0 2h0m2-5h0m1 6h0m2-19h0m0-5h0m2 4h0m3 22h0m1-16h0m2-2h0m2-7h0m1 25h0m1-10h0m1 1h0m2-6h0m0-2h0m1 1h0m1 12h0m1-18h0m0 1h0m2 13h0m1-1h0m3 9h0m1-26h0m10 18h0m1 19h0m-3 9h0m-4 8h0m-6 1h0m-2-24h0m-1 4h0m-6 7h0m0 13h0m-1-4h0m-1-2h0m-5-8h0m-1 14h0m0-17h0m-3 1h0m-1 17h0m-1-20h0m-1 20h0m-1-1h0m-1-8h0m-5-11h0m0-7h0m0 27h0m-1-9h0m-1-19h0m-1 8h0m-2 12h0m-1 3h0m-1 6h0m-2-15h0m-2 10h0m-4 0h0m-2-23h0m0 9h0m-1 0h0m-1-8h0m-1 23h0m-1-8h0m0 7h0m-4-18h0m-1 15h0m0 6h0m-1 2h0m-2-13h0m-1 12h0m-1-5h0m0-13h0m0 9h0m-2-2h0m0 11h0m-2-13h0m0 3h0m-1 9h0m0-24h0m-2 4h0m-1 2h0m-2 5h0m-1-11h0m0 19h0m-4-22h0m-1 16h0m-3-7h0m-1-4h0m-1-3h0m0 6h0m-1 8h0m0-6h0m-1 6h0m0-10h0m-1 23h0m-1-2h0m-2-8h0m-1-11h0m-2 2h0m0-4h0m0 13h0m-1-10h0m-5 4h0m-2 5h0m-1-1h0m-1-17h0m-2 10h0m0-5h0m-3 5h0m-4 19h0m-2-24h0m-1 6h0m-2 12h0m-1-4h0m-4 9h0m-1-25h0m0 19h0m-3-1h0m-1 5h0m-3-13h0m-1-10h0m0 15h0m-4-10h0m-3-3h0m-1 4h0m-1 20h0m-1-11h0m-1-16h0m0 15h0m-4 3h0m-2-20h0m-2 6h0m0 1h0m-1 9h0m-1-3h0m-2 9h0m0 4h0m-1-15h0m-1 14h0m0-4h0m-2 6h0m-1 1h0m-1-12h0m0-3h0m0-3h0m-2 10h0m-5 8h0m0-1h0m-1-7h0m-2 1h0m0 2h0m-4-15h0m-1 11h0m-2-19h0m-1 24h0m0-21h0m0 19h0m-3-11h0m-4 14h0m0-7h0m-4-6h0m-1-6h0m-2-6h0m-3 6h0m-2 23h0m-1-4h0m-1-25h0m-9 28h0m-2-8h0m0 9h0m0-22h0m0 5h0m0-4h0m-5 21h0m-1-7h0m-1 1h0m-1 3h0m0 3h0m-1-8h0m0-8h0m-3 9h0m-1-5h0m-1 0h0m0-7h0m-1 12h0m-1-12h0m-4 17h0m-4-16h0m0 18h0m-1-28h0m0 25h0m-1-14h0m-1 2h0m-1 0h0m-3 3h0m-1-11h0m-1 14h0m-1 1h0m0-6h0m0-8h0m-3-7h0m-6 25h0m-1 1h0m-2-16h0m0 17h0m-1 1h0m-3-4h0m-1-10h0m-1 7h0m-4 3h0m-2-7h0m-2 12h0m-2-9h0m0-18h0m-3 1h0m-1 17h0m0 9h0m-2-28h0m0 14h0m-1-13h0m-1 4h0m0 20h0m-4 3h0m0-28h0m0 7h0m-1-6h0m-6 1h0m0 23h0m-4-13h0m0 5h0m-1 3h0m-2-7h0m0 15h0m-1-14h0m-4 4h0m-1-17h0m-5 21h0m-5-6h0m-2 6h0m-2-5h0m0-1h0m-1-4h0m-1-3h0m-2-8h0m-1 3h0m0 10h0m-3-7h0m0 6h0m-1-5h0m-4 12h0m0-19h0m-2 17h0m-2-4h0m0-13h0m-1 10h0m0-11h0m-2 4h0m0 15h0m-2-1h0m-2-16h0m0 5h0m-2 13h0m-1 8h0m0-19h0m-3 7h0m-2-14h0m-19 3h0m-1-4h0m38 39h0m3-2h0m3 4h0m0-10h0m3 10h0m1-11h0m0 27h0m2-7h0m0-14h0m1 1h0m1-4h0m8-1h0m0-4h0m1 21h0m0 3h0m0-1h0m1-19h0m1 4h0m0 20h0m0-16h0m3 9h0m1-11h0m4 2h0m4 14h0m2-13h0m0 15h0m4-22h0m0 23h0m2-8h0m2 4h0m0-12h0m5-12h0m3 3h0m1 15h0m1 4h0m1-1h0m0 5h0m1-4h0m2 1h0m0-20h0m1-1h0m1 16h0m0 5h0m3 3h0m0-21h0m1 20h0m0-15h0m2 4h0m0 3h0m2-15h0m1 19h0m2-6h0m0-11h0m1 24h0m3-26h0m0 22h0m1-3h0m1-2h0m1-16h0m3 11h0m0 13h0m1-13h0m1 0h0m3 3h0m3 3h0m1-1h0m1-1h0m3-17h0m1 10h0m1-5h0m3 16h0m6-20h0m0 7h0m5-10h0m0 20h0m4 4h0m0-17h0m2 20h0m0 1h0m1-24h0m1 18h0m4-3h0m0 0h0m2-6h0m2 8h0m0-3h0m2-18h0m1 10h0m4 17h0m1-8h0m1-17h0m1 5h0m8 19h0m0-5h0m1-2h0m0-16h0m1-2h0m1 14h0m1-14h0m0 4h0m1 13h0m2-7h0m3-10h0m0 16h0m1-1h0m1 0h0m2-14h0m0 24h0m1-5h0m1 6h0m1-15h0m0-1h0m1-10h0m1 1h0m3 26h0m1-9h0m1-3h0m2 5h0m0-21h0m1 23h0m2-14h0m4-5h0m2 8h0m1 1h0m1 3h0m0 6h0m0 2h0m1-19h0m3 11h0m1 10h0m1-10h0m2 2h0m2 6h0m3-18h0m3 5h0m2 4h0m1-8h0m1 20h0m1-26h0m0 26h0m0-6h0m2 7h0m1-8h0m4-10h0m1 4h0m3-11h0m2 4h0m0 21h0m0-28h0m1 28h0m1 0h0m0-14h0m2-10h0m1 17h0m2 6h0m0-14h0m8-10h0m1 7h0m0 10h0m0-11h0m2 11h0m1-13h0m0 6h0m1 12h0m1-19h0m0-1h0m0 5h0m1-1h0m4 5h0m5 6h0m2-1h0m1 4h0m0-10h0m1-1h0m0-8h0m0 22h0m1 3h0m2 0h0m0-4h0m6-18h0m5 16h0m1-18h0m4 1h0m6 16h0m4-9h0m3 12h0m1-11h0m2 14h0m0-20h0m0 7h0m2 14h0m0-11h0m5-4h0m0 3h0m2-2h0m1 4h0m5-4h0m0 4h0m4-19h0m0 3h0m3 14h0m4-7h0m1-10h0m7 13h0m3-9h0m2 10h0m2-12h0m1 0h0m0-1h0m-12 36h0m-1 2h0m0-5h0m-3 13h0m-2-10h0m-1-7h0m-5 10h0m-4 18h0m0-14h0m-2 4h0m-6-3h0m-2-1h0m-1-11h0m-1 0h0m-2 22h0m-6-14h0m0-9h0m-2-1h0m-1 5h0m-2 5h0m0-1h0m-1 1h0m-2-10h0m-2 24h0m-2-4h0m-1-9h0m-1-5h0m-3 5h0m-2 14h0m-3-16h0m0 15h0m-2-5h0m-2 2h0m-1-2h0m-1-18h0m-1 24h0m0-8h0m-2-9h0m-1-9h0m0 3h0m-1 25h0m-2-25h0m0 22h0m-1-5h0m0-11h0m-11 13h0m-2-7h0m-1 3h0m0 5h0m-2-1h0m-4 0h0m-1 2h0m-2-8h0m0 11h0m-1-8h0m-1-8h0m0-4h0m-5 17h0m-2-3h0m-1-19h0m-2 12h0m0-7h0m-3-5h0m-4 1h0m-3 23h0m-1-21h0m0 14h0m-2-15h0m-2-4h0m0 28h0m0-27h0m-2 1h0m0 8h0m-1 6h0m-7 12h0m-2-6h0m-1-8h0m-4 13h0m-10-8h0m-1-4h0m0-5h0m-1-4h0m-1-1h0m0 3h0m0 4h0m-7-12h0m-7 10h0m-1-4h0m-1 23h0m-2-29h0m-2 3h0m-2-3h0m0 6h0m0 16h0m0-4h0m0-16h0m-4 11h0m-2 5h0m0-16h0m-1 4h0m-1 14h0m-5-4h0m-1 1h0m-1 6h0m-1-17h0m0 2h0m0 3h0m-1-3h0m-2 15h0m-2-22h0m-2 25h0m-2-13h0m-2 0h0m-1-3h0m0 15h0m0-24h0m-2 18h0m0-18h0m0 12h0m0 1h0m-1-14h0m-3 4h0m-1 21h0m-2-12h0m0-1h0m-2 0h0m-2-4h0m0-2h0m-5 23h0m0-22h0m-3-7h0m0 11h0m-1-1h0m-2-8h0m-4 16h0m0-12h0m-1 16h0m-4-3h0m-4-5h0m-1 11h0m0-11h0m-3-3h0m0 15h0m-1-17h0m0 16h0m0 1h0m-1-2h0m0-14h0m-1 7h0m0-14h0m-1 7h0m-1 11h0m-1-5h0m-6-10h0m-4 14h0m-1-4h0m-2-6h0m-1 3h0m0 4h0m-1 2h0m-2-19h0m-1 7h0m0-3h0m-1 3h0m0 10h0m-1 9h0m-2-12h0m-1 2h0m-1 13h0m-1-28h0m-1 18h0m-3-1h0m-1 7h0m0-6h0m-6-14h0m-1-3h0m-2 9h0m-7-7h0m-2-4h0m17 41h0m1-5h0m4 4h0m2 9h0m5-2h0m4-4h0m0-6h0m0-4h0m2 15h0m2-1h0m1-14h0m2 6h0m2 20h0m0-17h0m6-7h0m1 22h0m1-16h0m1 5h0m4 0h0m2 11h0m1-24h0m3 14h0m2-16h0m0 21h0m1-14h0m1-6h0m1 20h0m0-14h0m1 14h0m1-17h0m0 0h0m1 19h0m2-10h0m2 4h0m1-2h0m4-4h0m0 5h0m2-14h0m0 26h0m1-21h0m1-7h0m2 1h0m2 1h0m1 18h0m1 6h0m2-14h0m0-13h0m1 1h0m1 6h0m0-4h0m4 22h0m2-14h0m1-5h0m1 16h0m0 2h0m0-11h0m0-11h0m1 15h0m6-2h0m0-5h0m3-2h0m3-6h0m0 4h0m0 21h0m3-15h0m4-2h0m0 13h0m1-2h0m2-16h0m0 12h0m0-6h0m4-2h0m0 9h0m1 2h0m2-19h0m1 22h0m3-21h0m0 19h0m1-1h0m4-8h0m2-4h0m0 1h0m2 13h0m1-20h0m3 0h0m2-2h0m0 3h0m1 14h0m1-15h0m0 16h0m0-3h0m1 1h0m3-7h0m0 11h0m0-17h0m2 0h0m4 26h0m1-19h0m1 1h0m1 8h0m3-9h0m4-9h0m0 27h0m1-11h0m0 9h0m0 0h0m2-11h0m3-1h0m0 11h0m3-18h0m1-1h0m6 17h0m3 2h0m3-1h0m2-20h0m1 5h0m1-2h0m1-1h0m2-6h0m2 23h0m1 4h0m0-5h0m1-17h0m0 0h0m2 16h0m4-15h0m0 5h0m1 17h0m2-28h0m1 29h0m1-29h0m0 10h0m3-4h0m0-1h0m3 6h0m4 12h0m0-23h0m1 12h0m3-5h0m0 8h0m0 3h0m1-17h0m1 22h0m0-1h0m1-3h0m0-18h0m0 10h0m2 2h0m0 10h0m0-13h0m3 11h0m2-20h0m3 11h0m1 1h0m1 3h0m1-3h0m1-1h0m0-5h0m2 21h0m1-25h0m2 17h0m1-14h0m1 16h0m2 0h0m0-5h0m3-5h0m0-8h0m1 6h0m1 13h0m1-11h0m1 11h0m1 3h0m0-26h0m0 1h0m2 28h0m1-7h0m1-10h0m0 10h0m0 1h0m1-3h0m0-3h0m2-4h0m2-12h0m4 0h0m2 20h0m1-8h0m0-9h0m0-3h0m2 1h0m0 11h0m4-9h0m1 1h0m1 10h0m0-7h0m2 4h0m0-2h0m1 3h0m-10 21h0m-3 7h0m-1 2h0m0 11h0m-5-10h0m-4-6h0m-1 17h0m0-2h0m-4 2h0m-2-5h0m-4 3h0m0 5h0m0-11h0m-2-9h0m-3 7h0m-1-13h0m0 12h0m-1-5h0m-2 6h0m0 3h0m-1-10h0m-1 14h0m0-1h0m-1-19h0m-2-2h0m-4 13h0m-1-11h0m-1 12h0m0-9h0m-2 19h0m0-18h0m-1 14h0m0 9h0m0-10h0m-1-18h0m0 4h0m-3 1h0m0 16h0m-1-15h0m-1 9h0m-4 3h0m-4-19h0m-2 29h0m-3-6h0m0-16h0m0-7h0m0 27h0m-1-5h0m-1-17h0m0 9h0m-4-2h0m0-7h0m-1-2h0m-1 22h0m0-5h0m0 9h0m-3-29h0m-1 23h0m-4-10h0m0 4h0m-1-12h0m-4 7h0m0-9h0m-5 3h0m-3-3h0m-3 14h0m0-11h0m-1 12h0m-2 0h0m0-8h0m0 18h0m-1-25h0m0 9h0m-1 16h0m-1-12h0m0-13h0m-1 15h0m-2 4h0m-1-1h0m-1-12h0m0 8h0m0-15h0m-1-2h0m-1 21h0m-2 2h0m-1 5h0m-1-5h0m-3-22h0m-2 22h0m-1 1h0m-1-20h0m0 4h0m0 16h0m-1-7h0m-5-7h0m0 7h0m-1 4h0m0-2h0m0 8h0m-2-7h0m0 1h0m-2-6h0m-4-7h0m0 9h0m0 1h0m-1 0h0m-1-11h0m0-4h0m-1 21h0m-1 0h0m0-14h0m-1 4h0m0-6h0m-1 15h0m-1-19h0m-2 22h0m0 0h0m0-5h0m-3-8h0m-2 5h0m-2-1h0m0-11h0m-1 12h0m-3-16h0m-1 16h0m-2 3h0m-1-6h0m-2-12h0m0 23h0m-5-11h0m0 2h0m-1 0h0m-3-15h0m-1 0h0m-1 24h0m-1 0h0m-2-17h0m-2 15h0m-4-16h0m-2 15h0m-6-10h0m-1-13h0m-1 18h0m-4 11h0m0-22h0m-1 3h0m-1 17h0m-2-7h0m-2-18h0m0 19h0m0 1h0m0 2h0m0 4h0m-1-22h0m0 4h0m-3 10h0m-2-18h0m-3 6h0m0-5h0m-2 4h0m0 0h0m0-3h0m-1 17h0m-1-21h0m0 14h0m-1 11h0m-1 1h0m0-22h0m-2 7h0m-1 8h0m-2-9h0m-1-2h0m-4 13h0m0-8h0m-2 1h0m0-1h0m0 5h0m-1-8h0m0 6h0m-3-16h0m-2 15h0m0-4h0m-1 6h0m0 7h0m-1-10h0m-11 8h0m17 36h0m1-28h0m8 14h0m2 6h0m1 5h0m2-7h0m1-9h0m1 3h0m2-6h0m1 2h0m3-1h0m2 14h0m0-19h0m2 5h0m1 18h0m1-11h0m1-2h0m1 10h0m2 1h0m0 4h0m3-27h0m0 16h0m1 8h0m1-8h0m1 4h0m1 9h0m1-5h0m1-23h0m1 11h0m1-6h0m1-6h0m2 27h0m1-22h0m0 8h0m0-1h0m3-5h0m3 12h0m1-13h0m2 4h0m0 14h0m1-5h0m1 4h0m1-23h0m0 13h0m6 4h0m0-11h0m1 11h0m1-4h0m8-11h0m1 4h0m3-3h0m2 9h0m0-7h0m5 2h0m1 2h0m1 0h0m1 15h0m0-7h0m0-3h0m1 1h0m2 10h0m1-24h0m0 19h0m1 2h0m1-8h0m1-8h0m2 0h0m1-1h0m3 11h0m4-12h0m6 16h0m1-3h0m0 10h0m1-9h0m2 0h0m1-7h0m2-3h0m3 5h0m0-8h0m2 10h0m2 9h0m3 1h0m0-1h0m2-18h0m1 1h0m4 17h0m0-9h0m2 11h0m1-16h0m1 18h0m2-19h0m0 15h0m1-17h0m0 22h0m1-21h0m0 20h0m1-11h0m1-10h0m1 14h0m1-13h0m0-7h0m1 4h0m0-3h0m2 21h0m0-18h0m1 21h0m2-25h0m0 19h0m1 5h0m0-12h0m6 0h0m0 6h0m0-19h0m1 3h0m0 14h0m0-6h0m1-5h0m2 21h0m1-27h0m0 11h0m2-1h0m0 6h0m1-6h0m0 8h0m2-13h0m1 4h0m2 14h0m4-14h0m3 9h0m2 8h0m0-8h0m1-12h0m2 11h0m1-11h0m0 6h0m1-9h0m1-1h0m1 21h0m5-2h0m1 0h0m0-10h0m0 6h0m0-11h0m3 13h0m0-8h0m2-11h0m1 10h0m1-7h0m0 13h0m0-7h0m0-3h0m3 18h0m0-10h0m1-1h0m1-2h0m1 1h0m1-9h0m2-3h0m3 6h0m8 0h0m1-1h0m3 13h0m7-18h0m-9 42h0m-20-9h0m-1 6h0m-7 1h0m-1 8h0m-1-18h0m-1 3h0m0-1h0m-2 14h0m0-15h0m0 7h0m-3 20h0m-1-20h0m-2 2h0m-2 9h0m-1-12h0m-1 10h0m0-6h0m-1-10h0m-1 1h0m-1 11h0m0 9h0m-1-15h0m-2 14h0m-2-8h0m-3-4h0m-2 12h0m-1-18h0m0 24h0m0-9h0m-6 4h0m-1 6h0m-1-8h0m-1 1h0m-3-4h0m-5 6h0m-1-18h0m-1 22h0m0-16h0m-2-11h0m0 3h0m-4 11h0m0-6h0m-1 17h0m0-7h0m0 10h0m-2 0h0m-3-26h0m-1 17h0m-2-17h0m0 0h0m-3 12h0m-3-14h0m-1 12h0m0-12h0m-3 5h0m-1 17h0m0 6h0m0-13h0m-1 12h0m-1-21h0m-1 19h0m-2-17h0m0-6h0m0 3h0m-1 1h0m-1 10h0m0-1h0m-1 5h0m-2-15h0m0-3h0m0 3h0m-1 15h0m-2-15h0m0 9h0m-1 6h0m-1-9h0m-2 3h0m-4 1h0m0 10h0m0-5h0m-1-14h0m-1-5h0m-1 8h0m0 11h0m-1-13h0m0 11h0m-4 8h0m0-26h0m-1 23h0m-4 6h0m-1-13h0m-1-3h0m-2 9h0m-1-13h0m0 3h0m-1-12h0m0 5h0m-1-2h0m0 26h0m0-5h0m-1 4h0m-1-10h0m-2-17h0m-1 5h0m-3 14h0m0 9h0m-2-7h0m-1-14h0m-2-3h0m-2 14h0m-1-8h0m0 7h0m-2 8h0m-1-22h0m-1 8h0m0-10h0m-1 21h0m0-8h0m-2-7h0m-1-7h0m-2 19h0m-3 5h0m-2-18h0m-1 19h0m-1-3h0m0 5h0m0-12h0m0 12h0m-1-20h0m-3-3h0m-2 9h0m-2 9h0m0-20h0m-2 2h0m0 19h0m-1 0h0m0 1h0m-2-4h0m-4-9h0m-1 13h0m-1-4h0m0-12h0m-1-2h0m0 7h0m-1-5h0m0 3h0m-2-3h0m-3 8h0m0-3h0m-3 8h0m-2-12h0m-1-9h0m-3 16h0m-1 4h0m1 16h0m13 12h0m1-7h0m1-7h0m4 7h0m4-3h0m0-5h0m1 19h0m0-5h0m1 5h0m0-10h0m1-11h0m3 24h0m2-3h0m0-2h0m1 7h0m0-23h0m1 5h0m1 9h0m4-18h0m1 27h0m2-13h0m1 5h0m1 6h0m2 3h0m1-11h0m5-16h0m3 9h0m2 10h0m0 0h0m1 1h0m1-15h0m3 14h0m2-5h0m1-5h0m2-5h0m0 2h0m0 5h0m2-5h0m3 9h0m4 1h0m1 7h0m1-22h0m1 5h0m2 9h0m4-15h0m1-2h0m1 6h0m1 23h0m0-2h0m0-3h0m1-2h0m1-22h0m0 11h0m2 5h0m0 7h0m0-11h0m2-5h0m0 9h0m0 11h0m3 1h0m1-4h0m0 0h0m4-12h0m0-5h0m1 14h0m0-10h0m1 12h0m0 2h0m1-23h0m5 6h0m1-4h0m0 3h0m1-1h0m1 10h0m2-3h0m0-9h0m4 20h0m0-23h0m0 8h0m1-4h0m1 20h0m2-5h0m3-19h0m2-1h0m1 20h0m1 5h0m0 2h0m0-9h0m1 3h0m0-13h0m1 18h0m1-10h0m2-11h0m4 4h0m1 4h0m1 0h0m1-8h0m1 8h0m1 2h0m1-11h0m1 18h0m0-18h0m0-2h0m3 24h0m1-8h0m2-14h0m0 20h0m1-14h0m0-6h0m2 8h0m1 0h0m2 6h0m5-15h0m1 2h0m2 2h0m5 1h0m0-3h0m7-1h0m-33 29h0m-4 7h0m-6-3h0m0-1h0m-5 0h0m-2 6h0m-2-8h0m-1 6h0m-3 19h0m-1-19h0m-6-8h0m0 11h0m-2-8h0m0-4h0m-3 11h0m0 8h0m-1-14h0m0 0h0m-7 10h0m-2-12h0m-1 6h0m0-9h0m-3 22h0m-2-7h0m-4 4h0m0-11h0m-1 17h0m-1-12h0m0-9h0m-1-3h0m0 3h0m-2 7h0m-2 4h0m0-9h0m-1-7h0m0 24h0m-5 1h0m-1 0h0m-1-17h0m-1 16h0m-2 4h0m-5-13h0m-1 12h0m-6-8h0m0-17h0m-1-2h0m-1 7h0m-3 5h0m-3-3h0m-4-6h0m-2 15h0m-3-14h0m-2-4h0m-1 20h0m0-7h0m-1-8h0m-1 11h0m-1-6h0m-6 1h0m-1 2h0m-4-9h0m-11 7h0m20 19h0m3 2h0m6-2h0m5 6h0m1-6h0m3 14h0m1-12h0m14 14h0m3-14h0m7 0h0m3 6h0m1 0h0"/>
<path transform="scale(.1)" stroke="#fbc500" stroke-width="11" stroke-linecap="square" fill="none" d="M4950 196h0m37-13h0m10 10h0m3-12h0m47 15h0m18-1h0m36 1h0m163 12h0m136 29h0m-41-10h0m-10 0h0m-22-13h0m-2 4h0m-4 17h0m-9-22h0m-5 20h0m-26-21h0m-3 9h0m0 8h0m-4-9h0m-2 12h0m-1-1h0m-16-6h0m-27 6h0m-1 1h0m-81-4h0m-15 1h0m-12-7h0m-15 7h0m-9-1h0m-7-8h0m-14 10h0m-4 4h0m-69-5h0m-3-10h0m-19 4h0m-9 14h0m-16-24h0m12 42h0m9-14h0m2 17h0m3 5h0m20 5h0m1 0h0m14-15h0m7 16h0m27-6h0m6-1h0m3-12h0m44 6h0m7-10h0m41 6h0m63 17h0m5-5h0m3-10h0m7-5h0m8 17h0m3-8h0m0-8h0m0-6h0m22 21h0m5-25h0m12 17h0m20-11h0m2-2h0m12 14h0m0 4h0m13-11h0m1 14h0m20-8h0m0-10h0m9-6h0m1 6h0m15 17h0m9 4h0m2-26h0m1 7h0m30 12h0m18 6h0m-30 11h0m-26 6h0m-6-11h0m-2 23h0m-2-21h0m-3 6h0m-5 15h0m-5-22h0m-14 2h0m-7-2h0m-11 16h0m-30-13h0m-19-5h0m-5 19h0m-5-7h0m-16-5h0m-15-8h0m-8-1h0m-6 18h0m-1-1h0m-9-7h0m-2 14h0m-5-10h0m-2 7h0m-61-21h0m-53 1h0m-20 2h0m-2-3h0m-44 22h0m-3 2h0m-5 1h0m-23-18h0m-160 15h0m-30 34h0m1-25h0m18 13h0m8-14h0m3 26h0m6-2h0m1-7h0m26-17h0m13 29h0m2-11h0m147-7h0m29 9h0m8-12h0m29-7h0m109 21h0m0-2h0m7-9h0m1 8h0m13-15h0m7 1h0m0 20h0m12-8h0m3-16h0m3 23h0m22-7h0m3-9h0m25 8h0m35-15h0m4-1h0m1 23h0m1-8h0m4 14h0m1-4h0m17-6h0m2-1h0m1 3h0m4-18h0m3 17h0m2-18h0m4 16h0m1 7h0m2-23h0m12 27h0m13-14h0m17 3h0m8 7h0m3-16h0m1 17h0m6-10h0m11 5h0m11 28h0m-38 7h0m-3-18h0m-1-2h0m-2 10h0m-19 2h0m-1-5h0m-35 3h0m-1 1h0m-17 5h0m-4-13h0m-10 12h0m-13 6h0m0-24h0m-20 10h0m-17-7h0m-7 19h0m-1-10h0m-16 0h0m-18-12h0m-2 16h0m-9 1h0m-10-2h0m-1 9h0m-9-4h0m-2-16h0m-15 7h0m-53-13h0m-99 7h0m-118 2h0m-21 13h0m0-1h0m-53 4h0m-3-13h0m23 22h0m23-1h0m102-1h0m56 20h0m15-21h0m29 7h0m20 7h0m36 0h0m33 12h0m4-7h0m16-9h0m6-4h0m5 16h0m2-16h0m19 5h0m25 3h0m10-5h0m5-10h0m15 6h0m8 1h0m2 8h0m24 5h0m15-9h0m0 3h0m2-7h0m3-8h0m27 2h0m1 21h0m11-9h0m7-7h0m20 12h0m4-16h0m1 19h0m5-19h0m10 24h0m1-24h0m12 8h0m0-9h0m3 12h0m23 13h0m5-20h0m-27 39h0m-1 7h0m-1-20h0m-3 9h0m-13-12h0m-6 2h0m-2 21h0m0 6h0m-7-19h0m-9 1h0m-4-6h0m-3 10h0m-5-3h0m-18 5h0m-4 12h0m-3-16h0m0 1h0m-1 8h0m-4-1h0m-13-17h0m-20-3h0m-11 5h0m-5-2h0m-1 0h0m-14 23h0m-10 2h0m-1-7h0m-7-10h0m-8 2h0m-2 4h0m-9 8h0m-1 0h0m-13-8h0m-8-12h0m-2 19h0m0-6h0m-6-13h0m-5 6h0m-12-6h0m-7 0h0m-7 1h0m-6-2h0m-1 14h0m-1-17h0m0 2h0m-3-3h0m-3 0h0m-41 7h0m-9 21h0m-9-26h0m-56 18h0m-66-11h0m-11-9h0m-7 30h0m60 7h0m72 20h0m22-28h0m21 25h0m18-5h0m3 3h0m13-13h0m18 8h0m8-2h0m1 12h0m2-17h0m13-7h0m3 19h0m5 2h0m3-20h0m0 5h0m2-6h0m7 12h0m6 6h0m26 5h0m1-7h0m3-10h0m5 18h0m1-12h0m15-11h0m2 22h0m4-19h0m13 0h0m3 14h0m1 3h0m1-2h0m8 3h0m9-22h0m25 15h0m8-11h0m0 2h0m0-2h0m13 17h0m13-24h0m17 14h0m1-5h0m8-9h0m2 1h0m-56 33h0m-8 24h0m-23-4h0m-7-24h0m-3 14h0m-3 7h0m-2-7h0m-8 7h0m-17 1h0m-22-11h0m-3-12h0m-20 2h0m-8 8h0m-1 11h0m0-18h0m-8 0h0m0 2h0m-24 22h0m-6-4h0m-10-4h0m-7-12h0m-12 17h0m-7 0h0m-12-6h0m-2 9h0m-6-3h0m-168 24h0m97-5h0m40 3h0m21 3h0m18-11h0m27 20h0m5-22h0m2 0h0m4 5h0m9 12h0m17-23h0m7 20h0m2 7h0m37-11h0m17-16h0m8 5h0m5 14h0m10 3h0m7-6h0m10-4h0m10-2h0m5 19h0m37-24h0m6 4h0m3 20h0m8-18h0m27-7h0m13 8h0m-76 22h0m-3 8h0m-9 5h0m-20-11h0m-6 15h0m-67-8h0m0 15h0m-14-6h0m-1-9h0m-2 6h0m-10-18h0m-2 17h0m-2-5h0m0-6h0m-5 15h0m-7-19h0m-22-3h0m-6 13h0m-2-8h0m-18 24h0m-5-6h0m-11-3h0m-10-12h0m-135 25h0m1 11h0m4-10h0m136 10h0m44 1h0m20 3h0m53-17h0m39 3h0m10 13h0m54 6h0m25-7h0m12 2h0m21-15h0m1-1h0m16 9h0m-17 33h0m-6-3h0m-4 15h0m-6-4h0m-3 0h0m-70-11h0m-12-3h0m-8 17h0m-9-23h0m-16 9h0m-4 4h0m-2-13h0m-44 4h0m-36 21h0m-6 0h0m-1-10h0m-27 10h0m-17-6h0m-3-4h0m-1 10h0m-26-26h0m-92 11h0m59 29h0m15-1h0m47 0h0m1-2h0m11 8h0m36 3h0m5-3h0m1-16h0m2 9h0m12 0h0m0 10h0m42 3h0m5 3h0m6-6h0m11-9h0m28 6h0m4 6h0m37-3h0m7-14h0m4-2h0m20 4h0m24-4h0m30 7h0m5 4h0m-6 26h0m0 3h0m-1-8h0m-6 1h0m-18 20h0m-9-25h0m-23 8h0m-35 17h0m-5-9h0m-12 8h0m-4-11h0m-46-11h0m-10 26h0m-1-25h0m-10 3h0m-6 14h0m-10 6h0m-5-3h0m-24-23h0m-16 10h0m-3-5h0m-14 17h0m-18 3h0m-39-5h0m-16-16h0m-2 6h0m-30 2h0m-48-10h0m-26 19h0m83 8h0m54 27h0m10-24h0m5 21h0m13-2h0m33-10h0m7 0h0m8-2h0m10 0h0m6 7h0m26-14h0m10 9h0m17-11h0m20 25h0m2-21h0m23 19h0m18-23h0m93 47h0m-16 6h0m-2-8h0m-39 11h0m-1-15h0m-33 3h0m-4 4h0m-61-9h0m-5-4h0m-19 8h0m-9 4h0m-19-3h0m-49 1h0m-43-1h0m-7 6h0m-2-17h0m-2 19h0m-6-15h0m-15 8h0m-5 4h0m-21-1h0m-20-10h0m1 32h0m31 11h0m64-6h0m13 11h0m9-23h0m2 23h0m9-7h0m12 1h0m11 5h0m1-23h0m12 0h0m53 24h0m22-10h0m12-8h0m18-6h0m19 4h0m3 7h0m2 3h0m55 9h0m14 25h0m-44-15h0m-4 10h0m-18 0h0m-4-11h0m-11 4h0m-9-9h0m-32 8h0m-7-6h0m-43 16h0m-24-7h0m-17-1h0m-18-3h0m-4-5h0m-9 26h0m-21-27h0m-20 28h0m-20-12h0m-4-15h0m-11 17h0m15 16h0m11 7h0m20 9h0m35-1h0m18-8h0m1-5h0m59 9h0m16 7h0m31-2h0m13-14h0m2 21h0m48-23h0m-47 32h0m-5 17h0m-18-20h0m-4-2h0m-19 9h0m-24-5h0m-11 7h0m-12-5h0m-23 4h0m-7 17h0m-27-25h0m0 37h0m13-10h0m28 0h0m49 11h0m15-3h0m22 16h0m109-20h0m4 8h0m-56 41h0m-26-12h0m-51 5h0m-10-2h0m-66 12h0m-38-3h0m47 18h0m52 10h0m67-22h0m34 30h0m-61 2h0m-7 10h0m-95 0h0m-4 0h0m9 22h0m16 24h0m75 15h0m-49 14h0m15 8h0"/>
<path transform="scale(.1)" stroke="#f6a90c" stroke-width="11" stroke-linecap="square" fill="none" d="M5027 174h0m-19 26h0m70-9h0m17 10h0m258 38h0m-4-12h0m-4-4h0m-26 11h0m-5-21h0m-22 4h0m-49 16h0m-125 2h0m-17-7h0m-41-18h0m-27 28h0m-5-2h0m-25 0h0m-76-23h0m79 39h0m45 8h0m9-13h0m11 8h0m6-9h0m113 2h0m21 9h0m3 5h0m11 5h0m23-26h0m25 23h0m1-15h0m13 9h0m15 6h0m34-17h0m5 11h0m11 0h0m7 9h0m2-9h0m13-12h0m5 11h0m10-14h0m4 14h0m29 8h0m24 34h0m-44-1h0m-7-18h0m-9-9h0m-9 5h0m-5-2h0m-3 19h0m-18-17h0m-41 12h0m-27-16h0m-20 11h0m-4-2h0m-8-1h0m-49-9h0m-98 5h0m-23 17h0m-12-16h0m-276 46h0m65 6h0m28-24h0m313-2h0m6 11h0m2 14h0m38-19h0m3 1h0m11 15h0m2-5h0m1-19h0m9 6h0m3 16h0m9 2h0m67 3h0m95-4h0m-9 12h0m-4 10h0m-18 7h0m-13 6h0m-2-18h0m-25 6h0m-19 8h0m-4-18h0m-27-1h0m-8-3h0m-3 26h0m-24-26h0m-5 17h0m-4 8h0m-19-12h0m-25 6h0m-39-17h0m-45 20h0m-253-21h0m-83 5h0m42 31h0m183 11h0m26 2h0m117-12h0m7 8h0m20 9h0m10-13h0m2 1h0m20 6h0m6-2h0m15-14h0m3 6h0m69-7h0m2 7h0m25 14h0m29-6h0m26-14h0m7 18h0m-5 13h0m-11 0h0m-11 20h0m-16-8h0m-22-8h0m-4-7h0m-14 23h0m-14-4h0m-20-1h0m-17-2h0m-26 3h0m-7-15h0m-1 7h0m-1-9h0m-6 19h0m-10-6h0m-3 2h0m-2-12h0m-13 19h0m-1-20h0m-7-4h0m-8 13h0m-2-17h0m-4 21h0m-3-14h0m-12 9h0m-173 14h0m15 26h0m7 0h0m9-24h0m31 22h0m100-15h0m14-9h0m11 27h0m3-9h0m7 4h0m2-17h0m78 23h0m10-8h0m28-13h0m21 20h0m19-10h0m12-13h0m14 21h0m20-4h0m5 2h0m15-18h0m-39 46h0m-12 4h0m-30-15h0m-4-9h0m-20 13h0m-7-14h0m-4 15h0m-73-5h0m-1 15h0m-11-12h0m-19 6h0m-5-12h0m-37 5h0m-6 8h0m-1 0h0m-1-17h0m-40 6h0m-111 36h0m158-13h0m10 17h0m19 5h0m3-17h0m12 15h0m48-18h0m4 7h0m6-2h0m7-5h0m6 16h0m2-3h0m1-10h0m21 22h0m3-28h0m25 9h0m83 1h0m20 34h0m-29-1h0m-33-9h0m-9 17h0m-74-14h0m-16 21h0m-16-8h0m-3-11h0m-8 18h0m-61-24h0m-11-2h0m-9 6h0m-15 20h0m-37 23h0m27-10h0m6 0h0m37 18h0m26-20h0m21 9h0m0-11h0m45 11h0m57-1h0m9 7h0m4-16h0m77 5h0m-15 42h0m-17-5h0m-5 2h0m-6-7h0m-9 4h0m-15 5h0m-10-2h0m-2 0h0m-19-7h0m-19 13h0m-20-25h0m-34 16h0m-15-8h0m-25 16h0m-70-6h0m-42-13h0m-64 4h0m-32-4h0m92 48h0m21-1h0m3-5h0m22-19h0m14 7h0m16-1h0m32-1h0m4 9h0m6 4h0m3-5h0m73-5h0m18-3h0m15 8h0m52-4h0m1-10h0m43 13h0m22-10h0m0 9h0m-18 42h0m-14 1h0m-24 2h0m-49 1h0m-10-5h0m-21-23h0m-19 0h0m-18 6h0m-32 0h0m-38 5h0m-29-4h0m-7 1h0m-54 4h0m-40 5h0m58 28h0m6-2h0m2-7h0m103 20h0m15-22h0m17-4h0m25 26h0m34-20h0m32 14h0m6-2h0m20 6h0m6-21h0m39 27h0m-79 1h0m-107 10h0m-40 6h0m-74-16h0m-27 5h0m-41 41h0m19 4h0m3-7h0m15 10h0m5-8h0m21-5h0m3 1h0m61 2h0m8 11h0m1-23h0m59-2h0m21 4h0m67-1h0m1 4h0m82 5h0m-2 45h0m-75-11h0m-138 1h0m-112-5h0m4 29h0m6-8h0m33 10h0m22-9h0m70-4h0m6 14h0m65 1h0m5 13h0m110 11h0m-85 9h0m-11-7h0m-83-9h0m-55 17h0m-14-3h0m-6 26h0m24 10h0m41 1h0m3-15h0m39-8h0m6 3h0m130 1h0m-36 35h0m-70 1h0m-8-1h0m-37 17h0m3 28h0m114-15h0m-141 33h0m-11 80h0"/>
<path transform="scale(.1)" stroke="#ee8a1a" stroke-width="11" stroke-linecap="square" fill="none" d="M5018 200h0m20-1h0m73 3h0m146 14h0m-146 7h0m-121 36h0m45-16h0m70 23h0m95-19h0m210 13h0m3 39h0m-12-21h0m-14 13h0m-66-16h0m-62 20h0m-28-11h0m-142 11h0m-10-15h0m-13-1h0m-235 49h0m6-27h0m34 27h0m23-13h0m410 11h0m31-26h0m7 24h0m51-16h0m-149 44h0m-58 7h0m-357-12h0m390 41h0m150-7h0m33 0h0m-190 67h0m20-20h0m107-1h0m79 30h0m-167 13h0m-118 30h0m150-5h0m18-11h0m20 12h0m66-12h0m39 27h0m-38 28h0m-11-14h0m-61 7h0m-27 3h0m-54 4h0m-45-15h0m-160-11h0m-22 10h0m145 17h0m86 23h0m20-10h0m122-11h0m-29 44h0m-165 33h0m202 2h0m57-19h0m8 12h0m-263 17h0m-30 27h0m-38 18h0m147-3h0m119 5h0m-63 30h0m-217 22h0m38 16h0m-14 38h0m166 12h0m77 26h0m-185 98h0"/>
<path transform="scale(.1)" stroke="#ec7a2a" stroke-width="11" stroke-linecap="square" fill="none" d="M4924 418h0m-136 64h0m115 48h0m-24 0h0m-182-8h0m147 22h0m3 6h0m103-7h0m-125 38h0m10 34h0m46 4h0m122 12h0m-101 3h0m-49 17h0m-41-21h0m-13 27h0m-30-16h0m81 37h0m163 35h0m-230-23h0m-8 6h0"/>
<path transform="scale(.1)" stroke="#f3a23a" stroke-width="11" stroke-linecap="square" fill="none" d="M4854 432h0m87-9h0m-241 69h0m81 0h0m217 31h0m-79 3h0m-179 20h0m205 16h0m-17 29h0m-21-7h0m-52 0h0m-82 4h0m-48-11h0m-32-2h0m-5-3h0m46 31h0m132 22h0m97-25h0m-230 63h0m21 14h0m60 6h0m61-16h0m111 42h0"/>
<text x="510.00" y="11.17" font-size="8.3" text-anchor="middle" font-style="italic">PTGER4</text>
<line x1="460.00" y1="11.20" x2="460.00" y2="107.50" stroke="#222" stroke-width="0.7"/>
<line x1="460.00" y1="107.50" x2="551.20" y2="107.50" stroke="#222" stroke-width="0.7"/>
<line x1="458.00" y1="15.70" x2="460.00" y2="15.70" stroke="#222" stroke-width="0.7"/>
<text x="456.70" y="18.35" font-size="7.4" text-anchor="end" fill="#1a1a1a">10</text>
<line x1="458.00" y1="36.70" x2="460.00" y2="36.70" stroke="#222" stroke-width="0.7"/>
<text x="456.70" y="39.35" font-size="7.4" text-anchor="end" fill="#1a1a1a">5</text>
<line x1="458.00" y1="57.50" x2="460.00" y2="57.50" stroke="#222" stroke-width="0.7"/>
<text x="456.70" y="60.15" font-size="7.4" text-anchor="end" fill="#1a1a1a">0</text>
<line x1="458.00" y1="78.20" x2="460.00" y2="78.20" stroke="#222" stroke-width="0.7"/>
<text x="456.70" y="80.85" font-size="7.4" text-anchor="end" fill="#1a1a1a">−5</text>
<line x1="458.00" y1="99.20" x2="460.00" y2="99.20" stroke="#222" stroke-width="0.7"/>
<text x="456.70" y="101.85" font-size="7.4" text-anchor="end" fill="#1a1a1a">−10</text>
<line x1="476.20" y1="107.50" x2="476.20" y2="109.50" stroke="#222" stroke-width="0.7"/>
<text x="476.20" y="116.55" font-size="7.4" text-anchor="middle" fill="#1a1a1a">−10</text>
<line x1="495.85" y1="107.50" x2="495.85" y2="109.50" stroke="#222" stroke-width="0.7"/>
<text x="495.85" y="116.55" font-size="7.4" text-anchor="middle" fill="#1a1a1a">−5</text>
<line x1="515.50" y1="107.50" x2="515.50" y2="109.50" stroke="#222" stroke-width="0.7"/>
<text x="515.50" y="116.55" font-size="7.4" text-anchor="middle" fill="#1a1a1a">0</text>
<line x1="535.15" y1="107.50" x2="535.15" y2="109.50" stroke="#222" stroke-width="0.7"/>
<text x="535.15" y="116.55" font-size="7.4" text-anchor="middle" fill="#1a1a1a">5</text>
<text x="390.00" y="125.47" font-size="8.3" text-anchor="middle" fill="#111">UMAP_1</text>
<text x="0" y="2.97" font-size="8.3" text-anchor="middle" fill="#111" transform="translate(327.00,60.20) rotate(-90)">UMAP_2</text>
<text x="505.00" y="125.47" font-size="8.3" text-anchor="middle" fill="#111">UMAP_1</text>
<text x="0" y="2.97" font-size="8.3" text-anchor="middle" fill="#111" transform="translate(443.70,60.20) rotate(-90)">UMAP_2</text>
<defs><linearGradient id="ptg" x1="0" y1="1" x2="0" y2="0"><stop offset="0" stop-color="#d9d9d9"/><stop offset="0.15" stop-color="#f5d04a"/><stop offset="0.4" stop-color="#f8c000"/><stop offset="0.7" stop-color="#f08c10"/><stop offset="1" stop-color="#d02a10"/></linearGradient></defs>
<rect x="567.5" y="35" width="5.5" height="57.5" rx="2.7" fill="url(#ptg)"/>
<text x="575.00" y="39.64" font-size="8.2" fill="#111">High</text>
<text x="577.50" y="97.14" font-size="8.2" fill="#111">Low</text>
<text x="0" y="2.94" font-size="8.2" text-anchor="middle" fill="#111" transform="translate(560.00,63.00) rotate(-90)">Normalized expression</text>
<text x="395.70" y="140.94" font-size="8.2" text-anchor="end" fill="#111">TAN−PMN</text>
<line x1="397.00" y1="138.00" x2="400.50" y2="138.00" stroke="#000" stroke-width="0.5"/>
<circle cx="408.20" cy="138.00" r="3.10" fill="#0c2a5c"/>
<circle cx="421.65" cy="138.00" r="5.00" fill="#52b98c" stroke="#222" stroke-width="0.6"/>
<circle cx="435.10" cy="138.00" r="3.10" fill="#0c2a5c"/>
<circle cx="448.55" cy="138.00" r="3.10" fill="#0c2a5c"/>
<circle cx="462.00" cy="138.00" r="3.10" fill="#0c2a5c"/>
<circle cx="475.45" cy="138.00" r="3.10" fill="#0c2a5c"/>
<text x="395.70" y="155.44" font-size="8.2" text-anchor="end" fill="#111">TIM_VCAN</text>
<line x1="397.00" y1="152.50" x2="400.50" y2="152.50" stroke="#000" stroke-width="0.5"/>
<circle cx="408.20" cy="152.50" r="4.10" fill="#2255c8"/>
<circle cx="421.65" cy="152.50" r="6.20" fill="#f26a1c" stroke="#222" stroke-width="0.6"/>
<circle cx="435.10" cy="152.50" r="3.10" fill="#0c2a5c"/>
<circle cx="448.55" cy="152.50" r="4.00" fill="#2255c8"/>
<circle cx="462.00" cy="152.50" r="3.10" fill="#0c2a5c"/>
<circle cx="475.45" cy="152.50" r="5.50" fill="#f6d430" stroke="#222" stroke-width="0.6"/>
<text x="395.70" y="169.94" font-size="8.2" text-anchor="end" fill="#111">TIM_C1QA</text>
<line x1="397.00" y1="167.00" x2="400.50" y2="167.00" stroke="#000" stroke-width="0.5"/>
<circle cx="408.20" cy="167.00" r="5.50" fill="#f6d430" stroke="#222" stroke-width="0.6"/>
<circle cx="421.65" cy="167.00" r="5.50" fill="#f6d430" stroke="#222" stroke-width="0.6"/>
<circle cx="435.10" cy="167.00" r="3.10" fill="#0c2a5c"/>
<circle cx="448.55" cy="167.00" r="3.10" fill="#0c2a5c"/>
<circle cx="462.00" cy="167.00" r="3.10" fill="#0c2a5c"/>
<circle cx="475.45" cy="167.00" r="7.00" fill="#b31e1e" stroke="#222" stroke-width="0.6"/>
<text x="395.70" y="184.44" font-size="8.2" text-anchor="end" fill="#111">TIM_C1QA_Dividing</text>
<line x1="397.00" y1="181.50" x2="400.50" y2="181.50" stroke="#000" stroke-width="0.5"/>
<circle cx="408.20" cy="181.50" r="5.60" fill="#f6d430" stroke="#222" stroke-width="0.6"/>
<circle cx="421.65" cy="181.50" r="5.50" fill="#f6d430" stroke="#222" stroke-width="0.6"/>
<circle cx="435.10" cy="181.50" r="3.10" fill="#0c2a5c"/>
<circle cx="448.55" cy="181.50" r="3.10" fill="#0c2a5c"/>
<circle cx="462.00" cy="181.50" r="3.10" fill="#0c2a5c"/>
<circle cx="475.45" cy="181.50" r="6.20" fill="#f26a1c" stroke="#222" stroke-width="0.6"/>
<line x1="400.50" y1="129.50" x2="400.50" y2="190.70" stroke="#222" stroke-width="0.7"/>
<line x1="400.50" y1="190.70" x2="482.50" y2="190.70" stroke="#222" stroke-width="0.7"/>
<line x1="408.20" y1="190.70" x2="408.20" y2="192.50" stroke="#000" stroke-width="0.5"/>
<text x="0" y="2.94" font-size="8.2" text-anchor="end" fill="#111" font-style="italic" transform="translate(408.20,195.00) rotate(-90)">PTGS1</text>
<line x1="421.65" y1="190.70" x2="421.65" y2="192.50" stroke="#000" stroke-width="0.5"/>
<text x="0" y="2.94" font-size="8.2" text-anchor="end" fill="#111" font-style="italic" transform="translate(421.65,195.00) rotate(-90)">PTGS2</text>
<line x1="435.10" y1="190.70" x2="435.10" y2="192.50" stroke="#000" stroke-width="0.5"/>
<text x="0" y="2.94" font-size="8.2" text-anchor="end" fill="#111" font-style="italic" transform="translate(435.10,195.00) rotate(-90)">PTGER1</text>
<line x1="448.55" y1="190.70" x2="448.55" y2="192.50" stroke="#000" stroke-width="0.5"/>
<text x="0" y="2.94" font-size="8.2" text-anchor="end" fill="#111" font-style="italic" transform="translate(448.55,195.00) rotate(-90)">PTGER2</text>
<line x1="462.00" y1="190.70" x2="462.00" y2="192.50" stroke="#000" stroke-width="0.5"/>
<text x="0" y="2.94" font-size="8.2" text-anchor="end" fill="#111" font-style="italic" transform="translate(462.00,195.00) rotate(-90)">PTGER3</text>
<line x1="475.45" y1="190.70" x2="475.45" y2="192.50" stroke="#000" stroke-width="0.5"/>
<text x="0" y="2.94" font-size="8.2" text-anchor="end" fill="#111" font-style="italic" transform="translate(475.45,195.00) rotate(-90)">PTGER4</text>
<text x="503.70" y="147.94" font-size="8.2" fill="#111">Percent expressed cells</text>
<circle cx="500.70" cy="158.70" r="3.10" fill="#0c2a5c"/>
<text x="510.00" y="161.64" font-size="8.2" fill="#111">&lt;10%</text>
<circle cx="500.70" cy="176.20" r="4.10" fill="#2255c8"/>
<text x="510.00" y="179.14" font-size="8.2" fill="#111">20−30%</text>
<circle cx="500.70" cy="194.20" r="5.00" fill="#52b98c" stroke="#222" stroke-width="0.6"/>
<text x="510.00" y="197.14" font-size="8.2" fill="#111">30−40%</text>
<circle cx="553.70" cy="158.70" r="5.50" fill="#f6d430" stroke="#222" stroke-width="0.6"/>
<text x="565.00" y="161.64" font-size="8.2" fill="#111">40−50%</text>
<circle cx="553.70" cy="176.20" r="6.20" fill="#f26a1c" stroke="#222" stroke-width="0.6"/>
<text x="565.00" y="179.14" font-size="8.2" fill="#111">50−60%</text>
<circle cx="553.70" cy="194.20" r="7.00" fill="#b31e1e" stroke="#222" stroke-width="0.6"/>
<text x="565.00" y="197.14" font-size="8.2" fill="#111">60-70%</text>
<text x="599.50" y="8.06" font-size="10.5" font-weight="bold">c</text>
<text x="654.00" y="23.74" font-size="8.2" text-anchor="middle" font-style="italic">PTGER4</text>
<line x1="629.50" y1="28.30" x2="629.50" y2="144.60" stroke="#222" stroke-width="0.7"/>
<line x1="629.50" y1="144.60" x2="682.00" y2="144.60" stroke="#222" stroke-width="0.7"/>
<line x1="627.50" y1="54.50" x2="629.50" y2="54.50" stroke="#222" stroke-width="0.7"/>
<text x="625.80" y="57.47" font-size="8.3" text-anchor="end" fill="#1a1a1a">3</text>
<line x1="627.50" y1="82.80" x2="629.50" y2="82.80" stroke="#222" stroke-width="0.7"/>
<text x="625.80" y="85.77" font-size="8.3" text-anchor="end" fill="#1a1a1a">2</text>
<line x1="627.50" y1="111.10" x2="629.50" y2="111.10" stroke="#222" stroke-width="0.7"/>
<text x="625.80" y="114.07" font-size="8.3" text-anchor="end" fill="#1a1a1a">1</text>
<line x1="627.50" y1="139.40" x2="629.50" y2="139.40" stroke="#222" stroke-width="0.7"/>
<text x="625.80" y="142.37" font-size="8.3" text-anchor="end" fill="#1a1a1a">0</text>
<text x="0" y="2.97" font-size="8.3" text-anchor="middle" fill="#111" transform="translate(612.00,91.40) rotate(-90)">Normalized expression</text>
<line x1="631.30" y1="139.50" x2="642.50" y2="139.50" stroke="#222" stroke-width="0.8"/>
<path d="M649.7 109.2 L649.7 121 C652 122.5 655.2 125.5 655.4 128.2 C655 131 651 134 649.7 136.7 C648.4 134 644.4 131 644 128.2 C644.2 125.5 647.4 122.5 649.7 121 Z" fill="#9e1a6a" stroke="#222" stroke-width="0.6"/>
<path d="M661.7 75 L661.7 104 C663 107 667 112 667.2 117.5 C667 121 663.5 124 661.7 126.7 C659.9 124 656.4 121 656.2 117.5 C656.4 112 660.4 107 661.7 104 Z" fill="#f2921e" stroke="#222" stroke-width="0.6"/>
<path d="M674.5 33.5 L674.5 51 C675.3 65 675.8 82 678 93 C679.5 98 680.5 101 680.3 103 C679.7 108 676.5 113 674.5 118.7 C672.5 113 669.3 108 668.7 103 C668.5 101 669.5 98 671 93 C673.2 82 673.7 65 674.5 51 Z" fill="#f5c85a" stroke="#222" stroke-width="0.6"/>
<line x1="636.70" y1="144.60" x2="636.70" y2="146.60" stroke="#222" stroke-width="0.7"/>
<line x1="649.70" y1="144.60" x2="649.70" y2="146.60" stroke="#222" stroke-width="0.7"/>
<line x1="661.70" y1="144.60" x2="661.70" y2="146.60" stroke="#222" stroke-width="0.7"/>
<line x1="674.50" y1="144.60" x2="674.50" y2="146.60" stroke="#222" stroke-width="0.7"/>
<text font-size="8.5" text-anchor="end" fill="#111" transform="translate(637.5,150.3) rotate(-90)" y="3.0">PTGEER4<tspan font-size="6.2" dy="-3.2">un</tspan></text>
<text font-size="8.5" text-anchor="end" fill="#111" transform="translate(649.3,150.3) rotate(-90)" y="3.0">PTGEER4<tspan font-size="6.2" dy="-3.2">lo</tspan></text>
<text font-size="8.5" text-anchor="end" fill="#111" transform="translate(661.7,150.3) rotate(-90)" y="3.0">PTGEER4<tspan font-size="6.2" dy="-3.2">int</tspan></text>
<text font-size="8.5" text-anchor="end" fill="#111" transform="translate(674.5,150.3) rotate(-90)" y="3.0">PTGEER4<tspan font-size="6.2" dy="-3.2">hi</tspan></text>
<text x="0.00" y="240.36" font-size="10.5" font-weight="bold">d</text>
<line x1="58.00" y1="271.00" x2="58.00" y2="404.10" stroke="#222" stroke-width="0.7"/>
<line x1="58.00" y1="404.10" x2="182.00" y2="404.10" stroke="#222" stroke-width="0.7"/>
<line x1="56.00" y1="398.80" x2="58.00" y2="398.80" stroke="#222" stroke-width="0.7"/>
<text x="54.70" y="401.63" font-size="7.9" text-anchor="end" fill="#1a1a1a">0</text>
<line x1="56.00" y1="374.05" x2="58.00" y2="374.05" stroke="#222" stroke-width="0.7"/>
<text x="54.70" y="376.88" font-size="7.9" text-anchor="end" fill="#1a1a1a">250</text>
<line x1="56.00" y1="349.30" x2="58.00" y2="349.30" stroke="#222" stroke-width="0.7"/>
<text x="54.70" y="352.13" font-size="7.9" text-anchor="end" fill="#1a1a1a">500</text>
<line x1="56.00" y1="324.55" x2="58.00" y2="324.55" stroke="#222" stroke-width="0.7"/>
<text x="54.70" y="327.38" font-size="7.9" text-anchor="end" fill="#1a1a1a">750</text>
<line x1="56.00" y1="299.80" x2="58.00" y2="299.80" stroke="#222" stroke-width="0.7"/>
<text x="54.70" y="302.63" font-size="7.9" text-anchor="end" fill="#1a1a1a">1000</text>
<line x1="56.00" y1="275.05" x2="58.00" y2="275.05" stroke="#222" stroke-width="0.7"/>
<text x="54.70" y="277.88" font-size="7.9" text-anchor="end" fill="#1a1a1a">1250</text>
<rect x="63.60" y="388.00" width="6.00" height="10.80" fill="#000"/>
<rect x="71.92" y="366.20" width="6.00" height="32.60" fill="#000"/>
<rect x="80.24" y="342.50" width="6.00" height="56.30" fill="#000"/>
<rect x="88.56" y="320.70" width="6.00" height="78.10" fill="#000"/>
<rect x="96.88" y="293.00" width="6.00" height="105.80" fill="#000"/>
<rect x="105.20" y="278.20" width="6.00" height="120.60" fill="#000"/>
<rect x="113.52" y="276.70" width="6.00" height="122.10" fill="#000"/>
<rect x="121.84" y="285.00" width="6.00" height="113.80" fill="#000"/>
<rect x="130.16" y="318.70" width="6.00" height="80.10" fill="#000"/>
<rect x="138.48" y="341.70" width="6.00" height="57.10" fill="#000"/>
<rect x="146.80" y="365.00" width="6.00" height="33.80" fill="#000"/>
<rect x="155.12" y="382.50" width="6.00" height="16.30" fill="#000"/>
<rect x="163.44" y="389.20" width="6.00" height="9.60" fill="#000"/>
<rect x="171.76" y="396.00" width="6.00" height="2.80" fill="#000"/>
<line x1="66.60" y1="404.10" x2="66.60" y2="406.10" stroke="#222" stroke-width="0.7"/>
<text x="66.60" y="415.97" font-size="8.3" text-anchor="middle" fill="#111">0</text>
<text x="66.60" y="426.57" font-size="8.3" text-anchor="middle" fill="#111">13</text>
<line x1="91.60" y1="404.10" x2="91.60" y2="406.10" stroke="#222" stroke-width="0.7"/>
<text x="91.60" y="415.97" font-size="8.3" text-anchor="middle" fill="#111">3</text>
<text x="91.60" y="426.57" font-size="8.3" text-anchor="middle" fill="#111">10</text>
<line x1="116.50" y1="404.10" x2="116.50" y2="406.10" stroke="#222" stroke-width="0.7"/>
<text x="116.50" y="415.97" font-size="8.3" text-anchor="middle" fill="#111">6</text>
<text x="116.50" y="426.57" font-size="8.3" text-anchor="middle" fill="#111">7</text>
<line x1="141.50" y1="404.10" x2="141.50" y2="406.10" stroke="#222" stroke-width="0.7"/>
<text x="141.50" y="415.97" font-size="8.3" text-anchor="middle" fill="#111">9</text>
<text x="141.50" y="426.57" font-size="8.3" text-anchor="middle" fill="#111">4</text>
<line x1="166.40" y1="404.10" x2="166.40" y2="406.10" stroke="#222" stroke-width="0.7"/>
<text x="166.40" y="415.97" font-size="8.3" text-anchor="middle" fill="#111">12</text>
<text x="166.40" y="426.57" font-size="8.3" text-anchor="middle" fill="#111">1</text>
<text x="0" y="2.94" font-size="8.2" text-anchor="middle" fill="#111" transform="translate(30.50,341.00) rotate(-90)">Number of genes</text>
<line x1="120.7" y1="275" x2="120.7" y2="404.5" stroke="#777" stroke-width="0.8" stroke-dasharray="4 2.5"/>
<line x1="120.70" y1="275.00" x2="120.70" y2="286.00" stroke="#222" stroke-width="0.8"/>
<line x1="120.70" y1="391.00" x2="120.70" y2="404.50" stroke="#222" stroke-width="0.8"/>
<line x1="220.50" y1="276.20" x2="220.50" y2="404.10" stroke="#222" stroke-width="0.7"/>
<line x1="220.50" y1="404.10" x2="337.00" y2="404.10" stroke="#222" stroke-width="0.7"/>
<line x1="218.50" y1="398.80" x2="220.50" y2="398.80" stroke="#222" stroke-width="0.7"/>
<text x="217.20" y="401.63" font-size="7.9" text-anchor="end" fill="#1a1a1a">0</text>
<line x1="218.50" y1="356.30" x2="220.50" y2="356.30" stroke="#222" stroke-width="0.7"/>
<text x="217.20" y="359.13" font-size="7.9" text-anchor="end" fill="#1a1a1a">500</text>
<line x1="218.50" y1="313.80" x2="220.50" y2="313.80" stroke="#222" stroke-width="0.7"/>
<text x="217.20" y="316.63" font-size="7.9" text-anchor="end" fill="#1a1a1a">1000</text>
<rect x="225.50" y="392.00" width="6.20" height="6.80" fill="#000"/>
<rect x="234.20" y="374.20" width="6.20" height="24.60" fill="#000"/>
<rect x="242.90" y="352.70" width="6.20" height="46.10" fill="#000"/>
<rect x="251.60" y="326.20" width="6.20" height="72.60" fill="#000"/>
<rect x="260.30" y="295.70" width="6.20" height="103.10" fill="#000"/>
<rect x="269.00" y="290.00" width="6.20" height="108.80" fill="#000"/>
<rect x="277.70" y="282.00" width="6.20" height="116.80" fill="#000"/>
<rect x="286.40" y="298.00" width="6.20" height="100.80" fill="#000"/>
<rect x="295.10" y="327.70" width="6.20" height="71.10" fill="#000"/>
<rect x="303.80" y="355.50" width="6.20" height="43.30" fill="#000"/>
<rect x="312.50" y="378.70" width="6.20" height="20.10" fill="#000"/>
<rect x="321.20" y="395.00" width="6.20" height="3.80" fill="#000"/>
<rect x="329.90" y="398.00" width="6.20" height="0.80" fill="#000"/>
<line x1="228.60" y1="404.10" x2="228.60" y2="406.10" stroke="#222" stroke-width="0.7"/>
<text x="228.60" y="415.97" font-size="8.3" text-anchor="middle" fill="#111">0</text>
<text x="228.60" y="426.57" font-size="8.3" text-anchor="middle" fill="#111">12</text>
<line x1="254.70" y1="404.10" x2="254.70" y2="406.10" stroke="#222" stroke-width="0.7"/>
<text x="254.70" y="415.97" font-size="8.3" text-anchor="middle" fill="#111">3</text>
<text x="254.70" y="426.57" font-size="8.3" text-anchor="middle" fill="#111">9</text>
<line x1="280.80" y1="404.10" x2="280.80" y2="406.10" stroke="#222" stroke-width="0.7"/>
<text x="280.80" y="415.97" font-size="8.3" text-anchor="middle" fill="#111">6</text>
<text x="280.80" y="426.57" font-size="8.3" text-anchor="middle" fill="#111">6</text>
<line x1="306.90" y1="404.10" x2="306.90" y2="406.10" stroke="#222" stroke-width="0.7"/>
<text x="306.90" y="415.97" font-size="8.3" text-anchor="middle" fill="#111">9</text>
<text x="306.90" y="426.57" font-size="8.3" text-anchor="middle" fill="#111">3</text>
<line x1="333.00" y1="404.10" x2="333.00" y2="406.10" stroke="#222" stroke-width="0.7"/>
<text x="333.00" y="415.97" font-size="8.3" text-anchor="middle" fill="#111">12</text>
<text x="333.00" y="426.57" font-size="8.3" text-anchor="middle" fill="#111">0</text>
<text x="0" y="2.94" font-size="8.2" text-anchor="middle" fill="#111" transform="translate(191.00,343.70) rotate(-90)">Number of genes</text>
<line x1="280.70" y1="276.00" x2="280.70" y2="407.00" stroke="#222" stroke-width="0.8"/>
<text x="58.00" y="415.97" font-size="8.3" text-anchor="end" fill="#111">Upregulation</text>
<text x="58.00" y="426.57" font-size="8.3" text-anchor="end" fill="#111">Downregulation</text>
<text x="40.00" y="436.77" font-size="8.3" text-anchor="middle" fill="#111">(datasets)</text>
<text x="113.70" y="248.67" font-size="6.9" text-anchor="end" fill="#111">5,295 genes&#160; favoring</text>
<text x="113.70" y="256.67" font-size="6.9" text-anchor="end" fill="#111">downregulation</text>
<text x="113.7" y="264.97" font-size="6.9" text-anchor="end" fill="#111">in PTGER4<tspan font-size="5.2" dy="-3.2">hi</tspan><tspan dy="3.2"> TIM</tspan></text>
<text x="125.70" y="248.67" font-size="6.9" fill="#111">3,146 genes favoring</text>
<text x="125.70" y="256.67" font-size="6.9" fill="#111">upregulation</text>
<text x="125.7" y="264.97" font-size="6.9" fill="#111">in PTGER4<tspan font-size="5.2" dy="-3.2">hi</tspan><tspan dy="3.2"> TIM</tspan></text>
<text x="273.70" y="248.67" font-size="6.9" text-anchor="end" fill="#111">4,266 genes favoring</text>
<text x="276.20" y="256.97" font-size="6.9" text-anchor="end" fill="#111">downregulation in</text>
<text x="276.7" y="265.17" font-size="6.9" text-anchor="end" fill="#111">PTGER4<tspan font-size="5.2" dy="-3.2">hi</tspan><tspan dy="3.2"> TIM_C1QA</tspan></text>
<text x="285.70" y="248.67" font-size="6.9" fill="#111">2,837 genes favoring</text>
<text x="285.70" y="256.97" font-size="6.9" fill="#111">upregulation in</text>
<text x="285.7" y="265.17" font-size="6.9" fill="#111">PTGER4<tspan font-size="5.2" dy="-3.2">hi</tspan><tspan dy="3.2"> TIM_C1QA</tspan></text>
<line x1="62.50" y1="269.20" x2="113.70" y2="269.20" stroke="#1a1a1a" stroke-width="0.95"/>
<path d="M62.5 269.2 L68.0 266.9 L68.0 271.5Z" fill="#111"/>
<line x1="182.50" y1="269.20" x2="127.50" y2="269.20" stroke="#1a1a1a" stroke-width="0.95"/>
<path d="M182.5 269.2 L177.0 266.9 L177.0 271.5Z" fill="#111"/>
<line x1="221.20" y1="269.20" x2="276.20" y2="269.20" stroke="#1a1a1a" stroke-width="0.95"/>
<path d="M221.2 269.2 L226.7 266.9 L226.7 271.5Z" fill="#111"/>
<line x1="348.00" y1="269.20" x2="285.00" y2="269.20" stroke="#1a1a1a" stroke-width="0.95"/>
<path d="M348.0 269.2 L342.5 266.9 L342.5 271.5Z" fill="#111"/>
<text x="359.80" y="240.16" font-size="10.5" font-weight="bold">e</text>
<text x="399.50" y="243.64" font-size="8.2" fill="#111">HALLMARK</text>
<text x="399.50" y="253.64" font-size="8.2" fill="#111">TNFA_SIGNALING_VIA_NFKB</text>
<line x1="399.5" y1="259.20" x2="525.0" y2="259.20" stroke="#222" stroke-width="0.9" stroke-dasharray="4.2 2.6"/>
<line x1="399.5" y1="304.50" x2="525.0" y2="304.50" stroke="#222" stroke-width="0.9" stroke-dasharray="4.2 2.6"/>
<line x1="399.50" y1="300.00" x2="525.00" y2="300.00" stroke="#222" stroke-width="1.0"/>
<path d="M417.4 310.7v6.8M412.5 310.7v6.8M413.0 310.7v6.8M420.7 310.7v6.8M417.5 310.7v6.8M413.2 310.7v6.8M416.8 310.7v6.8M408.4 310.7v6.8M407.7 310.7v6.8M408.3 310.7v6.8M407.7 310.7v6.8M406.1 310.7v6.8M414.8 310.7v6.8M412.4 310.7v6.8M411.6 310.7v6.8M410.9 310.7v6.8M421.1 310.7v6.8M407.8 310.7v6.8M412.6 310.7v6.8M410.1 310.7v6.8M419.1 310.7v6.8M416.1 310.7v6.8M406.9 310.7v6.8M409.7 310.7v6.8M408.3 310.7v6.8M408.9 310.7v6.8M407.1 310.7v6.8M420.5 310.7v6.8M414.4 310.7v6.8M407.4 310.7v6.8M413.4 310.7v6.8M408.5 310.7v6.8M406.8 310.7v6.8M415.9 310.7v6.8M420.9 310.7v6.8M413.3 310.7v6.8M407.3 310.7v6.8M411.5 310.7v6.8M411.3 310.7v6.8M414.7 310.7v6.8M418.5 310.7v6.8M419.4 310.7v6.8M419.0 310.7v6.8M417.5 310.7v6.8M408.4 310.7v6.8M413.4 310.7v6.8M420.5 310.7v6.8M410.2 310.7v6.8M421.1 310.7v6.8M417.0 310.7v6.8M415.6 310.7v6.8M409.9 310.7v6.8M409.5 310.7v6.8M415.9 310.7v6.8M406.4 310.7v6.8M415.0 310.7v6.8M417.6 310.7v6.8M418.7 310.7v6.8M418.1 310.7v6.8M409.3 310.7v6.8M437.1 310.7v6.8M427.4 310.7v6.8M440.2 310.7v6.8M423.7 310.7v6.8M435.7 310.7v6.8M440.0 310.7v6.8M439.6 310.7v6.8M425.7 310.7v6.8M438.3 310.7v6.8M438.1 310.7v6.8M426.4 310.7v6.8M426.5 310.7v6.8M422.2 310.7v6.8M440.6 310.7v6.8M433.6 310.7v6.8M438.6 310.7v6.8M437.0 310.7v6.8M425.8 310.7v6.8M428.7 310.7v6.8M426.7 310.7v6.8M424.3 310.7v6.8M425.1 310.7v6.8M424.2 310.7v6.8M424.2 310.7v6.8M476.5 310.7v6.8M467.7 310.7v6.8M475.3 310.7v6.8M457.3 310.7v6.8M469.4 310.7v6.8M479.1 310.7v6.8M462.1 310.7v6.8M460.3 310.7v6.8M468.0 310.7v6.8M465.0 310.7v6.8M480.4 310.7v6.8M475.3 310.7v6.8M451.5 310.7v6.8M478.4 310.7v6.8M447.0 310.7v6.8M472.3 310.7v6.8M450.1 310.7v6.8M446.6 310.7v6.8M471.5 310.7v6.8M459.7 310.7v6.8M480.2 310.7v6.8M445.7 310.7v6.8M474.0 310.7v6.8M476.8 310.7v6.8M475.7 310.7v6.8M475.0 310.7v6.8M481.3 310.7v6.8M443.5 310.7v6.8M460.7 310.7v6.8M472.8 310.7v6.8M458.4 310.7v6.8M449.3 310.7v6.8M486.4 310.7v6.8M484.9 310.7v6.8M513.0 310.7v6.8M515.9 310.7v6.8M497.2 310.7v6.8M513.7 310.7v6.8M489.5 310.7v6.8M497.9 310.7v6.8M503.4 310.7v6.8M504.3 310.7v6.8M485.4 310.7v6.8M508.4 310.7v6.8M508.3 310.7v6.8M501.8 310.7v6.8M505.2 310.7v6.8M493.7 310.7v6.8M506.0 310.7v6.8M511.1 310.7v6.8M509.5 310.7v6.8M508.3 310.7v6.8M516.2 310.7v6.8M494.5 310.7v6.8M501.7 310.7v6.8M513.5 310.7v6.8M492.5 310.7v6.8M502.2 310.7v6.8M485.2 310.7v6.8M491.8 310.7v6.8M510.1 310.7v6.8M501.8 310.7v6.8M500.0 310.7v6.8M485.6 310.7v6.8M486.6 310.7v6.8M510.1 310.7v6.8M516.6 310.7v6.8M492.1 310.7v6.8M515.2 310.7v6.8M515.3 310.7v6.8M503.4 310.7v6.8M509.6 310.7v6.8M491.9 310.7v6.8M503.0 310.7v6.8M507.4 310.7v6.8M499.1 310.7v6.8M500.7 310.7v6.8M507.4 310.7v6.8M483.7 310.7v6.8M508.8 310.7v6.8M483.8 310.7v6.8M497.5 310.7v6.8M490.3 310.7v6.8M517.6 310.7v6.8M507.6 310.7v6.8M510.1 310.7v6.8M519.4 310.7v6.8M517.5 310.7v6.8M489.5 310.7v6.8M489.9 310.7v6.8M494.1 310.7v6.8M502.6 310.7v6.8M493.3 310.7v6.8M513.9 310.7v6.8M511.3 310.7v6.8M484.0 310.7v6.8M487.3 310.7v6.8M493.4 310.7v6.8M493.7 310.7v6.8M519.2 310.7v6.8M496.6 310.7v6.8M497.7 310.7v6.8M507.3 310.7v6.8M512.7 310.7v6.8M483.5 310.7v6.8M515.1 310.7v6.8M495.1 310.7v6.8M502.6 310.7v6.8M515.9 310.7v6.8" stroke="#f5b82a" stroke-width="0.55" opacity="0.7"/>
<polyline points="405.6,300.00 407.2,282.00 408.7,271.20 410.8,265.20 412.9,261.60 414.9,260.10 418.1,260.40 426.4,262.80 447.1,273.00 467.9,282.60 488.6,292.80 501.1,300.00 509.4,303.60 514.5,304.20 516.6,303.00 519.7,300.00" fill="none" stroke="#f5b000" stroke-width="1.8" stroke-linejoin="round"/>
<line x1="399.50" y1="257.50" x2="399.50" y2="319.50" stroke="#222" stroke-width="0.7"/>
<line x1="399.50" y1="319.50" x2="525.00" y2="319.50" stroke="#222" stroke-width="0.7"/>
<line x1="397.50" y1="270.00" x2="399.50" y2="270.00" stroke="#222" stroke-width="0.7"/>
<text x="397.20" y="272.58" font-size="7.2" text-anchor="end" fill="#1a1a1a">0.50</text>
<line x1="397.50" y1="285.00" x2="399.50" y2="285.00" stroke="#222" stroke-width="0.7"/>
<text x="397.20" y="287.58" font-size="7.2" text-anchor="end" fill="#1a1a1a">0.25</text>
<line x1="397.50" y1="300.00" x2="399.50" y2="300.00" stroke="#222" stroke-width="0.7"/>
<text x="397.20" y="302.58" font-size="7.2" text-anchor="end" fill="#1a1a1a">0.00</text>
<line x1="397.50" y1="315.00" x2="399.50" y2="315.00" stroke="#222" stroke-width="0.7"/>
<text x="397.20" y="317.58" font-size="7.2" text-anchor="end" fill="#1a1a1a">−0.25</text>
<line x1="405.60" y1="319.50" x2="405.60" y2="321.50" stroke="#222" stroke-width="0.7"/>
<text x="405.60" y="328.78" font-size="7.2" text-anchor="middle" fill="#1a1a1a">0</text>
<line x1="437.90" y1="319.50" x2="437.90" y2="321.50" stroke="#222" stroke-width="0.7"/>
<text x="437.90" y="328.78" font-size="7.2" text-anchor="middle" fill="#1a1a1a">3000</text>
<line x1="470.20" y1="319.50" x2="470.20" y2="321.50" stroke="#222" stroke-width="0.7"/>
<text x="470.20" y="328.78" font-size="7.2" text-anchor="middle" fill="#1a1a1a">6000</text>
<line x1="502.50" y1="319.50" x2="502.50" y2="321.50" stroke="#222" stroke-width="0.7"/>
<text x="502.50" y="328.78" font-size="7.2" text-anchor="middle" fill="#1a1a1a">9000</text>
<text x="408.70" y="285.94" font-size="8.2" fill="#111">NES</text>
<text x="430.00" y="285.94" font-size="8.2" fill="#111">2.0818</text>
<text x="408.7" y="295.94" font-size="8.2" fill="#111"><tspan font-style="italic">P</tspan><tspan font-size="5.5" dy="2.2">adj</tspan></text>
<text x="430.0" y="295.94" font-size="8.2" fill="#111">1.57 x 10<tspan font-size="5.5" dy="-3">-10</tspan></text>
<text x="554.00" y="253.64" font-size="8.2" fill="#111">HALLMARK_MYC_TARGETS_V1</text>
<line x1="554.0" y1="262.80" x2="679.0" y2="262.80" stroke="#222" stroke-width="0.9" stroke-dasharray="4.2 2.6"/>
<line x1="554.0" y1="304.50" x2="679.0" y2="304.50" stroke="#222" stroke-width="0.9" stroke-dasharray="4.2 2.6"/>
<line x1="554.00" y1="262.80" x2="679.00" y2="262.80" stroke="#222" stroke-width="1.0"/>
<path d="M583.1 310.7v6.8M597.5 310.7v6.8M599.7 310.7v6.8M575.6 310.7v6.8M574.0 310.7v6.8M563.8 310.7v6.8M584.1 310.7v6.8M586.6 310.7v6.8M593.1 310.7v6.8M593.4 310.7v6.8M574.3 310.7v6.8M579.1 310.7v6.8M585.4 310.7v6.8M591.2 310.7v6.8M581.0 310.7v6.8M595.2 310.7v6.8M574.8 310.7v6.8M598.4 310.7v6.8M593.9 310.7v6.8M593.3 310.7v6.8M572.4 310.7v6.8M572.2 310.7v6.8M577.6 310.7v6.8M578.1 310.7v6.8M591.1 310.7v6.8M578.6 310.7v6.8M565.7 310.7v6.8M571.0 310.7v6.8M580.8 310.7v6.8M559.9 310.7v6.8M569.4 310.7v6.8M595.9 310.7v6.8M586.8 310.7v6.8M596.4 310.7v6.8M583.1 310.7v6.8M567.3 310.7v6.8M568.9 310.7v6.8M572.3 310.7v6.8M600.2 310.7v6.8M588.2 310.7v6.8M572.8 310.7v6.8M600.1 310.7v6.8M588.9 310.7v6.8M590.0 310.7v6.8M594.1 310.7v6.8M560.9 310.7v6.8M577.6 310.7v6.8M573.6 310.7v6.8M610.6 310.7v6.8M641.2 310.7v6.8M621.0 310.7v6.8M616.2 310.7v6.8M628.0 310.7v6.8M634.5 310.7v6.8M619.2 310.7v6.8M638.2 310.7v6.8M629.4 310.7v6.8M637.2 310.7v6.8M631.2 310.7v6.8M609.5 310.7v6.8M630.6 310.7v6.8M632.3 310.7v6.8M608.3 310.7v6.8M629.3 310.7v6.8M609.8 310.7v6.8M626.6 310.7v6.8M635.8 310.7v6.8M628.2 310.7v6.8M636.2 310.7v6.8M614.1 310.7v6.8M604.8 310.7v6.8M638.4 310.7v6.8M612.6 310.7v6.8M634.9 310.7v6.8M618.2 310.7v6.8M619.7 310.7v6.8M641.4 310.7v6.8M600.9 310.7v6.8M600.8 310.7v6.8M635.3 310.7v6.8M633.3 310.7v6.8M627.4 310.7v6.8M621.6 310.7v6.8M617.9 310.7v6.8M640.5 310.7v6.8M634.3 310.7v6.8M607.2 310.7v6.8M602.1 310.7v6.8M605.8 310.7v6.8M604.1 310.7v6.8M636.3 310.7v6.8M606.3 310.7v6.8M626.8 310.7v6.8M622.8 310.7v6.8M608.6 310.7v6.8M605.2 310.7v6.8M627.3 310.7v6.8M631.8 310.7v6.8M608.6 310.7v6.8M617.6 310.7v6.8M634.6 310.7v6.8M628.6 310.7v6.8M634.8 310.7v6.8M636.9 310.7v6.8M648.5 310.7v6.8M655.1 310.7v6.8M669.6 310.7v6.8M645.1 310.7v6.8M656.4 310.7v6.8M660.1 310.7v6.8M646.9 310.7v6.8M643.9 310.7v6.8M665.5 310.7v6.8M672.2 310.7v6.8M661.9 310.7v6.8M650.3 310.7v6.8M647.8 310.7v6.8M650.0 310.7v6.8M658.3 310.7v6.8M672.2 310.7v6.8M661.4 310.7v6.8M659.5 310.7v6.8M656.6 310.7v6.8M650.8 310.7v6.8M666.2 310.7v6.8M659.8 310.7v6.8M656.6 310.7v6.8M665.7 310.7v6.8M652.8 310.7v6.8M668.4 310.7v6.8M651.4 310.7v6.8M659.2 310.7v6.8M668.6 310.7v6.8M651.3 310.7v6.8M652.0 310.7v6.8M650.3 310.7v6.8M642.9 310.7v6.8M661.5 310.7v6.8M659.6 310.7v6.8M648.9 310.7v6.8M647.8 310.7v6.8M652.5 310.7v6.8M672.0 310.7v6.8M647.2 310.7v6.8M655.7 310.7v6.8M648.1 310.7v6.8M655.9 310.7v6.8M653.7 310.7v6.8M666.7 310.7v6.8M670.1 310.7v6.8M656.4 310.7v6.8M648.8 310.7v6.8M665.2 310.7v6.8M662.9 310.7v6.8M653.6 310.7v6.8M660.1 310.7v6.8M660.4 310.7v6.8M646.5 310.7v6.8M660.3 310.7v6.8M650.0 310.7v6.8M668.7 310.7v6.8M658.8 310.7v6.8M665.8 310.7v6.8M663.0 310.7v6.8M664.9 310.7v6.8M656.1 310.7v6.8M662.6 310.7v6.8M654.8 310.7v6.8M646.9 310.7v6.8M663.7 310.7v6.8M650.7 310.7v6.8M668.4 310.7v6.8M647.3 310.7v6.8M658.3 310.7v6.8M655.6 310.7v6.8M659.0 310.7v6.8M656.2 310.7v6.8M647.9 310.7v6.8M664.4 310.7v6.8M649.8 310.7v6.8M652.2 310.7v6.8M650.8 310.7v6.8M649.5 310.7v6.8M665.0 310.7v6.8M649.8 310.7v6.8M666.4 310.7v6.8M662.9 310.7v6.8M643.2 310.7v6.8M643.7 310.7v6.8M663.8 310.7v6.8M655.8 310.7v6.8M649.8 310.7v6.8M667.9 310.7v6.8M657.1 310.7v6.8M654.3 310.7v6.8M653.6 310.7v6.8M671.1 310.7v6.8M645.0 310.7v6.8M653.0 310.7v6.8M646.3 310.7v6.8M670.5 310.7v6.8M650.1 310.7v6.8M641.8 310.7v6.8M668.5 310.7v6.8M657.3 310.7v6.8M656.8 310.7v6.8M665.7 310.7v6.8M648.9 310.7v6.8M650.4 310.7v6.8M645.4 310.7v6.8M650.5 310.7v6.8M648.8 310.7v6.8M644.1 310.7v6.8M660.2 310.7v6.8M648.2 310.7v6.8M655.1 310.7v6.8M652.8 310.7v6.8M669.2 310.7v6.8M647.6 310.7v6.8M661.4 310.7v6.8M648.6 310.7v6.8M666.9 310.7v6.8M662.6 310.7v6.8M661.1 310.7v6.8" stroke="#f5b82a" stroke-width="0.55" opacity="0.7"/>
<polyline points="559.5,262.80 562.6,262.16 567.7,263.44 571.8,264.72 580.0,268.56 600.5,279.44 621.0,289.68 636.4,298.00 646.6,304.08 651.7,304.40 657.9,304.72 663.0,303.12 666.1,296.08 668.6,282.00 670.7,269.20 672.2,262.80" fill="none" stroke="#f5b000" stroke-width="1.8" stroke-linejoin="round"/>
<line x1="554.00" y1="261.20" x2="554.00" y2="319.50" stroke="#222" stroke-width="0.7"/>
<line x1="554.00" y1="319.50" x2="679.00" y2="319.50" stroke="#222" stroke-width="0.7"/>
<line x1="552.00" y1="262.80" x2="554.00" y2="262.80" stroke="#222" stroke-width="0.7"/>
<text x="551.70" y="265.38" font-size="7.2" text-anchor="end" fill="#1a1a1a">0.00</text>
<line x1="552.00" y1="278.80" x2="554.00" y2="278.80" stroke="#222" stroke-width="0.7"/>
<text x="551.70" y="281.38" font-size="7.2" text-anchor="end" fill="#1a1a1a">−0.25</text>
<line x1="552.00" y1="294.80" x2="554.00" y2="294.80" stroke="#222" stroke-width="0.7"/>
<text x="551.70" y="297.38" font-size="7.2" text-anchor="end" fill="#1a1a1a">−0.50</text>
<line x1="552.00" y1="310.80" x2="554.00" y2="310.80" stroke="#222" stroke-width="0.7"/>
<text x="551.70" y="313.38" font-size="7.2" text-anchor="end" fill="#1a1a1a">−0.75</text>
<line x1="559.50" y1="319.50" x2="559.50" y2="321.50" stroke="#222" stroke-width="0.7"/>
<text x="559.50" y="328.78" font-size="7.2" text-anchor="middle" fill="#1a1a1a">0</text>
<line x1="591.40" y1="319.50" x2="591.40" y2="321.50" stroke="#222" stroke-width="0.7"/>
<text x="591.40" y="328.78" font-size="7.2" text-anchor="middle" fill="#1a1a1a">3000</text>
<line x1="623.30" y1="319.50" x2="623.30" y2="321.50" stroke="#222" stroke-width="0.7"/>
<text x="623.30" y="328.78" font-size="7.2" text-anchor="middle" fill="#1a1a1a">6000</text>
<line x1="655.20" y1="319.50" x2="655.20" y2="321.50" stroke="#222" stroke-width="0.7"/>
<text x="655.20" y="328.78" font-size="7.2" text-anchor="middle" fill="#1a1a1a">9000</text>
<text x="556.50" y="289.14" font-size="8.2" fill="#111">NES</text>
<text x="577.70" y="289.14" font-size="8.2" fill="#111">-2.5149</text>
<text x="556.5" y="299.14" font-size="8.2" fill="#111"><tspan font-style="italic">P</tspan><tspan font-size="5.5" dy="2.2">adj</tspan></text>
<text x="577.7" y="299.14" font-size="8.2" fill="#111">1.37 x 10<tspan font-size="5.5" dy="-3">-17</tspan></text>
<text x="399.50" y="340.44" font-size="8.2" fill="#111">HALLMARK</text>
<text x="399.50" y="350.94" font-size="8.2" fill="#111">INFLAMMATORY_RESPONSE</text>
<line x1="399.5" y1="355.50" x2="525.0" y2="355.50" stroke="#222" stroke-width="0.9" stroke-dasharray="4.2 2.6"/>
<line x1="399.5" y1="400.20" x2="525.0" y2="400.20" stroke="#222" stroke-width="0.9" stroke-dasharray="4.2 2.6"/>
<line x1="399.50" y1="388.20" x2="525.00" y2="388.20" stroke="#222" stroke-width="1.0"/>
<path d="M416.6 406.2v6.8M404.5 406.2v6.8M404.5 406.2v6.8M404.9 406.2v6.8M413.3 406.2v6.8M411.5 406.2v6.8M413.6 406.2v6.8M402.8 406.2v6.8M408.8 406.2v6.8M409.0 406.2v6.8M405.1 406.2v6.8M416.2 406.2v6.8M408.7 406.2v6.8M413.6 406.2v6.8M409.2 406.2v6.8M409.6 406.2v6.8M406.8 406.2v6.8M416.1 406.2v6.8M409.2 406.2v6.8M404.1 406.2v6.8M417.5 406.2v6.8M403.9 406.2v6.8M413.6 406.2v6.8M415.2 406.2v6.8M405.2 406.2v6.8M418.0 406.2v6.8M413.7 406.2v6.8M411.6 406.2v6.8M413.0 406.2v6.8M412.5 406.2v6.8M414.5 406.2v6.8M418.2 406.2v6.8M415.6 406.2v6.8M414.5 406.2v6.8M410.1 406.2v6.8M410.0 406.2v6.8M409.7 406.2v6.8M408.7 406.2v6.8M404.9 406.2v6.8M414.3 406.2v6.8M416.3 406.2v6.8M405.4 406.2v6.8M403.3 406.2v6.8M406.5 406.2v6.8M406.7 406.2v6.8M413.7 406.2v6.8M402.8 406.2v6.8M408.1 406.2v6.8M411.4 406.2v6.8M404.9 406.2v6.8M403.9 406.2v6.8M405.8 406.2v6.8M415.4 406.2v6.8M417.3 406.2v6.8M415.5 406.2v6.8M406.9 406.2v6.8M416.0 406.2v6.8M415.0 406.2v6.8M415.1 406.2v6.8M405.0 406.2v6.8M450.9 406.2v6.8M446.4 406.2v6.8M438.1 406.2v6.8M422.6 406.2v6.8M449.8 406.2v6.8M451.8 406.2v6.8M436.0 406.2v6.8M450.4 406.2v6.8M431.1 406.2v6.8M435.9 406.2v6.8M445.8 406.2v6.8M445.3 406.2v6.8M449.0 406.2v6.8M426.0 406.2v6.8M447.1 406.2v6.8M437.5 406.2v6.8M451.1 406.2v6.8M426.9 406.2v6.8M445.5 406.2v6.8M431.6 406.2v6.8M421.6 406.2v6.8M434.9 406.2v6.8M419.3 406.2v6.8M428.3 406.2v6.8M439.9 406.2v6.8M435.1 406.2v6.8M451.6 406.2v6.8M437.4 406.2v6.8M427.1 406.2v6.8M443.5 406.2v6.8M450.6 406.2v6.8M444.7 406.2v6.8M434.4 406.2v6.8M455.5 406.2v6.8M423.2 406.2v6.8M438.5 406.2v6.8M425.5 406.2v6.8M419.1 406.2v6.8M432.2 406.2v6.8M421.0 406.2v6.8M435.2 406.2v6.8M449.0 406.2v6.8M455.6 406.2v6.8M421.5 406.2v6.8M441.7 406.2v6.8M443.2 406.2v6.8M426.5 406.2v6.8M446.7 406.2v6.8M456.1 406.2v6.8M463.8 406.2v6.8M505.6 406.2v6.8M464.2 406.2v6.8M479.6 406.2v6.8M458.0 406.2v6.8M502.5 406.2v6.8M485.5 406.2v6.8M486.8 406.2v6.8M512.3 406.2v6.8M516.3 406.2v6.8M478.4 406.2v6.8M504.6 406.2v6.8M494.4 406.2v6.8M495.8 406.2v6.8M499.6 406.2v6.8M490.5 406.2v6.8M505.5 406.2v6.8M462.9 406.2v6.8M505.9 406.2v6.8M488.0 406.2v6.8M466.1 406.2v6.8M495.3 406.2v6.8M506.0 406.2v6.8M509.3 406.2v6.8M505.0 406.2v6.8M464.7 406.2v6.8M484.7 406.2v6.8M467.9 406.2v6.8M493.8 406.2v6.8M460.4 406.2v6.8M517.0 406.2v6.8M456.7 406.2v6.8M513.9 406.2v6.8M473.9 406.2v6.8M503.8 406.2v6.8M500.1 406.2v6.8M473.7 406.2v6.8M467.4 406.2v6.8M486.0 406.2v6.8M514.2 406.2v6.8M512.5 406.2v6.8M508.4 406.2v6.8M466.1 406.2v6.8M490.8 406.2v6.8M507.6 406.2v6.8M506.5 406.2v6.8M475.0 406.2v6.8M457.8 406.2v6.8M464.8 406.2v6.8M517.7 406.2v6.8M488.7 406.2v6.8M511.5 406.2v6.8M518.9 406.2v6.8M482.0 406.2v6.8M491.4 406.2v6.8M484.1 406.2v6.8M479.6 406.2v6.8M476.2 406.2v6.8M491.0 406.2v6.8M469.1 406.2v6.8M482.7 406.2v6.8M469.7 406.2v6.8M516.1 406.2v6.8M483.1 406.2v6.8M519.8 406.2v6.8M491.1 406.2v6.8M501.7 406.2v6.8M459.8 406.2v6.8M505.1 406.2v6.8M475.3 406.2v6.8M468.6 406.2v6.8M484.0 406.2v6.8M480.4 406.2v6.8M497.3 406.2v6.8M510.6 406.2v6.8M518.1 406.2v6.8M466.7 406.2v6.8M519.3 406.2v6.8M477.2 406.2v6.8M517.0 406.2v6.8M493.6 406.2v6.8M482.6 406.2v6.8M477.4 406.2v6.8M505.4 406.2v6.8M465.7 406.2v6.8M483.0 406.2v6.8M517.5 406.2v6.8M487.1 406.2v6.8M511.5 406.2v6.8M492.6 406.2v6.8M468.6 406.2v6.8M490.9 406.2v6.8M502.6 406.2v6.8M512.6 406.2v6.8M498.0 406.2v6.8M500.2 406.2v6.8" stroke="#f5b82a" stroke-width="0.55" opacity="0.7"/>
<polyline points="402.8,388.20 404.4,372.57 406.6,363.20 409.3,358.82 412.5,356.32 415.7,355.70 424.3,357.57 445.8,365.70 467.4,377.57 485.7,388.20 499.6,395.70 508.3,398.82 513.6,400.07 516.9,398.20 520.1,393.20 521.2,388.20" fill="none" stroke="#f5b000" stroke-width="1.8" stroke-linejoin="round"/>
<line x1="399.50" y1="353.70" x2="399.50" y2="415.00" stroke="#222" stroke-width="0.7"/>
<line x1="399.50" y1="415.00" x2="525.00" y2="415.00" stroke="#222" stroke-width="0.7"/>
<line x1="397.50" y1="363.20" x2="399.50" y2="363.20" stroke="#222" stroke-width="0.7"/>
<text x="397.20" y="365.78" font-size="7.2" text-anchor="end" fill="#1a1a1a">0.4</text>
<line x1="397.50" y1="375.70" x2="399.50" y2="375.70" stroke="#222" stroke-width="0.7"/>
<text x="397.20" y="378.28" font-size="7.2" text-anchor="end" fill="#1a1a1a">0.2</text>
<line x1="397.50" y1="388.20" x2="399.50" y2="388.20" stroke="#222" stroke-width="0.7"/>
<text x="397.20" y="390.78" font-size="7.2" text-anchor="end" fill="#1a1a1a">0.0</text>
<line x1="397.50" y1="400.70" x2="399.50" y2="400.70" stroke="#222" stroke-width="0.7"/>
<text x="397.20" y="403.28" font-size="7.2" text-anchor="end" fill="#1a1a1a">−0.2</text>
<line x1="397.50" y1="413.20" x2="399.50" y2="413.20" stroke="#222" stroke-width="0.7"/>
<text x="397.20" y="415.78" font-size="7.2" text-anchor="end" fill="#1a1a1a">−0.4</text>
<line x1="402.80" y1="415.00" x2="402.80" y2="417.00" stroke="#222" stroke-width="0.7"/>
<text x="402.80" y="423.78" font-size="7.2" text-anchor="middle" fill="#1a1a1a">0</text>
<line x1="436.30" y1="415.00" x2="436.30" y2="417.00" stroke="#222" stroke-width="0.7"/>
<text x="436.30" y="423.78" font-size="7.2" text-anchor="middle" fill="#1a1a1a">3000</text>
<line x1="469.80" y1="415.00" x2="469.80" y2="417.00" stroke="#222" stroke-width="0.7"/>
<text x="469.80" y="423.78" font-size="7.2" text-anchor="middle" fill="#1a1a1a">6000</text>
<line x1="503.30" y1="415.00" x2="503.30" y2="417.00" stroke="#222" stroke-width="0.7"/>
<text x="503.30" y="423.78" font-size="7.2" text-anchor="middle" fill="#1a1a1a">9000</text>
<text x="408.70" y="385.94" font-size="8.2" fill="#111">NES</text>
<text x="430.00" y="385.94" font-size="8.2" fill="#111">1.6643</text>
<text x="408.7" y="395.94" font-size="8.2" fill="#111"><tspan font-style="italic">P</tspan><tspan font-size="5.5" dy="2.2">adj</tspan></text>
<text x="430.0" y="395.94" font-size="8.2" fill="#111">0.00136</text>
<text x="553.50" y="340.44" font-size="8.2" fill="#111">HALLMARK</text>
<text x="553.50" y="350.94" font-size="8.2" fill="#111">OXIDATIVE_PHOSPHORYLATION</text>
<line x1="553.5" y1="356.70" x2="678.0" y2="356.70" stroke="#222" stroke-width="0.9" stroke-dasharray="4.2 2.6"/>
<line x1="553.5" y1="399.50" x2="678.0" y2="399.50" stroke="#222" stroke-width="0.9" stroke-dasharray="4.2 2.6"/>
<line x1="553.50" y1="356.70" x2="678.00" y2="356.70" stroke="#222" stroke-width="1.0"/>
<path d="M584.5 405.5v7.5M558.9 405.5v7.5M584.8 405.5v7.5M602.5 405.5v7.5M595.8 405.5v7.5M575.2 405.5v7.5M580.6 405.5v7.5M564.2 405.5v7.5M561.0 405.5v7.5M571.3 405.5v7.5M584.3 405.5v7.5M595.7 405.5v7.5M588.7 405.5v7.5M600.2 405.5v7.5M590.8 405.5v7.5M579.0 405.5v7.5M561.5 405.5v7.5M562.4 405.5v7.5M564.4 405.5v7.5M591.2 405.5v7.5M580.1 405.5v7.5M559.4 405.5v7.5M594.2 405.5v7.5M591.0 405.5v7.5M585.7 405.5v7.5M589.2 405.5v7.5M583.6 405.5v7.5M563.9 405.5v7.5M584.2 405.5v7.5M575.5 405.5v7.5M575.2 405.5v7.5M569.3 405.5v7.5M575.3 405.5v7.5M579.5 405.5v7.5M584.1 405.5v7.5M569.2 405.5v7.5M573.7 405.5v7.5M572.5 405.5v7.5M599.3 405.5v7.5M593.5 405.5v7.5M592.1 405.5v7.5M577.0 405.5v7.5M585.5 405.5v7.5M575.3 405.5v7.5M585.2 405.5v7.5M576.0 405.5v7.5M594.0 405.5v7.5M580.1 405.5v7.5M572.5 405.5v7.5M580.1 405.5v7.5M565.1 405.5v7.5M580.3 405.5v7.5M601.7 405.5v7.5M580.5 405.5v7.5M620.0 405.5v7.5M634.3 405.5v7.5M638.5 405.5v7.5M616.8 405.5v7.5M618.8 405.5v7.5M606.5 405.5v7.5M626.8 405.5v7.5M609.3 405.5v7.5M607.6 405.5v7.5M608.5 405.5v7.5M636.2 405.5v7.5M613.6 405.5v7.5M625.7 405.5v7.5M625.9 405.5v7.5M613.9 405.5v7.5M625.6 405.5v7.5M629.6 405.5v7.5M634.1 405.5v7.5M618.3 405.5v7.5M606.9 405.5v7.5M625.8 405.5v7.5M616.7 405.5v7.5M616.2 405.5v7.5M606.3 405.5v7.5M628.1 405.5v7.5M632.8 405.5v7.5M619.2 405.5v7.5M627.1 405.5v7.5M621.8 405.5v7.5M619.8 405.5v7.5M606.3 405.5v7.5M636.3 405.5v7.5M624.0 405.5v7.5M626.2 405.5v7.5M619.6 405.5v7.5M639.1 405.5v7.5M630.9 405.5v7.5M632.3 405.5v7.5M616.8 405.5v7.5M607.5 405.5v7.5M619.3 405.5v7.5M630.1 405.5v7.5M623.7 405.5v7.5M638.8 405.5v7.5M610.4 405.5v7.5M639.1 405.5v7.5M610.7 405.5v7.5M632.3 405.5v7.5M626.2 405.5v7.5M664.0 405.5v7.5M662.5 405.5v7.5M670.0 405.5v7.5M663.6 405.5v7.5M665.7 405.5v7.5M662.0 405.5v7.5M650.4 405.5v7.5M648.9 405.5v7.5M661.2 405.5v7.5M647.6 405.5v7.5M669.5 405.5v7.5M640.6 405.5v7.5M663.2 405.5v7.5M645.4 405.5v7.5M641.3 405.5v7.5M643.0 405.5v7.5M667.5 405.5v7.5M669.9 405.5v7.5M646.3 405.5v7.5M648.6 405.5v7.5M652.9 405.5v7.5M659.8 405.5v7.5M657.1 405.5v7.5M661.1 405.5v7.5M648.6 405.5v7.5M652.7 405.5v7.5M646.1 405.5v7.5M646.4 405.5v7.5M670.5 405.5v7.5M667.9 405.5v7.5M647.6 405.5v7.5M664.3 405.5v7.5M640.2 405.5v7.5M659.0 405.5v7.5M640.3 405.5v7.5M643.5 405.5v7.5M666.3 405.5v7.5M641.7 405.5v7.5M649.7 405.5v7.5M658.2 405.5v7.5M659.7 405.5v7.5M662.8 405.5v7.5M662.2 405.5v7.5M651.9 405.5v7.5M657.3 405.5v7.5M660.4 405.5v7.5M643.6 405.5v7.5M646.6 405.5v7.5M649.2 405.5v7.5M659.9 405.5v7.5M647.8 405.5v7.5M649.1 405.5v7.5M653.0 405.5v7.5M652.6 405.5v7.5M645.1 405.5v7.5M650.2 405.5v7.5M651.6 405.5v7.5M648.0 405.5v7.5M650.1 405.5v7.5M654.3 405.5v7.5M647.2 405.5v7.5M666.1 405.5v7.5M669.9 405.5v7.5M642.1 405.5v7.5M642.1 405.5v7.5M647.8 405.5v7.5M654.2 405.5v7.5M650.4 405.5v7.5M649.6 405.5v7.5M665.3 405.5v7.5M650.6 405.5v7.5M654.7 405.5v7.5M662.3 405.5v7.5M650.3 405.5v7.5M652.3 405.5v7.5M665.6 405.5v7.5M668.4 405.5v7.5M648.8 405.5v7.5M662.7 405.5v7.5M660.8 405.5v7.5M651.0 405.5v7.5M661.1 405.5v7.5M649.1 405.5v7.5M669.3 405.5v7.5M660.8 405.5v7.5M644.2 405.5v7.5M647.9 405.5v7.5M649.0 405.5v7.5M659.3 405.5v7.5M661.4 405.5v7.5M657.9 405.5v7.5M642.6 405.5v7.5M643.2 405.5v7.5M657.0 405.5v7.5M650.0 405.5v7.5M653.2 405.5v7.5M644.5 405.5v7.5M659.8 405.5v7.5M644.2 405.5v7.5M663.4 405.5v7.5M650.4 405.5v7.5M668.1 405.5v7.5M660.2 405.5v7.5M669.2 405.5v7.5M650.1 405.5v7.5M642.3 405.5v7.5M653.6 405.5v7.5M670.4 405.5v7.5M655.5 405.5v7.5M659.1 405.5v7.5M658.0 405.5v7.5M649.4 405.5v7.5M659.4 405.5v7.5M661.5 405.5v7.5M647.7 405.5v7.5M668.7 405.5v7.5M642.3 405.5v7.5M645.9 405.5v7.5M650.8 405.5v7.5M665.6 405.5v7.5" stroke="#f5b82a" stroke-width="0.55" opacity="0.7"/>
<polyline points="558.6,356.70 561.7,356.70 566.7,358.00 573.9,361.25 589.1,369.70 609.5,381.40 629.9,391.15 645.2,397.00 653.3,398.95 657.4,399.60 660.4,398.95 663.0,395.70 665.0,387.90 667.6,371.00 670.6,356.70" fill="none" stroke="#f5b000" stroke-width="1.8" stroke-linejoin="round"/>
<line x1="553.50" y1="355.00" x2="553.50" y2="415.00" stroke="#222" stroke-width="0.7"/>
<line x1="553.50" y1="415.00" x2="678.00" y2="415.00" stroke="#222" stroke-width="0.7"/>
<line x1="551.50" y1="356.70" x2="553.50" y2="356.70" stroke="#222" stroke-width="0.7"/>
<text x="551.20" y="359.28" font-size="7.2" text-anchor="end" fill="#1a1a1a">0.00</text>
<line x1="551.50" y1="372.95" x2="553.50" y2="372.95" stroke="#222" stroke-width="0.7"/>
<text x="551.20" y="375.53" font-size="7.2" text-anchor="end" fill="#1a1a1a">−0.25</text>
<line x1="551.50" y1="389.20" x2="553.50" y2="389.20" stroke="#222" stroke-width="0.7"/>
<text x="551.20" y="391.78" font-size="7.2" text-anchor="end" fill="#1a1a1a">−0.50</text>
<line x1="551.50" y1="405.45" x2="553.50" y2="405.45" stroke="#222" stroke-width="0.7"/>
<text x="551.20" y="408.03" font-size="7.2" text-anchor="end" fill="#1a1a1a">−0.75</text>
<line x1="558.60" y1="415.00" x2="558.60" y2="417.00" stroke="#222" stroke-width="0.7"/>
<text x="558.60" y="423.78" font-size="7.2" text-anchor="middle" fill="#1a1a1a">0</text>
<line x1="590.30" y1="415.00" x2="590.30" y2="417.00" stroke="#222" stroke-width="0.7"/>
<text x="590.30" y="423.78" font-size="7.2" text-anchor="middle" fill="#1a1a1a">3000</text>
<line x1="622.00" y1="415.00" x2="622.00" y2="417.00" stroke="#222" stroke-width="0.7"/>
<text x="622.00" y="423.78" font-size="7.2" text-anchor="middle" fill="#1a1a1a">6000</text>
<line x1="653.70" y1="415.00" x2="653.70" y2="417.00" stroke="#222" stroke-width="0.7"/>
<text x="653.70" y="423.78" font-size="7.2" text-anchor="middle" fill="#1a1a1a">9000</text>
<text x="556.00" y="384.94" font-size="8.2" fill="#111">NES</text>
<text x="577.20" y="384.94" font-size="8.2" fill="#111">-2.5071</text>
<text x="556.0" y="394.94" font-size="8.2" fill="#111"><tspan font-style="italic">P</tspan><tspan font-size="5.5" dy="2.2">adj</tspan></text>
<text x="577.2" y="394.94" font-size="8.2" fill="#111">1.37 x 10<tspan font-size="5.5" dy="-3">-10</tspan></text>
<line x1="374.50" y1="261.00" x2="374.50" y2="330.20" stroke="#222" stroke-width="1.0"/>
<path d="M374.5 257.3 L372.1 261.8 L376.9 261.8Z" fill="#111"/>
<text x="0" y="2.94" font-size="8.2" text-anchor="middle" fill="#111" transform="translate(374.20,382.70) rotate(-90)">Running enrichment score</text>
<text x="384.50" y="436.44" font-size="8.2" fill="#111">Genes ranks</text>
<line x1="433.70" y1="435.00" x2="667.00" y2="435.00" stroke="#222" stroke-width="1.0"/>
<path d="M671.7 435 L667.2 432.6 L667.2 437.4Z" fill="#111"/>
<text x="1.50" y="455.56" font-size="10.5" font-weight="bold">f</text>
<g stroke="#fff" stroke-width="0.45">
<rect x="47.20" y="471.60" width="9.50" height="8.50" fill="#f25a2a"/>
<rect x="56.70" y="471.60" width="9.50" height="8.50" fill="#f8a820"/>
<rect x="66.20" y="471.60" width="9.50" height="8.50" fill="#f8c020"/>
<rect x="75.70" y="471.60" width="9.50" height="8.50" fill="#fcd060"/>
<rect x="85.20" y="471.60" width="9.50" height="8.50" fill="#f25a2a"/>
<rect x="94.70" y="471.60" width="9.50" height="8.50" fill="#f87020"/>
<rect x="104.20" y="471.60" width="9.50" height="8.50" fill="#fdd680"/>
<rect x="47.20" y="480.10" width="9.50" height="8.50" fill="#f88020"/>
<rect x="56.70" y="480.10" width="9.50" height="8.50" fill="#f8a820"/>
<rect x="66.20" y="480.10" width="9.50" height="8.50" fill="#eaeaf5"/>
<rect x="75.70" y="480.10" width="9.50" height="8.50" fill="#fdd888"/>
<rect x="85.20" y="480.10" width="9.50" height="8.50" fill="#f88020"/>
<rect x="94.70" y="480.10" width="9.50" height="8.50" fill="#fdcc60"/>
<rect x="104.20" y="480.10" width="9.50" height="8.50" fill="#e4e4f0"/>
<rect x="47.20" y="488.60" width="9.50" height="8.50" fill="#f88020"/>
<rect x="56.70" y="488.60" width="9.50" height="8.50" fill="#f8b020"/>
<rect x="66.20" y="488.60" width="9.50" height="8.50" fill="#fef6e8"/>
<rect x="75.70" y="488.60" width="9.50" height="8.50" fill="#f8c020"/>
<rect x="85.20" y="488.60" width="9.50" height="8.50" fill="#f88a20"/>
<rect x="94.70" y="488.60" width="9.50" height="8.50" fill="#fde0a8"/>
<rect x="104.20" y="488.60" width="9.50" height="8.50" fill="#fef0d8"/>
<rect x="47.20" y="497.10" width="9.50" height="8.50" fill="#4a58a8"/>
<rect x="56.70" y="497.10" width="9.50" height="8.50" fill="#fde4b0"/>
<rect x="66.20" y="497.10" width="9.50" height="8.50" fill="#fef2e0"/>
<rect x="75.70" y="497.10" width="9.50" height="8.50" fill="#e4e4f0"/>
<rect x="85.20" y="497.10" width="9.50" height="8.50" fill="#2a3a98"/>
<rect x="94.70" y="497.10" width="9.50" height="8.50" fill="#fdd890"/>
<rect x="104.20" y="497.10" width="9.50" height="8.50" fill="#fdd070"/>
<rect x="47.20" y="505.60" width="9.50" height="8.50" fill="#f88c20"/>
<rect x="56.70" y="505.60" width="9.50" height="8.50" fill="#fde0a0"/>
<rect x="66.20" y="505.60" width="9.50" height="8.50" fill="#7078b8"/>
<rect x="75.70" y="505.60" width="9.50" height="8.50" fill="#f8c020"/>
<rect x="85.20" y="505.60" width="9.50" height="8.50" fill="#f88820"/>
<rect x="94.70" y="505.60" width="9.50" height="8.50" fill="#fef6e8"/>
<rect x="104.20" y="505.60" width="9.50" height="8.50" fill="#5060a8"/>
<rect x="47.20" y="514.10" width="9.50" height="8.50" fill="#f87c20"/>
<rect x="56.70" y="514.10" width="9.50" height="8.50" fill="#4858a8"/>
<rect x="66.20" y="514.10" width="9.50" height="8.50" fill="#f8b020"/>
<rect x="75.70" y="514.10" width="9.50" height="8.50" fill="#fcfcfc"/>
<rect x="85.20" y="514.10" width="9.50" height="8.50" fill="#f88420"/>
<rect x="94.70" y="514.10" width="9.50" height="8.50" fill="#2a40a0"/>
<rect x="104.20" y="514.10" width="9.50" height="8.50" fill="#fde6bc"/>
<rect x="47.20" y="522.60" width="9.50" height="8.50" fill="#6470b0"/>
<rect x="56.70" y="522.60" width="9.50" height="8.50" fill="#2a3a98"/>
<rect x="66.20" y="522.60" width="9.50" height="8.50" fill="#7078b8"/>
<rect x="75.70" y="522.60" width="9.50" height="8.50" fill="#f89028"/>
<rect x="85.20" y="522.60" width="9.50" height="8.50" fill="#2a3a98"/>
<rect x="94.70" y="522.60" width="9.50" height="8.50" fill="#3848a0"/>
<rect x="104.20" y="522.60" width="9.50" height="8.50" fill="#2a3a98"/>
<rect x="47.20" y="531.10" width="9.50" height="8.50" fill="#f87020"/>
<rect x="56.70" y="531.10" width="9.50" height="8.50" fill="#2a3a98"/>
<rect x="66.20" y="531.10" width="9.50" height="8.50" fill="#9ca0cc"/>
<rect x="75.70" y="531.10" width="9.50" height="8.50" fill="#f88a28"/>
<rect x="85.20" y="531.10" width="9.50" height="8.50" fill="#1e2e90"/>
<rect x="94.70" y="531.10" width="9.50" height="8.50" fill="#f88a28"/>
<rect x="104.20" y="531.10" width="9.50" height="8.50" fill="#3a50a0"/>
<rect x="47.20" y="539.60" width="9.50" height="8.50" fill="#f88a28"/>
<rect x="56.70" y="539.60" width="9.50" height="8.50" fill="#f8c020"/>
<rect x="66.20" y="539.60" width="9.50" height="8.50" fill="#fccc58"/>
<rect x="75.70" y="539.60" width="9.50" height="8.50" fill="#3a4aa0"/>
<rect x="85.20" y="539.60" width="9.50" height="8.50" fill="#f88a28"/>
<rect x="94.70" y="539.60" width="9.50" height="8.50" fill="#e0e0ee"/>
<rect x="104.20" y="539.60" width="9.50" height="8.50" fill="#fefaf2"/>
<rect x="47.20" y="548.10" width="9.50" height="8.50" fill="#f8c828"/>
<rect x="56.70" y="548.10" width="9.50" height="8.50" fill="#f89828"/>
<rect x="66.20" y="548.10" width="9.50" height="8.50" fill="#8088c0"/>
<rect x="75.70" y="548.10" width="9.50" height="8.50" fill="#2a3a98"/>
<rect x="85.20" y="548.10" width="9.50" height="8.50" fill="#f89028"/>
<rect x="94.70" y="548.10" width="9.50" height="8.50" fill="#f8a028"/>
<rect x="104.20" y="548.10" width="9.50" height="8.50" fill="#3a50a0"/>
<rect x="47.20" y="556.60" width="9.50" height="8.50" fill="#f8b828"/>
<rect x="56.70" y="556.60" width="9.50" height="8.50" fill="#f8b828"/>
<rect x="66.20" y="556.60" width="9.50" height="8.50" fill="#fcc850"/>
<rect x="75.70" y="556.60" width="9.50" height="8.50" fill="#f8f8fc"/>
<rect x="85.20" y="556.60" width="9.50" height="8.50" fill="#fde2a8"/>
<rect x="94.70" y="556.60" width="9.50" height="8.50" fill="#a8acd4"/>
<rect x="104.20" y="556.60" width="9.50" height="8.50" fill="#2a4098"/>
<rect x="47.20" y="565.10" width="9.50" height="8.50" fill="#223494"/>
<rect x="56.70" y="565.10" width="9.50" height="8.50" fill="#f88020"/>
<rect x="66.20" y="565.10" width="9.50" height="8.50" fill="#f8c030"/>
<rect x="75.70" y="565.10" width="9.50" height="8.50" fill="#f87028"/>
<rect x="85.20" y="565.10" width="9.50" height="8.50" fill="#1a2a88"/>
<rect x="94.70" y="565.10" width="9.50" height="8.50" fill="#2a3a98"/>
<rect x="104.20" y="565.10" width="9.50" height="8.50" fill="#f88020"/>
<rect x="47.20" y="573.60" width="9.50" height="8.50" fill="#f89028"/>
<rect x="56.70" y="573.60" width="9.50" height="8.50" fill="#fde8b8"/>
<rect x="66.20" y="573.60" width="9.50" height="8.50" fill="#a8acd8"/>
<rect x="75.70" y="573.60" width="9.50" height="8.50" fill="#fef8ec"/>
<rect x="85.20" y="573.60" width="9.50" height="8.50" fill="#f8c020"/>
<rect x="94.70" y="573.60" width="9.50" height="8.50" fill="#9ca0cc"/>
<rect x="104.20" y="573.60" width="9.50" height="8.50" fill="#7078b8"/>
<rect x="116.40" y="471.60" width="9.50" height="8.50" fill="#f89020"/>
<rect x="125.90" y="471.60" width="9.50" height="8.50" fill="#f88020"/>
<rect x="135.40" y="471.60" width="9.50" height="8.50" fill="#f88020"/>
<rect x="144.90" y="471.60" width="9.50" height="8.50" fill="#f86a28"/>
<rect x="154.40" y="471.60" width="9.50" height="8.50" fill="#f88028"/>
<rect x="163.90" y="471.60" width="9.50" height="8.50" fill="#f8a020"/>
<rect x="173.40" y="471.60" width="9.50" height="8.50" fill="#d0d0e8"/>
<rect x="116.40" y="480.10" width="9.50" height="8.50" fill="#f89820"/>
<rect x="125.90" y="480.10" width="9.50" height="8.50" fill="#f88a20"/>
<rect x="135.40" y="480.10" width="9.50" height="8.50" fill="#f88a20"/>
<rect x="144.90" y="480.10" width="9.50" height="8.50" fill="#f88020"/>
<rect x="154.40" y="480.10" width="9.50" height="8.50" fill="#f89820"/>
<rect x="163.90" y="480.10" width="9.50" height="8.50" fill="#fde8c0"/>
<rect x="173.40" y="480.10" width="9.50" height="8.50" fill="#e8e8f4"/>
<rect x="116.40" y="488.60" width="9.50" height="8.50" fill="#f88a20"/>
<rect x="125.90" y="488.60" width="9.50" height="8.50" fill="#f88028"/>
<rect x="135.40" y="488.60" width="9.50" height="8.50" fill="#fcc850"/>
<rect x="144.90" y="488.60" width="9.50" height="8.50" fill="#f8a028"/>
<rect x="154.40" y="488.60" width="9.50" height="8.50" fill="#fef6e8"/>
<rect x="163.90" y="488.60" width="9.50" height="8.50" fill="#d0d0e8"/>
<rect x="173.40" y="488.60" width="9.50" height="8.50" fill="#fefafa"/>
<rect x="116.40" y="497.10" width="9.50" height="8.50" fill="#5060a8"/>
<rect x="125.90" y="497.10" width="9.50" height="8.50" fill="#fef0d8"/>
<rect x="135.40" y="497.10" width="9.50" height="8.50" fill="#f8b820"/>
<rect x="144.90" y="497.10" width="9.50" height="8.50" fill="#fcd070"/>
<rect x="154.40" y="497.10" width="9.50" height="8.50" fill="#fcc850"/>
<rect x="163.90" y="497.10" width="9.50" height="8.50" fill="#c0c0e0"/>
<rect x="173.40" y="497.10" width="9.50" height="8.50" fill="#6870b0"/>
<rect x="116.40" y="505.60" width="9.50" height="8.50" fill="#fefcf8"/>
<rect x="125.90" y="505.60" width="9.50" height="8.50" fill="#f8c020"/>
<rect x="135.40" y="505.60" width="9.50" height="8.50" fill="#fde8c0"/>
<rect x="144.90" y="505.60" width="9.50" height="8.50" fill="#f8c020"/>
<rect x="154.40" y="505.60" width="9.50" height="8.50" fill="#fde4b0"/>
<rect x="163.90" y="505.60" width="9.50" height="8.50" fill="#f8c020"/>
<rect x="173.40" y="505.60" width="9.50" height="8.50" fill="#c0c4e0"/>
<rect x="116.40" y="514.10" width="9.50" height="8.50" fill="#2a3a98"/>
<rect x="125.90" y="514.10" width="9.50" height="8.50" fill="#3040a0"/>
<rect x="135.40" y="514.10" width="9.50" height="8.50" fill="#fccc60"/>
<rect x="144.90" y="514.10" width="9.50" height="8.50" fill="#e8e8f4"/>
<rect x="154.40" y="514.10" width="9.50" height="8.50" fill="#7078b8"/>
<rect x="163.90" y="514.10" width="9.50" height="8.50" fill="#f89828"/>
<rect x="173.40" y="514.10" width="9.50" height="8.50" fill="#fde8c0"/>
<rect x="116.40" y="522.60" width="9.50" height="8.50" fill="#7880b8"/>
<rect x="125.90" y="522.60" width="9.50" height="8.50" fill="#f89028"/>
<rect x="135.40" y="522.60" width="9.50" height="8.50" fill="#1e3090"/>
<rect x="144.90" y="522.60" width="9.50" height="8.50" fill="#2a3a98"/>
<rect x="154.40" y="522.60" width="9.50" height="8.50" fill="#f8b820"/>
<rect x="163.90" y="522.60" width="9.50" height="8.50" fill="#fef6e8"/>
<rect x="173.40" y="522.60" width="9.50" height="8.50" fill="#f89828"/>
<rect x="116.40" y="531.10" width="9.50" height="8.50" fill="#2a3a98"/>
<rect x="125.90" y="531.10" width="9.50" height="8.50" fill="#f87828"/>
<rect x="135.40" y="531.10" width="9.50" height="8.50" fill="#1a2a88"/>
<rect x="144.90" y="531.10" width="9.50" height="8.50" fill="#8088c0"/>
<rect x="154.40" y="531.10" width="9.50" height="8.50" fill="#5060a8"/>
<rect x="163.90" y="531.10" width="9.50" height="8.50" fill="#e4e4f0"/>
<rect x="173.40" y="531.10" width="9.50" height="8.50" fill="#f8c030"/>
<rect x="116.40" y="539.60" width="9.50" height="8.50" fill="#fcc850"/>
<rect x="125.90" y="539.60" width="9.50" height="8.50" fill="#f8b820"/>
<rect x="135.40" y="539.60" width="9.50" height="8.50" fill="#fde8c0"/>
<rect x="144.90" y="539.60" width="9.50" height="8.50" fill="#3a4aa0"/>
<rect x="154.40" y="539.60" width="9.50" height="8.50" fill="#fef8f0"/>
<rect x="163.90" y="539.60" width="9.50" height="8.50" fill="#f8c020"/>
<rect x="173.40" y="539.60" width="9.50" height="8.50" fill="#fcd070"/>
<rect x="116.40" y="548.10" width="9.50" height="8.50" fill="#2a3a98"/>
<rect x="125.90" y="548.10" width="9.50" height="8.50" fill="#f89028"/>
<rect x="135.40" y="548.10" width="9.50" height="8.50" fill="#f8b820"/>
<rect x="144.90" y="548.10" width="9.50" height="8.50" fill="#f88a28"/>
<rect x="154.40" y="548.10" width="9.50" height="8.50" fill="#f89828"/>
<rect x="163.90" y="548.10" width="9.50" height="8.50" fill="#e4e4f0"/>
<rect x="173.40" y="548.10" width="9.50" height="8.50" fill="#6870b0"/>
<rect x="116.40" y="556.60" width="9.50" height="8.50" fill="#f8c020"/>
<rect x="125.90" y="556.60" width="9.50" height="8.50" fill="#f88a28"/>
<rect x="135.40" y="556.60" width="9.50" height="8.50" fill="#f8a028"/>
<rect x="144.90" y="556.60" width="9.50" height="8.50" fill="#f8c020"/>
<rect x="154.40" y="556.60" width="9.50" height="8.50" fill="#e8e8f4"/>
<rect x="163.90" y="556.60" width="9.50" height="8.50" fill="#f8c020"/>
<rect x="173.40" y="556.60" width="9.50" height="8.50" fill="#a8acd4"/>
<rect x="116.40" y="565.10" width="9.50" height="8.50" fill="#e8384a"/>
<rect x="125.90" y="565.10" width="9.50" height="8.50" fill="#f89020"/>
<rect x="135.40" y="565.10" width="9.50" height="8.50" fill="#1a2a88"/>
<rect x="144.90" y="565.10" width="9.50" height="8.50" fill="#2a3a98"/>
<rect x="154.40" y="565.10" width="9.50" height="8.50" fill="#1a2a88"/>
<rect x="163.90" y="565.10" width="9.50" height="8.50" fill="#f87828"/>
<rect x="173.40" y="565.10" width="9.50" height="8.50" fill="#2a4098"/>
<rect x="116.40" y="573.60" width="9.50" height="8.50" fill="#fcd060"/>
<rect x="125.90" y="573.60" width="9.50" height="8.50" fill="#f8a028"/>
<rect x="135.40" y="573.60" width="9.50" height="8.50" fill="#f89828"/>
<rect x="144.90" y="573.60" width="9.50" height="8.50" fill="#fcc850"/>
<rect x="154.40" y="573.60" width="9.50" height="8.50" fill="#fccc58"/>
<rect x="163.90" y="573.60" width="9.50" height="8.50" fill="#fdeecc"/>
<rect x="173.40" y="573.60" width="9.50" height="8.50" fill="#fef6e0"/>
<rect x="185.60" y="471.60" width="9.50" height="8.50" fill="#7c84c0"/>
<rect x="195.10" y="471.60" width="9.50" height="8.50" fill="#2a40a0"/>
<rect x="204.60" y="471.60" width="9.50" height="8.50" fill="#3848a0"/>
<rect x="214.10" y="471.60" width="9.50" height="8.50" fill="#a8acd4"/>
<rect x="223.60" y="471.60" width="9.50" height="8.50" fill="#7880b8"/>
<rect x="233.10" y="471.60" width="9.50" height="8.50" fill="#2a3a98"/>
<rect x="242.60" y="471.60" width="9.50" height="8.50" fill="#2a3a98"/>
<rect x="252.10" y="471.60" width="9.50" height="8.50" fill="#2a40a0"/>
<rect x="261.60" y="471.60" width="9.50" height="8.50" fill="#fde4b0"/>
<rect x="271.10" y="471.60" width="9.50" height="8.50" fill="#4a58a8"/>
<rect x="185.60" y="480.10" width="9.50" height="8.50" fill="#b0b4d8"/>
<rect x="195.10" y="480.10" width="9.50" height="8.50" fill="#9ca0cc"/>
<rect x="204.60" y="480.10" width="9.50" height="8.50" fill="#b0b4d8"/>
<rect x="214.10" y="480.10" width="9.50" height="8.50" fill="#fefaf0"/>
<rect x="223.60" y="480.10" width="9.50" height="8.50" fill="#fefefe"/>
<rect x="233.10" y="480.10" width="9.50" height="8.50" fill="#7078b8"/>
<rect x="242.60" y="480.10" width="9.50" height="8.50" fill="#a0a4d0"/>
<rect x="252.10" y="480.10" width="9.50" height="8.50" fill="#e8e8f4"/>
<rect x="261.60" y="480.10" width="9.50" height="8.50" fill="#c0c4e0"/>
<rect x="271.10" y="480.10" width="9.50" height="8.50" fill="#d8d8ec"/>
<rect x="185.60" y="488.60" width="9.50" height="8.50" fill="#a8acd4"/>
<rect x="195.10" y="488.60" width="9.50" height="8.50" fill="#b8bcdc"/>
<rect x="204.60" y="488.60" width="9.50" height="8.50" fill="#c0c4e0"/>
<rect x="214.10" y="488.60" width="9.50" height="8.50" fill="#ececf5"/>
<rect x="223.60" y="488.60" width="9.50" height="8.50" fill="#e4e4f0"/>
<rect x="233.10" y="488.60" width="9.50" height="8.50" fill="#b0b4d8"/>
<rect x="242.60" y="488.60" width="9.50" height="8.50" fill="#a0a4d0"/>
<rect x="252.10" y="488.60" width="9.50" height="8.50" fill="#a8acd4"/>
<rect x="261.60" y="488.60" width="9.50" height="8.50" fill="#8890c4"/>
<rect x="271.10" y="488.60" width="9.50" height="8.50" fill="#fef4e0"/>
<rect x="185.60" y="497.10" width="9.50" height="8.50" fill="#8890c4"/>
<rect x="195.10" y="497.10" width="9.50" height="8.50" fill="#f89020"/>
<rect x="204.60" y="497.10" width="9.50" height="8.50" fill="#f89020"/>
<rect x="214.10" y="497.10" width="9.50" height="8.50" fill="#e4e4f0"/>
<rect x="223.60" y="497.10" width="9.50" height="8.50" fill="#fde8c0"/>
<rect x="233.10" y="497.10" width="9.50" height="8.50" fill="#a8acd4"/>
<rect x="242.60" y="497.10" width="9.50" height="8.50" fill="#ececf5"/>
<rect x="252.10" y="497.10" width="9.50" height="8.50" fill="#fde0a0"/>
<rect x="261.60" y="497.10" width="9.50" height="8.50" fill="#f8c020"/>
<rect x="271.10" y="497.10" width="9.50" height="8.50" fill="#fde8c0"/>
<rect x="185.60" y="505.60" width="9.50" height="8.50" fill="#4a58a8"/>
<rect x="195.10" y="505.60" width="9.50" height="8.50" fill="#b8bcdc"/>
<rect x="204.60" y="505.60" width="9.50" height="8.50" fill="#f8f8fc"/>
<rect x="214.10" y="505.60" width="9.50" height="8.50" fill="#e4e4f0"/>
<rect x="223.60" y="505.60" width="9.50" height="8.50" fill="#c8c8e4"/>
<rect x="233.10" y="505.60" width="9.50" height="8.50" fill="#b0b4d8"/>
<rect x="242.60" y="505.60" width="9.50" height="8.50" fill="#2a3a98"/>
<rect x="252.10" y="505.60" width="9.50" height="8.50" fill="#3a4aa0"/>
<rect x="261.60" y="505.60" width="9.50" height="8.50" fill="#8088c0"/>
<rect x="271.10" y="505.60" width="9.50" height="8.50" fill="#2a3a98"/>
<rect x="185.60" y="514.10" width="9.50" height="8.50" fill="#2a3a98"/>
<rect x="195.10" y="514.10" width="9.50" height="8.50" fill="#9ca0cc"/>
<rect x="204.60" y="514.10" width="9.50" height="8.50" fill="#8088c0"/>
<rect x="214.10" y="514.10" width="9.50" height="8.50" fill="#f4f4fa"/>
<rect x="223.60" y="514.10" width="9.50" height="8.50" fill="#fde4b0"/>
<rect x="233.10" y="514.10" width="9.50" height="8.50" fill="#7078b8"/>
<rect x="242.60" y="514.10" width="9.50" height="8.50" fill="#3a50a0"/>
<rect x="252.10" y="514.10" width="9.50" height="8.50" fill="#2a40a0"/>
<rect x="261.60" y="514.10" width="9.50" height="8.50" fill="#fdecc8"/>
<rect x="271.10" y="514.10" width="9.50" height="8.50" fill="#3a50a0"/>
<rect x="185.60" y="522.60" width="9.50" height="8.50" fill="#2a3a98"/>
<rect x="195.10" y="522.60" width="9.50" height="8.50" fill="#2a3a98"/>
<rect x="204.60" y="522.60" width="9.50" height="8.50" fill="#2a3a98"/>
<rect x="214.10" y="522.60" width="9.50" height="8.50" fill="#f0f0f8"/>
<rect x="223.60" y="522.60" width="9.50" height="8.50" fill="#fde8c0"/>
<rect x="233.10" y="522.60" width="9.50" height="8.50" fill="#2a3a98"/>
<rect x="242.60" y="522.60" width="9.50" height="8.50" fill="#2a3a98"/>
<rect x="252.10" y="522.60" width="9.50" height="8.50" fill="#2a3a98"/>
<rect x="261.60" y="522.60" width="9.50" height="8.50" fill="#2a3a98"/>
<rect x="271.10" y="522.60" width="9.50" height="8.50" fill="#7880b8"/>
<rect x="185.60" y="531.10" width="9.50" height="8.50" fill="#3a4aa0"/>
<rect x="195.10" y="531.10" width="9.50" height="8.50" fill="#2a3a98"/>
<rect x="204.60" y="531.10" width="9.50" height="8.50" fill="#2a3a98"/>
<rect x="214.10" y="531.10" width="9.50" height="8.50" fill="#d8d8ec"/>
<rect x="223.60" y="531.10" width="9.50" height="8.50" fill="#fccc58"/>
<rect x="233.10" y="531.10" width="9.50" height="8.50" fill="#2a3a98"/>
<rect x="242.60" y="531.10" width="9.50" height="8.50" fill="#2a3a98"/>
<rect x="252.10" y="531.10" width="9.50" height="8.50" fill="#fdd888"/>
<rect x="261.60" y="531.10" width="9.50" height="8.50" fill="#2a3a98"/>
<rect x="271.10" y="531.10" width="9.50" height="8.50" fill="#1e2e90"/>
<rect x="185.60" y="539.60" width="9.50" height="8.50" fill="#6068b0"/>
<rect x="195.10" y="539.60" width="9.50" height="8.50" fill="#2a3a98"/>
<rect x="204.60" y="539.60" width="9.50" height="8.50" fill="#3a4aa0"/>
<rect x="214.10" y="539.60" width="9.50" height="8.50" fill="#e4e4f0"/>
<rect x="223.60" y="539.60" width="9.50" height="8.50" fill="#6870b0"/>
<rect x="233.10" y="539.60" width="9.50" height="8.50" fill="#2a3a98"/>
<rect x="242.60" y="539.60" width="9.50" height="8.50" fill="#6068b0"/>
<rect x="252.10" y="539.60" width="9.50" height="8.50" fill="#ececf5"/>
<rect x="261.60" y="539.60" width="9.50" height="8.50" fill="#2a3a98"/>
<rect x="271.10" y="539.60" width="9.50" height="8.50" fill="#3a4aa0"/>
<rect x="185.60" y="548.10" width="9.50" height="8.50" fill="#3a4aa0"/>
<rect x="195.10" y="548.10" width="9.50" height="8.50" fill="#4050a8"/>
<rect x="204.60" y="548.10" width="9.50" height="8.50" fill="#2a3a98"/>
<rect x="214.10" y="548.10" width="9.50" height="8.50" fill="#fdecc8"/>
<rect x="223.60" y="548.10" width="9.50" height="8.50" fill="#fefefe"/>
<rect x="233.10" y="548.10" width="9.50" height="8.50" fill="#4050a8"/>
<rect x="242.60" y="548.10" width="9.50" height="8.50" fill="#2a3a98"/>
<rect x="252.10" y="548.10" width="9.50" height="8.50" fill="#ececf5"/>
<rect x="261.60" y="548.10" width="9.50" height="8.50" fill="#fde0a0"/>
<rect x="271.10" y="548.10" width="9.50" height="8.50" fill="#fef6e8"/>
<rect x="185.60" y="556.60" width="9.50" height="8.50" fill="#4a58a8"/>
<rect x="195.10" y="556.60" width="9.50" height="8.50" fill="#2a3a98"/>
<rect x="204.60" y="556.60" width="9.50" height="8.50" fill="#2a3a98"/>
<rect x="214.10" y="556.60" width="9.50" height="8.50" fill="#e8e8f4"/>
<rect x="223.60" y="556.60" width="9.50" height="8.50" fill="#f8f8fc"/>
<rect x="233.10" y="556.60" width="9.50" height="8.50" fill="#2a3a98"/>
<rect x="242.60" y="556.60" width="9.50" height="8.50" fill="#4050a8"/>
<rect x="252.10" y="556.60" width="9.50" height="8.50" fill="#2a3a98"/>
<rect x="261.60" y="556.60" width="9.50" height="8.50" fill="#2a3a98"/>
<rect x="271.10" y="556.60" width="9.50" height="8.50" fill="#9ca0cc"/>
<rect x="185.60" y="565.10" width="9.50" height="8.50" fill="#2a3a98"/>
<rect x="195.10" y="565.10" width="9.50" height="8.50" fill="#fefefe"/>
<rect x="204.60" y="565.10" width="9.50" height="8.50" fill="#4a58a8"/>
<rect x="214.10" y="565.10" width="9.50" height="8.50" fill="#fefefe"/>
<rect x="223.60" y="565.10" width="9.50" height="8.50" fill="#5060a8"/>
<rect x="233.10" y="565.10" width="9.50" height="8.50" fill="#2a3a98"/>
<rect x="242.60" y="565.10" width="9.50" height="8.50" fill="#2a3a98"/>
<rect x="252.10" y="565.10" width="9.50" height="8.50" fill="#2a3a98"/>
<rect x="261.60" y="565.10" width="9.50" height="8.50" fill="#2a3a98"/>
<rect x="271.10" y="565.10" width="9.50" height="8.50" fill="#2a3a98"/>
<rect x="185.60" y="573.60" width="9.50" height="8.50" fill="#4050a8"/>
<rect x="195.10" y="573.60" width="9.50" height="8.50" fill="#6870b0"/>
<rect x="204.60" y="573.60" width="9.50" height="8.50" fill="#7078b8"/>
<rect x="214.10" y="573.60" width="9.50" height="8.50" fill="#fefaf0"/>
<rect x="223.60" y="573.60" width="9.50" height="8.50" fill="#b0b4d8"/>
<rect x="233.10" y="573.60" width="9.50" height="8.50" fill="#6870b0"/>
<rect x="242.60" y="573.60" width="9.50" height="8.50" fill="#4050a8"/>
<rect x="252.10" y="573.60" width="9.50" height="8.50" fill="#5060a8"/>
<rect x="261.60" y="573.60" width="9.50" height="8.50" fill="#6870b0"/>
<rect x="271.10" y="573.60" width="9.50" height="8.50" fill="#3a4aa0"/>
<rect x="283.30" y="471.60" width="9.50" height="8.50" fill="#2a3a98"/>
<rect x="292.80" y="471.60" width="9.50" height="8.50" fill="#2a40a0"/>
<rect x="302.30" y="471.60" width="9.50" height="8.50" fill="#3040a0"/>
<rect x="311.80" y="471.60" width="9.50" height="8.50" fill="#2a40a0"/>
<rect x="321.30" y="471.60" width="9.50" height="8.50" fill="#2a40a0"/>
<rect x="330.80" y="471.60" width="9.50" height="8.50" fill="#3848a0"/>
<rect x="283.30" y="480.10" width="9.50" height="8.50" fill="#2a40a0"/>
<rect x="292.80" y="480.10" width="9.50" height="8.50" fill="#2a40a0"/>
<rect x="302.30" y="480.10" width="9.50" height="8.50" fill="#2a3a98"/>
<rect x="311.80" y="480.10" width="9.50" height="8.50" fill="#2a40a0"/>
<rect x="321.30" y="480.10" width="9.50" height="8.50" fill="#2a40a0"/>
<rect x="330.80" y="480.10" width="9.50" height="8.50" fill="#3a4aa0"/>
<rect x="283.30" y="488.60" width="9.50" height="8.50" fill="#3a50a0"/>
<rect x="292.80" y="488.60" width="9.50" height="8.50" fill="#4050a8"/>
<rect x="302.30" y="488.60" width="9.50" height="8.50" fill="#5060a8"/>
<rect x="311.80" y="488.60" width="9.50" height="8.50" fill="#4a58a8"/>
<rect x="321.30" y="488.60" width="9.50" height="8.50" fill="#5868b0"/>
<rect x="330.80" y="488.60" width="9.50" height="8.50" fill="#a0a4d0"/>
<rect x="283.30" y="497.10" width="9.50" height="8.50" fill="#fcd070"/>
<rect x="292.80" y="497.10" width="9.50" height="8.50" fill="#f8c020"/>
<rect x="302.30" y="497.10" width="9.50" height="8.50" fill="#e0e0ee"/>
<rect x="311.80" y="497.10" width="9.50" height="8.50" fill="#fcc850"/>
<rect x="321.30" y="497.10" width="9.50" height="8.50" fill="#fde4b0"/>
<rect x="330.80" y="497.10" width="9.50" height="8.50" fill="#fccc60"/>
<rect x="283.30" y="505.60" width="9.50" height="8.50" fill="#2a3a98"/>
<rect x="292.80" y="505.60" width="9.50" height="8.50" fill="#2a40a0"/>
<rect x="302.30" y="505.60" width="9.50" height="8.50" fill="#2a3a98"/>
<rect x="311.80" y="505.60" width="9.50" height="8.50" fill="#2a40a0"/>
<rect x="321.30" y="505.60" width="9.50" height="8.50" fill="#2a3a98"/>
<rect x="330.80" y="505.60" width="9.50" height="8.50" fill="#3040a0"/>
<rect x="283.30" y="514.10" width="9.50" height="8.50" fill="#2a40a0"/>
<rect x="292.80" y="514.10" width="9.50" height="8.50" fill="#3a4aa0"/>
<rect x="302.30" y="514.10" width="9.50" height="8.50" fill="#9ca0cc"/>
<rect x="311.80" y="514.10" width="9.50" height="8.50" fill="#4050a8"/>
<rect x="321.30" y="514.10" width="9.50" height="8.50" fill="#3848a0"/>
<rect x="330.80" y="514.10" width="9.50" height="8.50" fill="#3848a0"/>
<rect x="283.30" y="522.60" width="9.50" height="8.50" fill="#1e3090"/>
<rect x="292.80" y="522.60" width="9.50" height="8.50" fill="#1e3090"/>
<rect x="302.30" y="522.60" width="9.50" height="8.50" fill="#223494"/>
<rect x="311.80" y="522.60" width="9.50" height="8.50" fill="#2a3a98"/>
<rect x="321.30" y="522.60" width="9.50" height="8.50" fill="#1e3090"/>
<rect x="330.80" y="522.60" width="9.50" height="8.50" fill="#223494"/>
<rect x="283.30" y="531.10" width="9.50" height="8.50" fill="#1a2a88"/>
<rect x="292.80" y="531.10" width="9.50" height="8.50" fill="#223494"/>
<rect x="302.30" y="531.10" width="9.50" height="8.50" fill="#2a3a98"/>
<rect x="311.80" y="531.10" width="9.50" height="8.50" fill="#1a2080"/>
<rect x="321.30" y="531.10" width="9.50" height="8.50" fill="#1a2a88"/>
<rect x="330.80" y="531.10" width="9.50" height="8.50" fill="#1a2080"/>
<rect x="283.30" y="539.60" width="9.50" height="8.50" fill="#2a3a98"/>
<rect x="292.80" y="539.60" width="9.50" height="8.50" fill="#3040a0"/>
<rect x="302.30" y="539.60" width="9.50" height="8.50" fill="#2a40a0"/>
<rect x="311.80" y="539.60" width="9.50" height="8.50" fill="#3848a0"/>
<rect x="321.30" y="539.60" width="9.50" height="8.50" fill="#2a3a98"/>
<rect x="330.80" y="539.60" width="9.50" height="8.50" fill="#3040a0"/>
<rect x="283.30" y="548.10" width="9.50" height="8.50" fill="#2a40a0"/>
<rect x="292.80" y="548.10" width="9.50" height="8.50" fill="#3848a0"/>
<rect x="302.30" y="548.10" width="9.50" height="8.50" fill="#3040a0"/>
<rect x="311.80" y="548.10" width="9.50" height="8.50" fill="#2a40a0"/>
<rect x="321.30" y="548.10" width="9.50" height="8.50" fill="#3848a0"/>
<rect x="330.80" y="548.10" width="9.50" height="8.50" fill="#2a40a0"/>
<rect x="283.30" y="556.60" width="9.50" height="8.50" fill="#8088c0"/>
<rect x="292.80" y="556.60" width="9.50" height="8.50" fill="#c0c4e0"/>
<rect x="302.30" y="556.60" width="9.50" height="8.50" fill="#fdeac0"/>
<rect x="311.80" y="556.60" width="9.50" height="8.50" fill="#5060a8"/>
<rect x="321.30" y="556.60" width="9.50" height="8.50" fill="#f8f8fc"/>
<rect x="330.80" y="556.60" width="9.50" height="8.50" fill="#a0a4d0"/>
<rect x="283.30" y="565.10" width="9.50" height="8.50" fill="#2a3a98"/>
<rect x="292.80" y="565.10" width="9.50" height="8.50" fill="#223494"/>
<rect x="302.30" y="565.10" width="9.50" height="8.50" fill="#2a3a98"/>
<rect x="311.80" y="565.10" width="9.50" height="8.50" fill="#8088c0"/>
<rect x="321.30" y="565.10" width="9.50" height="8.50" fill="#2a3a98"/>
<rect x="330.80" y="565.10" width="9.50" height="8.50" fill="#2a40a0"/>
<rect x="283.30" y="573.60" width="9.50" height="8.50" fill="#2a40a0"/>
<rect x="292.80" y="573.60" width="9.50" height="8.50" fill="#2a3a98"/>
<rect x="302.30" y="573.60" width="9.50" height="8.50" fill="#2a3a98"/>
<rect x="311.80" y="573.60" width="9.50" height="8.50" fill="#2a40a0"/>
<rect x="321.30" y="573.60" width="9.50" height="8.50" fill="#2a3a98"/>
<rect x="330.80" y="573.60" width="9.50" height="8.50" fill="#2a40a0"/>
</g>
<rect x="46.20" y="455.40" width="68.50" height="15.00" fill="#fff" stroke="#333" stroke-width="0.8"/>
<text x="80.45" y="465.73" font-size="7.9" text-anchor="middle" fill="#111">AP−1</text>
<line x1="51.95" y1="582.10" x2="51.95" y2="583.90" stroke="#333" stroke-width="0.6"/>
<text x="0" y="3.01" font-size="8.4" text-anchor="end" font-style="italic" transform="translate(51.95,585.40) rotate(-90)">FOS</text>
<line x1="61.45" y1="582.10" x2="61.45" y2="583.90" stroke="#333" stroke-width="0.6"/>
<text x="0" y="3.01" font-size="8.4" text-anchor="end" font-style="italic" transform="translate(61.45,585.40) rotate(-90)">FOSB</text>
<line x1="70.95" y1="582.10" x2="70.95" y2="583.90" stroke="#333" stroke-width="0.6"/>
<text x="0" y="3.01" font-size="8.4" text-anchor="end" font-style="italic" transform="translate(70.95,585.40) rotate(-90)">FOSL1</text>
<line x1="80.45" y1="582.10" x2="80.45" y2="583.90" stroke="#333" stroke-width="0.6"/>
<text x="0" y="3.01" font-size="8.4" text-anchor="end" font-style="italic" transform="translate(80.45,585.40) rotate(-90)">FOSL2</text>
<line x1="89.95" y1="582.10" x2="89.95" y2="583.90" stroke="#333" stroke-width="0.6"/>
<text x="0" y="3.01" font-size="8.4" text-anchor="end" font-style="italic" transform="translate(89.95,585.40) rotate(-90)">JUN</text>
<line x1="99.45" y1="582.10" x2="99.45" y2="583.90" stroke="#333" stroke-width="0.6"/>
<text x="0" y="3.01" font-size="8.4" text-anchor="end" font-style="italic" transform="translate(99.45,585.40) rotate(-90)">JUNB</text>
<line x1="108.95" y1="582.10" x2="108.95" y2="583.90" stroke="#333" stroke-width="0.6"/>
<text x="0" y="3.01" font-size="8.4" text-anchor="end" font-style="italic" transform="translate(108.95,585.40) rotate(-90)">JUND</text>
<rect x="115.40" y="455.40" width="68.50" height="15.00" fill="#fff" stroke="#333" stroke-width="0.8"/>
<text x="149.65" y="465.73" font-size="7.9" text-anchor="middle" fill="#111">NFκB</text>
<line x1="121.15" y1="582.10" x2="121.15" y2="583.90" stroke="#333" stroke-width="0.6"/>
<text x="0" y="3.01" font-size="8.4" text-anchor="end" font-style="italic" transform="translate(121.15,585.40) rotate(-90)">NFKB1</text>
<line x1="130.65" y1="582.10" x2="130.65" y2="583.90" stroke="#333" stroke-width="0.6"/>
<text x="0" y="3.01" font-size="8.4" text-anchor="end" font-style="italic" transform="translate(130.65,585.40) rotate(-90)">NFKBIZ</text>
<line x1="140.15" y1="582.10" x2="140.15" y2="583.90" stroke="#333" stroke-width="0.6"/>
<text x="0" y="3.01" font-size="8.4" text-anchor="end" font-style="italic" transform="translate(140.15,585.40) rotate(-90)">NR4A1</text>
<line x1="149.65" y1="582.10" x2="149.65" y2="583.90" stroke="#333" stroke-width="0.6"/>
<text x="0" y="3.01" font-size="8.4" text-anchor="end" font-style="italic" transform="translate(149.65,585.40) rotate(-90)">NR4A2</text>
<line x1="159.15" y1="582.10" x2="159.15" y2="583.90" stroke="#333" stroke-width="0.6"/>
<text x="0" y="3.01" font-size="8.4" text-anchor="end" font-style="italic" transform="translate(159.15,585.40) rotate(-90)">NR4A3</text>
<line x1="168.65" y1="582.10" x2="168.65" y2="583.90" stroke="#333" stroke-width="0.6"/>
<text x="0" y="3.01" font-size="8.4" text-anchor="end" font-style="italic" transform="translate(168.65,585.40) rotate(-90)">RELB</text>
<line x1="178.15" y1="582.10" x2="178.15" y2="583.90" stroke="#333" stroke-width="0.6"/>
<text x="0" y="3.01" font-size="8.4" text-anchor="end" font-style="italic" transform="translate(178.15,585.40) rotate(-90)">RELA</text>
<rect x="184.60" y="455.40" width="97.00" height="15.00" fill="#fff" stroke="#333" stroke-width="0.8"/>
<text x="233.10" y="465.73" font-size="7.9" text-anchor="middle" fill="#111">OXPHOS</text>
<line x1="190.35" y1="582.10" x2="190.35" y2="583.90" stroke="#333" stroke-width="0.6"/>
<text x="0" y="3.01" font-size="8.4" text-anchor="end" font-style="italic" transform="translate(190.35,585.40) rotate(-90)">NDUFA6</text>
<line x1="199.85" y1="582.10" x2="199.85" y2="583.90" stroke="#333" stroke-width="0.6"/>
<text x="0" y="3.01" font-size="8.4" text-anchor="end" font-style="italic" transform="translate(199.85,585.40) rotate(-90)">NDUFA7</text>
<line x1="209.35" y1="582.10" x2="209.35" y2="583.90" stroke="#333" stroke-width="0.6"/>
<text x="0" y="3.01" font-size="8.4" text-anchor="end" font-style="italic" transform="translate(209.35,585.40) rotate(-90)">NDUFB5</text>
<line x1="218.85" y1="582.10" x2="218.85" y2="583.90" stroke="#333" stroke-width="0.6"/>
<text x="0" y="3.01" font-size="8.4" text-anchor="end" font-style="italic" transform="translate(218.85,585.40) rotate(-90)">SDHAF1</text>
<line x1="228.35" y1="582.10" x2="228.35" y2="583.90" stroke="#333" stroke-width="0.6"/>
<text x="0" y="3.01" font-size="8.4" text-anchor="end" font-style="italic" transform="translate(228.35,585.40) rotate(-90)">SDHAF2</text>
<line x1="237.85" y1="582.10" x2="237.85" y2="583.90" stroke="#333" stroke-width="0.6"/>
<text x="0" y="3.01" font-size="8.4" text-anchor="end" font-style="italic" transform="translate(237.85,585.40) rotate(-90)">COX5A</text>
<line x1="247.35" y1="582.10" x2="247.35" y2="583.90" stroke="#333" stroke-width="0.6"/>
<text x="0" y="3.01" font-size="8.4" text-anchor="end" font-style="italic" transform="translate(247.35,585.40) rotate(-90)">COX5B</text>
<line x1="256.85" y1="582.10" x2="256.85" y2="583.90" stroke="#333" stroke-width="0.6"/>
<text x="0" y="3.01" font-size="8.4" text-anchor="end" font-style="italic" transform="translate(256.85,585.40) rotate(-90)">COX6A1</text>
<line x1="266.35" y1="582.10" x2="266.35" y2="583.90" stroke="#333" stroke-width="0.6"/>
<text x="0" y="3.01" font-size="8.4" text-anchor="end" font-style="italic" transform="translate(266.35,585.40) rotate(-90)">ATP5F1C</text>
<line x1="275.85" y1="582.10" x2="275.85" y2="583.90" stroke="#333" stroke-width="0.6"/>
<text x="0" y="3.01" font-size="8.4" text-anchor="end" font-style="italic" transform="translate(275.85,585.40) rotate(-90)">ATP5MF</text>
<rect x="282.30" y="455.40" width="59.00" height="15.00" fill="#fff" stroke="#333" stroke-width="0.8"/>
<text x="311.80" y="465.73" font-size="7.9" text-anchor="middle" fill="#111">RP</text>
<line x1="288.05" y1="582.10" x2="288.05" y2="583.90" stroke="#333" stroke-width="0.6"/>
<text x="0" y="3.01" font-size="8.4" text-anchor="end" font-style="italic" transform="translate(288.05,585.40) rotate(-90)">RPS2</text>
<line x1="297.55" y1="582.10" x2="297.55" y2="583.90" stroke="#333" stroke-width="0.6"/>
<text x="0" y="3.01" font-size="8.4" text-anchor="end" font-style="italic" transform="translate(297.55,585.40) rotate(-90)">RPS3</text>
<line x1="307.05" y1="582.10" x2="307.05" y2="583.90" stroke="#333" stroke-width="0.6"/>
<text x="0" y="3.01" font-size="8.4" text-anchor="end" font-style="italic" transform="translate(307.05,585.40) rotate(-90)">RPS11</text>
<line x1="316.55" y1="582.10" x2="316.55" y2="583.90" stroke="#333" stroke-width="0.6"/>
<text x="0" y="3.01" font-size="8.4" text-anchor="end" font-style="italic" transform="translate(316.55,585.40) rotate(-90)">RPL3</text>
<line x1="326.05" y1="582.10" x2="326.05" y2="583.90" stroke="#333" stroke-width="0.6"/>
<text x="0" y="3.01" font-size="8.4" text-anchor="end" font-style="italic" transform="translate(326.05,585.40) rotate(-90)">RPL11</text>
<line x1="335.55" y1="582.10" x2="335.55" y2="583.90" stroke="#333" stroke-width="0.6"/>
<text x="0" y="3.01" font-size="8.4" text-anchor="end" font-style="italic" transform="translate(335.55,585.40) rotate(-90)">RPL19</text>
<line x1="46.60" y1="471.60" x2="46.60" y2="582.40" stroke="#222" stroke-width="0.7"/>
<line x1="46.60" y1="582.40" x2="340.30" y2="582.40" stroke="#222" stroke-width="0.7"/>
<line x1="44.60" y1="475.85" x2="46.60" y2="475.85" stroke="#222" stroke-width="0.6"/>
<text x="42.00" y="478.82" font-size="8.3" text-anchor="end">scOVCA5</text>
<line x1="44.60" y1="484.35" x2="46.60" y2="484.35" stroke="#222" stroke-width="0.6"/>
<text x="42.00" y="487.32" font-size="8.3" text-anchor="end">scOVCA4</text>
<line x1="44.60" y1="492.85" x2="46.60" y2="492.85" stroke="#222" stroke-width="0.6"/>
<text x="42.00" y="495.82" font-size="8.3" text-anchor="end">scOVCA3</text>
<line x1="44.60" y1="501.35" x2="46.60" y2="501.35" stroke="#222" stroke-width="0.6"/>
<text x="42.00" y="504.32" font-size="8.3" text-anchor="end">scOVCA2</text>
<line x1="44.60" y1="509.85" x2="46.60" y2="509.85" stroke="#222" stroke-width="0.6"/>
<text x="42.00" y="512.82" font-size="8.3" text-anchor="end">scCRC5</text>
<line x1="44.60" y1="518.35" x2="46.60" y2="518.35" stroke="#222" stroke-width="0.6"/>
<text x="42.00" y="521.32" font-size="8.3" text-anchor="end">scCRC4</text>
<line x1="44.60" y1="526.85" x2="46.60" y2="526.85" stroke="#222" stroke-width="0.6"/>
<text x="42.00" y="529.82" font-size="8.3" text-anchor="end">scCRC3</text>
<line x1="44.60" y1="535.35" x2="46.60" y2="535.35" stroke="#222" stroke-width="0.6"/>
<text x="42.00" y="538.32" font-size="8.3" text-anchor="end">scCRC2</text>
<line x1="44.60" y1="543.85" x2="46.60" y2="543.85" stroke="#222" stroke-width="0.6"/>
<text x="42.00" y="546.82" font-size="8.3" text-anchor="end">scCRC1</text>
<line x1="44.60" y1="552.35" x2="46.60" y2="552.35" stroke="#222" stroke-width="0.6"/>
<text x="42.00" y="555.32" font-size="8.3" text-anchor="end">scBRCA6</text>
<line x1="44.60" y1="560.85" x2="46.60" y2="560.85" stroke="#222" stroke-width="0.6"/>
<text x="42.00" y="563.82" font-size="8.3" text-anchor="end">scBRCA5</text>
<line x1="44.60" y1="569.35" x2="46.60" y2="569.35" stroke="#222" stroke-width="0.6"/>
<text x="42.00" y="572.32" font-size="8.3" text-anchor="end">scBRCA4</text>
<line x1="44.60" y1="577.85" x2="46.60" y2="577.85" stroke="#222" stroke-width="0.6"/>
<text x="42.00" y="580.82" font-size="8.3" text-anchor="end">scBRCA1</text>
<g stroke="#fff" stroke-width="0.45">
<rect x="391.20" y="470.70" width="9.44" height="9.22" fill="#ee4a40"/>
<rect x="400.64" y="470.70" width="9.44" height="9.22" fill="#f86a28"/>
<rect x="410.08" y="470.70" width="9.44" height="9.22" fill="#f89828"/>
<rect x="419.52" y="470.70" width="9.44" height="9.22" fill="#f8a028"/>
<rect x="428.96" y="470.70" width="9.44" height="9.22" fill="#ee4a40"/>
<rect x="438.40" y="470.70" width="9.44" height="9.22" fill="#f25a30"/>
<rect x="447.84" y="470.70" width="9.44" height="9.22" fill="#f87028"/>
<rect x="391.20" y="479.92" width="9.44" height="9.22" fill="#f88020"/>
<rect x="400.64" y="479.92" width="9.44" height="9.22" fill="#f88820"/>
<rect x="410.08" y="479.92" width="9.44" height="9.22" fill="#fde8c0"/>
<rect x="419.52" y="479.92" width="9.44" height="9.22" fill="#f89828"/>
<rect x="428.96" y="479.92" width="9.44" height="9.22" fill="#f89828"/>
<rect x="438.40" y="479.92" width="9.44" height="9.22" fill="#fcc850"/>
<rect x="447.84" y="479.92" width="9.44" height="9.22" fill="#fcc850"/>
<rect x="391.20" y="489.14" width="9.44" height="9.22" fill="#f87028"/>
<rect x="400.64" y="489.14" width="9.44" height="9.22" fill="#f88020"/>
<rect x="410.08" y="489.14" width="9.44" height="9.22" fill="#fde0a8"/>
<rect x="419.52" y="489.14" width="9.44" height="9.22" fill="#fddc98"/>
<rect x="428.96" y="489.14" width="9.44" height="9.22" fill="#f88020"/>
<rect x="438.40" y="489.14" width="9.44" height="9.22" fill="#f8a028"/>
<rect x="447.84" y="489.14" width="9.44" height="9.22" fill="#f89828"/>
<rect x="391.20" y="498.36" width="9.44" height="9.22" fill="#2a3a98"/>
<rect x="400.64" y="498.36" width="9.44" height="9.22" fill="#f89020"/>
<rect x="410.08" y="498.36" width="9.44" height="9.22" fill="#fcc858"/>
<rect x="419.52" y="498.36" width="9.44" height="9.22" fill="#f8c030"/>
<rect x="428.96" y="498.36" width="9.44" height="9.22" fill="#1e2e90"/>
<rect x="438.40" y="498.36" width="9.44" height="9.22" fill="#f8a028"/>
<rect x="447.84" y="498.36" width="9.44" height="9.22" fill="#9ca0cc"/>
<rect x="391.20" y="507.58" width="9.44" height="9.22" fill="#f88020"/>
<rect x="400.64" y="507.58" width="9.44" height="9.22" fill="#f88a20"/>
<rect x="410.08" y="507.58" width="9.44" height="9.22" fill="#fcd070"/>
<rect x="419.52" y="507.58" width="9.44" height="9.22" fill="#f8b020"/>
<rect x="428.96" y="507.58" width="9.44" height="9.22" fill="#f86a28"/>
<rect x="438.40" y="507.58" width="9.44" height="9.22" fill="#ececf5"/>
<rect x="447.84" y="507.58" width="9.44" height="9.22" fill="#fcd070"/>
<rect x="391.20" y="516.80" width="9.44" height="9.22" fill="#f88020"/>
<rect x="400.64" y="516.80" width="9.44" height="9.22" fill="#fef6e8"/>
<rect x="410.08" y="516.80" width="9.44" height="9.22" fill="#fdecc8"/>
<rect x="419.52" y="516.80" width="9.44" height="9.22" fill="#fcc850"/>
<rect x="428.96" y="516.80" width="9.44" height="9.22" fill="#2a3a98"/>
<rect x="438.40" y="516.80" width="9.44" height="9.22" fill="#1e3090"/>
<rect x="447.84" y="516.80" width="9.44" height="9.22" fill="#2a40a0"/>
<rect x="391.20" y="526.02" width="9.44" height="9.22" fill="#281e8c"/>
<rect x="400.64" y="526.02" width="9.44" height="9.22" fill="#1e3090"/>
<rect x="410.08" y="526.02" width="9.44" height="9.22" fill="#f89028"/>
<rect x="419.52" y="526.02" width="9.44" height="9.22" fill="#f25a30"/>
<rect x="428.96" y="526.02" width="9.44" height="9.22" fill="#1e2e90"/>
<rect x="438.40" y="526.02" width="9.44" height="9.22" fill="#2a3a98"/>
<rect x="447.84" y="526.02" width="9.44" height="9.22" fill="#3040a0"/>
<rect x="391.20" y="535.24" width="9.44" height="9.22" fill="#f87028"/>
<rect x="400.64" y="535.24" width="9.44" height="9.22" fill="#a0a4d0"/>
<rect x="410.08" y="535.24" width="9.44" height="9.22" fill="#fef6e8"/>
<rect x="419.52" y="535.24" width="9.44" height="9.22" fill="#3a50a0"/>
<rect x="428.96" y="535.24" width="9.44" height="9.22" fill="#f0f0f8"/>
<rect x="438.40" y="535.24" width="9.44" height="9.22" fill="#f89028"/>
<rect x="447.84" y="535.24" width="9.44" height="9.22" fill="#3a50a0"/>
<rect x="391.20" y="544.46" width="9.44" height="9.22" fill="#f87028"/>
<rect x="400.64" y="544.46" width="9.44" height="9.22" fill="#fcd060"/>
<rect x="410.08" y="544.46" width="9.44" height="9.22" fill="#fde8c0"/>
<rect x="419.52" y="544.46" width="9.44" height="9.22" fill="#f8a028"/>
<rect x="428.96" y="544.46" width="9.44" height="9.22" fill="#f87028"/>
<rect x="438.40" y="544.46" width="9.44" height="9.22" fill="#fde0a8"/>
<rect x="447.84" y="544.46" width="9.44" height="9.22" fill="#fcc850"/>
<rect x="391.20" y="553.68" width="9.44" height="9.22" fill="#f89828"/>
<rect x="400.64" y="553.68" width="9.44" height="9.22" fill="#f88028"/>
<rect x="410.08" y="553.68" width="9.44" height="9.22" fill="#f89828"/>
<rect x="419.52" y="553.68" width="9.44" height="9.22" fill="#2a40a0"/>
<rect x="428.96" y="553.68" width="9.44" height="9.22" fill="#f89828"/>
<rect x="438.40" y="553.68" width="9.44" height="9.22" fill="#f89028"/>
<rect x="447.84" y="553.68" width="9.44" height="9.22" fill="#fefaf0"/>
<rect x="391.20" y="562.90" width="9.44" height="9.22" fill="#f89828"/>
<rect x="400.64" y="562.90" width="9.44" height="9.22" fill="#4050a8"/>
<rect x="410.08" y="562.90" width="9.44" height="9.22" fill="#f89828"/>
<rect x="419.52" y="562.90" width="9.44" height="9.22" fill="#f89028"/>
<rect x="428.96" y="562.90" width="9.44" height="9.22" fill="#2a40a0"/>
<rect x="438.40" y="562.90" width="9.44" height="9.22" fill="#2a40a0"/>
<rect x="447.84" y="562.90" width="9.44" height="9.22" fill="#1e3090"/>
<rect x="391.20" y="572.12" width="9.44" height="9.22" fill="#f8c020"/>
<rect x="400.64" y="572.12" width="9.44" height="9.22" fill="#fde8c0"/>
<rect x="410.08" y="572.12" width="9.44" height="9.22" fill="#f8f8fc"/>
<rect x="419.52" y="572.12" width="9.44" height="9.22" fill="#f89828"/>
<rect x="428.96" y="572.12" width="9.44" height="9.22" fill="#b0b4d8"/>
<rect x="438.40" y="572.12" width="9.44" height="9.22" fill="#9ca0cc"/>
<rect x="447.84" y="572.12" width="9.44" height="9.22" fill="#b0b4d8"/>
<rect x="460.28" y="470.70" width="9.44" height="9.22" fill="#2a3a98"/>
<rect x="469.72" y="470.70" width="9.44" height="9.22" fill="#f88020"/>
<rect x="479.16" y="470.70" width="9.44" height="9.22" fill="#f05a30"/>
<rect x="488.60" y="470.70" width="9.44" height="9.22" fill="#ee4a40"/>
<rect x="498.04" y="470.70" width="9.44" height="9.22" fill="#f25a30"/>
<rect x="507.48" y="470.70" width="9.44" height="9.22" fill="#f88020"/>
<rect x="516.92" y="470.70" width="9.44" height="9.22" fill="#2a40a0"/>
<rect x="460.28" y="479.92" width="9.44" height="9.22" fill="#f88020"/>
<rect x="469.72" y="479.92" width="9.44" height="9.22" fill="#f88a20"/>
<rect x="479.16" y="479.92" width="9.44" height="9.22" fill="#f88820"/>
<rect x="488.60" y="479.92" width="9.44" height="9.22" fill="#f89020"/>
<rect x="498.04" y="479.92" width="9.44" height="9.22" fill="#f89020"/>
<rect x="507.48" y="479.92" width="9.44" height="9.22" fill="#fde4b0"/>
<rect x="516.92" y="479.92" width="9.44" height="9.22" fill="#c8c8e4"/>
<rect x="460.28" y="489.14" width="9.44" height="9.22" fill="#f88020"/>
<rect x="469.72" y="489.14" width="9.44" height="9.22" fill="#f87028"/>
<rect x="479.16" y="489.14" width="9.44" height="9.22" fill="#fcd070"/>
<rect x="488.60" y="489.14" width="9.44" height="9.22" fill="#f89020"/>
<rect x="498.04" y="489.14" width="9.44" height="9.22" fill="#7c84c0"/>
<rect x="507.48" y="489.14" width="9.44" height="9.22" fill="#3a50a0"/>
<rect x="516.92" y="489.14" width="9.44" height="9.22" fill="#e8e8f4"/>
<rect x="460.28" y="498.36" width="9.44" height="9.22" fill="#f8a020"/>
<rect x="469.72" y="498.36" width="9.44" height="9.22" fill="#2a3a98"/>
<rect x="479.16" y="498.36" width="9.44" height="9.22" fill="#f89020"/>
<rect x="488.60" y="498.36" width="9.44" height="9.22" fill="#f88a20"/>
<rect x="498.04" y="498.36" width="9.44" height="9.22" fill="#f87028"/>
<rect x="507.48" y="498.36" width="9.44" height="9.22" fill="#4a58a8"/>
<rect x="516.92" y="498.36" width="9.44" height="9.22" fill="#2a40a0"/>
<rect x="460.28" y="507.58" width="9.44" height="9.22" fill="#f88020"/>
<rect x="469.72" y="507.58" width="9.44" height="9.22" fill="#f88020"/>
<rect x="479.16" y="507.58" width="9.44" height="9.22" fill="#f88020"/>
<rect x="488.60" y="507.58" width="9.44" height="9.22" fill="#f89828"/>
<rect x="498.04" y="507.58" width="9.44" height="9.22" fill="#f8c030"/>
<rect x="507.48" y="507.58" width="9.44" height="9.22" fill="#fde0a0"/>
<rect x="516.92" y="507.58" width="9.44" height="9.22" fill="#fdd888"/>
<rect x="460.28" y="516.80" width="9.44" height="9.22" fill="#f25a30"/>
<rect x="469.72" y="516.80" width="9.44" height="9.22" fill="#f89020"/>
<rect x="479.16" y="516.80" width="9.44" height="9.22" fill="#8890c4"/>
<rect x="488.60" y="516.80" width="9.44" height="9.22" fill="#fcd070"/>
<rect x="498.04" y="516.80" width="9.44" height="9.22" fill="#f88a20"/>
<rect x="507.48" y="516.80" width="9.44" height="9.22" fill="#f88a20"/>
<rect x="516.92" y="516.80" width="9.44" height="9.22" fill="#f87828"/>
<rect x="460.28" y="526.02" width="9.44" height="9.22" fill="#f87028"/>
<rect x="469.72" y="526.02" width="9.44" height="9.22" fill="#f88a20"/>
<rect x="479.16" y="526.02" width="9.44" height="9.22" fill="#1e3090"/>
<rect x="488.60" y="526.02" width="9.44" height="9.22" fill="#c8c8e4"/>
<rect x="498.04" y="526.02" width="9.44" height="9.22" fill="#f25a30"/>
<rect x="507.48" y="526.02" width="9.44" height="9.22" fill="#f88020"/>
<rect x="516.92" y="526.02" width="9.44" height="9.22" fill="#a8acd4"/>
<rect x="460.28" y="535.24" width="9.44" height="9.22" fill="#1e2e90"/>
<rect x="469.72" y="535.24" width="9.44" height="9.22" fill="#c0c4e0"/>
<rect x="479.16" y="535.24" width="9.44" height="9.22" fill="#fef0d8"/>
<rect x="488.60" y="535.24" width="9.44" height="9.22" fill="#3a50a0"/>
<rect x="498.04" y="535.24" width="9.44" height="9.22" fill="#f88020"/>
<rect x="507.48" y="535.24" width="9.44" height="9.22" fill="#2a40a0"/>
<rect x="516.92" y="535.24" width="9.44" height="9.22" fill="#2a40a0"/>
<rect x="460.28" y="544.46" width="9.44" height="9.22" fill="#f88020"/>
<rect x="469.72" y="544.46" width="9.44" height="9.22" fill="#f89020"/>
<rect x="479.16" y="544.46" width="9.44" height="9.22" fill="#f8c020"/>
<rect x="488.60" y="544.46" width="9.44" height="9.22" fill="#3a4aa0"/>
<rect x="498.04" y="544.46" width="9.44" height="9.22" fill="#f89020"/>
<rect x="507.48" y="544.46" width="9.44" height="9.22" fill="#f89828"/>
<rect x="516.92" y="544.46" width="9.44" height="9.22" fill="#f89828"/>
<rect x="460.28" y="553.68" width="9.44" height="9.22" fill="#fcc850"/>
<rect x="469.72" y="553.68" width="9.44" height="9.22" fill="#f87828"/>
<rect x="479.16" y="553.68" width="9.44" height="9.22" fill="#f89020"/>
<rect x="488.60" y="553.68" width="9.44" height="9.22" fill="#f88020"/>
<rect x="498.04" y="553.68" width="9.44" height="9.22" fill="#f86a30"/>
<rect x="507.48" y="553.68" width="9.44" height="9.22" fill="#f88020"/>
<rect x="516.92" y="553.68" width="9.44" height="9.22" fill="#fefafa"/>
<rect x="460.28" y="562.90" width="9.44" height="9.22" fill="#f87028"/>
<rect x="469.72" y="562.90" width="9.44" height="9.22" fill="#f86a28"/>
<rect x="479.16" y="562.90" width="9.44" height="9.22" fill="#2a40a0"/>
<rect x="488.60" y="562.90" width="9.44" height="9.22" fill="#2a40a0"/>
<rect x="498.04" y="562.90" width="9.44" height="9.22" fill="#f88a20"/>
<rect x="507.48" y="562.90" width="9.44" height="9.22" fill="#f89020"/>
<rect x="516.92" y="562.90" width="9.44" height="9.22" fill="#b0b4d8"/>
<rect x="460.28" y="572.12" width="9.44" height="9.22" fill="#f89020"/>
<rect x="469.72" y="572.12" width="9.44" height="9.22" fill="#f88a20"/>
<rect x="479.16" y="572.12" width="9.44" height="9.22" fill="#f89828"/>
<rect x="488.60" y="572.12" width="9.44" height="9.22" fill="#fcd060"/>
<rect x="498.04" y="572.12" width="9.44" height="9.22" fill="#f89020"/>
<rect x="507.48" y="572.12" width="9.44" height="9.22" fill="#f8c020"/>
<rect x="516.92" y="572.12" width="9.44" height="9.22" fill="#f4f4fa"/>
<rect x="529.36" y="470.70" width="9.44" height="9.22" fill="#fcd070"/>
<rect x="538.80" y="470.70" width="9.44" height="9.22" fill="#2a40a0"/>
<rect x="548.24" y="470.70" width="9.44" height="9.22" fill="#2a40a0"/>
<rect x="557.68" y="470.70" width="9.44" height="9.22" fill="#3040a0"/>
<rect x="567.12" y="470.70" width="9.44" height="9.22" fill="#2a40a0"/>
<rect x="576.56" y="470.70" width="9.44" height="9.22" fill="#1e2e90"/>
<rect x="586.00" y="470.70" width="9.44" height="9.22" fill="#2a3a98"/>
<rect x="595.44" y="470.70" width="9.44" height="9.22" fill="#2a40a0"/>
<rect x="604.88" y="470.70" width="9.44" height="9.22" fill="#3a50a0"/>
<rect x="614.32" y="470.70" width="9.44" height="9.22" fill="#3a4aa0"/>
<rect x="529.36" y="479.92" width="9.44" height="9.22" fill="#6870b0"/>
<rect x="538.80" y="479.92" width="9.44" height="9.22" fill="#3a50a0"/>
<rect x="548.24" y="479.92" width="9.44" height="9.22" fill="#8088c0"/>
<rect x="557.68" y="479.92" width="9.44" height="9.22" fill="#fefaf0"/>
<rect x="567.12" y="479.92" width="9.44" height="9.22" fill="#fef8ec"/>
<rect x="576.56" y="479.92" width="9.44" height="9.22" fill="#2a40a0"/>
<rect x="586.00" y="479.92" width="9.44" height="9.22" fill="#3a4aa0"/>
<rect x="595.44" y="479.92" width="9.44" height="9.22" fill="#3a50a0"/>
<rect x="604.88" y="479.92" width="9.44" height="9.22" fill="#3a50a0"/>
<rect x="614.32" y="479.92" width="9.44" height="9.22" fill="#4050a8"/>
<rect x="529.36" y="489.14" width="9.44" height="9.22" fill="#4a58a8"/>
<rect x="538.80" y="489.14" width="9.44" height="9.22" fill="#a8acd4"/>
<rect x="548.24" y="489.14" width="9.44" height="9.22" fill="#3a4aa0"/>
<rect x="557.68" y="489.14" width="9.44" height="9.22" fill="#f0f0f8"/>
<rect x="567.12" y="489.14" width="9.44" height="9.22" fill="#fdecc8"/>
<rect x="576.56" y="489.14" width="9.44" height="9.22" fill="#5868b0"/>
<rect x="586.00" y="489.14" width="9.44" height="9.22" fill="#4050a8"/>
<rect x="595.44" y="489.14" width="9.44" height="9.22" fill="#7078b8"/>
<rect x="604.88" y="489.14" width="9.44" height="9.22" fill="#4050a8"/>
<rect x="614.32" y="489.14" width="9.44" height="9.22" fill="#4a58a8"/>
<rect x="529.36" y="498.36" width="9.44" height="9.22" fill="#3040a0"/>
<rect x="538.80" y="498.36" width="9.44" height="9.22" fill="#9ca0cc"/>
<rect x="548.24" y="498.36" width="9.44" height="9.22" fill="#fcd060"/>
<rect x="557.68" y="498.36" width="9.44" height="9.22" fill="#6870b0"/>
<rect x="567.12" y="498.36" width="9.44" height="9.22" fill="#e8e8f4"/>
<rect x="576.56" y="498.36" width="9.44" height="9.22" fill="#fef6e0"/>
<rect x="586.00" y="498.36" width="9.44" height="9.22" fill="#3a50a0"/>
<rect x="595.44" y="498.36" width="9.44" height="9.22" fill="#fefaf4"/>
<rect x="604.88" y="498.36" width="9.44" height="9.22" fill="#fcd070"/>
<rect x="614.32" y="498.36" width="9.44" height="9.22" fill="#f88a20"/>
<rect x="529.36" y="507.58" width="9.44" height="9.22" fill="#2a40a0"/>
<rect x="538.80" y="507.58" width="9.44" height="9.22" fill="#3040a0"/>
<rect x="548.24" y="507.58" width="9.44" height="9.22" fill="#3848a0"/>
<rect x="557.68" y="507.58" width="9.44" height="9.22" fill="#b0b4d8"/>
<rect x="567.12" y="507.58" width="9.44" height="9.22" fill="#fde8c0"/>
<rect x="576.56" y="507.58" width="9.44" height="9.22" fill="#2a3a98"/>
<rect x="586.00" y="507.58" width="9.44" height="9.22" fill="#2a40a0"/>
<rect x="595.44" y="507.58" width="9.44" height="9.22" fill="#2a3a98"/>
<rect x="604.88" y="507.58" width="9.44" height="9.22" fill="#3a4aa0"/>
<rect x="614.32" y="507.58" width="9.44" height="9.22" fill="#2a40a0"/>
<rect x="529.36" y="516.80" width="9.44" height="9.22" fill="#1e3090"/>
<rect x="538.80" y="516.80" width="9.44" height="9.22" fill="#2a3a98"/>
<rect x="548.24" y="516.80" width="9.44" height="9.22" fill="#2a3a98"/>
<rect x="557.68" y="516.80" width="9.44" height="9.22" fill="#fefefe"/>
<rect x="567.12" y="516.80" width="9.44" height="9.22" fill="#f89020"/>
<rect x="576.56" y="516.80" width="9.44" height="9.22" fill="#5060a8"/>
<rect x="586.00" y="516.80" width="9.44" height="9.22" fill="#1e2e90"/>
<rect x="595.44" y="516.80" width="9.44" height="9.22" fill="#2a3a98"/>
<rect x="604.88" y="516.80" width="9.44" height="9.22" fill="#2a40a0"/>
<rect x="614.32" y="516.80" width="9.44" height="9.22" fill="#2a3a98"/>
<rect x="529.36" y="526.02" width="9.44" height="9.22" fill="#2a40a0"/>
<rect x="538.80" y="526.02" width="9.44" height="9.22" fill="#fde4a8"/>
<rect x="548.24" y="526.02" width="9.44" height="9.22" fill="#2a3a98"/>
<rect x="557.68" y="526.02" width="9.44" height="9.22" fill="#fde8c0"/>
<rect x="567.12" y="526.02" width="9.44" height="9.22" fill="#f89020"/>
<rect x="576.56" y="526.02" width="9.44" height="9.22" fill="#2a40a0"/>
<rect x="586.00" y="526.02" width="9.44" height="9.22" fill="#2a40a0"/>
<rect x="595.44" y="526.02" width="9.44" height="9.22" fill="#2a40a0"/>
<rect x="604.88" y="526.02" width="9.44" height="9.22" fill="#2a40a0"/>
<rect x="614.32" y="526.02" width="9.44" height="9.22" fill="#7078b8"/>
<rect x="529.36" y="535.24" width="9.44" height="9.22" fill="#2a40a0"/>
<rect x="538.80" y="535.24" width="9.44" height="9.22" fill="#2a40a0"/>
<rect x="548.24" y="535.24" width="9.44" height="9.22" fill="#2a3a98"/>
<rect x="557.68" y="535.24" width="9.44" height="9.22" fill="#7078b8"/>
<rect x="567.12" y="535.24" width="9.44" height="9.22" fill="#f8b818"/>
<rect x="576.56" y="535.24" width="9.44" height="9.22" fill="#2a3a98"/>
<rect x="586.00" y="535.24" width="9.44" height="9.22" fill="#a8acd4"/>
<rect x="595.44" y="535.24" width="9.44" height="9.22" fill="#2a40a0"/>
<rect x="604.88" y="535.24" width="9.44" height="9.22" fill="#6870b0"/>
<rect x="614.32" y="535.24" width="9.44" height="9.22" fill="#2a40a0"/>
<rect x="529.36" y="544.46" width="9.44" height="9.22" fill="#6870b0"/>
<rect x="538.80" y="544.46" width="9.44" height="9.22" fill="#2a40a0"/>
<rect x="548.24" y="544.46" width="9.44" height="9.22" fill="#fefefe"/>
<rect x="557.68" y="544.46" width="9.44" height="9.22" fill="#ececf5"/>
<rect x="567.12" y="544.46" width="9.44" height="9.22" fill="#7078b8"/>
<rect x="576.56" y="544.46" width="9.44" height="9.22" fill="#2a3a98"/>
<rect x="586.00" y="544.46" width="9.44" height="9.22" fill="#b0b4d8"/>
<rect x="595.44" y="544.46" width="9.44" height="9.22" fill="#2a40a0"/>
<rect x="604.88" y="544.46" width="9.44" height="9.22" fill="#3040a0"/>
<rect x="614.32" y="544.46" width="9.44" height="9.22" fill="#2a40a0"/>
<rect x="529.36" y="553.68" width="9.44" height="9.22" fill="#2a40a0"/>
<rect x="538.80" y="553.68" width="9.44" height="9.22" fill="#2a40a0"/>
<rect x="548.24" y="553.68" width="9.44" height="9.22" fill="#2a3a98"/>
<rect x="557.68" y="553.68" width="9.44" height="9.22" fill="#a8acd4"/>
<rect x="567.12" y="553.68" width="9.44" height="9.22" fill="#9ca0cc"/>
<rect x="576.56" y="553.68" width="9.44" height="9.22" fill="#1e3090"/>
<rect x="586.00" y="553.68" width="9.44" height="9.22" fill="#1e2e90"/>
<rect x="595.44" y="553.68" width="9.44" height="9.22" fill="#3040a0"/>
<rect x="604.88" y="553.68" width="9.44" height="9.22" fill="#3a4aa0"/>
<rect x="614.32" y="553.68" width="9.44" height="9.22" fill="#3a4aa0"/>
<rect x="529.36" y="562.90" width="9.44" height="9.22" fill="#8890c4"/>
<rect x="538.80" y="562.90" width="9.44" height="9.22" fill="#2a40a0"/>
<rect x="548.24" y="562.90" width="9.44" height="9.22" fill="#2a40a0"/>
<rect x="557.68" y="562.90" width="9.44" height="9.22" fill="#b0b4d8"/>
<rect x="567.12" y="562.90" width="9.44" height="9.22" fill="#3a50a0"/>
<rect x="576.56" y="562.90" width="9.44" height="9.22" fill="#a8acd4"/>
<rect x="586.00" y="562.90" width="9.44" height="9.22" fill="#2a40a0"/>
<rect x="595.44" y="562.90" width="9.44" height="9.22" fill="#2a40a0"/>
<rect x="604.88" y="562.90" width="9.44" height="9.22" fill="#2a40a0"/>
<rect x="614.32" y="562.90" width="9.44" height="9.22" fill="#3040a0"/>
<rect x="529.36" y="572.12" width="9.44" height="9.22" fill="#2a40a0"/>
<rect x="538.80" y="572.12" width="9.44" height="9.22" fill="#2a40a0"/>
<rect x="548.24" y="572.12" width="9.44" height="9.22" fill="#3040a0"/>
<rect x="557.68" y="572.12" width="9.44" height="9.22" fill="#fde8c0"/>
<rect x="567.12" y="572.12" width="9.44" height="9.22" fill="#b0b4d8"/>
<rect x="576.56" y="572.12" width="9.44" height="9.22" fill="#3040a0"/>
<rect x="586.00" y="572.12" width="9.44" height="9.22" fill="#3848a0"/>
<rect x="595.44" y="572.12" width="9.44" height="9.22" fill="#3a4aa0"/>
<rect x="604.88" y="572.12" width="9.44" height="9.22" fill="#3848a0"/>
<rect x="614.32" y="572.12" width="9.44" height="9.22" fill="#2a40a0"/>
<rect x="626.76" y="470.70" width="9.44" height="9.22" fill="#1e3090"/>
<rect x="636.20" y="470.70" width="9.44" height="9.22" fill="#2a3a98"/>
<rect x="645.64" y="470.70" width="9.44" height="9.22" fill="#2a40a0"/>
<rect x="655.08" y="470.70" width="9.44" height="9.22" fill="#2a40a0"/>
<rect x="664.52" y="470.70" width="9.44" height="9.22" fill="#2a40a0"/>
<rect x="673.96" y="470.70" width="9.44" height="9.22" fill="#1e3090"/>
<rect x="626.76" y="479.92" width="9.44" height="9.22" fill="#2a40a0"/>
<rect x="636.20" y="479.92" width="9.44" height="9.22" fill="#2a40a0"/>
<rect x="645.64" y="479.92" width="9.44" height="9.22" fill="#2a40a0"/>
<rect x="655.08" y="479.92" width="9.44" height="9.22" fill="#3040a0"/>
<rect x="664.52" y="479.92" width="9.44" height="9.22" fill="#2a40a0"/>
<rect x="673.96" y="479.92" width="9.44" height="9.22" fill="#3040a0"/>
<rect x="626.76" y="489.14" width="9.44" height="9.22" fill="#3040a0"/>
<rect x="636.20" y="489.14" width="9.44" height="9.22" fill="#3040a0"/>
<rect x="645.64" y="489.14" width="9.44" height="9.22" fill="#3848a0"/>
<rect x="655.08" y="489.14" width="9.44" height="9.22" fill="#2a40a0"/>
<rect x="664.52" y="489.14" width="9.44" height="9.22" fill="#3040a0"/>
<rect x="673.96" y="489.14" width="9.44" height="9.22" fill="#3848a0"/>
<rect x="626.76" y="498.36" width="9.44" height="9.22" fill="#fefaf4"/>
<rect x="636.20" y="498.36" width="9.44" height="9.22" fill="#f8f8fc"/>
<rect x="645.64" y="498.36" width="9.44" height="9.22" fill="#b0b4d8"/>
<rect x="655.08" y="498.36" width="9.44" height="9.22" fill="#fef0d8"/>
<rect x="664.52" y="498.36" width="9.44" height="9.22" fill="#fde4b0"/>
<rect x="673.96" y="498.36" width="9.44" height="9.22" fill="#ececf5"/>
<rect x="626.76" y="507.58" width="9.44" height="9.22" fill="#2a40a0"/>
<rect x="636.20" y="507.58" width="9.44" height="9.22" fill="#2a40a0"/>
<rect x="645.64" y="507.58" width="9.44" height="9.22" fill="#2a3a98"/>
<rect x="655.08" y="507.58" width="9.44" height="9.22" fill="#2a40a0"/>
<rect x="664.52" y="507.58" width="9.44" height="9.22" fill="#3040a0"/>
<rect x="673.96" y="507.58" width="9.44" height="9.22" fill="#2a40a0"/>
<rect x="626.76" y="516.80" width="9.44" height="9.22" fill="#1e3090"/>
<rect x="636.20" y="516.80" width="9.44" height="9.22" fill="#223494"/>
<rect x="645.64" y="516.80" width="9.44" height="9.22" fill="#1a2080"/>
<rect x="655.08" y="516.80" width="9.44" height="9.22" fill="#2a3a98"/>
<rect x="664.52" y="516.80" width="9.44" height="9.22" fill="#1e2e90"/>
<rect x="673.96" y="516.80" width="9.44" height="9.22" fill="#2a3a98"/>
<rect x="626.76" y="526.02" width="9.44" height="9.22" fill="#1e3090"/>
<rect x="636.20" y="526.02" width="9.44" height="9.22" fill="#1e3090"/>
<rect x="645.64" y="526.02" width="9.44" height="9.22" fill="#2a3a98"/>
<rect x="655.08" y="526.02" width="9.44" height="9.22" fill="#2a40a0"/>
<rect x="664.52" y="526.02" width="9.44" height="9.22" fill="#2a3a98"/>
<rect x="673.96" y="526.02" width="9.44" height="9.22" fill="#2a40a0"/>
<rect x="626.76" y="535.24" width="9.44" height="9.22" fill="#2a40a0"/>
<rect x="636.20" y="535.24" width="9.44" height="9.22" fill="#f89020"/>
<rect x="645.64" y="535.24" width="9.44" height="9.22" fill="#f89020"/>
<rect x="655.08" y="535.24" width="9.44" height="9.22" fill="#f8f8fc"/>
<rect x="664.52" y="535.24" width="9.44" height="9.22" fill="#fdd888"/>
<rect x="673.96" y="535.24" width="9.44" height="9.22" fill="#2a40a0"/>
<rect x="626.76" y="544.46" width="9.44" height="9.22" fill="#4050a8"/>
<rect x="636.20" y="544.46" width="9.44" height="9.22" fill="#5868b0"/>
<rect x="645.64" y="544.46" width="9.44" height="9.22" fill="#4050a8"/>
<rect x="655.08" y="544.46" width="9.44" height="9.22" fill="#2a40a0"/>
<rect x="664.52" y="544.46" width="9.44" height="9.22" fill="#3a50a0"/>
<rect x="673.96" y="544.46" width="9.44" height="9.22" fill="#6068b0"/>
<rect x="626.76" y="553.68" width="9.44" height="9.22" fill="#2a40a0"/>
<rect x="636.20" y="553.68" width="9.44" height="9.22" fill="#f4f4fa"/>
<rect x="645.64" y="553.68" width="9.44" height="9.22" fill="#d8d8ec"/>
<rect x="655.08" y="553.68" width="9.44" height="9.22" fill="#3a4aa0"/>
<rect x="664.52" y="553.68" width="9.44" height="9.22" fill="#b0b4d8"/>
<rect x="673.96" y="553.68" width="9.44" height="9.22" fill="#6068b0"/>
<rect x="626.76" y="562.90" width="9.44" height="9.22" fill="#7078b8"/>
<rect x="636.20" y="562.90" width="9.44" height="9.22" fill="#ececf5"/>
<rect x="645.64" y="562.90" width="9.44" height="9.22" fill="#f8c830"/>
<rect x="655.08" y="562.90" width="9.44" height="9.22" fill="#2a40a0"/>
<rect x="664.52" y="562.90" width="9.44" height="9.22" fill="#3040a0"/>
<rect x="673.96" y="562.90" width="9.44" height="9.22" fill="#3a4aa0"/>
<rect x="626.76" y="572.12" width="9.44" height="9.22" fill="#2a40a0"/>
<rect x="636.20" y="572.12" width="9.44" height="9.22" fill="#2a40a0"/>
<rect x="645.64" y="572.12" width="9.44" height="9.22" fill="#2a40a0"/>
<rect x="655.08" y="572.12" width="9.44" height="9.22" fill="#2a40a0"/>
<rect x="664.52" y="572.12" width="9.44" height="9.22" fill="#2a40a0"/>
<rect x="673.96" y="572.12" width="9.44" height="9.22" fill="#2a40a0"/>
</g>
<rect x="390.20" y="454.70" width="68.08" height="14.80" fill="#fff" stroke="#333" stroke-width="0.8"/>
<text x="424.24" y="464.93" font-size="7.9" text-anchor="middle" fill="#111">AP−1</text>
<line x1="395.92" y1="581.34" x2="395.92" y2="583.14" stroke="#333" stroke-width="0.6"/>
<text x="0" y="3.01" font-size="8.4" text-anchor="end" font-style="italic" transform="translate(395.92,584.64) rotate(-90)">FOS</text>
<line x1="405.36" y1="581.34" x2="405.36" y2="583.14" stroke="#333" stroke-width="0.6"/>
<text x="0" y="3.01" font-size="8.4" text-anchor="end" font-style="italic" transform="translate(405.36,584.64) rotate(-90)">FOSB</text>
<line x1="414.80" y1="581.34" x2="414.80" y2="583.14" stroke="#333" stroke-width="0.6"/>
<text x="0" y="3.01" font-size="8.4" text-anchor="end" font-style="italic" transform="translate(414.80,584.64) rotate(-90)">FOSL1</text>
<line x1="424.24" y1="581.34" x2="424.24" y2="583.14" stroke="#333" stroke-width="0.6"/>
<text x="0" y="3.01" font-size="8.4" text-anchor="end" font-style="italic" transform="translate(424.24,584.64) rotate(-90)">FOSL2</text>
<line x1="433.68" y1="581.34" x2="433.68" y2="583.14" stroke="#333" stroke-width="0.6"/>
<text x="0" y="3.01" font-size="8.4" text-anchor="end" font-style="italic" transform="translate(433.68,584.64) rotate(-90)">JUN</text>
<line x1="443.12" y1="581.34" x2="443.12" y2="583.14" stroke="#333" stroke-width="0.6"/>
<text x="0" y="3.01" font-size="8.4" text-anchor="end" font-style="italic" transform="translate(443.12,584.64) rotate(-90)">JUNB</text>
<line x1="452.56" y1="581.34" x2="452.56" y2="583.14" stroke="#333" stroke-width="0.6"/>
<text x="0" y="3.01" font-size="8.4" text-anchor="end" font-style="italic" transform="translate(452.56,584.64) rotate(-90)">JUND</text>
<rect x="459.28" y="454.70" width="68.08" height="14.80" fill="#fff" stroke="#333" stroke-width="0.8"/>
<text x="493.32" y="464.93" font-size="7.9" text-anchor="middle" fill="#111">NFκB</text>
<line x1="465.00" y1="581.34" x2="465.00" y2="583.14" stroke="#333" stroke-width="0.6"/>
<text x="0" y="3.01" font-size="8.4" text-anchor="end" font-style="italic" transform="translate(465.00,584.64) rotate(-90)">NFKB1</text>
<line x1="474.44" y1="581.34" x2="474.44" y2="583.14" stroke="#333" stroke-width="0.6"/>
<text x="0" y="3.01" font-size="8.4" text-anchor="end" font-style="italic" transform="translate(474.44,584.64) rotate(-90)">NFKBIZ</text>
<line x1="483.88" y1="581.34" x2="483.88" y2="583.14" stroke="#333" stroke-width="0.6"/>
<text x="0" y="3.01" font-size="8.4" text-anchor="end" font-style="italic" transform="translate(483.88,584.64) rotate(-90)">NR4A1</text>
<line x1="493.32" y1="581.34" x2="493.32" y2="583.14" stroke="#333" stroke-width="0.6"/>
<text x="0" y="3.01" font-size="8.4" text-anchor="end" font-style="italic" transform="translate(493.32,584.64) rotate(-90)">NR4A2</text>
<line x1="502.76" y1="581.34" x2="502.76" y2="583.14" stroke="#333" stroke-width="0.6"/>
<text x="0" y="3.01" font-size="8.4" text-anchor="end" font-style="italic" transform="translate(502.76,584.64) rotate(-90)">NR4A3</text>
<line x1="512.20" y1="581.34" x2="512.20" y2="583.14" stroke="#333" stroke-width="0.6"/>
<text x="0" y="3.01" font-size="8.4" text-anchor="end" font-style="italic" transform="translate(512.20,584.64) rotate(-90)">RELB</text>
<line x1="521.64" y1="581.34" x2="521.64" y2="583.14" stroke="#333" stroke-width="0.6"/>
<text x="0" y="3.01" font-size="8.4" text-anchor="end" font-style="italic" transform="translate(521.64,584.64) rotate(-90)">RELA</text>
<rect x="528.36" y="454.70" width="96.40" height="14.80" fill="#fff" stroke="#333" stroke-width="0.8"/>
<text x="576.56" y="464.93" font-size="7.9" text-anchor="middle" fill="#111">OXPHOS</text>
<line x1="534.08" y1="581.34" x2="534.08" y2="583.14" stroke="#333" stroke-width="0.6"/>
<text x="0" y="3.01" font-size="8.4" text-anchor="end" font-style="italic" transform="translate(534.08,584.64) rotate(-90)">NDUFA6</text>
<line x1="543.52" y1="581.34" x2="543.52" y2="583.14" stroke="#333" stroke-width="0.6"/>
<text x="0" y="3.01" font-size="8.4" text-anchor="end" font-style="italic" transform="translate(543.52,584.64) rotate(-90)">NDUFA7</text>
<line x1="552.96" y1="581.34" x2="552.96" y2="583.14" stroke="#333" stroke-width="0.6"/>
<text x="0" y="3.01" font-size="8.4" text-anchor="end" font-style="italic" transform="translate(552.96,584.64) rotate(-90)">NDUFB5</text>
<line x1="562.40" y1="581.34" x2="562.40" y2="583.14" stroke="#333" stroke-width="0.6"/>
<text x="0" y="3.01" font-size="8.4" text-anchor="end" font-style="italic" transform="translate(562.40,584.64) rotate(-90)">SDHAF1</text>
<line x1="571.84" y1="581.34" x2="571.84" y2="583.14" stroke="#333" stroke-width="0.6"/>
<text x="0" y="3.01" font-size="8.4" text-anchor="end" font-style="italic" transform="translate(571.84,584.64) rotate(-90)">SDHAF2</text>
<line x1="581.28" y1="581.34" x2="581.28" y2="583.14" stroke="#333" stroke-width="0.6"/>
<text x="0" y="3.01" font-size="8.4" text-anchor="end" font-style="italic" transform="translate(581.28,584.64) rotate(-90)">COX5A</text>
<line x1="590.72" y1="581.34" x2="590.72" y2="583.14" stroke="#333" stroke-width="0.6"/>
<text x="0" y="3.01" font-size="8.4" text-anchor="end" font-style="italic" transform="translate(590.72,584.64) rotate(-90)">COX5B</text>
<line x1="600.16" y1="581.34" x2="600.16" y2="583.14" stroke="#333" stroke-width="0.6"/>
<text x="0" y="3.01" font-size="8.4" text-anchor="end" font-style="italic" transform="translate(600.16,584.64) rotate(-90)">COX6A1</text>
<line x1="609.60" y1="581.34" x2="609.60" y2="583.14" stroke="#333" stroke-width="0.6"/>
<text x="0" y="3.01" font-size="8.4" text-anchor="end" font-style="italic" transform="translate(609.60,584.64) rotate(-90)">ATP5F1C</text>
<line x1="619.04" y1="581.34" x2="619.04" y2="583.14" stroke="#333" stroke-width="0.6"/>
<text x="0" y="3.01" font-size="8.4" text-anchor="end" font-style="italic" transform="translate(619.04,584.64) rotate(-90)">ATP5MF</text>
<rect x="625.76" y="454.70" width="58.64" height="14.80" fill="#fff" stroke="#333" stroke-width="0.8"/>
<text x="655.08" y="464.93" font-size="7.9" text-anchor="middle" fill="#111">RP</text>
<line x1="631.48" y1="581.34" x2="631.48" y2="583.14" stroke="#333" stroke-width="0.6"/>
<text x="0" y="3.01" font-size="8.4" text-anchor="end" font-style="italic" transform="translate(631.48,584.64) rotate(-90)">RPS2</text>
<line x1="640.92" y1="581.34" x2="640.92" y2="583.14" stroke="#333" stroke-width="0.6"/>
<text x="0" y="3.01" font-size="8.4" text-anchor="end" font-style="italic" transform="translate(640.92,584.64) rotate(-90)">RPS3</text>
<line x1="650.36" y1="581.34" x2="650.36" y2="583.14" stroke="#333" stroke-width="0.6"/>
<text x="0" y="3.01" font-size="8.4" text-anchor="end" font-style="italic" transform="translate(650.36,584.64) rotate(-90)">RPS11</text>
<line x1="659.80" y1="581.34" x2="659.80" y2="583.14" stroke="#333" stroke-width="0.6"/>
<text x="0" y="3.01" font-size="8.4" text-anchor="end" font-style="italic" transform="translate(659.80,584.64) rotate(-90)">RPL3</text>
<line x1="669.24" y1="581.34" x2="669.24" y2="583.14" stroke="#333" stroke-width="0.6"/>
<text x="0" y="3.01" font-size="8.4" text-anchor="end" font-style="italic" transform="translate(669.24,584.64) rotate(-90)">RPL11</text>
<line x1="678.68" y1="581.34" x2="678.68" y2="583.14" stroke="#333" stroke-width="0.6"/>
<text x="0" y="3.01" font-size="8.4" text-anchor="end" font-style="italic" transform="translate(678.68,584.64) rotate(-90)">RPL19</text>
<line x1="390.60" y1="470.70" x2="390.60" y2="581.64" stroke="#222" stroke-width="0.7"/>
<line x1="390.60" y1="581.64" x2="683.40" y2="581.64" stroke="#222" stroke-width="0.7"/>
<line x1="388.60" y1="475.31" x2="390.60" y2="475.31" stroke="#222" stroke-width="0.6"/>
<text x="385.40" y="478.28" font-size="8.3" text-anchor="end">scOVCA5</text>
<line x1="388.60" y1="484.53" x2="390.60" y2="484.53" stroke="#222" stroke-width="0.6"/>
<text x="385.40" y="487.50" font-size="8.3" text-anchor="end">scOVCA4</text>
<line x1="388.60" y1="493.75" x2="390.60" y2="493.75" stroke="#222" stroke-width="0.6"/>
<text x="385.40" y="496.72" font-size="8.3" text-anchor="end">scOVCA3</text>
<line x1="388.60" y1="502.97" x2="390.60" y2="502.97" stroke="#222" stroke-width="0.6"/>
<text x="385.40" y="505.94" font-size="8.3" text-anchor="end">scOVCA2</text>
<line x1="388.60" y1="512.19" x2="390.60" y2="512.19" stroke="#222" stroke-width="0.6"/>
<text x="385.40" y="515.16" font-size="8.3" text-anchor="end">scCRC5</text>
<line x1="388.60" y1="521.41" x2="390.60" y2="521.41" stroke="#222" stroke-width="0.6"/>
<text x="385.40" y="524.38" font-size="8.3" text-anchor="end">scCRC4</text>
<line x1="388.60" y1="530.63" x2="390.60" y2="530.63" stroke="#222" stroke-width="0.6"/>
<text x="385.40" y="533.60" font-size="8.3" text-anchor="end">scCRC3</text>
<line x1="388.60" y1="539.85" x2="390.60" y2="539.85" stroke="#222" stroke-width="0.6"/>
<text x="385.40" y="542.82" font-size="8.3" text-anchor="end">scCRC2</text>
<line x1="388.60" y1="549.07" x2="390.60" y2="549.07" stroke="#222" stroke-width="0.6"/>
<text x="385.40" y="552.04" font-size="8.3" text-anchor="end">scCRC1</text>
<line x1="388.60" y1="558.29" x2="390.60" y2="558.29" stroke="#222" stroke-width="0.6"/>
<text x="385.40" y="561.26" font-size="8.3" text-anchor="end">scBRCA6</text>
<line x1="388.60" y1="567.51" x2="390.60" y2="567.51" stroke="#222" stroke-width="0.6"/>
<text x="385.40" y="570.48" font-size="8.3" text-anchor="end">scBRCA5</text>
<line x1="388.60" y1="576.73" x2="390.60" y2="576.73" stroke="#222" stroke-width="0.6"/>
<text x="385.40" y="579.70" font-size="8.3" text-anchor="end">scBRCA1</text>
<text x="171.0" y="631.53" font-size="7.9" text-anchor="middle" fill="#111">Average log<tspan font-size="5.3" dy="1.8">2</tspan><tspan dy="-1.8"> fold change</tspan></text>
<text x="171.0" y="643.73" font-size="7.9" text-anchor="middle" fill="#111">(PTGER4<tspan font-size="5.3" dy="-3">hi/lo</tspan><tspan dy="3">)</tspan></text>
<defs><linearGradient id="hg1"><stop offset="0.000" stop-color="#1d1d7c"/><stop offset="0.250" stop-color="#283a98"/><stop offset="0.460" stop-color="#3d5ab0"/><stop offset="0.492" stop-color="#c8d0ea"/><stop offset="0.500" stop-color="#ffffff"/><stop offset="0.508" stop-color="#fde070"/><stop offset="0.530" stop-color="#fbb41a"/><stop offset="0.650" stop-color="#f88a22"/><stop offset="0.800" stop-color="#f66a30"/><stop offset="1.000" stop-color="#e83a48"/></linearGradient></defs>
<rect x="122.00" y="647.50" width="100.00" height="4.60" fill="url(#hg1)"/>
<line x1="122.00" y1="647.50" x2="122.00" y2="648.70" stroke="#fff" stroke-width="0.6"/>
<line x1="122.00" y1="650.90" x2="122.00" y2="652.10" stroke="#fff" stroke-width="0.6"/>
<text x="122.00" y="661.03" font-size="7.9" text-anchor="middle" fill="#111">−4</text>
<line x1="147.00" y1="647.50" x2="147.00" y2="648.70" stroke="#fff" stroke-width="0.6"/>
<line x1="147.00" y1="650.90" x2="147.00" y2="652.10" stroke="#fff" stroke-width="0.6"/>
<text x="147.00" y="661.03" font-size="7.9" text-anchor="middle" fill="#111">−2</text>
<line x1="172.00" y1="647.50" x2="172.00" y2="648.70" stroke="#fff" stroke-width="0.6"/>
<line x1="172.00" y1="650.90" x2="172.00" y2="652.10" stroke="#fff" stroke-width="0.6"/>
<text x="172.00" y="661.03" font-size="7.9" text-anchor="middle" fill="#111">0</text>
<line x1="197.00" y1="647.50" x2="197.00" y2="648.70" stroke="#fff" stroke-width="0.6"/>
<line x1="197.00" y1="650.90" x2="197.00" y2="652.10" stroke="#fff" stroke-width="0.6"/>
<text x="197.00" y="661.03" font-size="7.9" text-anchor="middle" fill="#111">2</text>
<line x1="222.00" y1="647.50" x2="222.00" y2="648.70" stroke="#fff" stroke-width="0.6"/>
<line x1="222.00" y1="650.90" x2="222.00" y2="652.10" stroke="#fff" stroke-width="0.6"/>
<text x="222.00" y="661.03" font-size="7.9" text-anchor="middle" fill="#111">4</text>
<text x="520.0" y="631.53" font-size="7.9" text-anchor="middle" fill="#111">Average log<tspan font-size="5.3" dy="1.8">2</tspan><tspan dy="-1.8"> fold change</tspan></text>
<text x="520.0" y="643.73" font-size="7.9" text-anchor="middle" fill="#111">(PTGER4<tspan font-size="5.3" dy="-3">hi/lo</tspan><tspan dy="3">)</tspan></text>
<defs><linearGradient id="hg2"><stop offset="0.000" stop-color="#1d1d7c"/><stop offset="0.200" stop-color="#283a98"/><stop offset="0.433" stop-color="#3d5ab0"/><stop offset="0.483" stop-color="#c8d0ea"/><stop offset="0.493" stop-color="#ffffff"/><stop offset="0.503" stop-color="#fde070"/><stop offset="0.543" stop-color="#fbb41a"/><stop offset="0.693" stop-color="#f88a22"/><stop offset="0.843" stop-color="#f66a30"/><stop offset="1.000" stop-color="#e83a48"/></linearGradient></defs>
<rect x="471.20" y="647.50" width="99.30" height="4.60" fill="url(#hg2)"/>
<line x1="479.86" y1="647.50" x2="479.86" y2="648.70" stroke="#fff" stroke-width="0.6"/>
<line x1="479.86" y1="650.90" x2="479.86" y2="652.10" stroke="#fff" stroke-width="0.6"/>
<text x="479.86" y="661.03" font-size="7.9" text-anchor="middle" fill="#111">−2</text>
<line x1="500.00" y1="647.50" x2="500.00" y2="648.70" stroke="#fff" stroke-width="0.6"/>
<line x1="500.00" y1="650.90" x2="500.00" y2="652.10" stroke="#fff" stroke-width="0.6"/>
<text x="500.00" y="661.03" font-size="7.9" text-anchor="middle" fill="#111">−1</text>
<line x1="520.15" y1="647.50" x2="520.15" y2="648.70" stroke="#fff" stroke-width="0.6"/>
<line x1="520.15" y1="650.90" x2="520.15" y2="652.10" stroke="#fff" stroke-width="0.6"/>
<text x="520.15" y="661.03" font-size="7.9" text-anchor="middle" fill="#111">0</text>
<line x1="540.29" y1="647.50" x2="540.29" y2="648.70" stroke="#fff" stroke-width="0.6"/>
<line x1="540.29" y1="650.90" x2="540.29" y2="652.10" stroke="#fff" stroke-width="0.6"/>
<text x="540.29" y="661.03" font-size="7.9" text-anchor="middle" fill="#111">1</text>
<line x1="560.43" y1="647.50" x2="560.43" y2="648.70" stroke="#fff" stroke-width="0.6"/>
<line x1="560.43" y1="650.90" x2="560.43" y2="652.10" stroke="#fff" stroke-width="0.6"/>
<text x="560.43" y="661.03" font-size="7.9" text-anchor="middle" fill="#111">2</text>
</svg></body></html>
